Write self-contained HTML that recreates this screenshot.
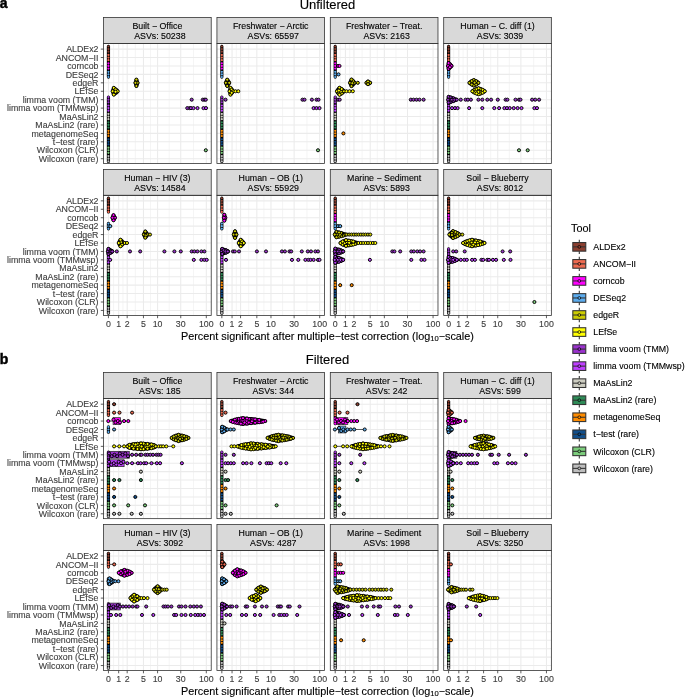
<!DOCTYPE html>
<html><head><meta charset="utf-8"><style>
html,body{margin:0;padding:0;background:#fff;width:685px;height:697px;overflow:hidden}
svg{display:block;font-family:"Liberation Sans",sans-serif;will-change:transform;filter:blur(0.3px)}
</style></head><body>
<svg width="685" height="697" viewBox="0 0 685 697" font-family="Liberation Sans, sans-serif">
<rect width="685" height="697" fill="#fff"/>
<text x="-0.3" y="7.9" font-size="14" font-weight="bold" fill="#000" stroke="#000" stroke-width="0.45">a</text>
<text x="-0.3" y="363.60" font-size="14" font-weight="bold" fill="#000" stroke="#000" stroke-width="0.45">b</text>
<text x="327.45" y="9.1" text-anchor="middle" font-size="13.0" fill="#000" stroke="#000" stroke-width="0.12">Unfiltered</text>
<text x="327.45" y="364.20" text-anchor="middle" font-size="13.0" fill="#000" stroke="#000" stroke-width="0.12">Filtered</text>
<rect x="103.55" y="43.45" width="107.67" height="120.10" fill="#fff"/>
<line x1="113.56" y1="43.45" x2="113.56" y2="163.55" stroke="#EBEBEB" stroke-width="0.55"/>
<line x1="122.93" y1="43.45" x2="122.93" y2="163.55" stroke="#EBEBEB" stroke-width="0.55"/>
<line x1="135.32" y1="43.45" x2="135.32" y2="163.55" stroke="#EBEBEB" stroke-width="0.55"/>
<line x1="150.52" y1="43.45" x2="150.52" y2="163.55" stroke="#EBEBEB" stroke-width="0.55"/>
<line x1="169.17" y1="43.45" x2="169.17" y2="163.55" stroke="#EBEBEB" stroke-width="0.55"/>
<line x1="193.53" y1="43.45" x2="193.53" y2="163.55" stroke="#EBEBEB" stroke-width="0.55"/>
<line x1="103.55" y1="49.10" x2="211.22" y2="49.10" stroke="#EBEBEB" stroke-width="1.07"/>
<line x1="103.55" y1="57.53" x2="211.22" y2="57.53" stroke="#EBEBEB" stroke-width="1.07"/>
<line x1="103.55" y1="65.96" x2="211.22" y2="65.96" stroke="#EBEBEB" stroke-width="1.07"/>
<line x1="103.55" y1="74.39" x2="211.22" y2="74.39" stroke="#EBEBEB" stroke-width="1.07"/>
<line x1="103.55" y1="82.82" x2="211.22" y2="82.82" stroke="#EBEBEB" stroke-width="1.07"/>
<line x1="103.55" y1="91.25" x2="211.22" y2="91.25" stroke="#EBEBEB" stroke-width="1.07"/>
<line x1="103.55" y1="99.68" x2="211.22" y2="99.68" stroke="#EBEBEB" stroke-width="1.07"/>
<line x1="103.55" y1="108.11" x2="211.22" y2="108.11" stroke="#EBEBEB" stroke-width="1.07"/>
<line x1="103.55" y1="116.54" x2="211.22" y2="116.54" stroke="#EBEBEB" stroke-width="1.07"/>
<line x1="103.55" y1="124.97" x2="211.22" y2="124.97" stroke="#EBEBEB" stroke-width="1.07"/>
<line x1="103.55" y1="133.40" x2="211.22" y2="133.40" stroke="#EBEBEB" stroke-width="1.07"/>
<line x1="103.55" y1="141.83" x2="211.22" y2="141.83" stroke="#EBEBEB" stroke-width="1.07"/>
<line x1="103.55" y1="150.26" x2="211.22" y2="150.26" stroke="#EBEBEB" stroke-width="1.07"/>
<line x1="103.55" y1="158.69" x2="211.22" y2="158.69" stroke="#EBEBEB" stroke-width="1.07"/>
<line x1="108.45" y1="43.45" x2="108.45" y2="163.55" stroke="#EBEBEB" stroke-width="1.07"/>
<line x1="118.68" y1="43.45" x2="118.68" y2="163.55" stroke="#EBEBEB" stroke-width="1.07"/>
<line x1="127.18" y1="43.45" x2="127.18" y2="163.55" stroke="#EBEBEB" stroke-width="1.07"/>
<line x1="143.45" y1="43.45" x2="143.45" y2="163.55" stroke="#EBEBEB" stroke-width="1.07"/>
<line x1="157.59" y1="43.45" x2="157.59" y2="163.55" stroke="#EBEBEB" stroke-width="1.07"/>
<line x1="180.75" y1="43.45" x2="180.75" y2="163.55" stroke="#EBEBEB" stroke-width="1.07"/>
<line x1="206.31" y1="43.45" x2="206.31" y2="163.55" stroke="#EBEBEB" stroke-width="1.07"/>
<rect x="103.55" y="17.45" width="107.67" height="25.95" fill="#D9D9D9" stroke="#333" stroke-width="0.8"/>
<text x="157.38" y="29.20" text-anchor="middle" font-size="8.8" fill="#000" stroke="#000" stroke-width="0.12">Built − Office</text>
<text x="159.88" y="38.60" text-anchor="middle" font-size="8.8" fill="#000" stroke="#000" stroke-width="0.12">ASVs: 50238</text>
<rect x="216.93" y="43.45" width="107.67" height="120.10" fill="#fff"/>
<line x1="226.94" y1="43.45" x2="226.94" y2="163.55" stroke="#EBEBEB" stroke-width="0.55"/>
<line x1="236.31" y1="43.45" x2="236.31" y2="163.55" stroke="#EBEBEB" stroke-width="0.55"/>
<line x1="248.70" y1="43.45" x2="248.70" y2="163.55" stroke="#EBEBEB" stroke-width="0.55"/>
<line x1="263.90" y1="43.45" x2="263.90" y2="163.55" stroke="#EBEBEB" stroke-width="0.55"/>
<line x1="282.55" y1="43.45" x2="282.55" y2="163.55" stroke="#EBEBEB" stroke-width="0.55"/>
<line x1="306.91" y1="43.45" x2="306.91" y2="163.55" stroke="#EBEBEB" stroke-width="0.55"/>
<line x1="216.93" y1="49.10" x2="324.60" y2="49.10" stroke="#EBEBEB" stroke-width="1.07"/>
<line x1="216.93" y1="57.53" x2="324.60" y2="57.53" stroke="#EBEBEB" stroke-width="1.07"/>
<line x1="216.93" y1="65.96" x2="324.60" y2="65.96" stroke="#EBEBEB" stroke-width="1.07"/>
<line x1="216.93" y1="74.39" x2="324.60" y2="74.39" stroke="#EBEBEB" stroke-width="1.07"/>
<line x1="216.93" y1="82.82" x2="324.60" y2="82.82" stroke="#EBEBEB" stroke-width="1.07"/>
<line x1="216.93" y1="91.25" x2="324.60" y2="91.25" stroke="#EBEBEB" stroke-width="1.07"/>
<line x1="216.93" y1="99.68" x2="324.60" y2="99.68" stroke="#EBEBEB" stroke-width="1.07"/>
<line x1="216.93" y1="108.11" x2="324.60" y2="108.11" stroke="#EBEBEB" stroke-width="1.07"/>
<line x1="216.93" y1="116.54" x2="324.60" y2="116.54" stroke="#EBEBEB" stroke-width="1.07"/>
<line x1="216.93" y1="124.97" x2="324.60" y2="124.97" stroke="#EBEBEB" stroke-width="1.07"/>
<line x1="216.93" y1="133.40" x2="324.60" y2="133.40" stroke="#EBEBEB" stroke-width="1.07"/>
<line x1="216.93" y1="141.83" x2="324.60" y2="141.83" stroke="#EBEBEB" stroke-width="1.07"/>
<line x1="216.93" y1="150.26" x2="324.60" y2="150.26" stroke="#EBEBEB" stroke-width="1.07"/>
<line x1="216.93" y1="158.69" x2="324.60" y2="158.69" stroke="#EBEBEB" stroke-width="1.07"/>
<line x1="221.83" y1="43.45" x2="221.83" y2="163.55" stroke="#EBEBEB" stroke-width="1.07"/>
<line x1="232.06" y1="43.45" x2="232.06" y2="163.55" stroke="#EBEBEB" stroke-width="1.07"/>
<line x1="240.56" y1="43.45" x2="240.56" y2="163.55" stroke="#EBEBEB" stroke-width="1.07"/>
<line x1="256.83" y1="43.45" x2="256.83" y2="163.55" stroke="#EBEBEB" stroke-width="1.07"/>
<line x1="270.97" y1="43.45" x2="270.97" y2="163.55" stroke="#EBEBEB" stroke-width="1.07"/>
<line x1="294.13" y1="43.45" x2="294.13" y2="163.55" stroke="#EBEBEB" stroke-width="1.07"/>
<line x1="319.69" y1="43.45" x2="319.69" y2="163.55" stroke="#EBEBEB" stroke-width="1.07"/>
<rect x="216.93" y="17.45" width="107.67" height="25.95" fill="#D9D9D9" stroke="#333" stroke-width="0.8"/>
<text x="270.76" y="29.20" text-anchor="middle" font-size="8.8" fill="#000" stroke="#000" stroke-width="0.12">Freshwater − Arctic</text>
<text x="273.26" y="38.60" text-anchor="middle" font-size="8.8" fill="#000" stroke="#000" stroke-width="0.12">ASVs: 65597</text>
<rect x="330.31" y="43.45" width="107.67" height="120.10" fill="#fff"/>
<line x1="340.32" y1="43.45" x2="340.32" y2="163.55" stroke="#EBEBEB" stroke-width="0.55"/>
<line x1="349.69" y1="43.45" x2="349.69" y2="163.55" stroke="#EBEBEB" stroke-width="0.55"/>
<line x1="362.08" y1="43.45" x2="362.08" y2="163.55" stroke="#EBEBEB" stroke-width="0.55"/>
<line x1="377.28" y1="43.45" x2="377.28" y2="163.55" stroke="#EBEBEB" stroke-width="0.55"/>
<line x1="395.93" y1="43.45" x2="395.93" y2="163.55" stroke="#EBEBEB" stroke-width="0.55"/>
<line x1="420.29" y1="43.45" x2="420.29" y2="163.55" stroke="#EBEBEB" stroke-width="0.55"/>
<line x1="330.31" y1="49.10" x2="437.98" y2="49.10" stroke="#EBEBEB" stroke-width="1.07"/>
<line x1="330.31" y1="57.53" x2="437.98" y2="57.53" stroke="#EBEBEB" stroke-width="1.07"/>
<line x1="330.31" y1="65.96" x2="437.98" y2="65.96" stroke="#EBEBEB" stroke-width="1.07"/>
<line x1="330.31" y1="74.39" x2="437.98" y2="74.39" stroke="#EBEBEB" stroke-width="1.07"/>
<line x1="330.31" y1="82.82" x2="437.98" y2="82.82" stroke="#EBEBEB" stroke-width="1.07"/>
<line x1="330.31" y1="91.25" x2="437.98" y2="91.25" stroke="#EBEBEB" stroke-width="1.07"/>
<line x1="330.31" y1="99.68" x2="437.98" y2="99.68" stroke="#EBEBEB" stroke-width="1.07"/>
<line x1="330.31" y1="108.11" x2="437.98" y2="108.11" stroke="#EBEBEB" stroke-width="1.07"/>
<line x1="330.31" y1="116.54" x2="437.98" y2="116.54" stroke="#EBEBEB" stroke-width="1.07"/>
<line x1="330.31" y1="124.97" x2="437.98" y2="124.97" stroke="#EBEBEB" stroke-width="1.07"/>
<line x1="330.31" y1="133.40" x2="437.98" y2="133.40" stroke="#EBEBEB" stroke-width="1.07"/>
<line x1="330.31" y1="141.83" x2="437.98" y2="141.83" stroke="#EBEBEB" stroke-width="1.07"/>
<line x1="330.31" y1="150.26" x2="437.98" y2="150.26" stroke="#EBEBEB" stroke-width="1.07"/>
<line x1="330.31" y1="158.69" x2="437.98" y2="158.69" stroke="#EBEBEB" stroke-width="1.07"/>
<line x1="335.21" y1="43.45" x2="335.21" y2="163.55" stroke="#EBEBEB" stroke-width="1.07"/>
<line x1="345.44" y1="43.45" x2="345.44" y2="163.55" stroke="#EBEBEB" stroke-width="1.07"/>
<line x1="353.94" y1="43.45" x2="353.94" y2="163.55" stroke="#EBEBEB" stroke-width="1.07"/>
<line x1="370.21" y1="43.45" x2="370.21" y2="163.55" stroke="#EBEBEB" stroke-width="1.07"/>
<line x1="384.35" y1="43.45" x2="384.35" y2="163.55" stroke="#EBEBEB" stroke-width="1.07"/>
<line x1="407.51" y1="43.45" x2="407.51" y2="163.55" stroke="#EBEBEB" stroke-width="1.07"/>
<line x1="433.07" y1="43.45" x2="433.07" y2="163.55" stroke="#EBEBEB" stroke-width="1.07"/>
<rect x="330.31" y="17.45" width="107.67" height="25.95" fill="#D9D9D9" stroke="#333" stroke-width="0.8"/>
<text x="384.14" y="29.20" text-anchor="middle" font-size="8.8" fill="#000" stroke="#000" stroke-width="0.12">Freshwater − Treat.</text>
<text x="386.64" y="38.60" text-anchor="middle" font-size="8.8" fill="#000" stroke="#000" stroke-width="0.12">ASVs: 2163</text>
<rect x="443.69" y="43.45" width="107.67" height="120.10" fill="#fff"/>
<line x1="453.70" y1="43.45" x2="453.70" y2="163.55" stroke="#EBEBEB" stroke-width="0.55"/>
<line x1="463.07" y1="43.45" x2="463.07" y2="163.55" stroke="#EBEBEB" stroke-width="0.55"/>
<line x1="475.46" y1="43.45" x2="475.46" y2="163.55" stroke="#EBEBEB" stroke-width="0.55"/>
<line x1="490.66" y1="43.45" x2="490.66" y2="163.55" stroke="#EBEBEB" stroke-width="0.55"/>
<line x1="509.31" y1="43.45" x2="509.31" y2="163.55" stroke="#EBEBEB" stroke-width="0.55"/>
<line x1="533.67" y1="43.45" x2="533.67" y2="163.55" stroke="#EBEBEB" stroke-width="0.55"/>
<line x1="443.69" y1="49.10" x2="551.36" y2="49.10" stroke="#EBEBEB" stroke-width="1.07"/>
<line x1="443.69" y1="57.53" x2="551.36" y2="57.53" stroke="#EBEBEB" stroke-width="1.07"/>
<line x1="443.69" y1="65.96" x2="551.36" y2="65.96" stroke="#EBEBEB" stroke-width="1.07"/>
<line x1="443.69" y1="74.39" x2="551.36" y2="74.39" stroke="#EBEBEB" stroke-width="1.07"/>
<line x1="443.69" y1="82.82" x2="551.36" y2="82.82" stroke="#EBEBEB" stroke-width="1.07"/>
<line x1="443.69" y1="91.25" x2="551.36" y2="91.25" stroke="#EBEBEB" stroke-width="1.07"/>
<line x1="443.69" y1="99.68" x2="551.36" y2="99.68" stroke="#EBEBEB" stroke-width="1.07"/>
<line x1="443.69" y1="108.11" x2="551.36" y2="108.11" stroke="#EBEBEB" stroke-width="1.07"/>
<line x1="443.69" y1="116.54" x2="551.36" y2="116.54" stroke="#EBEBEB" stroke-width="1.07"/>
<line x1="443.69" y1="124.97" x2="551.36" y2="124.97" stroke="#EBEBEB" stroke-width="1.07"/>
<line x1="443.69" y1="133.40" x2="551.36" y2="133.40" stroke="#EBEBEB" stroke-width="1.07"/>
<line x1="443.69" y1="141.83" x2="551.36" y2="141.83" stroke="#EBEBEB" stroke-width="1.07"/>
<line x1="443.69" y1="150.26" x2="551.36" y2="150.26" stroke="#EBEBEB" stroke-width="1.07"/>
<line x1="443.69" y1="158.69" x2="551.36" y2="158.69" stroke="#EBEBEB" stroke-width="1.07"/>
<line x1="448.59" y1="43.45" x2="448.59" y2="163.55" stroke="#EBEBEB" stroke-width="1.07"/>
<line x1="458.82" y1="43.45" x2="458.82" y2="163.55" stroke="#EBEBEB" stroke-width="1.07"/>
<line x1="467.32" y1="43.45" x2="467.32" y2="163.55" stroke="#EBEBEB" stroke-width="1.07"/>
<line x1="483.59" y1="43.45" x2="483.59" y2="163.55" stroke="#EBEBEB" stroke-width="1.07"/>
<line x1="497.73" y1="43.45" x2="497.73" y2="163.55" stroke="#EBEBEB" stroke-width="1.07"/>
<line x1="520.89" y1="43.45" x2="520.89" y2="163.55" stroke="#EBEBEB" stroke-width="1.07"/>
<line x1="546.45" y1="43.45" x2="546.45" y2="163.55" stroke="#EBEBEB" stroke-width="1.07"/>
<rect x="443.69" y="17.45" width="107.67" height="25.95" fill="#D9D9D9" stroke="#333" stroke-width="0.8"/>
<text x="497.52" y="29.20" text-anchor="middle" font-size="8.8" fill="#000" stroke="#000" stroke-width="0.12">Human − C. diff (1)</text>
<text x="500.02" y="38.60" text-anchor="middle" font-size="8.8" fill="#000" stroke="#000" stroke-width="0.12">ASVs: 3039</text>
<rect x="103.55" y="195.30" width="107.67" height="120.15" fill="#fff"/>
<line x1="113.56" y1="195.30" x2="113.56" y2="315.45" stroke="#EBEBEB" stroke-width="0.55"/>
<line x1="122.93" y1="195.30" x2="122.93" y2="315.45" stroke="#EBEBEB" stroke-width="0.55"/>
<line x1="135.32" y1="195.30" x2="135.32" y2="315.45" stroke="#EBEBEB" stroke-width="0.55"/>
<line x1="150.52" y1="195.30" x2="150.52" y2="315.45" stroke="#EBEBEB" stroke-width="0.55"/>
<line x1="169.17" y1="195.30" x2="169.17" y2="315.45" stroke="#EBEBEB" stroke-width="0.55"/>
<line x1="193.53" y1="195.30" x2="193.53" y2="315.45" stroke="#EBEBEB" stroke-width="0.55"/>
<line x1="103.55" y1="200.85" x2="211.22" y2="200.85" stroke="#EBEBEB" stroke-width="1.07"/>
<line x1="103.55" y1="209.28" x2="211.22" y2="209.28" stroke="#EBEBEB" stroke-width="1.07"/>
<line x1="103.55" y1="217.71" x2="211.22" y2="217.71" stroke="#EBEBEB" stroke-width="1.07"/>
<line x1="103.55" y1="226.14" x2="211.22" y2="226.14" stroke="#EBEBEB" stroke-width="1.07"/>
<line x1="103.55" y1="234.57" x2="211.22" y2="234.57" stroke="#EBEBEB" stroke-width="1.07"/>
<line x1="103.55" y1="243.00" x2="211.22" y2="243.00" stroke="#EBEBEB" stroke-width="1.07"/>
<line x1="103.55" y1="251.43" x2="211.22" y2="251.43" stroke="#EBEBEB" stroke-width="1.07"/>
<line x1="103.55" y1="259.86" x2="211.22" y2="259.86" stroke="#EBEBEB" stroke-width="1.07"/>
<line x1="103.55" y1="268.29" x2="211.22" y2="268.29" stroke="#EBEBEB" stroke-width="1.07"/>
<line x1="103.55" y1="276.72" x2="211.22" y2="276.72" stroke="#EBEBEB" stroke-width="1.07"/>
<line x1="103.55" y1="285.15" x2="211.22" y2="285.15" stroke="#EBEBEB" stroke-width="1.07"/>
<line x1="103.55" y1="293.58" x2="211.22" y2="293.58" stroke="#EBEBEB" stroke-width="1.07"/>
<line x1="103.55" y1="302.01" x2="211.22" y2="302.01" stroke="#EBEBEB" stroke-width="1.07"/>
<line x1="103.55" y1="310.44" x2="211.22" y2="310.44" stroke="#EBEBEB" stroke-width="1.07"/>
<line x1="108.45" y1="195.30" x2="108.45" y2="315.45" stroke="#EBEBEB" stroke-width="1.07"/>
<line x1="118.68" y1="195.30" x2="118.68" y2="315.45" stroke="#EBEBEB" stroke-width="1.07"/>
<line x1="127.18" y1="195.30" x2="127.18" y2="315.45" stroke="#EBEBEB" stroke-width="1.07"/>
<line x1="143.45" y1="195.30" x2="143.45" y2="315.45" stroke="#EBEBEB" stroke-width="1.07"/>
<line x1="157.59" y1="195.30" x2="157.59" y2="315.45" stroke="#EBEBEB" stroke-width="1.07"/>
<line x1="180.75" y1="195.30" x2="180.75" y2="315.45" stroke="#EBEBEB" stroke-width="1.07"/>
<line x1="206.31" y1="195.30" x2="206.31" y2="315.45" stroke="#EBEBEB" stroke-width="1.07"/>
<rect x="103.55" y="169.40" width="107.67" height="25.95" fill="#D9D9D9" stroke="#333" stroke-width="0.8"/>
<text x="157.38" y="181.15" text-anchor="middle" font-size="8.8" fill="#000" stroke="#000" stroke-width="0.12">Human − HIV (3)</text>
<text x="159.88" y="190.55" text-anchor="middle" font-size="8.8" fill="#000" stroke="#000" stroke-width="0.12">ASVs: 14584</text>
<rect x="216.93" y="195.30" width="107.67" height="120.15" fill="#fff"/>
<line x1="226.94" y1="195.30" x2="226.94" y2="315.45" stroke="#EBEBEB" stroke-width="0.55"/>
<line x1="236.31" y1="195.30" x2="236.31" y2="315.45" stroke="#EBEBEB" stroke-width="0.55"/>
<line x1="248.70" y1="195.30" x2="248.70" y2="315.45" stroke="#EBEBEB" stroke-width="0.55"/>
<line x1="263.90" y1="195.30" x2="263.90" y2="315.45" stroke="#EBEBEB" stroke-width="0.55"/>
<line x1="282.55" y1="195.30" x2="282.55" y2="315.45" stroke="#EBEBEB" stroke-width="0.55"/>
<line x1="306.91" y1="195.30" x2="306.91" y2="315.45" stroke="#EBEBEB" stroke-width="0.55"/>
<line x1="216.93" y1="200.85" x2="324.60" y2="200.85" stroke="#EBEBEB" stroke-width="1.07"/>
<line x1="216.93" y1="209.28" x2="324.60" y2="209.28" stroke="#EBEBEB" stroke-width="1.07"/>
<line x1="216.93" y1="217.71" x2="324.60" y2="217.71" stroke="#EBEBEB" stroke-width="1.07"/>
<line x1="216.93" y1="226.14" x2="324.60" y2="226.14" stroke="#EBEBEB" stroke-width="1.07"/>
<line x1="216.93" y1="234.57" x2="324.60" y2="234.57" stroke="#EBEBEB" stroke-width="1.07"/>
<line x1="216.93" y1="243.00" x2="324.60" y2="243.00" stroke="#EBEBEB" stroke-width="1.07"/>
<line x1="216.93" y1="251.43" x2="324.60" y2="251.43" stroke="#EBEBEB" stroke-width="1.07"/>
<line x1="216.93" y1="259.86" x2="324.60" y2="259.86" stroke="#EBEBEB" stroke-width="1.07"/>
<line x1="216.93" y1="268.29" x2="324.60" y2="268.29" stroke="#EBEBEB" stroke-width="1.07"/>
<line x1="216.93" y1="276.72" x2="324.60" y2="276.72" stroke="#EBEBEB" stroke-width="1.07"/>
<line x1="216.93" y1="285.15" x2="324.60" y2="285.15" stroke="#EBEBEB" stroke-width="1.07"/>
<line x1="216.93" y1="293.58" x2="324.60" y2="293.58" stroke="#EBEBEB" stroke-width="1.07"/>
<line x1="216.93" y1="302.01" x2="324.60" y2="302.01" stroke="#EBEBEB" stroke-width="1.07"/>
<line x1="216.93" y1="310.44" x2="324.60" y2="310.44" stroke="#EBEBEB" stroke-width="1.07"/>
<line x1="221.83" y1="195.30" x2="221.83" y2="315.45" stroke="#EBEBEB" stroke-width="1.07"/>
<line x1="232.06" y1="195.30" x2="232.06" y2="315.45" stroke="#EBEBEB" stroke-width="1.07"/>
<line x1="240.56" y1="195.30" x2="240.56" y2="315.45" stroke="#EBEBEB" stroke-width="1.07"/>
<line x1="256.83" y1="195.30" x2="256.83" y2="315.45" stroke="#EBEBEB" stroke-width="1.07"/>
<line x1="270.97" y1="195.30" x2="270.97" y2="315.45" stroke="#EBEBEB" stroke-width="1.07"/>
<line x1="294.13" y1="195.30" x2="294.13" y2="315.45" stroke="#EBEBEB" stroke-width="1.07"/>
<line x1="319.69" y1="195.30" x2="319.69" y2="315.45" stroke="#EBEBEB" stroke-width="1.07"/>
<rect x="216.93" y="169.40" width="107.67" height="25.95" fill="#D9D9D9" stroke="#333" stroke-width="0.8"/>
<text x="270.76" y="181.15" text-anchor="middle" font-size="8.8" fill="#000" stroke="#000" stroke-width="0.12">Human − OB (1)</text>
<text x="273.26" y="190.55" text-anchor="middle" font-size="8.8" fill="#000" stroke="#000" stroke-width="0.12">ASVs: 55929</text>
<rect x="330.31" y="195.30" width="107.67" height="120.15" fill="#fff"/>
<line x1="340.32" y1="195.30" x2="340.32" y2="315.45" stroke="#EBEBEB" stroke-width="0.55"/>
<line x1="349.69" y1="195.30" x2="349.69" y2="315.45" stroke="#EBEBEB" stroke-width="0.55"/>
<line x1="362.08" y1="195.30" x2="362.08" y2="315.45" stroke="#EBEBEB" stroke-width="0.55"/>
<line x1="377.28" y1="195.30" x2="377.28" y2="315.45" stroke="#EBEBEB" stroke-width="0.55"/>
<line x1="395.93" y1="195.30" x2="395.93" y2="315.45" stroke="#EBEBEB" stroke-width="0.55"/>
<line x1="420.29" y1="195.30" x2="420.29" y2="315.45" stroke="#EBEBEB" stroke-width="0.55"/>
<line x1="330.31" y1="200.85" x2="437.98" y2="200.85" stroke="#EBEBEB" stroke-width="1.07"/>
<line x1="330.31" y1="209.28" x2="437.98" y2="209.28" stroke="#EBEBEB" stroke-width="1.07"/>
<line x1="330.31" y1="217.71" x2="437.98" y2="217.71" stroke="#EBEBEB" stroke-width="1.07"/>
<line x1="330.31" y1="226.14" x2="437.98" y2="226.14" stroke="#EBEBEB" stroke-width="1.07"/>
<line x1="330.31" y1="234.57" x2="437.98" y2="234.57" stroke="#EBEBEB" stroke-width="1.07"/>
<line x1="330.31" y1="243.00" x2="437.98" y2="243.00" stroke="#EBEBEB" stroke-width="1.07"/>
<line x1="330.31" y1="251.43" x2="437.98" y2="251.43" stroke="#EBEBEB" stroke-width="1.07"/>
<line x1="330.31" y1="259.86" x2="437.98" y2="259.86" stroke="#EBEBEB" stroke-width="1.07"/>
<line x1="330.31" y1="268.29" x2="437.98" y2="268.29" stroke="#EBEBEB" stroke-width="1.07"/>
<line x1="330.31" y1="276.72" x2="437.98" y2="276.72" stroke="#EBEBEB" stroke-width="1.07"/>
<line x1="330.31" y1="285.15" x2="437.98" y2="285.15" stroke="#EBEBEB" stroke-width="1.07"/>
<line x1="330.31" y1="293.58" x2="437.98" y2="293.58" stroke="#EBEBEB" stroke-width="1.07"/>
<line x1="330.31" y1="302.01" x2="437.98" y2="302.01" stroke="#EBEBEB" stroke-width="1.07"/>
<line x1="330.31" y1="310.44" x2="437.98" y2="310.44" stroke="#EBEBEB" stroke-width="1.07"/>
<line x1="335.21" y1="195.30" x2="335.21" y2="315.45" stroke="#EBEBEB" stroke-width="1.07"/>
<line x1="345.44" y1="195.30" x2="345.44" y2="315.45" stroke="#EBEBEB" stroke-width="1.07"/>
<line x1="353.94" y1="195.30" x2="353.94" y2="315.45" stroke="#EBEBEB" stroke-width="1.07"/>
<line x1="370.21" y1="195.30" x2="370.21" y2="315.45" stroke="#EBEBEB" stroke-width="1.07"/>
<line x1="384.35" y1="195.30" x2="384.35" y2="315.45" stroke="#EBEBEB" stroke-width="1.07"/>
<line x1="407.51" y1="195.30" x2="407.51" y2="315.45" stroke="#EBEBEB" stroke-width="1.07"/>
<line x1="433.07" y1="195.30" x2="433.07" y2="315.45" stroke="#EBEBEB" stroke-width="1.07"/>
<rect x="330.31" y="169.40" width="107.67" height="25.95" fill="#D9D9D9" stroke="#333" stroke-width="0.8"/>
<text x="384.14" y="181.15" text-anchor="middle" font-size="8.8" fill="#000" stroke="#000" stroke-width="0.12">Marine − Sediment</text>
<text x="386.64" y="190.55" text-anchor="middle" font-size="8.8" fill="#000" stroke="#000" stroke-width="0.12">ASVs: 5893</text>
<rect x="443.69" y="195.30" width="107.67" height="120.15" fill="#fff"/>
<line x1="453.70" y1="195.30" x2="453.70" y2="315.45" stroke="#EBEBEB" stroke-width="0.55"/>
<line x1="463.07" y1="195.30" x2="463.07" y2="315.45" stroke="#EBEBEB" stroke-width="0.55"/>
<line x1="475.46" y1="195.30" x2="475.46" y2="315.45" stroke="#EBEBEB" stroke-width="0.55"/>
<line x1="490.66" y1="195.30" x2="490.66" y2="315.45" stroke="#EBEBEB" stroke-width="0.55"/>
<line x1="509.31" y1="195.30" x2="509.31" y2="315.45" stroke="#EBEBEB" stroke-width="0.55"/>
<line x1="533.67" y1="195.30" x2="533.67" y2="315.45" stroke="#EBEBEB" stroke-width="0.55"/>
<line x1="443.69" y1="200.85" x2="551.36" y2="200.85" stroke="#EBEBEB" stroke-width="1.07"/>
<line x1="443.69" y1="209.28" x2="551.36" y2="209.28" stroke="#EBEBEB" stroke-width="1.07"/>
<line x1="443.69" y1="217.71" x2="551.36" y2="217.71" stroke="#EBEBEB" stroke-width="1.07"/>
<line x1="443.69" y1="226.14" x2="551.36" y2="226.14" stroke="#EBEBEB" stroke-width="1.07"/>
<line x1="443.69" y1="234.57" x2="551.36" y2="234.57" stroke="#EBEBEB" stroke-width="1.07"/>
<line x1="443.69" y1="243.00" x2="551.36" y2="243.00" stroke="#EBEBEB" stroke-width="1.07"/>
<line x1="443.69" y1="251.43" x2="551.36" y2="251.43" stroke="#EBEBEB" stroke-width="1.07"/>
<line x1="443.69" y1="259.86" x2="551.36" y2="259.86" stroke="#EBEBEB" stroke-width="1.07"/>
<line x1="443.69" y1="268.29" x2="551.36" y2="268.29" stroke="#EBEBEB" stroke-width="1.07"/>
<line x1="443.69" y1="276.72" x2="551.36" y2="276.72" stroke="#EBEBEB" stroke-width="1.07"/>
<line x1="443.69" y1="285.15" x2="551.36" y2="285.15" stroke="#EBEBEB" stroke-width="1.07"/>
<line x1="443.69" y1="293.58" x2="551.36" y2="293.58" stroke="#EBEBEB" stroke-width="1.07"/>
<line x1="443.69" y1="302.01" x2="551.36" y2="302.01" stroke="#EBEBEB" stroke-width="1.07"/>
<line x1="443.69" y1="310.44" x2="551.36" y2="310.44" stroke="#EBEBEB" stroke-width="1.07"/>
<line x1="448.59" y1="195.30" x2="448.59" y2="315.45" stroke="#EBEBEB" stroke-width="1.07"/>
<line x1="458.82" y1="195.30" x2="458.82" y2="315.45" stroke="#EBEBEB" stroke-width="1.07"/>
<line x1="467.32" y1="195.30" x2="467.32" y2="315.45" stroke="#EBEBEB" stroke-width="1.07"/>
<line x1="483.59" y1="195.30" x2="483.59" y2="315.45" stroke="#EBEBEB" stroke-width="1.07"/>
<line x1="497.73" y1="195.30" x2="497.73" y2="315.45" stroke="#EBEBEB" stroke-width="1.07"/>
<line x1="520.89" y1="195.30" x2="520.89" y2="315.45" stroke="#EBEBEB" stroke-width="1.07"/>
<line x1="546.45" y1="195.30" x2="546.45" y2="315.45" stroke="#EBEBEB" stroke-width="1.07"/>
<rect x="443.69" y="169.40" width="107.67" height="25.95" fill="#D9D9D9" stroke="#333" stroke-width="0.8"/>
<text x="497.52" y="181.15" text-anchor="middle" font-size="8.8" fill="#000" stroke="#000" stroke-width="0.12">Soil − Blueberry</text>
<text x="500.02" y="190.55" text-anchor="middle" font-size="8.8" fill="#000" stroke="#000" stroke-width="0.12">ASVs: 8012</text>
<rect x="106.85" y="44.80" width="3.2" height="33.89" rx="1.6" fill="#000"/>
<circle cx="108.45" cy="46.50" r="1.1" fill="#8B3E2F"/>
<circle cx="108.45" cy="49.10" r="1.1" fill="#8B3E2F"/>
<circle cx="108.45" cy="51.70" r="1.1" fill="#8B3E2F"/>
<circle cx="108.45" cy="54.93" r="1.1" fill="#EE6A50"/>
<circle cx="108.45" cy="57.53" r="1.1" fill="#EE6A50"/>
<circle cx="108.45" cy="60.13" r="1.1" fill="#EE6A50"/>
<circle cx="108.45" cy="63.36" r="1.1" fill="#FF00FF"/>
<circle cx="108.45" cy="65.96" r="1.1" fill="#FF00FF"/>
<circle cx="108.45" cy="68.56" r="1.1" fill="#FF00FF"/>
<circle cx="108.45" cy="71.79" r="1.1" fill="#5CACEE"/>
<circle cx="108.45" cy="74.39" r="1.1" fill="#5CACEE"/>
<circle cx="108.45" cy="76.99" r="1.1" fill="#5CACEE"/>
<rect x="106.85" y="95.38" width="3.2" height="67.61" rx="1.6" fill="#000"/>
<circle cx="108.45" cy="97.08" r="1.1" fill="#9A32CD"/>
<circle cx="108.45" cy="99.68" r="1.1" fill="#9A32CD"/>
<circle cx="108.45" cy="102.28" r="1.1" fill="#9A32CD"/>
<circle cx="108.45" cy="105.51" r="1.1" fill="#BF3EFF"/>
<circle cx="108.45" cy="108.11" r="1.1" fill="#BF3EFF"/>
<circle cx="108.45" cy="110.71" r="1.1" fill="#BF3EFF"/>
<circle cx="108.45" cy="113.94" r="1.1" fill="#CDCDC1"/>
<circle cx="108.45" cy="116.54" r="1.1" fill="#CDCDC1"/>
<circle cx="108.45" cy="119.14" r="1.1" fill="#CDCDC1"/>
<circle cx="108.45" cy="122.37" r="1.1" fill="#2E8B57"/>
<circle cx="108.45" cy="124.97" r="1.1" fill="#2E8B57"/>
<circle cx="108.45" cy="127.57" r="1.1" fill="#2E8B57"/>
<circle cx="108.45" cy="130.80" r="1.1" fill="#FF8C00"/>
<circle cx="108.45" cy="133.40" r="1.1" fill="#FF8C00"/>
<circle cx="108.45" cy="136.00" r="1.1" fill="#FF8C00"/>
<circle cx="108.45" cy="139.23" r="1.1" fill="#104E8B"/>
<circle cx="108.45" cy="141.83" r="1.1" fill="#104E8B"/>
<circle cx="108.45" cy="144.43" r="1.1" fill="#104E8B"/>
<circle cx="108.45" cy="147.66" r="1.1" fill="#7CCD7C"/>
<circle cx="108.45" cy="150.26" r="1.1" fill="#7CCD7C"/>
<circle cx="108.45" cy="152.86" r="1.1" fill="#7CCD7C"/>
<circle cx="108.45" cy="156.09" r="1.1" fill="#BEBEBE"/>
<circle cx="108.45" cy="158.69" r="1.1" fill="#BEBEBE"/>
<circle cx="108.45" cy="161.29" r="1.1" fill="#BEBEBE"/>
<polygon points="133.75,82.82 133.84,82.04 133.93,81.62 134.03,81.24 134.12,80.93 134.21,80.63 134.30,80.35 134.39,80.09 134.48,79.84 134.58,79.60 134.67,79.36 134.76,79.14 134.85,78.92 134.94,78.75 135.03,78.61 135.12,78.50 135.22,78.41 135.31,78.32 135.40,78.25 135.49,78.19 135.58,78.14 135.68,78.09 135.77,78.05 135.86,78.02 135.95,77.99 136.04,77.97 136.13,77.95 136.23,77.94 136.32,77.93 136.41,77.93 136.50,77.94 136.59,77.94 136.68,77.96 136.78,77.97 136.87,78.00 136.96,78.03 137.05,78.06 137.14,78.10 137.23,78.15 137.33,78.21 137.42,78.27 137.51,78.35 137.60,78.43 137.69,78.53 137.78,78.65 137.88,78.79 137.97,78.95 138.06,79.13 138.15,79.32 138.24,79.51 138.33,79.72 138.43,79.92 138.52,80.13 138.61,80.35 138.70,80.59 138.79,80.83 138.88,81.10 138.98,81.38 139.07,81.71 139.16,82.09 139.25,82.82 139.25,82.82 139.16,83.55 139.07,83.93 138.98,84.26 138.88,84.54 138.79,84.81 138.70,85.05 138.61,85.29 138.52,85.51 138.43,85.72 138.33,85.92 138.24,86.13 138.15,86.32 138.06,86.51 137.97,86.69 137.88,86.85 137.78,86.99 137.69,87.11 137.60,87.21 137.51,87.29 137.42,87.37 137.33,87.43 137.23,87.49 137.14,87.54 137.05,87.58 136.96,87.61 136.87,87.64 136.78,87.67 136.68,87.68 136.59,87.70 136.50,87.70 136.41,87.71 136.32,87.71 136.23,87.70 136.13,87.69 136.04,87.67 135.95,87.65 135.86,87.62 135.77,87.59 135.68,87.55 135.58,87.50 135.49,87.45 135.40,87.39 135.31,87.32 135.22,87.23 135.12,87.14 135.03,87.03 134.94,86.89 134.85,86.72 134.76,86.50 134.67,86.28 134.58,86.04 134.48,85.80 134.39,85.55 134.30,85.29 134.21,85.01 134.12,84.71 134.03,84.40 133.93,84.02 133.84,83.60 133.75,82.82" fill="#000"/>
<circle cx="137.55" cy="82.82" r="1.55" fill="#CDCD00" stroke="#000" stroke-width="0.95"/>
<circle cx="136.40" cy="79.62" r="1.55" fill="#CDCD00" stroke="#000" stroke-width="0.95"/>
<circle cx="136.40" cy="86.02" r="1.55" fill="#CDCD00" stroke="#000" stroke-width="0.95"/>
<circle cx="135.45" cy="82.82" r="1.55" fill="#CDCD00" stroke="#000" stroke-width="0.95"/>
<polygon points="110.95,91.25 111.09,90.32 111.23,89.78 111.37,89.33 111.51,88.93 111.65,88.56 111.79,88.22 111.93,87.90 112.07,87.58 112.21,87.29 112.35,87.02 112.49,86.84 112.63,86.69 112.77,86.58 112.91,86.49 113.05,86.41 113.19,86.35 113.33,86.31 113.47,86.28 113.61,86.26 113.75,86.25 113.89,86.26 114.03,86.27 114.17,86.28 114.31,86.31 114.45,86.35 114.59,86.41 114.73,86.48 114.87,86.56 115.01,86.65 115.15,86.74 115.29,86.83 115.43,86.92 115.57,87.01 115.71,87.10 115.85,87.19 115.99,87.29 116.13,87.38 116.27,87.48 116.41,87.58 116.55,87.68 116.69,87.79 116.83,87.89 116.97,88.00 117.11,88.11 117.25,88.22 117.39,88.34 117.53,88.46 117.67,88.58 117.81,88.70 117.95,88.83 118.09,88.97 118.23,89.11 118.37,89.26 118.51,89.43 118.65,89.59 118.79,89.78 118.93,89.99 119.07,90.24 119.21,90.57 119.35,91.25 119.35,91.25 119.21,91.93 119.07,92.26 118.93,92.51 118.79,92.72 118.65,92.91 118.51,93.07 118.37,93.24 118.23,93.39 118.09,93.53 117.95,93.67 117.81,93.80 117.67,93.92 117.53,94.04 117.39,94.16 117.25,94.28 117.11,94.39 116.97,94.50 116.83,94.61 116.69,94.71 116.55,94.82 116.41,94.92 116.27,95.02 116.13,95.12 115.99,95.21 115.85,95.31 115.71,95.40 115.57,95.49 115.43,95.58 115.29,95.67 115.15,95.76 115.01,95.85 114.87,95.94 114.73,96.02 114.59,96.09 114.45,96.15 114.31,96.19 114.17,96.22 114.03,96.23 113.89,96.24 113.75,96.25 113.61,96.24 113.47,96.22 113.33,96.19 113.19,96.15 113.05,96.09 112.91,96.01 112.77,95.92 112.63,95.81 112.49,95.66 112.35,95.48 112.21,95.21 112.07,94.92 111.93,94.60 111.79,94.28 111.65,93.94 111.51,93.57 111.37,93.17 111.23,92.72 111.09,92.18 110.95,91.25" fill="#000"/>
<circle cx="113.80" cy="87.90" r="1.55" fill="#FFFF00" stroke="#000" stroke-width="0.95"/>
<circle cx="115.65" cy="89.60" r="1.55" fill="#FFFF00" stroke="#000" stroke-width="0.95"/>
<circle cx="112.65" cy="91.25" r="1.55" fill="#FFFF00" stroke="#000" stroke-width="0.95"/>
<circle cx="117.65" cy="91.25" r="1.55" fill="#FFFF00" stroke="#000" stroke-width="0.95"/>
<circle cx="113.80" cy="94.60" r="1.55" fill="#FFFF00" stroke="#000" stroke-width="0.95"/>
<circle cx="115.55" cy="91.77" r="1.55" fill="#FFFF00" stroke="#000" stroke-width="0.95"/>
<circle cx="191.70" cy="99.68" r="1.55" fill="#9A32CD" stroke="#000" stroke-width="0.95"/>
<circle cx="202.80" cy="99.68" r="1.55" fill="#9A32CD" stroke="#000" stroke-width="0.95"/>
<circle cx="204.50" cy="99.68" r="1.55" fill="#9A32CD" stroke="#000" stroke-width="0.95"/>
<circle cx="205.80" cy="99.68" r="1.55" fill="#9A32CD" stroke="#000" stroke-width="0.95"/>
<circle cx="187.30" cy="108.11" r="1.55" fill="#BF3EFF" stroke="#000" stroke-width="0.95"/>
<circle cx="189.50" cy="108.11" r="1.55" fill="#BF3EFF" stroke="#000" stroke-width="0.95"/>
<circle cx="191.00" cy="108.11" r="1.55" fill="#BF3EFF" stroke="#000" stroke-width="0.95"/>
<circle cx="193.50" cy="108.11" r="1.55" fill="#BF3EFF" stroke="#000" stroke-width="0.95"/>
<circle cx="197.50" cy="108.11" r="1.55" fill="#BF3EFF" stroke="#000" stroke-width="0.95"/>
<circle cx="203.50" cy="108.11" r="1.55" fill="#BF3EFF" stroke="#000" stroke-width="0.95"/>
<circle cx="206.00" cy="108.11" r="1.55" fill="#BF3EFF" stroke="#000" stroke-width="0.95"/>
<circle cx="205.80" cy="150.26" r="1.55" fill="#7CCD7C" stroke="#000" stroke-width="0.95"/>
<rect x="220.23" y="44.80" width="3.2" height="33.89" rx="1.6" fill="#000"/>
<circle cx="221.83" cy="46.50" r="1.1" fill="#8B3E2F"/>
<circle cx="221.83" cy="49.10" r="1.1" fill="#8B3E2F"/>
<circle cx="221.83" cy="51.70" r="1.1" fill="#8B3E2F"/>
<circle cx="221.83" cy="54.93" r="1.1" fill="#EE6A50"/>
<circle cx="221.83" cy="57.53" r="1.1" fill="#EE6A50"/>
<circle cx="221.83" cy="60.13" r="1.1" fill="#EE6A50"/>
<circle cx="221.83" cy="63.36" r="1.1" fill="#FF00FF"/>
<circle cx="221.83" cy="65.96" r="1.1" fill="#FF00FF"/>
<circle cx="221.83" cy="68.56" r="1.1" fill="#FF00FF"/>
<circle cx="221.83" cy="71.79" r="1.1" fill="#5CACEE"/>
<circle cx="221.83" cy="74.39" r="1.1" fill="#5CACEE"/>
<circle cx="221.83" cy="76.99" r="1.1" fill="#5CACEE"/>
<rect x="220.23" y="95.38" width="3.2" height="67.61" rx="1.6" fill="#000"/>
<circle cx="221.83" cy="97.08" r="1.1" fill="#9A32CD"/>
<circle cx="221.83" cy="99.68" r="1.1" fill="#9A32CD"/>
<circle cx="221.83" cy="102.28" r="1.1" fill="#9A32CD"/>
<circle cx="221.83" cy="105.51" r="1.1" fill="#BF3EFF"/>
<circle cx="221.83" cy="108.11" r="1.1" fill="#BF3EFF"/>
<circle cx="221.83" cy="110.71" r="1.1" fill="#BF3EFF"/>
<circle cx="221.83" cy="113.94" r="1.1" fill="#CDCDC1"/>
<circle cx="221.83" cy="116.54" r="1.1" fill="#CDCDC1"/>
<circle cx="221.83" cy="119.14" r="1.1" fill="#CDCDC1"/>
<circle cx="221.83" cy="122.37" r="1.1" fill="#2E8B57"/>
<circle cx="221.83" cy="124.97" r="1.1" fill="#2E8B57"/>
<circle cx="221.83" cy="127.57" r="1.1" fill="#2E8B57"/>
<circle cx="221.83" cy="130.80" r="1.1" fill="#FF8C00"/>
<circle cx="221.83" cy="133.40" r="1.1" fill="#FF8C00"/>
<circle cx="221.83" cy="136.00" r="1.1" fill="#FF8C00"/>
<circle cx="221.83" cy="139.23" r="1.1" fill="#104E8B"/>
<circle cx="221.83" cy="141.83" r="1.1" fill="#104E8B"/>
<circle cx="221.83" cy="144.43" r="1.1" fill="#104E8B"/>
<circle cx="221.83" cy="147.66" r="1.1" fill="#7CCD7C"/>
<circle cx="221.83" cy="150.26" r="1.1" fill="#7CCD7C"/>
<circle cx="221.83" cy="152.86" r="1.1" fill="#7CCD7C"/>
<circle cx="221.83" cy="156.09" r="1.1" fill="#BEBEBE"/>
<circle cx="221.83" cy="158.69" r="1.1" fill="#BEBEBE"/>
<circle cx="221.83" cy="161.29" r="1.1" fill="#BEBEBE"/>
<polygon points="224.10,82.82 224.21,82.07 224.33,81.66 224.44,81.33 224.56,81.03 224.67,80.76 224.78,80.51 224.90,80.28 225.01,80.06 225.13,79.85 225.24,79.63 225.36,79.43 225.47,79.24 225.58,79.05 225.70,78.87 225.81,78.69 225.93,78.55 226.04,78.44 226.16,78.35 226.27,78.27 226.38,78.20 226.50,78.14 226.61,78.10 226.73,78.06 226.84,78.04 226.95,78.02 227.07,78.01 227.18,78.00 227.30,78.01 227.41,78.02 227.53,78.04 227.64,78.06 227.75,78.10 227.87,78.15 227.98,78.20 228.10,78.26 228.21,78.33 228.32,78.41 228.44,78.51 228.55,78.63 228.67,78.76 228.78,78.88 228.90,79.01 229.01,79.15 229.12,79.28 229.24,79.42 229.35,79.56 229.47,79.71 229.58,79.85 229.69,80.01 229.81,80.17 229.92,80.33 230.04,80.50 230.15,80.68 230.27,80.87 230.38,81.07 230.49,81.28 230.61,81.52 230.72,81.80 230.84,82.17 230.95,82.82 230.95,82.82 230.84,83.47 230.72,83.84 230.61,84.12 230.49,84.36 230.38,84.57 230.27,84.77 230.15,84.96 230.04,85.14 229.92,85.31 229.81,85.47 229.69,85.63 229.58,85.79 229.47,85.93 229.35,86.08 229.24,86.22 229.12,86.36 229.01,86.49 228.90,86.63 228.78,86.76 228.67,86.88 228.55,87.01 228.44,87.13 228.32,87.23 228.21,87.31 228.10,87.38 227.98,87.44 227.87,87.49 227.75,87.54 227.64,87.58 227.53,87.60 227.41,87.62 227.30,87.63 227.18,87.64 227.07,87.63 226.95,87.62 226.84,87.60 226.73,87.58 226.61,87.54 226.50,87.50 226.38,87.44 226.27,87.37 226.16,87.29 226.04,87.20 225.93,87.09 225.81,86.95 225.70,86.77 225.58,86.59 225.47,86.40 225.36,86.21 225.24,86.01 225.13,85.79 225.01,85.58 224.90,85.36 224.78,85.13 224.67,84.88 224.56,84.61 224.44,84.31 224.33,83.98 224.21,83.57 224.10,82.82" fill="#000"/>
<circle cx="225.80" cy="82.82" r="1.55" fill="#CDCD00" stroke="#000" stroke-width="0.95"/>
<circle cx="229.25" cy="82.82" r="1.55" fill="#CDCD00" stroke="#000" stroke-width="0.95"/>
<circle cx="227.20" cy="85.97" r="1.55" fill="#CDCD00" stroke="#000" stroke-width="0.95"/>
<circle cx="227.20" cy="79.67" r="1.55" fill="#CDCD00" stroke="#000" stroke-width="0.95"/>
<polygon points="227.85,91.25 227.97,90.31 228.08,89.80 228.19,89.37 228.31,88.98 228.42,88.63 228.54,88.28 228.66,87.96 228.77,87.65 228.88,87.37 229.00,87.14 229.12,86.94 229.23,86.80 229.34,86.68 229.46,86.58 229.57,86.49 229.69,86.42 229.81,86.37 229.92,86.32 230.03,86.28 230.15,86.25 230.27,86.23 230.38,86.22 230.50,86.21 230.61,86.21 230.72,86.22 230.84,86.24 230.96,86.27 231.07,86.31 231.19,86.35 231.30,86.40 231.42,86.47 231.53,86.55 231.65,86.64 231.76,86.75 231.88,86.86 231.99,86.97 232.11,87.08 232.22,87.19 232.34,87.30 232.45,87.42 232.57,87.54 232.68,87.66 232.80,87.78 232.91,87.91 233.03,88.04 233.14,88.17 233.26,88.30 233.37,88.44 233.49,88.58 233.60,88.73 233.72,88.88 233.83,89.04 233.95,89.21 234.06,89.38 234.18,89.57 234.29,89.77 234.41,90.00 234.52,90.25 234.64,90.63 234.75,91.25 234.75,91.25 234.64,91.87 234.52,92.25 234.41,92.50 234.29,92.73 234.18,92.93 234.06,93.12 233.95,93.29 233.83,93.46 233.72,93.62 233.60,93.77 233.49,93.92 233.37,94.06 233.26,94.20 233.14,94.33 233.03,94.46 232.91,94.59 232.80,94.72 232.68,94.84 232.57,94.96 232.45,95.08 232.34,95.20 232.22,95.31 232.11,95.42 231.99,95.53 231.88,95.64 231.76,95.75 231.65,95.86 231.53,95.95 231.42,96.03 231.30,96.10 231.19,96.15 231.07,96.19 230.96,96.23 230.84,96.26 230.72,96.28 230.61,96.29 230.50,96.29 230.38,96.28 230.27,96.27 230.15,96.25 230.03,96.22 229.92,96.18 229.81,96.13 229.69,96.08 229.57,96.01 229.46,95.92 229.34,95.82 229.23,95.70 229.12,95.56 229.00,95.36 228.88,95.13 228.77,94.85 228.66,94.54 228.54,94.22 228.42,93.87 228.31,93.52 228.19,93.13 228.08,92.70 227.97,92.19 227.85,91.25" fill="#000"/>
<circle cx="229.55" cy="91.25" r="1.55" fill="#FFFF00" stroke="#000" stroke-width="0.95"/>
<circle cx="230.50" cy="94.60" r="1.55" fill="#FFFF00" stroke="#000" stroke-width="0.95"/>
<circle cx="230.50" cy="87.90" r="1.55" fill="#FFFF00" stroke="#000" stroke-width="0.95"/>
<circle cx="231.75" cy="89.65" r="1.55" fill="#FFFF00" stroke="#000" stroke-width="0.95"/>
<circle cx="233.05" cy="91.25" r="1.55" fill="#FFFF00" stroke="#000" stroke-width="0.95"/>
<circle cx="231.65" cy="92.81" r="1.55" fill="#FFFF00" stroke="#000" stroke-width="0.95"/>
<circle cx="235.50" cy="91.25" r="1.55" fill="#FFFF00" stroke="#000" stroke-width="0.95"/>
<circle cx="238.30" cy="91.25" r="1.55" fill="#FFFF00" stroke="#000" stroke-width="0.95"/>
<circle cx="225.50" cy="99.68" r="1.55" fill="#9A32CD" stroke="#000" stroke-width="0.95"/>
<circle cx="302.50" cy="99.68" r="1.55" fill="#9A32CD" stroke="#000" stroke-width="0.95"/>
<circle cx="304.50" cy="99.68" r="1.55" fill="#9A32CD" stroke="#000" stroke-width="0.95"/>
<circle cx="311.90" cy="99.68" r="1.55" fill="#9A32CD" stroke="#000" stroke-width="0.95"/>
<circle cx="316.50" cy="99.68" r="1.55" fill="#9A32CD" stroke="#000" stroke-width="0.95"/>
<circle cx="318.50" cy="99.68" r="1.55" fill="#9A32CD" stroke="#000" stroke-width="0.95"/>
<circle cx="313.60" cy="108.11" r="1.55" fill="#BF3EFF" stroke="#000" stroke-width="0.95"/>
<circle cx="316.50" cy="108.11" r="1.55" fill="#BF3EFF" stroke="#000" stroke-width="0.95"/>
<circle cx="319.50" cy="108.11" r="1.55" fill="#BF3EFF" stroke="#000" stroke-width="0.95"/>
<circle cx="318.00" cy="150.26" r="1.55" fill="#7CCD7C" stroke="#000" stroke-width="0.95"/>
<rect x="333.61" y="44.80" width="3.2" height="33.89" rx="1.6" fill="#000"/>
<circle cx="335.21" cy="46.50" r="1.1" fill="#8B3E2F"/>
<circle cx="335.21" cy="49.10" r="1.1" fill="#8B3E2F"/>
<circle cx="335.21" cy="51.70" r="1.1" fill="#8B3E2F"/>
<circle cx="335.21" cy="54.93" r="1.1" fill="#EE6A50"/>
<circle cx="335.21" cy="57.53" r="1.1" fill="#EE6A50"/>
<circle cx="335.21" cy="60.13" r="1.1" fill="#EE6A50"/>
<circle cx="335.21" cy="63.36" r="1.1" fill="#FF00FF"/>
<circle cx="335.21" cy="65.96" r="1.1" fill="#FF00FF"/>
<circle cx="335.21" cy="68.56" r="1.1" fill="#FF00FF"/>
<circle cx="335.21" cy="71.79" r="1.1" fill="#5CACEE"/>
<circle cx="335.21" cy="74.39" r="1.1" fill="#5CACEE"/>
<circle cx="335.21" cy="76.99" r="1.1" fill="#5CACEE"/>
<rect x="333.61" y="95.38" width="3.2" height="67.61" rx="1.6" fill="#000"/>
<circle cx="335.21" cy="97.08" r="1.1" fill="#9A32CD"/>
<circle cx="335.21" cy="99.68" r="1.1" fill="#9A32CD"/>
<circle cx="335.21" cy="102.28" r="1.1" fill="#9A32CD"/>
<circle cx="335.21" cy="105.51" r="1.1" fill="#BF3EFF"/>
<circle cx="335.21" cy="108.11" r="1.1" fill="#BF3EFF"/>
<circle cx="335.21" cy="110.71" r="1.1" fill="#BF3EFF"/>
<circle cx="335.21" cy="113.94" r="1.1" fill="#CDCDC1"/>
<circle cx="335.21" cy="116.54" r="1.1" fill="#CDCDC1"/>
<circle cx="335.21" cy="119.14" r="1.1" fill="#CDCDC1"/>
<circle cx="335.21" cy="122.37" r="1.1" fill="#2E8B57"/>
<circle cx="335.21" cy="124.97" r="1.1" fill="#2E8B57"/>
<circle cx="335.21" cy="127.57" r="1.1" fill="#2E8B57"/>
<circle cx="335.21" cy="130.80" r="1.1" fill="#FF8C00"/>
<circle cx="335.21" cy="133.40" r="1.1" fill="#FF8C00"/>
<circle cx="335.21" cy="136.00" r="1.1" fill="#FF8C00"/>
<circle cx="335.21" cy="139.23" r="1.1" fill="#104E8B"/>
<circle cx="335.21" cy="141.83" r="1.1" fill="#104E8B"/>
<circle cx="335.21" cy="144.43" r="1.1" fill="#104E8B"/>
<circle cx="335.21" cy="147.66" r="1.1" fill="#7CCD7C"/>
<circle cx="335.21" cy="150.26" r="1.1" fill="#7CCD7C"/>
<circle cx="335.21" cy="152.86" r="1.1" fill="#7CCD7C"/>
<circle cx="335.21" cy="156.09" r="1.1" fill="#BEBEBE"/>
<circle cx="335.21" cy="158.69" r="1.1" fill="#BEBEBE"/>
<circle cx="335.21" cy="161.29" r="1.1" fill="#BEBEBE"/>
<polygon points="348.35,82.82 348.48,82.01 348.61,81.57 348.75,81.18 348.88,80.85 349.01,80.55 349.14,80.27 349.27,80.01 349.40,79.75 349.54,79.51 349.67,79.27 349.80,79.05 349.93,78.83 350.06,78.63 350.19,78.46 350.33,78.31 350.46,78.20 350.59,78.10 350.72,78.03 350.85,77.96 350.98,77.91 351.12,77.88 351.25,77.85 351.38,77.83 351.51,77.83 351.64,77.83 351.77,77.85 351.91,77.88 352.04,77.91 352.17,77.96 352.30,78.02 352.43,78.10 352.56,78.19 352.70,78.29 352.83,78.40 352.96,78.50 353.09,78.61 353.22,78.71 353.35,78.82 353.49,78.93 353.62,79.04 353.75,79.15 353.88,79.27 354.01,79.39 354.14,79.51 354.28,79.63 354.41,79.76 354.54,79.89 354.67,80.02 354.80,80.16 354.93,80.30 355.06,80.45 355.20,80.60 355.33,80.76 355.46,80.94 355.59,81.12 355.72,81.32 355.86,81.55 355.99,81.79 356.12,82.16 356.25,82.82 356.25,82.82 356.12,83.48 355.99,83.85 355.86,84.09 355.72,84.32 355.59,84.52 355.46,84.70 355.33,84.88 355.20,85.04 355.06,85.19 354.93,85.34 354.80,85.48 354.67,85.62 354.54,85.75 354.41,85.88 354.28,86.01 354.14,86.13 354.01,86.25 353.88,86.37 353.75,86.49 353.62,86.60 353.49,86.71 353.35,86.82 353.22,86.93 353.09,87.03 352.96,87.14 352.83,87.24 352.70,87.35 352.56,87.45 352.43,87.54 352.30,87.62 352.17,87.68 352.04,87.73 351.91,87.76 351.77,87.79 351.64,87.81 351.51,87.81 351.38,87.81 351.25,87.79 351.12,87.76 350.98,87.73 350.85,87.68 350.72,87.61 350.59,87.54 350.46,87.44 350.33,87.33 350.19,87.18 350.06,87.01 349.93,86.81 349.80,86.59 349.67,86.37 349.54,86.13 349.40,85.89 349.27,85.63 349.14,85.37 349.01,85.09 348.88,84.79 348.75,84.46 348.61,84.07 348.48,83.63 348.35,82.82" fill="#000"/>
<circle cx="350.05" cy="82.82" r="1.55" fill="#CDCD00" stroke="#000" stroke-width="0.95"/>
<circle cx="351.50" cy="86.12" r="1.55" fill="#CDCD00" stroke="#000" stroke-width="0.95"/>
<circle cx="354.55" cy="82.82" r="1.55" fill="#CDCD00" stroke="#000" stroke-width="0.95"/>
<circle cx="353.14" cy="81.13" r="1.55" fill="#CDCD00" stroke="#000" stroke-width="0.95"/>
<circle cx="351.50" cy="79.52" r="1.55" fill="#CDCD00" stroke="#000" stroke-width="0.95"/>
<circle cx="352.32" cy="83.18" r="1.55" fill="#CDCD00" stroke="#000" stroke-width="0.95"/>
<polygon points="364.75,82.82 364.87,82.20 364.99,81.95 365.11,81.72 365.22,81.56 365.34,81.41 365.46,81.28 365.58,81.16 365.70,81.05 365.81,80.94 365.93,80.84 366.05,80.75 366.17,80.66 366.29,80.57 366.41,80.48 366.53,80.40 366.64,80.32 366.76,80.24 366.88,80.17 367.00,80.09 367.12,80.02 367.24,79.96 367.35,79.91 367.47,79.87 367.59,79.84 367.71,79.81 367.83,79.79 367.94,79.78 368.06,79.78 368.18,79.79 368.30,79.80 368.42,79.83 368.54,79.86 368.66,79.90 368.77,79.95 368.89,80.01 369.01,80.06 369.13,80.12 369.25,80.17 369.37,80.23 369.48,80.29 369.60,80.35 369.72,80.41 369.84,80.47 369.96,80.53 370.08,80.60 370.19,80.67 370.31,80.74 370.43,80.81 370.55,80.89 370.67,80.97 370.79,81.05 370.90,81.15 371.02,81.25 371.14,81.35 371.26,81.47 371.38,81.60 371.50,81.76 371.61,81.95 371.73,82.20 371.85,82.82 371.85,82.82 371.73,83.44 371.61,83.69 371.50,83.88 371.38,84.04 371.26,84.17 371.14,84.29 371.02,84.39 370.90,84.49 370.79,84.59 370.67,84.67 370.55,84.75 370.43,84.83 370.31,84.90 370.19,84.97 370.08,85.04 369.96,85.11 369.84,85.17 369.72,85.23 369.60,85.29 369.48,85.35 369.37,85.41 369.25,85.47 369.13,85.52 369.01,85.58 368.89,85.63 368.77,85.69 368.66,85.74 368.54,85.78 368.42,85.81 368.30,85.84 368.18,85.85 368.06,85.86 367.94,85.86 367.83,85.85 367.71,85.83 367.59,85.80 367.47,85.77 367.35,85.73 367.24,85.68 367.12,85.62 367.00,85.55 366.88,85.47 366.76,85.40 366.64,85.32 366.53,85.24 366.41,85.16 366.29,85.07 366.17,84.98 366.05,84.89 365.93,84.80 365.81,84.70 365.70,84.59 365.58,84.48 365.46,84.36 365.34,84.23 365.22,84.08 365.11,83.92 364.99,83.69 364.87,83.44 364.75,82.82" fill="#000"/>
<circle cx="370.15" cy="82.82" r="1.55" fill="#CDCD00" stroke="#000" stroke-width="0.95"/>
<circle cx="366.45" cy="82.82" r="1.55" fill="#CDCD00" stroke="#000" stroke-width="0.95"/>
<circle cx="368.00" cy="81.47" r="1.55" fill="#CDCD00" stroke="#000" stroke-width="0.95"/>
<circle cx="368.00" cy="84.17" r="1.55" fill="#CDCD00" stroke="#000" stroke-width="0.95"/>
<polygon points="335.25,91.25 335.43,90.50 335.60,89.96 335.77,89.63 335.95,89.34 336.12,89.06 336.30,88.80 336.48,88.56 336.65,88.34 336.82,88.12 337.00,87.92 337.18,87.72 337.35,87.52 337.52,87.33 337.70,87.14 337.88,86.97 338.05,86.79 338.23,86.62 338.40,86.46 338.57,86.35 338.75,86.26 338.93,86.19 339.10,86.15 339.28,86.12 339.45,86.11 339.62,86.11 339.80,86.12 339.98,86.15 340.15,86.20 340.32,86.27 340.50,86.36 340.68,86.46 340.85,86.55 341.03,86.65 341.20,86.75 341.38,86.85 341.55,86.95 341.73,87.06 341.90,87.16 342.07,87.27 342.25,87.38 342.43,87.49 342.60,87.61 342.78,87.72 342.95,87.84 343.12,87.96 343.30,88.08 343.48,88.21 343.65,88.34 343.83,88.48 344.00,88.62 344.18,88.77 344.35,88.92 344.53,89.08 344.70,89.25 344.88,89.44 345.05,89.64 345.23,89.86 345.40,90.14 345.58,90.50 345.75,91.25 345.75,91.25 345.58,92.00 345.40,92.36 345.23,92.64 345.05,92.86 344.88,93.06 344.70,93.25 344.53,93.42 344.35,93.58 344.18,93.73 344.00,93.88 343.83,94.02 343.65,94.16 343.48,94.29 343.30,94.42 343.12,94.54 342.95,94.66 342.78,94.78 342.60,94.89 342.43,95.01 342.25,95.12 342.07,95.23 341.90,95.34 341.73,95.44 341.55,95.55 341.38,95.65 341.20,95.75 341.03,95.85 340.85,95.95 340.68,96.04 340.50,96.14 340.32,96.23 340.15,96.30 339.98,96.35 339.80,96.38 339.62,96.39 339.45,96.39 339.28,96.38 339.10,96.35 338.93,96.31 338.75,96.24 338.57,96.15 338.40,96.04 338.23,95.88 338.05,95.71 337.88,95.53 337.70,95.36 337.52,95.17 337.35,94.98 337.18,94.78 337.00,94.58 336.82,94.38 336.65,94.16 336.48,93.94 336.30,93.70 336.12,93.44 335.95,93.16 335.77,92.87 335.60,92.54 335.43,92.00 335.25,91.25" fill="#000"/>
<circle cx="338.27" cy="92.84" r="1.55" fill="#FFFF00" stroke="#000" stroke-width="0.95"/>
<circle cx="341.68" cy="93.46" r="1.55" fill="#FFFF00" stroke="#000" stroke-width="0.95"/>
<circle cx="336.95" cy="91.25" r="1.55" fill="#FFFF00" stroke="#000" stroke-width="0.95"/>
<circle cx="339.50" cy="94.75" r="1.55" fill="#FFFF00" stroke="#000" stroke-width="0.95"/>
<circle cx="340.82" cy="91.45" r="1.55" fill="#FFFF00" stroke="#000" stroke-width="0.95"/>
<circle cx="344.05" cy="91.25" r="1.55" fill="#FFFF00" stroke="#000" stroke-width="0.95"/>
<circle cx="339.50" cy="87.75" r="1.55" fill="#FFFF00" stroke="#000" stroke-width="0.95"/>
<circle cx="338.88" cy="90.53" r="1.55" fill="#FFFF00" stroke="#000" stroke-width="0.95"/>
<circle cx="341.68" cy="89.04" r="1.55" fill="#FFFF00" stroke="#000" stroke-width="0.95"/>
<circle cx="338.00" cy="65.96" r="1.55" fill="#FF00FF" stroke="#000" stroke-width="0.95"/>
<circle cx="339.50" cy="65.96" r="1.55" fill="#FF00FF" stroke="#000" stroke-width="0.95"/>
<circle cx="338.50" cy="74.39" r="1.55" fill="#5CACEE" stroke="#000" stroke-width="0.95"/>
<circle cx="357.80" cy="82.82" r="1.55" fill="#CDCD00" stroke="#000" stroke-width="0.95"/>
<circle cx="346.50" cy="91.25" r="1.55" fill="#FFFF00" stroke="#000" stroke-width="0.95"/>
<circle cx="349.50" cy="91.25" r="1.55" fill="#FFFF00" stroke="#000" stroke-width="0.95"/>
<circle cx="352.80" cy="91.25" r="1.55" fill="#FFFF00" stroke="#000" stroke-width="0.95"/>
<circle cx="338.00" cy="99.68" r="1.55" fill="#9A32CD" stroke="#000" stroke-width="0.95"/>
<circle cx="339.70" cy="99.68" r="1.55" fill="#9A32CD" stroke="#000" stroke-width="0.95"/>
<circle cx="410.80" cy="99.68" r="1.55" fill="#9A32CD" stroke="#000" stroke-width="0.95"/>
<circle cx="413.50" cy="99.68" r="1.55" fill="#9A32CD" stroke="#000" stroke-width="0.95"/>
<circle cx="416.50" cy="99.68" r="1.55" fill="#9A32CD" stroke="#000" stroke-width="0.95"/>
<circle cx="419.50" cy="99.68" r="1.55" fill="#9A32CD" stroke="#000" stroke-width="0.95"/>
<circle cx="423.60" cy="99.68" r="1.55" fill="#9A32CD" stroke="#000" stroke-width="0.95"/>
<circle cx="343.40" cy="133.40" r="1.55" fill="#FF8C00" stroke="#000" stroke-width="0.95"/>
<rect x="446.99" y="44.80" width="3.2" height="33.89" rx="1.6" fill="#000"/>
<circle cx="448.59" cy="46.50" r="1.1" fill="#8B3E2F"/>
<circle cx="448.59" cy="49.10" r="1.1" fill="#8B3E2F"/>
<circle cx="448.59" cy="51.70" r="1.1" fill="#8B3E2F"/>
<circle cx="448.59" cy="54.93" r="1.1" fill="#EE6A50"/>
<circle cx="448.59" cy="57.53" r="1.1" fill="#EE6A50"/>
<circle cx="448.59" cy="60.13" r="1.1" fill="#EE6A50"/>
<circle cx="448.59" cy="63.36" r="1.1" fill="#FF00FF"/>
<circle cx="448.59" cy="65.96" r="1.1" fill="#FF00FF"/>
<circle cx="448.59" cy="68.56" r="1.1" fill="#FF00FF"/>
<circle cx="448.59" cy="71.79" r="1.1" fill="#5CACEE"/>
<circle cx="448.59" cy="74.39" r="1.1" fill="#5CACEE"/>
<circle cx="448.59" cy="76.99" r="1.1" fill="#5CACEE"/>
<rect x="446.99" y="95.38" width="3.2" height="67.61" rx="1.6" fill="#000"/>
<circle cx="448.59" cy="97.08" r="1.1" fill="#9A32CD"/>
<circle cx="448.59" cy="99.68" r="1.1" fill="#9A32CD"/>
<circle cx="448.59" cy="102.28" r="1.1" fill="#9A32CD"/>
<circle cx="448.59" cy="105.51" r="1.1" fill="#BF3EFF"/>
<circle cx="448.59" cy="108.11" r="1.1" fill="#BF3EFF"/>
<circle cx="448.59" cy="110.71" r="1.1" fill="#BF3EFF"/>
<circle cx="448.59" cy="113.94" r="1.1" fill="#CDCDC1"/>
<circle cx="448.59" cy="116.54" r="1.1" fill="#CDCDC1"/>
<circle cx="448.59" cy="119.14" r="1.1" fill="#CDCDC1"/>
<circle cx="448.59" cy="122.37" r="1.1" fill="#2E8B57"/>
<circle cx="448.59" cy="124.97" r="1.1" fill="#2E8B57"/>
<circle cx="448.59" cy="127.57" r="1.1" fill="#2E8B57"/>
<circle cx="448.59" cy="130.80" r="1.1" fill="#FF8C00"/>
<circle cx="448.59" cy="133.40" r="1.1" fill="#FF8C00"/>
<circle cx="448.59" cy="136.00" r="1.1" fill="#FF8C00"/>
<circle cx="448.59" cy="139.23" r="1.1" fill="#104E8B"/>
<circle cx="448.59" cy="141.83" r="1.1" fill="#104E8B"/>
<circle cx="448.59" cy="144.43" r="1.1" fill="#104E8B"/>
<circle cx="448.59" cy="147.66" r="1.1" fill="#7CCD7C"/>
<circle cx="448.59" cy="150.26" r="1.1" fill="#7CCD7C"/>
<circle cx="448.59" cy="152.86" r="1.1" fill="#7CCD7C"/>
<circle cx="448.59" cy="156.09" r="1.1" fill="#BEBEBE"/>
<circle cx="448.59" cy="158.69" r="1.1" fill="#BEBEBE"/>
<circle cx="448.59" cy="161.29" r="1.1" fill="#BEBEBE"/>
<polygon points="446.45,99.68 446.64,98.90 446.83,97.32 447.01,96.34 447.20,96.03 447.39,95.83 447.58,95.63 447.77,95.48 447.96,95.36 448.14,95.28 448.33,95.22 448.52,95.18 448.71,95.17 448.90,95.18 449.09,95.20 449.27,95.25 449.46,95.30 449.65,95.36 449.84,95.41 450.03,95.46 450.22,95.51 450.40,95.56 450.59,95.62 450.78,95.67 450.97,95.73 451.16,95.78 451.35,95.84 451.54,95.90 451.72,95.95 451.91,96.01 452.10,96.07 452.29,96.13 452.48,96.19 452.67,96.25 452.85,96.31 453.04,96.37 453.23,96.44 453.42,96.50 453.61,96.57 453.80,96.63 453.98,96.70 454.17,96.77 454.36,96.84 454.55,96.92 454.74,96.99 454.93,97.07 455.11,97.14 455.30,97.23 455.49,97.31 455.68,97.40 455.87,97.49 456.06,97.58 456.24,97.69 456.43,97.80 456.62,97.92 456.81,98.05 457.00,98.20 457.19,98.40 457.37,98.61 457.56,98.90 457.75,99.68 457.75,99.68 457.56,100.46 457.37,100.75 457.19,100.96 457.00,101.16 456.81,101.31 456.62,101.44 456.43,101.56 456.24,101.67 456.06,101.78 455.87,101.87 455.68,101.96 455.49,102.05 455.30,102.13 455.11,102.22 454.93,102.29 454.74,102.37 454.55,102.44 454.36,102.52 454.17,102.59 453.98,102.66 453.80,102.73 453.61,102.79 453.42,102.86 453.23,102.92 453.04,102.99 452.85,103.05 452.67,103.11 452.48,103.17 452.29,103.23 452.10,103.29 451.91,103.35 451.72,103.41 451.54,103.46 451.35,103.52 451.16,103.58 450.97,103.63 450.78,103.69 450.59,103.74 450.40,103.80 450.22,103.85 450.03,103.90 449.84,103.95 449.65,104.00 449.46,104.06 449.27,104.11 449.09,104.16 448.90,104.18 448.71,104.19 448.52,104.18 448.33,104.14 448.14,104.08 447.96,104.00 447.77,103.88 447.58,103.73 447.39,103.53 447.20,103.33 447.01,103.02 446.83,102.04 446.64,100.46 446.45,99.68" fill="#000"/>
<circle cx="448.15" cy="99.68" r="1.55" fill="#9A32CD" stroke="#000" stroke-width="0.95"/>
<circle cx="450.78" cy="101.92" r="1.55" fill="#9A32CD" stroke="#000" stroke-width="0.95"/>
<circle cx="448.60" cy="96.83" r="1.55" fill="#9A32CD" stroke="#000" stroke-width="0.95"/>
<circle cx="450.78" cy="97.44" r="1.55" fill="#9A32CD" stroke="#000" stroke-width="0.95"/>
<circle cx="453.42" cy="101.06" r="1.55" fill="#9A32CD" stroke="#000" stroke-width="0.95"/>
<circle cx="448.60" cy="102.53" r="1.55" fill="#9A32CD" stroke="#000" stroke-width="0.95"/>
<circle cx="456.05" cy="99.68" r="1.55" fill="#9A32CD" stroke="#000" stroke-width="0.95"/>
<circle cx="453.42" cy="98.30" r="1.55" fill="#9A32CD" stroke="#000" stroke-width="0.95"/>
<circle cx="450.81" cy="99.77" r="1.55" fill="#9A32CD" stroke="#000" stroke-width="0.95"/>
<polygon points="467.75,82.82 467.96,82.01 468.16,81.70 468.37,81.38 468.58,81.18 468.78,80.98 468.99,80.81 469.20,80.65 469.40,80.50 469.61,80.35 469.82,80.22 470.02,80.10 470.23,79.97 470.44,79.84 470.64,79.73 470.85,79.61 471.06,79.51 471.26,79.40 471.47,79.29 471.68,79.19 471.88,79.08 472.09,78.98 472.30,78.89 472.50,78.79 472.71,78.70 472.92,78.61 473.12,78.51 473.33,78.45 473.54,78.41 473.74,78.40 473.95,78.42 474.16,78.45 474.36,78.48 474.57,78.55 474.78,78.64 474.98,78.73 475.19,78.82 475.40,78.91 475.60,79.00 475.81,79.09 476.02,79.18 476.22,79.28 476.43,79.38 476.64,79.49 476.84,79.59 477.05,79.69 477.26,79.80 477.46,79.91 477.67,80.03 477.88,80.15 478.08,80.28 478.29,80.40 478.50,80.54 478.70,80.68 478.91,80.84 479.12,81.00 479.32,81.19 479.53,81.40 479.74,81.71 479.94,82.01 480.15,82.82 480.15,82.82 479.94,83.63 479.74,83.93 479.53,84.24 479.32,84.45 479.12,84.64 478.91,84.80 478.70,84.96 478.50,85.10 478.29,85.24 478.08,85.36 477.88,85.49 477.67,85.61 477.46,85.73 477.26,85.84 477.05,85.95 476.84,86.05 476.64,86.15 476.43,86.26 476.22,86.36 476.02,86.46 475.81,86.55 475.60,86.64 475.40,86.73 475.19,86.82 474.98,86.91 474.78,87.00 474.57,87.09 474.36,87.16 474.16,87.19 473.95,87.22 473.74,87.24 473.54,87.23 473.33,87.19 473.12,87.13 472.92,87.03 472.71,86.94 472.50,86.85 472.30,86.75 472.09,86.66 471.88,86.56 471.68,86.45 471.47,86.35 471.26,86.24 471.06,86.13 470.85,86.03 470.64,85.91 470.44,85.80 470.23,85.67 470.02,85.54 469.82,85.42 469.61,85.29 469.40,85.14 469.20,84.99 468.99,84.83 468.78,84.66 468.58,84.46 468.37,84.26 468.16,83.94 467.96,83.63 467.75,82.82" fill="#000"/>
<circle cx="473.80" cy="80.07" r="1.55" fill="#CDCD00" stroke="#000" stroke-width="0.95"/>
<circle cx="473.80" cy="85.57" r="1.55" fill="#CDCD00" stroke="#000" stroke-width="0.95"/>
<circle cx="476.20" cy="84.47" r="1.55" fill="#CDCD00" stroke="#000" stroke-width="0.95"/>
<circle cx="476.20" cy="81.17" r="1.55" fill="#CDCD00" stroke="#000" stroke-width="0.95"/>
<circle cx="469.45" cy="82.82" r="1.55" fill="#CDCD00" stroke="#000" stroke-width="0.95"/>
<circle cx="478.45" cy="82.82" r="1.55" fill="#CDCD00" stroke="#000" stroke-width="0.95"/>
<circle cx="474.51" cy="82.60" r="1.55" fill="#CDCD00" stroke="#000" stroke-width="0.95"/>
<circle cx="471.70" cy="84.55" r="1.55" fill="#CDCD00" stroke="#000" stroke-width="0.95"/>
<circle cx="471.70" cy="81.09" r="1.55" fill="#CDCD00" stroke="#000" stroke-width="0.95"/>
<polygon points="470.65,91.25 470.91,90.34 471.18,90.02 471.44,89.70 471.70,89.48 471.97,89.28 472.23,89.12 472.49,88.95 472.76,88.80 473.02,88.67 473.28,88.54 473.55,88.40 473.81,88.27 474.07,88.16 474.34,88.05 474.60,87.93 474.86,87.82 475.13,87.71 475.39,87.61 475.65,87.51 475.92,87.41 476.18,87.30 476.44,87.20 476.71,87.11 476.97,87.02 477.23,86.93 477.50,86.84 477.76,86.74 478.02,86.65 478.29,86.59 478.55,86.57 478.81,86.59 479.08,86.65 479.34,86.71 479.60,86.80 479.87,86.90 480.13,86.99 480.39,87.08 480.66,87.18 480.92,87.28 481.18,87.38 481.45,87.48 481.71,87.58 481.97,87.69 482.24,87.80 482.50,87.91 482.76,88.03 483.03,88.14 483.29,88.26 483.55,88.39 483.82,88.52 484.08,88.65 484.34,88.79 484.61,88.94 484.87,89.11 485.13,89.28 485.40,89.47 485.66,89.70 485.92,90.02 486.19,90.34 486.45,91.25 486.45,91.25 486.19,92.16 485.92,92.48 485.66,92.80 485.40,93.03 485.13,93.22 484.87,93.39 484.61,93.56 484.34,93.71 484.08,93.85 483.82,93.98 483.55,94.11 483.29,94.24 483.03,94.36 482.76,94.47 482.50,94.59 482.24,94.70 481.97,94.81 481.71,94.92 481.45,95.02 481.18,95.12 480.92,95.22 480.66,95.32 480.39,95.42 480.13,95.51 479.87,95.60 479.60,95.70 479.34,95.79 479.08,95.85 478.81,95.91 478.55,95.93 478.29,95.91 478.02,95.85 477.76,95.76 477.50,95.66 477.23,95.57 476.97,95.48 476.71,95.39 476.44,95.30 476.18,95.20 475.92,95.09 475.65,94.99 475.39,94.89 475.13,94.79 474.86,94.68 474.60,94.57 474.34,94.45 474.07,94.34 473.81,94.23 473.55,94.10 473.28,93.96 473.02,93.83 472.76,93.70 472.49,93.55 472.23,93.38 471.97,93.22 471.70,93.02 471.44,92.80 471.18,92.48 470.91,92.16 470.65,91.25" fill="#000"/>
<circle cx="474.42" cy="89.87" r="1.55" fill="#FFFF00" stroke="#000" stroke-width="0.95"/>
<circle cx="474.42" cy="92.63" r="1.55" fill="#FFFF00" stroke="#000" stroke-width="0.95"/>
<circle cx="481.04" cy="91.35" r="1.55" fill="#FFFF00" stroke="#000" stroke-width="0.95"/>
<circle cx="476.20" cy="91.26" r="1.55" fill="#FFFF00" stroke="#000" stroke-width="0.95"/>
<circle cx="476.48" cy="89.00" r="1.55" fill="#FFFF00" stroke="#000" stroke-width="0.95"/>
<circle cx="480.62" cy="88.98" r="1.55" fill="#FFFF00" stroke="#000" stroke-width="0.95"/>
<circle cx="480.62" cy="93.52" r="1.55" fill="#FFFF00" stroke="#000" stroke-width="0.95"/>
<circle cx="482.68" cy="92.65" r="1.55" fill="#FFFF00" stroke="#000" stroke-width="0.95"/>
<circle cx="478.60" cy="94.25" r="1.55" fill="#FFFF00" stroke="#000" stroke-width="0.95"/>
<circle cx="472.35" cy="91.25" r="1.55" fill="#FFFF00" stroke="#000" stroke-width="0.95"/>
<circle cx="478.60" cy="88.25" r="1.55" fill="#FFFF00" stroke="#000" stroke-width="0.95"/>
<circle cx="478.43" cy="91.92" r="1.55" fill="#FFFF00" stroke="#000" stroke-width="0.95"/>
<circle cx="482.68" cy="89.85" r="1.55" fill="#FFFF00" stroke="#000" stroke-width="0.95"/>
<circle cx="484.75" cy="91.25" r="1.55" fill="#FFFF00" stroke="#000" stroke-width="0.95"/>
<circle cx="476.48" cy="93.50" r="1.55" fill="#FFFF00" stroke="#000" stroke-width="0.95"/>
<polygon points="446.35,65.96 446.47,64.87 446.58,64.25 446.70,63.74 446.81,63.26 446.93,62.79 447.04,62.47 447.16,62.27 447.27,62.11 447.39,61.99 447.50,61.88 447.62,61.80 447.73,61.73 447.85,61.66 447.96,61.60 448.08,61.56 448.19,61.52 448.31,61.49 448.42,61.47 448.54,61.46 448.65,61.45 448.77,61.46 448.88,61.47 449.00,61.49 449.11,61.51 449.23,61.55 449.34,61.59 449.46,61.65 449.57,61.71 449.69,61.79 449.80,61.87 449.92,61.95 450.03,62.03 450.15,62.12 450.26,62.20 450.38,62.28 450.49,62.37 450.61,62.46 450.72,62.54 450.84,62.63 450.95,62.73 451.06,62.82 451.18,62.91 451.30,63.01 451.41,63.11 451.53,63.21 451.64,63.32 451.75,63.42 451.87,63.53 451.99,63.65 452.10,63.77 452.22,63.89 452.33,64.02 452.45,64.16 452.56,64.30 452.68,64.45 452.79,64.62 452.91,64.82 453.02,65.04 453.14,65.35 453.25,65.96 453.25,65.96 453.14,66.57 453.02,66.88 452.91,67.10 452.79,67.30 452.68,67.47 452.56,67.62 452.45,67.76 452.33,67.90 452.22,68.03 452.10,68.15 451.99,68.27 451.87,68.39 451.75,68.50 451.64,68.60 451.53,68.71 451.41,68.81 451.30,68.91 451.18,69.01 451.06,69.10 450.95,69.19 450.84,69.29 450.72,69.38 450.61,69.46 450.49,69.55 450.38,69.64 450.26,69.72 450.15,69.80 450.03,69.89 449.92,69.97 449.80,70.05 449.69,70.13 449.57,70.21 449.46,70.27 449.34,70.33 449.23,70.37 449.11,70.41 449.00,70.43 448.88,70.45 448.77,70.46 448.65,70.47 448.54,70.46 448.42,70.45 448.31,70.43 448.19,70.40 448.08,70.36 447.96,70.32 447.85,70.26 447.73,70.19 447.62,70.12 447.50,70.04 447.39,69.93 447.27,69.81 447.16,69.65 447.04,69.45 446.93,69.13 446.81,68.66 446.70,68.18 446.58,67.67 446.47,67.05 446.35,65.96" fill="#000"/>
<circle cx="450.20" cy="64.41" r="1.55" fill="#FF00FF" stroke="#000" stroke-width="0.95"/>
<circle cx="448.05" cy="65.96" r="1.55" fill="#FF00FF" stroke="#000" stroke-width="0.95"/>
<circle cx="448.60" cy="68.81" r="1.55" fill="#FF00FF" stroke="#000" stroke-width="0.95"/>
<circle cx="451.55" cy="65.96" r="1.55" fill="#FF00FF" stroke="#000" stroke-width="0.95"/>
<circle cx="448.60" cy="63.11" r="1.55" fill="#FF00FF" stroke="#000" stroke-width="0.95"/>
<circle cx="449.94" cy="67.23" r="1.55" fill="#FF00FF" stroke="#000" stroke-width="0.95"/>
<circle cx="452.00" cy="99.68" r="1.55" fill="#9A32CD" stroke="#000" stroke-width="0.95"/>
<circle cx="454.50" cy="99.68" r="1.55" fill="#9A32CD" stroke="#000" stroke-width="0.95"/>
<circle cx="456.80" cy="99.68" r="1.55" fill="#9A32CD" stroke="#000" stroke-width="0.95"/>
<circle cx="460.80" cy="99.68" r="1.55" fill="#9A32CD" stroke="#000" stroke-width="0.95"/>
<circle cx="465.60" cy="99.68" r="1.55" fill="#9A32CD" stroke="#000" stroke-width="0.95"/>
<circle cx="467.90" cy="99.68" r="1.55" fill="#9A32CD" stroke="#000" stroke-width="0.95"/>
<circle cx="470.90" cy="99.68" r="1.55" fill="#9A32CD" stroke="#000" stroke-width="0.95"/>
<circle cx="478.40" cy="99.68" r="1.55" fill="#9A32CD" stroke="#000" stroke-width="0.95"/>
<circle cx="482.30" cy="99.68" r="1.55" fill="#9A32CD" stroke="#000" stroke-width="0.95"/>
<circle cx="487.30" cy="99.68" r="1.55" fill="#9A32CD" stroke="#000" stroke-width="0.95"/>
<circle cx="491.10" cy="99.68" r="1.55" fill="#9A32CD" stroke="#000" stroke-width="0.95"/>
<circle cx="497.80" cy="99.68" r="1.55" fill="#9A32CD" stroke="#000" stroke-width="0.95"/>
<circle cx="505.60" cy="99.68" r="1.55" fill="#9A32CD" stroke="#000" stroke-width="0.95"/>
<circle cx="507.40" cy="99.68" r="1.55" fill="#9A32CD" stroke="#000" stroke-width="0.95"/>
<circle cx="515.50" cy="99.68" r="1.55" fill="#9A32CD" stroke="#000" stroke-width="0.95"/>
<circle cx="519.00" cy="99.68" r="1.55" fill="#9A32CD" stroke="#000" stroke-width="0.95"/>
<circle cx="520.50" cy="99.68" r="1.55" fill="#9A32CD" stroke="#000" stroke-width="0.95"/>
<circle cx="532.10" cy="99.68" r="1.55" fill="#9A32CD" stroke="#000" stroke-width="0.95"/>
<circle cx="535.20" cy="99.68" r="1.55" fill="#9A32CD" stroke="#000" stroke-width="0.95"/>
<circle cx="539.10" cy="99.68" r="1.55" fill="#9A32CD" stroke="#000" stroke-width="0.95"/>
<circle cx="452.00" cy="108.11" r="1.55" fill="#BF3EFF" stroke="#000" stroke-width="0.95"/>
<circle cx="455.00" cy="108.11" r="1.55" fill="#BF3EFF" stroke="#000" stroke-width="0.95"/>
<circle cx="457.60" cy="108.11" r="1.55" fill="#BF3EFF" stroke="#000" stroke-width="0.95"/>
<circle cx="469.10" cy="108.11" r="1.55" fill="#BF3EFF" stroke="#000" stroke-width="0.95"/>
<circle cx="482.30" cy="108.11" r="1.55" fill="#BF3EFF" stroke="#000" stroke-width="0.95"/>
<circle cx="494.30" cy="108.11" r="1.55" fill="#BF3EFF" stroke="#000" stroke-width="0.95"/>
<circle cx="499.10" cy="108.11" r="1.55" fill="#BF3EFF" stroke="#000" stroke-width="0.95"/>
<circle cx="504.40" cy="108.11" r="1.55" fill="#BF3EFF" stroke="#000" stroke-width="0.95"/>
<circle cx="507.00" cy="108.11" r="1.55" fill="#BF3EFF" stroke="#000" stroke-width="0.95"/>
<circle cx="509.70" cy="108.11" r="1.55" fill="#BF3EFF" stroke="#000" stroke-width="0.95"/>
<circle cx="513.70" cy="108.11" r="1.55" fill="#BF3EFF" stroke="#000" stroke-width="0.95"/>
<circle cx="517.60" cy="108.11" r="1.55" fill="#BF3EFF" stroke="#000" stroke-width="0.95"/>
<circle cx="521.50" cy="108.11" r="1.55" fill="#BF3EFF" stroke="#000" stroke-width="0.95"/>
<circle cx="534.40" cy="108.11" r="1.55" fill="#BF3EFF" stroke="#000" stroke-width="0.95"/>
<circle cx="537.00" cy="108.11" r="1.55" fill="#BF3EFF" stroke="#000" stroke-width="0.95"/>
<circle cx="519.00" cy="150.26" r="1.55" fill="#7CCD7C" stroke="#000" stroke-width="0.95"/>
<circle cx="527.70" cy="150.26" r="1.55" fill="#7CCD7C" stroke="#000" stroke-width="0.95"/>
<rect x="106.85" y="196.55" width="3.2" height="17.03" rx="1.6" fill="#000"/>
<circle cx="108.45" cy="198.25" r="1.1" fill="#8B3E2F"/>
<circle cx="108.45" cy="200.85" r="1.1" fill="#8B3E2F"/>
<circle cx="108.45" cy="203.45" r="1.1" fill="#8B3E2F"/>
<circle cx="108.45" cy="206.68" r="1.1" fill="#EE6A50"/>
<circle cx="108.45" cy="209.28" r="1.1" fill="#EE6A50"/>
<circle cx="108.45" cy="211.88" r="1.1" fill="#EE6A50"/>
<rect x="106.85" y="221.84" width="3.2" height="8.60" rx="1.6" fill="#000"/>
<circle cx="108.45" cy="223.54" r="1.1" fill="#5CACEE"/>
<circle cx="108.45" cy="226.14" r="1.1" fill="#5CACEE"/>
<circle cx="108.45" cy="228.74" r="1.1" fill="#5CACEE"/>
<rect x="106.85" y="247.13" width="3.2" height="67.61" rx="1.6" fill="#000"/>
<circle cx="108.45" cy="248.83" r="1.1" fill="#9A32CD"/>
<circle cx="108.45" cy="251.43" r="1.1" fill="#9A32CD"/>
<circle cx="108.45" cy="254.03" r="1.1" fill="#9A32CD"/>
<circle cx="108.45" cy="257.26" r="1.1" fill="#BF3EFF"/>
<circle cx="108.45" cy="259.86" r="1.1" fill="#BF3EFF"/>
<circle cx="108.45" cy="262.46" r="1.1" fill="#BF3EFF"/>
<circle cx="108.45" cy="265.69" r="1.1" fill="#CDCDC1"/>
<circle cx="108.45" cy="268.29" r="1.1" fill="#CDCDC1"/>
<circle cx="108.45" cy="270.89" r="1.1" fill="#CDCDC1"/>
<circle cx="108.45" cy="274.12" r="1.1" fill="#2E8B57"/>
<circle cx="108.45" cy="276.72" r="1.1" fill="#2E8B57"/>
<circle cx="108.45" cy="279.32" r="1.1" fill="#2E8B57"/>
<circle cx="108.45" cy="282.55" r="1.1" fill="#FF8C00"/>
<circle cx="108.45" cy="285.15" r="1.1" fill="#FF8C00"/>
<circle cx="108.45" cy="287.75" r="1.1" fill="#FF8C00"/>
<circle cx="108.45" cy="290.98" r="1.1" fill="#104E8B"/>
<circle cx="108.45" cy="293.58" r="1.1" fill="#104E8B"/>
<circle cx="108.45" cy="296.18" r="1.1" fill="#104E8B"/>
<circle cx="108.45" cy="299.41" r="1.1" fill="#7CCD7C"/>
<circle cx="108.45" cy="302.01" r="1.1" fill="#7CCD7C"/>
<circle cx="108.45" cy="304.61" r="1.1" fill="#7CCD7C"/>
<circle cx="108.45" cy="307.84" r="1.1" fill="#BEBEBE"/>
<circle cx="108.45" cy="310.44" r="1.1" fill="#BEBEBE"/>
<circle cx="108.45" cy="313.04" r="1.1" fill="#BEBEBE"/>
<polygon points="106.25,251.43 106.38,250.29 106.51,249.63 106.64,249.08 106.77,248.58 106.90,248.28 107.03,248.05 107.16,247.86 107.29,247.71 107.42,247.59 107.55,247.49 107.68,247.41 107.81,247.35 107.94,247.30 108.07,247.26 108.20,247.23 108.33,247.21 108.46,247.20 108.59,247.21 108.72,247.22 108.85,247.24 108.98,247.27 109.11,247.32 109.24,247.37 109.37,247.43 109.50,247.49 109.63,247.56 109.76,247.62 109.89,247.68 110.02,247.74 110.15,247.81 110.28,247.87 110.41,247.94 110.54,248.01 110.67,248.07 110.80,248.14 110.93,248.21 111.06,248.28 111.19,248.35 111.32,248.43 111.45,248.50 111.58,248.58 111.71,248.66 111.84,248.74 111.97,248.82 112.10,248.90 112.23,248.99 112.36,249.08 112.49,249.17 112.62,249.27 112.75,249.37 112.88,249.47 113.01,249.58 113.14,249.70 113.27,249.83 113.40,249.96 113.53,250.11 113.66,250.29 113.79,250.52 113.92,250.78 114.05,251.43 114.05,251.43 113.92,252.08 113.79,252.34 113.66,252.57 113.53,252.75 113.40,252.90 113.27,253.03 113.14,253.16 113.01,253.28 112.88,253.39 112.75,253.49 112.62,253.59 112.49,253.69 112.36,253.78 112.23,253.87 112.10,253.96 111.97,254.04 111.84,254.12 111.71,254.20 111.58,254.28 111.45,254.36 111.32,254.43 111.19,254.51 111.06,254.58 110.93,254.65 110.80,254.72 110.67,254.79 110.54,254.85 110.41,254.92 110.28,254.99 110.15,255.05 110.02,255.12 109.89,255.18 109.76,255.24 109.63,255.30 109.50,255.37 109.37,255.43 109.24,255.49 109.11,255.54 108.98,255.59 108.85,255.62 108.72,255.64 108.59,255.65 108.46,255.66 108.33,255.65 108.20,255.63 108.07,255.60 107.94,255.56 107.81,255.51 107.68,255.45 107.55,255.37 107.42,255.27 107.29,255.15 107.16,255.00 107.03,254.81 106.90,254.58 106.77,254.28 106.64,253.78 106.51,253.23 106.38,252.57 106.25,251.43" fill="#000"/>
<circle cx="107.95" cy="251.43" r="1.55" fill="#9A32CD" stroke="#000" stroke-width="0.95"/>
<circle cx="112.35" cy="251.43" r="1.55" fill="#9A32CD" stroke="#000" stroke-width="0.95"/>
<circle cx="108.45" cy="253.98" r="1.55" fill="#9A32CD" stroke="#000" stroke-width="0.95"/>
<circle cx="110.33" cy="252.95" r="1.55" fill="#9A32CD" stroke="#000" stroke-width="0.95"/>
<circle cx="110.28" cy="250.77" r="1.55" fill="#9A32CD" stroke="#000" stroke-width="0.95"/>
<circle cx="108.45" cy="248.88" r="1.55" fill="#9A32CD" stroke="#000" stroke-width="0.95"/>
<polygon points="110.75,217.71 110.85,217.01 110.95,216.65 111.05,216.35 111.14,216.09 111.24,215.85 111.34,215.62 111.44,215.42 111.54,215.21 111.64,215.02 111.73,214.84 111.83,214.65 111.93,214.48 112.03,214.31 112.13,214.18 112.22,214.07 112.32,213.96 112.42,213.87 112.52,213.80 112.62,213.73 112.72,213.67 112.81,213.63 112.91,213.58 113.01,213.55 113.11,213.52 113.21,213.50 113.31,213.49 113.41,213.48 113.50,213.48 113.60,213.48 113.70,213.49 113.80,213.50 113.90,213.52 114.00,213.55 114.09,213.58 114.19,213.62 114.29,213.66 114.39,213.72 114.49,213.78 114.58,213.86 114.68,213.94 114.78,214.04 114.88,214.16 114.98,214.29 115.08,214.41 115.17,214.54 115.27,214.67 115.37,214.81 115.47,214.95 115.57,215.09 115.67,215.24 115.77,215.39 115.86,215.55 115.96,215.72 116.06,215.89 116.16,216.08 116.26,216.28 116.36,216.51 116.45,216.76 116.55,217.08 116.65,217.71 116.65,217.71 116.55,218.34 116.45,218.66 116.36,218.91 116.26,219.14 116.16,219.34 116.06,219.53 115.96,219.70 115.86,219.87 115.77,220.03 115.67,220.18 115.57,220.33 115.47,220.47 115.37,220.61 115.27,220.75 115.17,220.88 115.08,221.01 114.98,221.13 114.88,221.26 114.78,221.38 114.68,221.48 114.58,221.56 114.49,221.64 114.39,221.70 114.29,221.76 114.19,221.80 114.09,221.84 114.00,221.87 113.90,221.90 113.80,221.92 113.70,221.93 113.60,221.94 113.50,221.94 113.41,221.94 113.31,221.93 113.21,221.92 113.11,221.90 113.01,221.87 112.91,221.84 112.81,221.79 112.72,221.75 112.62,221.69 112.52,221.62 112.42,221.55 112.32,221.46 112.22,221.35 112.13,221.24 112.03,221.11 111.93,220.94 111.83,220.77 111.73,220.58 111.64,220.40 111.54,220.21 111.44,220.00 111.34,219.80 111.24,219.57 111.14,219.33 111.05,219.07 110.95,218.77 110.85,218.41 110.75,217.71" fill="#000"/>
<circle cx="113.50" cy="215.16" r="1.55" fill="#FF00FF" stroke="#000" stroke-width="0.95"/>
<circle cx="114.95" cy="217.71" r="1.55" fill="#FF00FF" stroke="#000" stroke-width="0.95"/>
<circle cx="113.50" cy="220.26" r="1.55" fill="#FF00FF" stroke="#000" stroke-width="0.95"/>
<circle cx="112.45" cy="217.71" r="1.55" fill="#FF00FF" stroke="#000" stroke-width="0.95"/>
<polygon points="142.15,234.57 142.27,233.82 142.39,233.42 142.50,233.09 142.62,232.79 142.74,232.53 142.86,232.28 142.98,232.04 143.10,231.82 143.22,231.61 143.33,231.41 143.45,231.21 143.57,231.02 143.69,230.83 143.81,230.65 143.93,230.48 144.04,230.35 144.16,230.25 144.28,230.16 144.40,230.08 144.52,230.01 144.64,229.95 144.75,229.90 144.87,229.86 144.99,229.83 145.11,229.81 145.23,229.80 145.35,229.80 145.46,229.80 145.58,229.82 145.70,229.84 145.82,229.87 145.94,229.91 146.06,229.96 146.17,230.02 146.29,230.10 146.41,230.19 146.53,230.29 146.65,230.41 146.77,230.53 146.88,230.65 147.00,230.77 147.12,230.89 147.24,231.02 147.36,231.15 147.48,231.28 147.59,231.41 147.71,231.55 147.83,231.69 147.95,231.84 148.07,231.99 148.19,232.15 148.30,232.31 148.42,232.48 148.54,232.66 148.66,232.85 148.78,233.06 148.90,233.29 149.01,233.55 149.13,233.94 149.25,234.57 149.25,234.57 149.13,235.20 149.01,235.59 148.90,235.85 148.78,236.08 148.66,236.29 148.54,236.48 148.42,236.66 148.30,236.83 148.19,236.99 148.07,237.15 147.95,237.30 147.83,237.45 147.71,237.59 147.59,237.73 147.48,237.86 147.36,237.99 147.24,238.12 147.12,238.25 147.00,238.37 146.88,238.49 146.77,238.61 146.65,238.73 146.53,238.85 146.41,238.95 146.29,239.04 146.17,239.12 146.06,239.18 145.94,239.23 145.82,239.27 145.70,239.30 145.58,239.32 145.46,239.34 145.35,239.34 145.23,239.34 145.11,239.33 144.99,239.31 144.87,239.28 144.75,239.24 144.64,239.19 144.52,239.13 144.40,239.06 144.28,238.98 144.16,238.89 144.04,238.79 143.93,238.66 143.81,238.49 143.69,238.31 143.57,238.12 143.45,237.93 143.33,237.73 143.22,237.53 143.10,237.32 142.98,237.10 142.86,236.86 142.74,236.61 142.62,236.35 142.50,236.05 142.39,235.72 142.27,235.32 142.15,234.57" fill="#000"/>
<circle cx="147.55" cy="234.57" r="1.55" fill="#CDCD00" stroke="#000" stroke-width="0.95"/>
<circle cx="143.85" cy="234.57" r="1.55" fill="#CDCD00" stroke="#000" stroke-width="0.95"/>
<circle cx="145.71" cy="235.61" r="1.55" fill="#CDCD00" stroke="#000" stroke-width="0.95"/>
<circle cx="145.30" cy="231.47" r="1.55" fill="#CDCD00" stroke="#000" stroke-width="0.95"/>
<circle cx="145.30" cy="237.67" r="1.55" fill="#CDCD00" stroke="#000" stroke-width="0.95"/>
<polygon points="117.05,243.00 117.19,242.26 117.32,241.79 117.46,241.44 117.60,241.13 117.73,240.86 117.87,240.60 118.01,240.36 118.14,240.13 118.28,239.91 118.42,239.70 118.55,239.50 118.69,239.30 118.83,239.11 118.96,238.92 119.10,238.73 119.24,238.58 119.37,238.46 119.51,238.36 119.65,238.28 119.78,238.22 119.92,238.16 120.06,238.11 120.19,238.08 120.33,238.05 120.47,238.04 120.60,238.04 120.74,238.05 120.88,238.07 121.01,238.10 121.15,238.15 121.29,238.21 121.42,238.28 121.56,238.37 121.70,238.47 121.83,238.58 121.97,238.69 122.11,238.80 122.24,238.91 122.38,239.02 122.52,239.14 122.65,239.25 122.79,239.37 122.93,239.49 123.06,239.62 123.20,239.74 123.34,239.87 123.47,240.00 123.61,240.14 123.75,240.28 123.88,240.43 124.02,240.58 124.16,240.74 124.29,240.90 124.43,241.08 124.57,241.26 124.70,241.47 124.84,241.70 124.98,241.95 125.11,242.33 125.25,243.00 125.25,243.00 125.11,243.67 124.98,244.05 124.84,244.30 124.70,244.53 124.57,244.74 124.43,244.92 124.29,245.10 124.16,245.26 124.02,245.42 123.88,245.57 123.75,245.72 123.61,245.86 123.47,246.00 123.34,246.13 123.20,246.26 123.06,246.38 122.93,246.51 122.79,246.63 122.65,246.75 122.52,246.86 122.38,246.98 122.24,247.09 122.11,247.20 121.97,247.31 121.83,247.42 121.70,247.53 121.56,247.63 121.42,247.72 121.29,247.79 121.15,247.85 121.01,247.90 120.88,247.93 120.74,247.95 120.60,247.96 120.47,247.96 120.33,247.95 120.19,247.92 120.06,247.89 119.92,247.84 119.78,247.78 119.65,247.72 119.51,247.64 119.37,247.54 119.24,247.42 119.10,247.27 118.96,247.08 118.83,246.89 118.69,246.70 118.55,246.50 118.42,246.30 118.28,246.09 118.14,245.87 118.01,245.64 117.87,245.40 117.73,245.14 117.60,244.87 117.46,244.56 117.32,244.21 117.19,243.74 117.05,243.00" fill="#000"/>
<circle cx="123.55" cy="243.00" r="1.55" fill="#FFFF00" stroke="#000" stroke-width="0.95"/>
<circle cx="121.09" cy="242.15" r="1.55" fill="#FFFF00" stroke="#000" stroke-width="0.95"/>
<circle cx="121.89" cy="244.73" r="1.55" fill="#FFFF00" stroke="#000" stroke-width="0.95"/>
<circle cx="118.75" cy="243.00" r="1.55" fill="#FFFF00" stroke="#000" stroke-width="0.95"/>
<circle cx="120.50" cy="239.70" r="1.55" fill="#FFFF00" stroke="#000" stroke-width="0.95"/>
<circle cx="120.50" cy="246.30" r="1.55" fill="#FFFF00" stroke="#000" stroke-width="0.95"/>
<circle cx="110.30" cy="226.14" r="1.55" fill="#5CACEE" stroke="#000" stroke-width="0.95"/>
<circle cx="150.00" cy="234.57" r="1.55" fill="#CDCD00" stroke="#000" stroke-width="0.95"/>
<circle cx="124.80" cy="243.00" r="1.55" fill="#FFFF00" stroke="#000" stroke-width="0.95"/>
<circle cx="127.00" cy="243.00" r="1.55" fill="#FFFF00" stroke="#000" stroke-width="0.95"/>
<circle cx="111.00" cy="251.43" r="1.55" fill="#9A32CD" stroke="#000" stroke-width="0.95"/>
<circle cx="112.30" cy="251.43" r="1.55" fill="#9A32CD" stroke="#000" stroke-width="0.95"/>
<circle cx="116.80" cy="251.43" r="1.55" fill="#9A32CD" stroke="#000" stroke-width="0.95"/>
<circle cx="130.00" cy="251.43" r="1.55" fill="#9A32CD" stroke="#000" stroke-width="0.95"/>
<circle cx="140.20" cy="251.43" r="1.55" fill="#9A32CD" stroke="#000" stroke-width="0.95"/>
<circle cx="164.40" cy="251.43" r="1.55" fill="#9A32CD" stroke="#000" stroke-width="0.95"/>
<circle cx="174.40" cy="251.43" r="1.55" fill="#9A32CD" stroke="#000" stroke-width="0.95"/>
<circle cx="180.80" cy="251.43" r="1.55" fill="#9A32CD" stroke="#000" stroke-width="0.95"/>
<circle cx="191.70" cy="251.43" r="1.55" fill="#9A32CD" stroke="#000" stroke-width="0.95"/>
<circle cx="194.40" cy="251.43" r="1.55" fill="#9A32CD" stroke="#000" stroke-width="0.95"/>
<circle cx="197.40" cy="251.43" r="1.55" fill="#9A32CD" stroke="#000" stroke-width="0.95"/>
<circle cx="201.40" cy="251.43" r="1.55" fill="#9A32CD" stroke="#000" stroke-width="0.95"/>
<circle cx="204.40" cy="251.43" r="1.55" fill="#9A32CD" stroke="#000" stroke-width="0.95"/>
<circle cx="110.20" cy="259.86" r="1.55" fill="#BF3EFF" stroke="#000" stroke-width="0.95"/>
<circle cx="193.80" cy="259.86" r="1.55" fill="#BF3EFF" stroke="#000" stroke-width="0.95"/>
<circle cx="201.40" cy="259.86" r="1.55" fill="#BF3EFF" stroke="#000" stroke-width="0.95"/>
<circle cx="204.40" cy="259.86" r="1.55" fill="#BF3EFF" stroke="#000" stroke-width="0.95"/>
<circle cx="206.70" cy="259.86" r="1.55" fill="#BF3EFF" stroke="#000" stroke-width="0.95"/>
<rect x="220.23" y="196.55" width="3.2" height="17.03" rx="1.6" fill="#000"/>
<circle cx="221.83" cy="198.25" r="1.1" fill="#8B3E2F"/>
<circle cx="221.83" cy="200.85" r="1.1" fill="#8B3E2F"/>
<circle cx="221.83" cy="203.45" r="1.1" fill="#8B3E2F"/>
<circle cx="221.83" cy="206.68" r="1.1" fill="#EE6A50"/>
<circle cx="221.83" cy="209.28" r="1.1" fill="#EE6A50"/>
<circle cx="221.83" cy="211.88" r="1.1" fill="#EE6A50"/>
<rect x="220.23" y="221.84" width="3.2" height="8.60" rx="1.6" fill="#000"/>
<circle cx="221.83" cy="223.54" r="1.1" fill="#5CACEE"/>
<circle cx="221.83" cy="226.14" r="1.1" fill="#5CACEE"/>
<circle cx="221.83" cy="228.74" r="1.1" fill="#5CACEE"/>
<rect x="220.23" y="247.13" width="3.2" height="67.61" rx="1.6" fill="#000"/>
<circle cx="221.83" cy="248.83" r="1.1" fill="#9A32CD"/>
<circle cx="221.83" cy="251.43" r="1.1" fill="#9A32CD"/>
<circle cx="221.83" cy="254.03" r="1.1" fill="#9A32CD"/>
<circle cx="221.83" cy="257.26" r="1.1" fill="#BF3EFF"/>
<circle cx="221.83" cy="259.86" r="1.1" fill="#BF3EFF"/>
<circle cx="221.83" cy="262.46" r="1.1" fill="#BF3EFF"/>
<circle cx="221.83" cy="265.69" r="1.1" fill="#CDCDC1"/>
<circle cx="221.83" cy="268.29" r="1.1" fill="#CDCDC1"/>
<circle cx="221.83" cy="270.89" r="1.1" fill="#CDCDC1"/>
<circle cx="221.83" cy="274.12" r="1.1" fill="#2E8B57"/>
<circle cx="221.83" cy="276.72" r="1.1" fill="#2E8B57"/>
<circle cx="221.83" cy="279.32" r="1.1" fill="#2E8B57"/>
<circle cx="221.83" cy="282.55" r="1.1" fill="#FF8C00"/>
<circle cx="221.83" cy="285.15" r="1.1" fill="#FF8C00"/>
<circle cx="221.83" cy="287.75" r="1.1" fill="#FF8C00"/>
<circle cx="221.83" cy="290.98" r="1.1" fill="#104E8B"/>
<circle cx="221.83" cy="293.58" r="1.1" fill="#104E8B"/>
<circle cx="221.83" cy="296.18" r="1.1" fill="#104E8B"/>
<circle cx="221.83" cy="299.41" r="1.1" fill="#7CCD7C"/>
<circle cx="221.83" cy="302.01" r="1.1" fill="#7CCD7C"/>
<circle cx="221.83" cy="304.61" r="1.1" fill="#7CCD7C"/>
<circle cx="221.83" cy="307.84" r="1.1" fill="#BEBEBE"/>
<circle cx="221.83" cy="310.44" r="1.1" fill="#BEBEBE"/>
<circle cx="221.83" cy="313.04" r="1.1" fill="#BEBEBE"/>
<polygon points="219.95,251.43 220.11,250.25 220.28,249.53 220.44,248.93 220.60,248.36 220.77,248.10 220.93,247.89 221.09,247.70 221.26,247.56 221.42,247.45 221.58,247.36 221.75,247.30 221.91,247.25 222.07,247.22 222.24,247.21 222.40,247.21 222.56,247.23 222.73,247.26 222.89,247.31 223.05,247.37 223.22,247.42 223.38,247.47 223.54,247.52 223.71,247.57 223.87,247.63 224.03,247.68 224.20,247.73 224.36,247.79 224.52,247.84 224.69,247.90 224.85,247.96 225.01,248.01 225.18,248.07 225.34,248.13 225.50,248.19 225.67,248.25 225.83,248.31 225.99,248.37 226.16,248.44 226.32,248.50 226.48,248.57 226.65,248.63 226.81,248.70 226.97,248.77 227.14,248.85 227.30,248.92 227.46,249.00 227.63,249.08 227.79,249.16 227.95,249.25 228.12,249.33 228.28,249.43 228.44,249.53 228.61,249.64 228.77,249.75 228.93,249.88 229.10,250.03 229.26,250.22 229.42,250.43 229.59,250.70 229.75,251.43 229.75,251.43 229.59,252.16 229.42,252.43 229.26,252.64 229.10,252.83 228.93,252.98 228.77,253.11 228.61,253.22 228.44,253.33 228.28,253.43 228.12,253.53 227.95,253.61 227.79,253.70 227.63,253.78 227.46,253.86 227.30,253.94 227.14,254.01 226.97,254.09 226.81,254.16 226.65,254.23 226.48,254.29 226.32,254.36 226.16,254.42 225.99,254.49 225.83,254.55 225.67,254.61 225.50,254.67 225.34,254.73 225.18,254.79 225.01,254.85 224.85,254.90 224.69,254.96 224.52,255.02 224.36,255.07 224.20,255.13 224.03,255.18 223.87,255.23 223.71,255.29 223.54,255.34 223.38,255.39 223.22,255.44 223.05,255.49 222.89,255.55 222.73,255.60 222.56,255.63 222.40,255.65 222.24,255.65 222.07,255.64 221.91,255.61 221.75,255.56 221.58,255.50 221.42,255.41 221.26,255.30 221.09,255.16 220.93,254.97 220.77,254.76 220.60,254.50 220.44,253.93 220.28,253.33 220.11,252.61 219.95,251.43" fill="#000"/>
<circle cx="228.05" cy="251.43" r="1.55" fill="#9A32CD" stroke="#000" stroke-width="0.95"/>
<circle cx="221.65" cy="251.43" r="1.55" fill="#9A32CD" stroke="#000" stroke-width="0.95"/>
<circle cx="222.20" cy="248.88" r="1.55" fill="#9A32CD" stroke="#000" stroke-width="0.95"/>
<circle cx="223.81" cy="252.53" r="1.55" fill="#9A32CD" stroke="#000" stroke-width="0.95"/>
<circle cx="225.92" cy="252.69" r="1.55" fill="#9A32CD" stroke="#000" stroke-width="0.95"/>
<circle cx="225.92" cy="250.17" r="1.55" fill="#9A32CD" stroke="#000" stroke-width="0.95"/>
<circle cx="222.20" cy="253.98" r="1.55" fill="#9A32CD" stroke="#000" stroke-width="0.95"/>
<circle cx="223.77" cy="250.41" r="1.55" fill="#9A32CD" stroke="#000" stroke-width="0.95"/>
<polygon points="222.15,217.71 222.23,216.72 222.31,216.13 222.40,215.63 222.48,215.19 222.56,214.78 222.64,214.39 222.72,214.13 222.80,213.95 222.89,213.82 222.97,213.71 223.05,213.61 223.13,213.53 223.21,213.45 223.29,213.39 223.38,213.33 223.46,213.28 223.54,213.24 223.62,213.20 223.70,213.17 223.78,213.14 223.87,213.12 223.95,213.10 224.03,213.08 224.11,213.07 224.19,213.06 224.27,213.06 224.36,213.06 224.44,213.07 224.52,213.07 224.60,213.09 224.68,213.10 224.76,213.12 224.85,213.15 224.93,213.18 225.01,213.21 225.09,213.25 225.17,213.30 225.25,213.35 225.34,213.41 225.42,213.48 225.50,213.55 225.58,213.64 225.66,213.74 225.74,213.86 225.83,214.01 225.91,214.17 225.99,214.34 226.07,214.51 226.15,214.68 226.23,214.87 226.32,215.05 226.40,215.25 226.48,215.45 226.56,215.66 226.64,215.89 226.72,216.13 226.81,216.39 226.89,216.68 226.97,217.04 227.05,217.71 227.05,217.71 226.97,218.38 226.89,218.74 226.81,219.03 226.72,219.29 226.64,219.53 226.56,219.76 226.48,219.97 226.40,220.17 226.32,220.37 226.23,220.55 226.15,220.74 226.07,220.91 225.99,221.08 225.91,221.25 225.83,221.41 225.74,221.56 225.66,221.68 225.58,221.78 225.50,221.87 225.42,221.94 225.34,222.01 225.25,222.07 225.17,222.12 225.09,222.17 225.01,222.21 224.93,222.24 224.85,222.27 224.76,222.30 224.68,222.32 224.60,222.33 224.52,222.35 224.44,222.35 224.36,222.36 224.27,222.36 224.19,222.36 224.11,222.35 224.03,222.34 223.95,222.32 223.87,222.30 223.78,222.28 223.70,222.25 223.62,222.22 223.54,222.18 223.46,222.14 223.38,222.09 223.29,222.03 223.21,221.97 223.13,221.89 223.05,221.81 222.97,221.71 222.89,221.60 222.80,221.47 222.72,221.29 222.64,221.03 222.56,220.64 222.48,220.23 222.40,219.79 222.31,219.29 222.23,218.70 222.15,217.71" fill="#000"/>
<circle cx="225.35" cy="217.71" r="1.55" fill="#FF00FF" stroke="#000" stroke-width="0.95"/>
<circle cx="224.30" cy="220.66" r="1.55" fill="#FF00FF" stroke="#000" stroke-width="0.95"/>
<circle cx="224.30" cy="214.76" r="1.55" fill="#FF00FF" stroke="#000" stroke-width="0.95"/>
<circle cx="223.85" cy="217.71" r="1.55" fill="#FF00FF" stroke="#000" stroke-width="0.95"/>
<polygon points="232.05,234.57 232.15,233.80 232.25,233.39 232.36,233.05 232.46,232.75 232.56,232.46 232.66,232.20 232.76,231.96 232.86,231.72 232.97,231.50 233.07,231.28 233.17,231.07 233.27,230.87 233.37,230.67 233.47,230.47 233.58,230.31 233.68,230.18 233.78,230.07 233.88,229.98 233.98,229.90 234.08,229.83 234.19,229.78 234.29,229.73 234.39,229.69 234.49,229.65 234.59,229.63 234.69,229.61 234.80,229.59 234.90,229.58 235.00,229.57 235.10,229.57 235.20,229.58 235.30,229.59 235.41,229.61 235.51,229.64 235.61,229.67 235.71,229.71 235.81,229.76 235.91,229.82 236.02,229.89 236.12,229.96 236.22,230.05 236.32,230.16 236.42,230.29 236.52,230.45 236.63,230.62 236.73,230.79 236.83,230.97 236.93,231.15 237.03,231.34 237.13,231.53 237.24,231.73 237.34,231.94 237.44,232.15 237.54,232.37 237.64,232.61 237.74,232.87 237.85,233.14 237.95,233.46 238.05,233.84 238.15,234.57 238.15,234.57 238.05,235.30 237.95,235.68 237.85,236.00 237.74,236.27 237.64,236.53 237.54,236.77 237.44,236.99 237.34,237.20 237.24,237.41 237.13,237.61 237.03,237.80 236.93,237.99 236.83,238.17 236.73,238.35 236.63,238.52 236.52,238.69 236.42,238.85 236.32,238.98 236.22,239.09 236.12,239.18 236.02,239.25 235.91,239.32 235.81,239.38 235.71,239.43 235.61,239.47 235.51,239.50 235.41,239.53 235.30,239.55 235.20,239.56 235.10,239.57 235.00,239.57 234.90,239.56 234.80,239.55 234.69,239.53 234.59,239.51 234.49,239.49 234.39,239.45 234.29,239.41 234.19,239.36 234.08,239.31 233.98,239.24 233.88,239.16 233.78,239.07 233.68,238.96 233.58,238.83 233.47,238.67 233.37,238.47 233.27,238.27 233.17,238.07 233.07,237.86 232.97,237.64 232.86,237.42 232.76,237.18 232.66,236.94 232.56,236.68 232.46,236.39 232.36,236.09 232.25,235.75 232.15,235.34 232.05,234.57" fill="#000"/>
<circle cx="233.75" cy="234.57" r="1.55" fill="#CDCD00" stroke="#000" stroke-width="0.95"/>
<circle cx="235.00" cy="231.22" r="1.55" fill="#CDCD00" stroke="#000" stroke-width="0.95"/>
<circle cx="235.00" cy="237.92" r="1.55" fill="#CDCD00" stroke="#000" stroke-width="0.95"/>
<circle cx="236.45" cy="234.57" r="1.55" fill="#CDCD00" stroke="#000" stroke-width="0.95"/>
<polygon points="237.05,243.00 237.19,242.32 237.33,241.83 237.47,241.51 237.61,241.24 237.75,240.99 237.89,240.76 238.03,240.54 238.17,240.33 238.31,240.13 238.45,239.94 238.59,239.75 238.73,239.57 238.87,239.40 239.01,239.22 239.15,239.06 239.29,238.89 239.43,238.73 239.57,238.58 239.71,238.46 239.85,238.36 239.99,238.29 240.13,238.22 240.27,238.17 240.41,238.14 240.55,238.12 240.69,238.11 240.83,238.11 240.97,238.11 241.11,238.12 241.25,238.15 241.39,238.19 241.53,238.24 241.67,238.31 241.81,238.39 241.95,238.49 242.09,238.60 242.23,238.71 242.37,238.83 242.51,238.94 242.65,239.06 242.79,239.18 242.93,239.30 243.07,239.42 243.21,239.55 243.35,239.68 243.49,239.81 243.63,239.95 243.77,240.09 243.91,240.23 244.05,240.38 244.19,240.53 244.33,240.70 244.47,240.86 244.61,241.04 244.75,241.23 244.89,241.44 245.03,241.68 245.17,241.94 245.31,242.32 245.45,243.00 245.45,243.00 245.31,243.68 245.17,244.06 245.03,244.32 244.89,244.56 244.75,244.77 244.61,244.96 244.47,245.14 244.33,245.30 244.19,245.47 244.05,245.62 243.91,245.77 243.77,245.91 243.63,246.05 243.49,246.19 243.35,246.32 243.21,246.45 243.07,246.58 242.93,246.70 242.79,246.82 242.65,246.94 242.51,247.06 242.37,247.17 242.23,247.29 242.09,247.40 241.95,247.51 241.81,247.61 241.67,247.69 241.53,247.76 241.39,247.81 241.25,247.85 241.11,247.88 240.97,247.89 240.83,247.89 240.69,247.89 240.55,247.88 240.41,247.86 240.27,247.83 240.13,247.78 239.99,247.71 239.85,247.64 239.71,247.54 239.57,247.42 239.43,247.27 239.29,247.11 239.15,246.94 239.01,246.78 238.87,246.60 238.73,246.43 238.59,246.25 238.45,246.06 238.31,245.87 238.17,245.67 238.03,245.46 237.89,245.24 237.75,245.01 237.61,244.76 237.47,244.49 237.33,244.17 237.19,243.68 237.05,243.00" fill="#000"/>
<circle cx="238.75" cy="243.00" r="1.55" fill="#FFFF00" stroke="#000" stroke-width="0.95"/>
<circle cx="240.80" cy="239.75" r="1.55" fill="#FFFF00" stroke="#000" stroke-width="0.95"/>
<circle cx="241.38" cy="243.42" r="1.55" fill="#FFFF00" stroke="#000" stroke-width="0.95"/>
<circle cx="240.80" cy="246.25" r="1.55" fill="#FFFF00" stroke="#000" stroke-width="0.95"/>
<circle cx="242.12" cy="241.38" r="1.55" fill="#FFFF00" stroke="#000" stroke-width="0.95"/>
<circle cx="243.75" cy="243.00" r="1.55" fill="#FFFF00" stroke="#000" stroke-width="0.95"/>
<circle cx="225.50" cy="251.43" r="1.55" fill="#9A32CD" stroke="#000" stroke-width="0.95"/>
<circle cx="227.80" cy="251.43" r="1.55" fill="#9A32CD" stroke="#000" stroke-width="0.95"/>
<circle cx="233.00" cy="251.43" r="1.55" fill="#9A32CD" stroke="#000" stroke-width="0.95"/>
<circle cx="234.80" cy="251.43" r="1.55" fill="#9A32CD" stroke="#000" stroke-width="0.95"/>
<circle cx="239.00" cy="251.43" r="1.55" fill="#9A32CD" stroke="#000" stroke-width="0.95"/>
<circle cx="256.90" cy="251.43" r="1.55" fill="#9A32CD" stroke="#000" stroke-width="0.95"/>
<circle cx="266.00" cy="251.43" r="1.55" fill="#9A32CD" stroke="#000" stroke-width="0.95"/>
<circle cx="281.90" cy="251.43" r="1.55" fill="#9A32CD" stroke="#000" stroke-width="0.95"/>
<circle cx="284.90" cy="251.43" r="1.55" fill="#9A32CD" stroke="#000" stroke-width="0.95"/>
<circle cx="289.50" cy="251.43" r="1.55" fill="#9A32CD" stroke="#000" stroke-width="0.95"/>
<circle cx="291.20" cy="251.43" r="1.55" fill="#9A32CD" stroke="#000" stroke-width="0.95"/>
<circle cx="301.80" cy="251.43" r="1.55" fill="#9A32CD" stroke="#000" stroke-width="0.95"/>
<circle cx="307.80" cy="251.43" r="1.55" fill="#9A32CD" stroke="#000" stroke-width="0.95"/>
<circle cx="311.00" cy="251.43" r="1.55" fill="#9A32CD" stroke="#000" stroke-width="0.95"/>
<circle cx="315.40" cy="251.43" r="1.55" fill="#9A32CD" stroke="#000" stroke-width="0.95"/>
<circle cx="318.00" cy="251.43" r="1.55" fill="#9A32CD" stroke="#000" stroke-width="0.95"/>
<circle cx="226.00" cy="259.86" r="1.55" fill="#BF3EFF" stroke="#000" stroke-width="0.95"/>
<circle cx="292.00" cy="259.86" r="1.55" fill="#BF3EFF" stroke="#000" stroke-width="0.95"/>
<circle cx="298.30" cy="259.86" r="1.55" fill="#BF3EFF" stroke="#000" stroke-width="0.95"/>
<circle cx="305.40" cy="259.86" r="1.55" fill="#BF3EFF" stroke="#000" stroke-width="0.95"/>
<circle cx="308.40" cy="259.86" r="1.55" fill="#BF3EFF" stroke="#000" stroke-width="0.95"/>
<circle cx="310.60" cy="259.86" r="1.55" fill="#BF3EFF" stroke="#000" stroke-width="0.95"/>
<circle cx="313.60" cy="259.86" r="1.55" fill="#BF3EFF" stroke="#000" stroke-width="0.95"/>
<circle cx="318.00" cy="259.86" r="1.55" fill="#BF3EFF" stroke="#000" stroke-width="0.95"/>
<circle cx="319.50" cy="259.86" r="1.55" fill="#BF3EFF" stroke="#000" stroke-width="0.95"/>
<rect x="333.61" y="196.55" width="3.2" height="33.89" rx="1.6" fill="#000"/>
<circle cx="335.21" cy="198.25" r="1.1" fill="#8B3E2F"/>
<circle cx="335.21" cy="200.85" r="1.1" fill="#8B3E2F"/>
<circle cx="335.21" cy="203.45" r="1.1" fill="#8B3E2F"/>
<circle cx="335.21" cy="206.68" r="1.1" fill="#EE6A50"/>
<circle cx="335.21" cy="209.28" r="1.1" fill="#EE6A50"/>
<circle cx="335.21" cy="211.88" r="1.1" fill="#EE6A50"/>
<circle cx="335.21" cy="215.11" r="1.1" fill="#FF00FF"/>
<circle cx="335.21" cy="217.71" r="1.1" fill="#FF00FF"/>
<circle cx="335.21" cy="220.31" r="1.1" fill="#FF00FF"/>
<circle cx="335.21" cy="223.54" r="1.1" fill="#5CACEE"/>
<circle cx="335.21" cy="226.14" r="1.1" fill="#5CACEE"/>
<circle cx="335.21" cy="228.74" r="1.1" fill="#5CACEE"/>
<rect x="333.61" y="247.13" width="3.2" height="67.61" rx="1.6" fill="#000"/>
<circle cx="335.21" cy="248.83" r="1.1" fill="#9A32CD"/>
<circle cx="335.21" cy="251.43" r="1.1" fill="#9A32CD"/>
<circle cx="335.21" cy="254.03" r="1.1" fill="#9A32CD"/>
<circle cx="335.21" cy="257.26" r="1.1" fill="#BF3EFF"/>
<circle cx="335.21" cy="259.86" r="1.1" fill="#BF3EFF"/>
<circle cx="335.21" cy="262.46" r="1.1" fill="#BF3EFF"/>
<circle cx="335.21" cy="265.69" r="1.1" fill="#CDCDC1"/>
<circle cx="335.21" cy="268.29" r="1.1" fill="#CDCDC1"/>
<circle cx="335.21" cy="270.89" r="1.1" fill="#CDCDC1"/>
<circle cx="335.21" cy="274.12" r="1.1" fill="#2E8B57"/>
<circle cx="335.21" cy="276.72" r="1.1" fill="#2E8B57"/>
<circle cx="335.21" cy="279.32" r="1.1" fill="#2E8B57"/>
<circle cx="335.21" cy="282.55" r="1.1" fill="#FF8C00"/>
<circle cx="335.21" cy="285.15" r="1.1" fill="#FF8C00"/>
<circle cx="335.21" cy="287.75" r="1.1" fill="#FF8C00"/>
<circle cx="335.21" cy="290.98" r="1.1" fill="#104E8B"/>
<circle cx="335.21" cy="293.58" r="1.1" fill="#104E8B"/>
<circle cx="335.21" cy="296.18" r="1.1" fill="#104E8B"/>
<circle cx="335.21" cy="299.41" r="1.1" fill="#7CCD7C"/>
<circle cx="335.21" cy="302.01" r="1.1" fill="#7CCD7C"/>
<circle cx="335.21" cy="304.61" r="1.1" fill="#7CCD7C"/>
<circle cx="335.21" cy="307.84" r="1.1" fill="#BEBEBE"/>
<circle cx="335.21" cy="310.44" r="1.1" fill="#BEBEBE"/>
<circle cx="335.21" cy="313.04" r="1.1" fill="#BEBEBE"/>
<polygon points="333.05,251.43 333.25,250.64 333.44,249.22 333.63,248.35 333.83,247.88 334.03,247.56 334.22,247.35 334.42,247.19 334.61,247.08 334.81,247.00 335.00,246.94 335.19,246.91 335.39,246.90 335.59,246.91 335.78,246.95 335.98,247.00 336.17,247.05 336.37,247.10 336.56,247.15 336.75,247.21 336.95,247.26 337.15,247.31 337.34,247.37 337.54,247.42 337.73,247.47 337.93,247.53 338.12,247.58 338.31,247.64 338.51,247.70 338.71,247.75 338.90,247.81 339.10,247.87 339.29,247.93 339.49,247.99 339.68,248.05 339.88,248.12 340.07,248.18 340.27,248.24 340.46,248.31 340.66,248.37 340.85,248.44 341.05,248.51 341.24,248.58 341.44,248.66 341.63,248.73 341.83,248.80 342.02,248.88 342.22,248.96 342.41,249.05 342.61,249.14 342.80,249.23 343.00,249.32 343.19,249.42 343.39,249.54 343.58,249.65 343.78,249.78 343.97,249.93 344.17,250.14 344.36,250.35 344.56,250.64 344.75,251.43 344.75,251.43 344.56,252.22 344.36,252.51 344.17,252.72 343.97,252.93 343.78,253.08 343.58,253.21 343.39,253.32 343.19,253.44 343.00,253.54 342.80,253.63 342.61,253.72 342.41,253.81 342.22,253.90 342.02,253.98 341.83,254.06 341.63,254.13 341.44,254.20 341.24,254.28 341.05,254.35 340.85,254.42 340.66,254.49 340.46,254.55 340.27,254.62 340.07,254.68 339.88,254.74 339.68,254.81 339.49,254.87 339.29,254.93 339.10,254.99 338.90,255.05 338.71,255.11 338.51,255.16 338.31,255.22 338.12,255.28 337.93,255.33 337.73,255.39 337.54,255.44 337.34,255.49 337.15,255.55 336.95,255.60 336.75,255.65 336.56,255.71 336.37,255.76 336.17,255.81 335.98,255.86 335.78,255.91 335.59,255.95 335.39,255.96 335.19,255.95 335.00,255.92 334.81,255.86 334.61,255.78 334.42,255.67 334.22,255.51 334.03,255.30 333.83,254.98 333.63,254.51 333.44,253.64 333.25,252.22 333.05,251.43" fill="#000"/>
<circle cx="337.49" cy="251.40" r="1.55" fill="#9A32CD" stroke="#000" stroke-width="0.95"/>
<circle cx="335.30" cy="254.28" r="1.55" fill="#9A32CD" stroke="#000" stroke-width="0.95"/>
<circle cx="340.98" cy="250.30" r="1.55" fill="#9A32CD" stroke="#000" stroke-width="0.95"/>
<circle cx="343.05" cy="251.43" r="1.55" fill="#9A32CD" stroke="#000" stroke-width="0.95"/>
<circle cx="335.30" cy="248.58" r="1.55" fill="#9A32CD" stroke="#000" stroke-width="0.95"/>
<circle cx="340.98" cy="252.56" r="1.55" fill="#9A32CD" stroke="#000" stroke-width="0.95"/>
<circle cx="338.90" cy="249.59" r="1.55" fill="#9A32CD" stroke="#000" stroke-width="0.95"/>
<circle cx="338.90" cy="253.27" r="1.55" fill="#9A32CD" stroke="#000" stroke-width="0.95"/>
<circle cx="334.75" cy="251.43" r="1.55" fill="#9A32CD" stroke="#000" stroke-width="0.95"/>
<polygon points="333.05,259.86 333.25,259.07 333.44,257.65 333.63,256.78 333.83,256.31 334.03,255.99 334.22,255.78 334.42,255.62 334.61,255.51 334.81,255.43 335.00,255.37 335.19,255.34 335.39,255.33 335.59,255.34 335.78,255.38 335.98,255.43 336.17,255.48 336.37,255.53 336.56,255.58 336.75,255.64 336.95,255.69 337.15,255.74 337.34,255.80 337.54,255.85 337.73,255.90 337.93,255.96 338.12,256.01 338.31,256.07 338.51,256.13 338.71,256.18 338.90,256.24 339.10,256.30 339.29,256.36 339.49,256.42 339.68,256.48 339.88,256.55 340.07,256.61 340.27,256.67 340.46,256.74 340.66,256.80 340.85,256.87 341.05,256.94 341.24,257.01 341.44,257.09 341.63,257.16 341.83,257.23 342.02,257.31 342.22,257.39 342.41,257.48 342.61,257.57 342.80,257.66 343.00,257.75 343.19,257.85 343.39,257.97 343.58,258.08 343.78,258.21 343.97,258.36 344.17,258.57 344.36,258.78 344.56,259.07 344.75,259.86 344.75,259.86 344.56,260.65 344.36,260.94 344.17,261.15 343.97,261.36 343.78,261.51 343.58,261.64 343.39,261.75 343.19,261.87 343.00,261.97 342.80,262.06 342.61,262.15 342.41,262.24 342.22,262.33 342.02,262.41 341.83,262.49 341.63,262.56 341.44,262.63 341.24,262.71 341.05,262.78 340.85,262.85 340.66,262.92 340.46,262.98 340.27,263.05 340.07,263.11 339.88,263.17 339.68,263.24 339.49,263.30 339.29,263.36 339.10,263.42 338.90,263.48 338.71,263.54 338.51,263.59 338.31,263.65 338.12,263.71 337.93,263.76 337.73,263.82 337.54,263.87 337.34,263.92 337.15,263.98 336.95,264.03 336.75,264.08 336.56,264.14 336.37,264.19 336.17,264.24 335.98,264.29 335.78,264.34 335.59,264.38 335.39,264.39 335.19,264.38 335.00,264.35 334.81,264.29 334.61,264.21 334.42,264.10 334.22,263.94 334.03,263.73 333.83,263.41 333.63,262.94 333.44,262.07 333.25,260.65 333.05,259.86" fill="#000"/>
<circle cx="335.30" cy="257.01" r="1.55" fill="#BF3EFF" stroke="#000" stroke-width="0.95"/>
<circle cx="340.98" cy="260.99" r="1.55" fill="#BF3EFF" stroke="#000" stroke-width="0.95"/>
<circle cx="336.76" cy="258.70" r="1.55" fill="#BF3EFF" stroke="#000" stroke-width="0.95"/>
<circle cx="336.67" cy="261.11" r="1.55" fill="#BF3EFF" stroke="#000" stroke-width="0.95"/>
<circle cx="340.98" cy="258.73" r="1.55" fill="#BF3EFF" stroke="#000" stroke-width="0.95"/>
<circle cx="338.90" cy="261.70" r="1.55" fill="#BF3EFF" stroke="#000" stroke-width="0.95"/>
<circle cx="338.90" cy="258.02" r="1.55" fill="#BF3EFF" stroke="#000" stroke-width="0.95"/>
<circle cx="343.05" cy="259.86" r="1.55" fill="#BF3EFF" stroke="#000" stroke-width="0.95"/>
<circle cx="335.30" cy="262.71" r="1.55" fill="#BF3EFF" stroke="#000" stroke-width="0.95"/>
<circle cx="334.75" cy="259.86" r="1.55" fill="#BF3EFF" stroke="#000" stroke-width="0.95"/>
<polygon points="333.05,234.57 333.29,233.70 333.52,233.03 333.76,232.64 334.00,232.28 334.23,231.93 334.47,231.62 334.71,231.34 334.94,231.07 335.18,230.80 335.42,230.60 335.65,230.47 335.89,230.37 336.13,230.28 336.36,230.22 336.60,230.20 336.84,230.21 337.07,230.26 337.31,230.30 337.55,230.35 337.78,230.40 338.02,230.46 338.26,230.51 338.49,230.57 338.73,230.62 338.97,230.67 339.20,230.72 339.44,230.77 339.68,230.83 339.91,230.89 340.15,230.95 340.39,231.00 340.62,231.06 340.86,231.11 341.10,231.17 341.33,231.23 341.57,231.30 341.81,231.36 342.04,231.42 342.28,231.48 342.52,231.55 342.75,231.61 342.99,231.68 343.23,231.75 343.46,231.83 343.70,231.90 343.94,231.97 344.17,232.05 344.41,232.13 344.65,232.22 344.88,232.30 345.12,232.39 345.36,232.49 345.59,232.60 345.83,232.71 346.07,232.83 346.30,232.98 346.54,233.19 346.78,233.39 347.01,233.70 347.25,234.57 347.25,234.57 347.01,235.44 346.78,235.75 346.54,235.95 346.30,236.16 346.07,236.31 345.83,236.43 345.59,236.54 345.36,236.65 345.12,236.75 344.88,236.84 344.65,236.92 344.41,237.01 344.17,237.09 343.94,237.17 343.70,237.24 343.46,237.31 343.23,237.39 342.99,237.46 342.75,237.53 342.52,237.59 342.28,237.66 342.04,237.72 341.81,237.78 341.57,237.84 341.33,237.91 341.10,237.97 340.86,238.03 340.62,238.08 340.39,238.14 340.15,238.19 339.91,238.25 339.68,238.31 339.44,238.37 339.20,238.42 338.97,238.47 338.73,238.52 338.49,238.57 338.26,238.63 338.02,238.68 337.78,238.74 337.55,238.79 337.31,238.84 337.07,238.88 336.84,238.93 336.60,238.94 336.36,238.92 336.13,238.86 335.89,238.77 335.65,238.67 335.42,238.54 335.18,238.34 334.94,238.07 334.71,237.80 334.47,237.52 334.23,237.21 334.00,236.86 333.76,236.50 333.52,236.11 333.29,235.44 333.05,234.57" fill="#000"/>
<circle cx="343.39" cy="235.56" r="1.55" fill="#CDCD00" stroke="#000" stroke-width="0.95"/>
<circle cx="341.23" cy="232.96" r="1.55" fill="#CDCD00" stroke="#000" stroke-width="0.95"/>
<circle cx="341.23" cy="236.18" r="1.55" fill="#CDCD00" stroke="#000" stroke-width="0.95"/>
<circle cx="336.50" cy="231.87" r="1.55" fill="#CDCD00" stroke="#000" stroke-width="0.95"/>
<circle cx="345.55" cy="234.57" r="1.55" fill="#CDCD00" stroke="#000" stroke-width="0.95"/>
<circle cx="337.13" cy="234.63" r="1.55" fill="#CDCD00" stroke="#000" stroke-width="0.95"/>
<circle cx="334.75" cy="234.57" r="1.55" fill="#CDCD00" stroke="#000" stroke-width="0.95"/>
<circle cx="339.07" cy="236.71" r="1.55" fill="#CDCD00" stroke="#000" stroke-width="0.95"/>
<circle cx="339.79" cy="234.71" r="1.55" fill="#CDCD00" stroke="#000" stroke-width="0.95"/>
<circle cx="336.50" cy="237.27" r="1.55" fill="#CDCD00" stroke="#000" stroke-width="0.95"/>
<circle cx="339.07" cy="232.43" r="1.55" fill="#CDCD00" stroke="#000" stroke-width="0.95"/>
<polygon points="338.75,243.00 339.09,241.98 339.43,241.62 339.77,241.22 340.12,241.00 340.46,240.74 340.80,240.54 341.14,240.37 341.48,240.17 341.82,239.99 342.17,239.84 342.51,239.69 342.85,239.52 343.19,239.37 343.53,239.24 343.88,239.11 344.22,238.96 344.56,238.82 344.90,238.70 345.24,238.58 345.58,238.46 345.93,238.40 346.27,238.42 346.61,238.49 346.95,238.56 347.29,238.61 347.63,238.67 347.98,238.73 348.32,238.80 348.66,238.87 349.00,238.92 349.34,238.99 349.68,239.05 350.03,239.13 350.37,239.20 350.71,239.26 351.05,239.32 351.39,239.40 351.73,239.48 352.07,239.55 352.42,239.62 352.76,239.69 353.10,239.77 353.44,239.86 353.78,239.93 354.12,240.01 354.47,240.10 354.81,240.19 355.15,240.28 355.49,240.37 355.83,240.46 356.18,240.57 356.52,240.68 356.86,240.78 357.20,240.91 357.54,241.06 357.88,241.19 358.23,241.42 358.57,241.64 358.91,241.98 359.25,243.00 359.25,243.00 358.91,244.02 358.57,244.36 358.23,244.58 357.88,244.81 357.54,244.94 357.20,245.09 356.86,245.22 356.52,245.32 356.18,245.43 355.83,245.54 355.49,245.63 355.15,245.72 354.81,245.81 354.47,245.90 354.12,245.99 353.78,246.07 353.44,246.14 353.10,246.23 352.76,246.31 352.42,246.38 352.07,246.45 351.73,246.52 351.39,246.60 351.05,246.68 350.71,246.74 350.37,246.80 350.03,246.87 349.68,246.95 349.34,247.01 349.00,247.08 348.66,247.13 348.32,247.20 347.98,247.27 347.63,247.33 347.29,247.39 346.95,247.44 346.61,247.51 346.27,247.58 345.93,247.60 345.58,247.54 345.24,247.42 344.90,247.30 344.56,247.18 344.22,247.04 343.88,246.89 343.53,246.76 343.19,246.63 342.85,246.48 342.51,246.31 342.17,246.16 341.82,246.01 341.48,245.83 341.14,245.63 340.80,245.46 340.46,245.26 340.12,245.00 339.77,244.78 339.43,244.38 339.09,244.02 338.75,243.00" fill="#000"/>
<circle cx="342.59" cy="244.49" r="1.55" fill="#FFFF00" stroke="#000" stroke-width="0.95"/>
<circle cx="349.00" cy="245.35" r="1.55" fill="#FFFF00" stroke="#000" stroke-width="0.95"/>
<circle cx="340.45" cy="243.00" r="1.55" fill="#FFFF00" stroke="#000" stroke-width="0.95"/>
<circle cx="351.14" cy="241.08" r="1.55" fill="#FFFF00" stroke="#000" stroke-width="0.95"/>
<circle cx="351.14" cy="244.92" r="1.55" fill="#FFFF00" stroke="#000" stroke-width="0.95"/>
<circle cx="344.78" cy="243.23" r="1.55" fill="#FFFF00" stroke="#000" stroke-width="0.95"/>
<circle cx="342.59" cy="241.51" r="1.55" fill="#FFFF00" stroke="#000" stroke-width="0.95"/>
<circle cx="346.92" cy="242.12" r="1.55" fill="#FFFF00" stroke="#000" stroke-width="0.95"/>
<circle cx="346.00" cy="240.10" r="1.55" fill="#FFFF00" stroke="#000" stroke-width="0.95"/>
<circle cx="346.00" cy="245.90" r="1.55" fill="#FFFF00" stroke="#000" stroke-width="0.95"/>
<circle cx="355.41" cy="243.89" r="1.55" fill="#FFFF00" stroke="#000" stroke-width="0.95"/>
<circle cx="349.00" cy="240.65" r="1.55" fill="#FFFF00" stroke="#000" stroke-width="0.95"/>
<circle cx="353.27" cy="244.45" r="1.55" fill="#FFFF00" stroke="#000" stroke-width="0.95"/>
<circle cx="349.17" cy="242.84" r="1.55" fill="#FFFF00" stroke="#000" stroke-width="0.95"/>
<circle cx="357.55" cy="243.00" r="1.55" fill="#FFFF00" stroke="#000" stroke-width="0.95"/>
<circle cx="353.27" cy="241.55" r="1.55" fill="#FFFF00" stroke="#000" stroke-width="0.95"/>
<circle cx="338.00" cy="226.14" r="1.55" fill="#5CACEE" stroke="#000" stroke-width="0.95"/>
<circle cx="340.20" cy="226.14" r="1.55" fill="#5CACEE" stroke="#000" stroke-width="0.95"/>
<circle cx="346.80" cy="234.57" r="1.55" fill="#CDCD00" stroke="#000" stroke-width="0.95"/>
<circle cx="349.15" cy="234.57" r="1.55" fill="#CDCD00" stroke="#000" stroke-width="0.95"/>
<circle cx="351.50" cy="234.57" r="1.55" fill="#CDCD00" stroke="#000" stroke-width="0.95"/>
<circle cx="353.85" cy="234.57" r="1.55" fill="#CDCD00" stroke="#000" stroke-width="0.95"/>
<circle cx="356.20" cy="234.57" r="1.55" fill="#CDCD00" stroke="#000" stroke-width="0.95"/>
<circle cx="358.55" cy="234.57" r="1.55" fill="#CDCD00" stroke="#000" stroke-width="0.95"/>
<circle cx="360.90" cy="234.57" r="1.55" fill="#CDCD00" stroke="#000" stroke-width="0.95"/>
<circle cx="363.25" cy="234.57" r="1.55" fill="#CDCD00" stroke="#000" stroke-width="0.95"/>
<circle cx="365.60" cy="234.57" r="1.55" fill="#CDCD00" stroke="#000" stroke-width="0.95"/>
<circle cx="367.95" cy="234.57" r="1.55" fill="#CDCD00" stroke="#000" stroke-width="0.95"/>
<circle cx="370.30" cy="234.57" r="1.55" fill="#CDCD00" stroke="#000" stroke-width="0.95"/>
<circle cx="358.50" cy="243.00" r="1.55" fill="#FFFF00" stroke="#000" stroke-width="0.95"/>
<circle cx="360.90" cy="243.00" r="1.55" fill="#FFFF00" stroke="#000" stroke-width="0.95"/>
<circle cx="363.30" cy="243.00" r="1.55" fill="#FFFF00" stroke="#000" stroke-width="0.95"/>
<circle cx="365.70" cy="243.00" r="1.55" fill="#FFFF00" stroke="#000" stroke-width="0.95"/>
<circle cx="368.10" cy="243.00" r="1.55" fill="#FFFF00" stroke="#000" stroke-width="0.95"/>
<circle cx="370.50" cy="243.00" r="1.55" fill="#FFFF00" stroke="#000" stroke-width="0.95"/>
<circle cx="372.90" cy="243.00" r="1.55" fill="#FFFF00" stroke="#000" stroke-width="0.95"/>
<circle cx="375.30" cy="243.00" r="1.55" fill="#FFFF00" stroke="#000" stroke-width="0.95"/>
<circle cx="338.00" cy="251.43" r="1.55" fill="#9A32CD" stroke="#000" stroke-width="0.95"/>
<circle cx="340.50" cy="251.43" r="1.55" fill="#9A32CD" stroke="#000" stroke-width="0.95"/>
<circle cx="343.20" cy="251.43" r="1.55" fill="#9A32CD" stroke="#000" stroke-width="0.95"/>
<circle cx="392.30" cy="251.43" r="1.55" fill="#9A32CD" stroke="#000" stroke-width="0.95"/>
<circle cx="394.40" cy="251.43" r="1.55" fill="#9A32CD" stroke="#000" stroke-width="0.95"/>
<circle cx="400.20" cy="251.43" r="1.55" fill="#9A32CD" stroke="#000" stroke-width="0.95"/>
<circle cx="411.30" cy="251.43" r="1.55" fill="#9A32CD" stroke="#000" stroke-width="0.95"/>
<circle cx="413.80" cy="251.43" r="1.55" fill="#9A32CD" stroke="#000" stroke-width="0.95"/>
<circle cx="417.30" cy="251.43" r="1.55" fill="#9A32CD" stroke="#000" stroke-width="0.95"/>
<circle cx="420.10" cy="251.43" r="1.55" fill="#9A32CD" stroke="#000" stroke-width="0.95"/>
<circle cx="423.60" cy="251.43" r="1.55" fill="#9A32CD" stroke="#000" stroke-width="0.95"/>
<circle cx="338.00" cy="259.86" r="1.55" fill="#BF3EFF" stroke="#000" stroke-width="0.95"/>
<circle cx="340.50" cy="259.86" r="1.55" fill="#BF3EFF" stroke="#000" stroke-width="0.95"/>
<circle cx="343.20" cy="259.86" r="1.55" fill="#BF3EFF" stroke="#000" stroke-width="0.95"/>
<circle cx="369.90" cy="259.86" r="1.55" fill="#BF3EFF" stroke="#000" stroke-width="0.95"/>
<circle cx="411.30" cy="259.86" r="1.55" fill="#BF3EFF" stroke="#000" stroke-width="0.95"/>
<circle cx="421.40" cy="259.86" r="1.55" fill="#BF3EFF" stroke="#000" stroke-width="0.95"/>
<circle cx="424.50" cy="259.86" r="1.55" fill="#BF3EFF" stroke="#000" stroke-width="0.95"/>
<circle cx="340.20" cy="285.15" r="1.55" fill="#FF8C00" stroke="#000" stroke-width="0.95"/>
<circle cx="351.70" cy="285.15" r="1.55" fill="#FF8C00" stroke="#000" stroke-width="0.95"/>
<rect x="446.99" y="196.55" width="3.2" height="33.89" rx="1.6" fill="#000"/>
<circle cx="448.59" cy="198.25" r="1.1" fill="#8B3E2F"/>
<circle cx="448.59" cy="200.85" r="1.1" fill="#8B3E2F"/>
<circle cx="448.59" cy="203.45" r="1.1" fill="#8B3E2F"/>
<circle cx="448.59" cy="206.68" r="1.1" fill="#EE6A50"/>
<circle cx="448.59" cy="209.28" r="1.1" fill="#EE6A50"/>
<circle cx="448.59" cy="211.88" r="1.1" fill="#EE6A50"/>
<circle cx="448.59" cy="215.11" r="1.1" fill="#FF00FF"/>
<circle cx="448.59" cy="217.71" r="1.1" fill="#FF00FF"/>
<circle cx="448.59" cy="220.31" r="1.1" fill="#FF00FF"/>
<circle cx="448.59" cy="223.54" r="1.1" fill="#5CACEE"/>
<circle cx="448.59" cy="226.14" r="1.1" fill="#5CACEE"/>
<circle cx="448.59" cy="228.74" r="1.1" fill="#5CACEE"/>
<rect x="446.99" y="247.13" width="3.2" height="67.61" rx="1.6" fill="#000"/>
<circle cx="448.59" cy="248.83" r="1.1" fill="#9A32CD"/>
<circle cx="448.59" cy="251.43" r="1.1" fill="#9A32CD"/>
<circle cx="448.59" cy="254.03" r="1.1" fill="#9A32CD"/>
<circle cx="448.59" cy="257.26" r="1.1" fill="#BF3EFF"/>
<circle cx="448.59" cy="259.86" r="1.1" fill="#BF3EFF"/>
<circle cx="448.59" cy="262.46" r="1.1" fill="#BF3EFF"/>
<circle cx="448.59" cy="265.69" r="1.1" fill="#CDCDC1"/>
<circle cx="448.59" cy="268.29" r="1.1" fill="#CDCDC1"/>
<circle cx="448.59" cy="270.89" r="1.1" fill="#CDCDC1"/>
<circle cx="448.59" cy="274.12" r="1.1" fill="#2E8B57"/>
<circle cx="448.59" cy="276.72" r="1.1" fill="#2E8B57"/>
<circle cx="448.59" cy="279.32" r="1.1" fill="#2E8B57"/>
<circle cx="448.59" cy="282.55" r="1.1" fill="#FF8C00"/>
<circle cx="448.59" cy="285.15" r="1.1" fill="#FF8C00"/>
<circle cx="448.59" cy="287.75" r="1.1" fill="#FF8C00"/>
<circle cx="448.59" cy="290.98" r="1.1" fill="#104E8B"/>
<circle cx="448.59" cy="293.58" r="1.1" fill="#104E8B"/>
<circle cx="448.59" cy="296.18" r="1.1" fill="#104E8B"/>
<circle cx="448.59" cy="299.41" r="1.1" fill="#7CCD7C"/>
<circle cx="448.59" cy="302.01" r="1.1" fill="#7CCD7C"/>
<circle cx="448.59" cy="304.61" r="1.1" fill="#7CCD7C"/>
<circle cx="448.59" cy="307.84" r="1.1" fill="#BEBEBE"/>
<circle cx="448.59" cy="310.44" r="1.1" fill="#BEBEBE"/>
<circle cx="448.59" cy="313.04" r="1.1" fill="#BEBEBE"/>
<polygon points="446.35,259.86 446.56,259.05 446.76,257.56 446.97,256.64 447.18,256.32 447.38,256.00 447.59,255.77 447.80,255.62 448.00,255.50 448.21,255.42 448.42,255.37 448.62,255.34 448.83,255.34 449.04,255.37 449.24,255.42 449.45,255.47 449.66,255.52 449.86,255.57 450.07,255.62 450.28,255.67 450.48,255.72 450.69,255.77 450.90,255.82 451.10,255.88 451.31,255.93 451.52,255.99 451.72,256.04 451.93,256.09 452.14,256.15 452.34,256.20 452.55,256.26 452.76,256.32 452.96,256.38 453.17,256.44 453.38,256.50 453.58,256.56 453.79,256.62 454.00,256.68 454.20,256.75 454.41,256.81 454.62,256.88 454.82,256.94 455.03,257.02 455.24,257.09 455.44,257.16 455.65,257.23 455.86,257.31 456.06,257.39 456.27,257.47 456.48,257.56 456.68,257.64 456.89,257.74 457.10,257.83 457.30,257.95 457.51,258.06 457.72,258.19 457.92,258.34 458.13,258.55 458.34,258.75 458.54,259.05 458.75,259.86 458.75,259.86 458.54,260.67 458.34,260.97 458.13,261.17 457.92,261.38 457.72,261.53 457.51,261.66 457.30,261.77 457.10,261.89 456.89,261.98 456.68,262.08 456.48,262.16 456.27,262.25 456.06,262.33 455.86,262.41 455.65,262.49 455.44,262.56 455.24,262.63 455.03,262.70 454.82,262.78 454.62,262.84 454.41,262.91 454.20,262.97 454.00,263.04 453.79,263.10 453.58,263.16 453.38,263.22 453.17,263.28 452.96,263.34 452.76,263.40 452.55,263.46 452.34,263.52 452.14,263.57 451.93,263.63 451.72,263.68 451.52,263.73 451.31,263.79 451.10,263.84 450.90,263.90 450.69,263.95 450.48,264.00 450.28,264.05 450.07,264.10 449.86,264.15 449.66,264.20 449.45,264.25 449.24,264.30 449.04,264.35 448.83,264.38 448.62,264.38 448.42,264.35 448.21,264.30 448.00,264.22 447.80,264.10 447.59,263.95 447.38,263.72 447.18,263.40 446.97,263.08 446.76,262.16 446.56,260.67 446.35,259.86" fill="#000"/>
<circle cx="448.60" cy="257.01" r="1.55" fill="#BF3EFF" stroke="#000" stroke-width="0.95"/>
<circle cx="450.43" cy="261.22" r="1.55" fill="#BF3EFF" stroke="#000" stroke-width="0.95"/>
<circle cx="452.55" cy="258.03" r="1.55" fill="#BF3EFF" stroke="#000" stroke-width="0.95"/>
<circle cx="457.05" cy="259.86" r="1.55" fill="#BF3EFF" stroke="#000" stroke-width="0.95"/>
<circle cx="448.60" cy="262.71" r="1.55" fill="#BF3EFF" stroke="#000" stroke-width="0.95"/>
<circle cx="448.05" cy="259.86" r="1.55" fill="#BF3EFF" stroke="#000" stroke-width="0.95"/>
<circle cx="454.80" cy="258.73" r="1.55" fill="#BF3EFF" stroke="#000" stroke-width="0.95"/>
<circle cx="452.55" cy="261.69" r="1.55" fill="#BF3EFF" stroke="#000" stroke-width="0.95"/>
<circle cx="450.40" cy="258.55" r="1.55" fill="#BF3EFF" stroke="#000" stroke-width="0.95"/>
<circle cx="454.80" cy="260.99" r="1.55" fill="#BF3EFF" stroke="#000" stroke-width="0.95"/>
<polygon points="447.65,234.57 447.88,233.72 448.10,233.24 448.33,232.91 448.56,232.61 448.78,232.36 449.01,232.12 449.24,231.89 449.46,231.68 449.69,231.48 449.92,231.29 450.14,231.10 450.37,230.91 450.60,230.74 450.82,230.57 451.05,230.41 451.28,230.25 451.50,230.08 451.73,229.93 451.96,229.77 452.18,229.64 452.41,229.55 452.64,229.50 452.86,229.47 453.09,229.48 453.32,229.49 453.54,229.53 453.77,229.59 454.00,229.68 454.22,229.76 454.45,229.85 454.68,229.94 454.90,230.03 455.13,230.12 455.36,230.21 455.58,230.30 455.81,230.39 456.04,230.49 456.26,230.59 456.49,230.68 456.72,230.78 456.94,230.88 457.17,230.99 457.40,231.09 457.62,231.21 457.85,231.32 458.08,231.43 458.30,231.54 458.53,231.66 458.76,231.79 458.98,231.92 459.21,232.05 459.44,232.19 459.66,232.35 459.89,232.51 460.12,232.68 460.34,232.88 460.57,233.09 460.80,233.41 461.02,233.72 461.25,234.57 461.25,234.57 461.02,235.42 460.80,235.73 460.57,236.05 460.34,236.26 460.12,236.46 459.89,236.63 459.66,236.79 459.44,236.95 459.21,237.09 458.98,237.22 458.76,237.35 458.53,237.48 458.30,237.60 458.08,237.71 457.85,237.82 457.62,237.93 457.40,238.05 457.17,238.15 456.94,238.26 456.72,238.36 456.49,238.46 456.26,238.55 456.04,238.65 455.81,238.75 455.58,238.84 455.36,238.93 455.13,239.02 454.90,239.11 454.68,239.20 454.45,239.29 454.22,239.38 454.00,239.46 453.77,239.55 453.54,239.61 453.32,239.65 453.09,239.66 452.86,239.67 452.64,239.64 452.41,239.59 452.18,239.50 451.96,239.37 451.73,239.21 451.50,239.06 451.28,238.89 451.05,238.73 450.82,238.57 450.60,238.40 450.37,238.23 450.14,238.04 449.92,237.85 449.69,237.66 449.46,237.46 449.24,237.25 449.01,237.02 448.78,236.78 448.56,236.53 448.33,236.23 448.10,235.90 447.88,235.42 447.65,234.57" fill="#000"/>
<circle cx="449.35" cy="234.57" r="1.55" fill="#CDCD00" stroke="#000" stroke-width="0.95"/>
<circle cx="456.04" cy="234.60" r="1.55" fill="#CDCD00" stroke="#000" stroke-width="0.95"/>
<circle cx="453.00" cy="231.12" r="1.55" fill="#CDCD00" stroke="#000" stroke-width="0.95"/>
<circle cx="454.10" cy="233.67" r="1.55" fill="#CDCD00" stroke="#000" stroke-width="0.95"/>
<circle cx="451.92" cy="232.94" r="1.55" fill="#CDCD00" stroke="#000" stroke-width="0.95"/>
<circle cx="457.51" cy="233.05" r="1.55" fill="#CDCD00" stroke="#000" stroke-width="0.95"/>
<circle cx="459.55" cy="234.57" r="1.55" fill="#CDCD00" stroke="#000" stroke-width="0.95"/>
<circle cx="453.00" cy="238.02" r="1.55" fill="#CDCD00" stroke="#000" stroke-width="0.95"/>
<circle cx="455.47" cy="237.05" r="1.55" fill="#CDCD00" stroke="#000" stroke-width="0.95"/>
<circle cx="451.97" cy="235.07" r="1.55" fill="#CDCD00" stroke="#000" stroke-width="0.95"/>
<circle cx="455.47" cy="232.09" r="1.55" fill="#CDCD00" stroke="#000" stroke-width="0.95"/>
<circle cx="457.51" cy="236.09" r="1.55" fill="#CDCD00" stroke="#000" stroke-width="0.95"/>
<polygon points="461.35,243.00 461.77,241.89 462.18,241.54 462.60,241.16 463.01,240.94 463.43,240.70 463.84,240.52 464.25,240.36 464.67,240.17 465.09,240.01 465.50,239.87 465.92,239.72 466.33,239.57 466.75,239.44 467.16,239.32 467.58,239.18 467.99,239.05 468.41,238.93 468.82,238.82 469.24,238.70 469.65,238.57 470.06,238.46 470.48,238.35 470.90,238.25 471.31,238.13 471.73,238.09 472.14,238.04 472.56,238.07 472.97,238.15 473.39,238.24 473.80,238.32 474.22,238.39 474.63,238.47 475.05,238.56 475.46,238.65 475.88,238.72 476.29,238.80 476.71,238.89 477.12,239.00 477.54,239.07 477.95,239.15 478.37,239.25 478.78,239.36 479.20,239.45 479.61,239.53 480.03,239.64 480.44,239.75 480.86,239.85 481.27,239.95 481.69,240.06 482.10,240.19 482.52,240.31 482.93,240.42 483.35,240.56 483.76,240.73 484.18,240.86 484.59,241.04 485.00,241.26 485.42,241.54 485.84,241.89 486.25,243.00 486.25,243.00 485.84,244.11 485.42,244.46 485.00,244.74 484.59,244.96 484.18,245.14 483.76,245.27 483.35,245.44 482.93,245.58 482.52,245.69 482.10,245.81 481.69,245.94 481.27,246.05 480.86,246.15 480.44,246.25 480.03,246.36 479.61,246.47 479.20,246.55 478.78,246.64 478.37,246.75 477.95,246.85 477.54,246.93 477.12,247.00 476.71,247.11 476.29,247.20 475.88,247.28 475.46,247.35 475.05,247.44 474.63,247.53 474.22,247.61 473.80,247.68 473.39,247.76 472.97,247.85 472.56,247.93 472.14,247.96 471.73,247.91 471.31,247.87 470.90,247.75 470.48,247.65 470.06,247.54 469.65,247.43 469.24,247.30 468.82,247.18 468.41,247.07 467.99,246.95 467.58,246.82 467.16,246.68 466.75,246.56 466.33,246.43 465.92,246.28 465.50,246.13 465.09,245.99 464.67,245.83 464.25,245.64 463.84,245.48 463.43,245.30 463.01,245.06 462.60,244.84 462.18,244.46 461.77,244.11 461.35,243.00" fill="#000"/>
<circle cx="478.10" cy="240.93" r="1.55" fill="#FFFF00" stroke="#000" stroke-width="0.95"/>
<circle cx="469.01" cy="243.28" r="1.55" fill="#FFFF00" stroke="#000" stroke-width="0.95"/>
<circle cx="465.20" cy="244.22" r="1.55" fill="#FFFF00" stroke="#000" stroke-width="0.95"/>
<circle cx="465.20" cy="241.78" r="1.55" fill="#FFFF00" stroke="#000" stroke-width="0.95"/>
<circle cx="477.82" cy="242.97" r="1.55" fill="#FFFF00" stroke="#000" stroke-width="0.95"/>
<circle cx="463.05" cy="243.00" r="1.55" fill="#FFFF00" stroke="#000" stroke-width="0.95"/>
<circle cx="467.35" cy="241.02" r="1.55" fill="#FFFF00" stroke="#000" stroke-width="0.95"/>
<circle cx="482.40" cy="243.96" r="1.55" fill="#FFFF00" stroke="#000" stroke-width="0.95"/>
<circle cx="484.55" cy="243.00" r="1.55" fill="#FFFF00" stroke="#000" stroke-width="0.95"/>
<circle cx="471.18" cy="244.33" r="1.55" fill="#FFFF00" stroke="#000" stroke-width="0.95"/>
<circle cx="471.66" cy="242.28" r="1.55" fill="#FFFF00" stroke="#000" stroke-width="0.95"/>
<circle cx="480.25" cy="241.44" r="1.55" fill="#FFFF00" stroke="#000" stroke-width="0.95"/>
<circle cx="472.00" cy="246.30" r="1.55" fill="#FFFF00" stroke="#000" stroke-width="0.95"/>
<circle cx="475.95" cy="245.53" r="1.55" fill="#FFFF00" stroke="#000" stroke-width="0.95"/>
<circle cx="469.50" cy="245.62" r="1.55" fill="#FFFF00" stroke="#000" stroke-width="0.95"/>
<circle cx="480.25" cy="244.56" r="1.55" fill="#FFFF00" stroke="#000" stroke-width="0.95"/>
<circle cx="475.95" cy="240.47" r="1.55" fill="#FFFF00" stroke="#000" stroke-width="0.95"/>
<circle cx="467.35" cy="244.98" r="1.55" fill="#FFFF00" stroke="#000" stroke-width="0.95"/>
<circle cx="473.42" cy="244.44" r="1.55" fill="#FFFF00" stroke="#000" stroke-width="0.95"/>
<circle cx="475.00" cy="242.41" r="1.55" fill="#FFFF00" stroke="#000" stroke-width="0.95"/>
<circle cx="472.00" cy="239.70" r="1.55" fill="#FFFF00" stroke="#000" stroke-width="0.95"/>
<circle cx="478.10" cy="245.07" r="1.55" fill="#FFFF00" stroke="#000" stroke-width="0.95"/>
<circle cx="469.50" cy="240.38" r="1.55" fill="#FFFF00" stroke="#000" stroke-width="0.95"/>
<circle cx="462.30" cy="234.57" r="1.55" fill="#CDCD00" stroke="#000" stroke-width="0.95"/>
<circle cx="453.20" cy="251.43" r="1.55" fill="#9A32CD" stroke="#000" stroke-width="0.95"/>
<circle cx="456.20" cy="251.43" r="1.55" fill="#9A32CD" stroke="#000" stroke-width="0.95"/>
<circle cx="464.70" cy="251.43" r="1.55" fill="#9A32CD" stroke="#000" stroke-width="0.95"/>
<circle cx="502.60" cy="251.43" r="1.55" fill="#9A32CD" stroke="#000" stroke-width="0.95"/>
<circle cx="510.20" cy="251.43" r="1.55" fill="#9A32CD" stroke="#000" stroke-width="0.95"/>
<circle cx="451.50" cy="259.86" r="1.55" fill="#BF3EFF" stroke="#000" stroke-width="0.95"/>
<circle cx="453.20" cy="259.86" r="1.55" fill="#BF3EFF" stroke="#000" stroke-width="0.95"/>
<circle cx="456.80" cy="259.86" r="1.55" fill="#BF3EFF" stroke="#000" stroke-width="0.95"/>
<circle cx="460.80" cy="259.86" r="1.55" fill="#BF3EFF" stroke="#000" stroke-width="0.95"/>
<circle cx="464.30" cy="259.86" r="1.55" fill="#BF3EFF" stroke="#000" stroke-width="0.95"/>
<circle cx="466.80" cy="259.86" r="1.55" fill="#BF3EFF" stroke="#000" stroke-width="0.95"/>
<circle cx="472.10" cy="259.86" r="1.55" fill="#BF3EFF" stroke="#000" stroke-width="0.95"/>
<circle cx="474.90" cy="259.86" r="1.55" fill="#BF3EFF" stroke="#000" stroke-width="0.95"/>
<circle cx="481.40" cy="259.86" r="1.55" fill="#BF3EFF" stroke="#000" stroke-width="0.95"/>
<circle cx="483.20" cy="259.86" r="1.55" fill="#BF3EFF" stroke="#000" stroke-width="0.95"/>
<circle cx="487.30" cy="259.86" r="1.55" fill="#BF3EFF" stroke="#000" stroke-width="0.95"/>
<circle cx="489.00" cy="259.86" r="1.55" fill="#BF3EFF" stroke="#000" stroke-width="0.95"/>
<circle cx="492.90" cy="259.86" r="1.55" fill="#BF3EFF" stroke="#000" stroke-width="0.95"/>
<circle cx="496.10" cy="259.86" r="1.55" fill="#BF3EFF" stroke="#000" stroke-width="0.95"/>
<circle cx="503.80" cy="259.86" r="1.55" fill="#BF3EFF" stroke="#000" stroke-width="0.95"/>
<circle cx="510.50" cy="259.86" r="1.55" fill="#BF3EFF" stroke="#000" stroke-width="0.95"/>
<circle cx="534.40" cy="302.01" r="1.55" fill="#7CCD7C" stroke="#000" stroke-width="0.95"/>
<rect x="103.55" y="43.45" width="107.67" height="120.10" fill="none" stroke="#333" stroke-width="0.8"/>
<rect x="216.93" y="43.45" width="107.67" height="120.10" fill="none" stroke="#333" stroke-width="0.8"/>
<rect x="330.31" y="43.45" width="107.67" height="120.10" fill="none" stroke="#333" stroke-width="0.8"/>
<rect x="443.69" y="43.45" width="107.67" height="120.10" fill="none" stroke="#333" stroke-width="0.8"/>
<line x1="100.80" y1="49.10" x2="103.55" y2="49.10" stroke="#333" stroke-width="0.8"/>
<text x="98.45" y="52.30" text-anchor="end" font-size="8.8" fill="#3D3D3D" stroke="#3D3D3D" stroke-width="0.12">ALDEx2</text>
<line x1="100.80" y1="57.53" x2="103.55" y2="57.53" stroke="#333" stroke-width="0.8"/>
<text x="98.45" y="60.73" text-anchor="end" font-size="8.8" fill="#3D3D3D" stroke="#3D3D3D" stroke-width="0.12">ANCOM−II</text>
<line x1="100.80" y1="65.96" x2="103.55" y2="65.96" stroke="#333" stroke-width="0.8"/>
<text x="98.45" y="69.16" text-anchor="end" font-size="8.8" fill="#3D3D3D" stroke="#3D3D3D" stroke-width="0.12">corncob</text>
<line x1="100.80" y1="74.39" x2="103.55" y2="74.39" stroke="#333" stroke-width="0.8"/>
<text x="98.45" y="77.59" text-anchor="end" font-size="8.8" fill="#3D3D3D" stroke="#3D3D3D" stroke-width="0.12">DESeq2</text>
<line x1="100.80" y1="82.82" x2="103.55" y2="82.82" stroke="#333" stroke-width="0.8"/>
<text x="98.45" y="86.02" text-anchor="end" font-size="8.8" fill="#3D3D3D" stroke="#3D3D3D" stroke-width="0.12">edgeR</text>
<line x1="100.80" y1="91.25" x2="103.55" y2="91.25" stroke="#333" stroke-width="0.8"/>
<text x="98.45" y="94.45" text-anchor="end" font-size="8.8" fill="#3D3D3D" stroke="#3D3D3D" stroke-width="0.12">LEfSe</text>
<line x1="100.80" y1="99.68" x2="103.55" y2="99.68" stroke="#333" stroke-width="0.8"/>
<text x="98.45" y="102.88" text-anchor="end" font-size="8.8" fill="#3D3D3D" stroke="#3D3D3D" stroke-width="0.12">limma voom (TMM)</text>
<line x1="100.80" y1="108.11" x2="103.55" y2="108.11" stroke="#333" stroke-width="0.8"/>
<text x="98.45" y="111.31" text-anchor="end" font-size="8.8" fill="#3D3D3D" stroke="#3D3D3D" stroke-width="0.12">limma voom (TMMwsp)</text>
<line x1="100.80" y1="116.54" x2="103.55" y2="116.54" stroke="#333" stroke-width="0.8"/>
<text x="98.45" y="119.74" text-anchor="end" font-size="8.8" fill="#3D3D3D" stroke="#3D3D3D" stroke-width="0.12">MaAsLin2</text>
<line x1="100.80" y1="124.97" x2="103.55" y2="124.97" stroke="#333" stroke-width="0.8"/>
<text x="98.45" y="128.17" text-anchor="end" font-size="8.8" fill="#3D3D3D" stroke="#3D3D3D" stroke-width="0.12">MaAsLin2 (rare)</text>
<line x1="100.80" y1="133.40" x2="103.55" y2="133.40" stroke="#333" stroke-width="0.8"/>
<text x="98.45" y="136.60" text-anchor="end" font-size="8.8" fill="#3D3D3D" stroke="#3D3D3D" stroke-width="0.12">metagenomeSeq</text>
<line x1="100.80" y1="141.83" x2="103.55" y2="141.83" stroke="#333" stroke-width="0.8"/>
<text x="98.45" y="145.03" text-anchor="end" font-size="8.8" fill="#3D3D3D" stroke="#3D3D3D" stroke-width="0.12">t−test (rare)</text>
<line x1="100.80" y1="150.26" x2="103.55" y2="150.26" stroke="#333" stroke-width="0.8"/>
<text x="98.45" y="153.46" text-anchor="end" font-size="8.8" fill="#3D3D3D" stroke="#3D3D3D" stroke-width="0.12">Wilcoxon (CLR)</text>
<line x1="100.80" y1="158.69" x2="103.55" y2="158.69" stroke="#333" stroke-width="0.8"/>
<text x="98.45" y="161.89" text-anchor="end" font-size="8.8" fill="#3D3D3D" stroke="#3D3D3D" stroke-width="0.12">Wilcoxon (rare)</text>
<rect x="103.55" y="195.30" width="107.67" height="120.15" fill="none" stroke="#333" stroke-width="0.8"/>
<rect x="216.93" y="195.30" width="107.67" height="120.15" fill="none" stroke="#333" stroke-width="0.8"/>
<rect x="330.31" y="195.30" width="107.67" height="120.15" fill="none" stroke="#333" stroke-width="0.8"/>
<rect x="443.69" y="195.30" width="107.67" height="120.15" fill="none" stroke="#333" stroke-width="0.8"/>
<line x1="100.80" y1="200.85" x2="103.55" y2="200.85" stroke="#333" stroke-width="0.8"/>
<text x="98.45" y="204.05" text-anchor="end" font-size="8.8" fill="#3D3D3D" stroke="#3D3D3D" stroke-width="0.12">ALDEx2</text>
<line x1="100.80" y1="209.28" x2="103.55" y2="209.28" stroke="#333" stroke-width="0.8"/>
<text x="98.45" y="212.48" text-anchor="end" font-size="8.8" fill="#3D3D3D" stroke="#3D3D3D" stroke-width="0.12">ANCOM−II</text>
<line x1="100.80" y1="217.71" x2="103.55" y2="217.71" stroke="#333" stroke-width="0.8"/>
<text x="98.45" y="220.91" text-anchor="end" font-size="8.8" fill="#3D3D3D" stroke="#3D3D3D" stroke-width="0.12">corncob</text>
<line x1="100.80" y1="226.14" x2="103.55" y2="226.14" stroke="#333" stroke-width="0.8"/>
<text x="98.45" y="229.34" text-anchor="end" font-size="8.8" fill="#3D3D3D" stroke="#3D3D3D" stroke-width="0.12">DESeq2</text>
<line x1="100.80" y1="234.57" x2="103.55" y2="234.57" stroke="#333" stroke-width="0.8"/>
<text x="98.45" y="237.77" text-anchor="end" font-size="8.8" fill="#3D3D3D" stroke="#3D3D3D" stroke-width="0.12">edgeR</text>
<line x1="100.80" y1="243.00" x2="103.55" y2="243.00" stroke="#333" stroke-width="0.8"/>
<text x="98.45" y="246.20" text-anchor="end" font-size="8.8" fill="#3D3D3D" stroke="#3D3D3D" stroke-width="0.12">LEfSe</text>
<line x1="100.80" y1="251.43" x2="103.55" y2="251.43" stroke="#333" stroke-width="0.8"/>
<text x="98.45" y="254.63" text-anchor="end" font-size="8.8" fill="#3D3D3D" stroke="#3D3D3D" stroke-width="0.12">limma voom (TMM)</text>
<line x1="100.80" y1="259.86" x2="103.55" y2="259.86" stroke="#333" stroke-width="0.8"/>
<text x="98.45" y="263.06" text-anchor="end" font-size="8.8" fill="#3D3D3D" stroke="#3D3D3D" stroke-width="0.12">limma voom (TMMwsp)</text>
<line x1="100.80" y1="268.29" x2="103.55" y2="268.29" stroke="#333" stroke-width="0.8"/>
<text x="98.45" y="271.49" text-anchor="end" font-size="8.8" fill="#3D3D3D" stroke="#3D3D3D" stroke-width="0.12">MaAsLin2</text>
<line x1="100.80" y1="276.72" x2="103.55" y2="276.72" stroke="#333" stroke-width="0.8"/>
<text x="98.45" y="279.92" text-anchor="end" font-size="8.8" fill="#3D3D3D" stroke="#3D3D3D" stroke-width="0.12">MaAsLin2 (rare)</text>
<line x1="100.80" y1="285.15" x2="103.55" y2="285.15" stroke="#333" stroke-width="0.8"/>
<text x="98.45" y="288.35" text-anchor="end" font-size="8.8" fill="#3D3D3D" stroke="#3D3D3D" stroke-width="0.12">metagenomeSeq</text>
<line x1="100.80" y1="293.58" x2="103.55" y2="293.58" stroke="#333" stroke-width="0.8"/>
<text x="98.45" y="296.78" text-anchor="end" font-size="8.8" fill="#3D3D3D" stroke="#3D3D3D" stroke-width="0.12">t−test (rare)</text>
<line x1="100.80" y1="302.01" x2="103.55" y2="302.01" stroke="#333" stroke-width="0.8"/>
<text x="98.45" y="305.21" text-anchor="end" font-size="8.8" fill="#3D3D3D" stroke="#3D3D3D" stroke-width="0.12">Wilcoxon (CLR)</text>
<line x1="100.80" y1="310.44" x2="103.55" y2="310.44" stroke="#333" stroke-width="0.8"/>
<text x="98.45" y="313.64" text-anchor="end" font-size="8.8" fill="#3D3D3D" stroke="#3D3D3D" stroke-width="0.12">Wilcoxon (rare)</text>
<line x1="108.45" y1="315.45" x2="108.45" y2="318.20" stroke="#333" stroke-width="0.8"/>
<text x="108.45" y="326.95" text-anchor="middle" font-size="8.8" fill="#3D3D3D" stroke="#3D3D3D" stroke-width="0.12">0</text>
<line x1="118.68" y1="315.45" x2="118.68" y2="318.20" stroke="#333" stroke-width="0.8"/>
<text x="118.68" y="326.95" text-anchor="middle" font-size="8.8" fill="#3D3D3D" stroke="#3D3D3D" stroke-width="0.12">1</text>
<line x1="127.18" y1="315.45" x2="127.18" y2="318.20" stroke="#333" stroke-width="0.8"/>
<text x="127.18" y="326.95" text-anchor="middle" font-size="8.8" fill="#3D3D3D" stroke="#3D3D3D" stroke-width="0.12">2</text>
<line x1="143.45" y1="315.45" x2="143.45" y2="318.20" stroke="#333" stroke-width="0.8"/>
<text x="143.45" y="326.95" text-anchor="middle" font-size="8.8" fill="#3D3D3D" stroke="#3D3D3D" stroke-width="0.12">5</text>
<line x1="157.59" y1="315.45" x2="157.59" y2="318.20" stroke="#333" stroke-width="0.8"/>
<text x="157.59" y="326.95" text-anchor="middle" font-size="8.8" fill="#3D3D3D" stroke="#3D3D3D" stroke-width="0.12">10</text>
<line x1="180.75" y1="315.45" x2="180.75" y2="318.20" stroke="#333" stroke-width="0.8"/>
<text x="180.75" y="326.95" text-anchor="middle" font-size="8.8" fill="#3D3D3D" stroke="#3D3D3D" stroke-width="0.12">30</text>
<line x1="206.31" y1="315.45" x2="206.31" y2="318.20" stroke="#333" stroke-width="0.8"/>
<text x="206.31" y="326.95" text-anchor="middle" font-size="8.8" fill="#3D3D3D" stroke="#3D3D3D" stroke-width="0.12">100</text>
<line x1="221.83" y1="315.45" x2="221.83" y2="318.20" stroke="#333" stroke-width="0.8"/>
<text x="221.83" y="326.95" text-anchor="middle" font-size="8.8" fill="#3D3D3D" stroke="#3D3D3D" stroke-width="0.12">0</text>
<line x1="232.06" y1="315.45" x2="232.06" y2="318.20" stroke="#333" stroke-width="0.8"/>
<text x="232.06" y="326.95" text-anchor="middle" font-size="8.8" fill="#3D3D3D" stroke="#3D3D3D" stroke-width="0.12">1</text>
<line x1="240.56" y1="315.45" x2="240.56" y2="318.20" stroke="#333" stroke-width="0.8"/>
<text x="240.56" y="326.95" text-anchor="middle" font-size="8.8" fill="#3D3D3D" stroke="#3D3D3D" stroke-width="0.12">2</text>
<line x1="256.83" y1="315.45" x2="256.83" y2="318.20" stroke="#333" stroke-width="0.8"/>
<text x="256.83" y="326.95" text-anchor="middle" font-size="8.8" fill="#3D3D3D" stroke="#3D3D3D" stroke-width="0.12">5</text>
<line x1="270.97" y1="315.45" x2="270.97" y2="318.20" stroke="#333" stroke-width="0.8"/>
<text x="270.97" y="326.95" text-anchor="middle" font-size="8.8" fill="#3D3D3D" stroke="#3D3D3D" stroke-width="0.12">10</text>
<line x1="294.13" y1="315.45" x2="294.13" y2="318.20" stroke="#333" stroke-width="0.8"/>
<text x="294.13" y="326.95" text-anchor="middle" font-size="8.8" fill="#3D3D3D" stroke="#3D3D3D" stroke-width="0.12">30</text>
<line x1="319.69" y1="315.45" x2="319.69" y2="318.20" stroke="#333" stroke-width="0.8"/>
<text x="319.69" y="326.95" text-anchor="middle" font-size="8.8" fill="#3D3D3D" stroke="#3D3D3D" stroke-width="0.12">100</text>
<line x1="335.21" y1="315.45" x2="335.21" y2="318.20" stroke="#333" stroke-width="0.8"/>
<text x="335.21" y="326.95" text-anchor="middle" font-size="8.8" fill="#3D3D3D" stroke="#3D3D3D" stroke-width="0.12">0</text>
<line x1="345.44" y1="315.45" x2="345.44" y2="318.20" stroke="#333" stroke-width="0.8"/>
<text x="345.44" y="326.95" text-anchor="middle" font-size="8.8" fill="#3D3D3D" stroke="#3D3D3D" stroke-width="0.12">1</text>
<line x1="353.94" y1="315.45" x2="353.94" y2="318.20" stroke="#333" stroke-width="0.8"/>
<text x="353.94" y="326.95" text-anchor="middle" font-size="8.8" fill="#3D3D3D" stroke="#3D3D3D" stroke-width="0.12">2</text>
<line x1="370.21" y1="315.45" x2="370.21" y2="318.20" stroke="#333" stroke-width="0.8"/>
<text x="370.21" y="326.95" text-anchor="middle" font-size="8.8" fill="#3D3D3D" stroke="#3D3D3D" stroke-width="0.12">5</text>
<line x1="384.35" y1="315.45" x2="384.35" y2="318.20" stroke="#333" stroke-width="0.8"/>
<text x="384.35" y="326.95" text-anchor="middle" font-size="8.8" fill="#3D3D3D" stroke="#3D3D3D" stroke-width="0.12">10</text>
<line x1="407.51" y1="315.45" x2="407.51" y2="318.20" stroke="#333" stroke-width="0.8"/>
<text x="407.51" y="326.95" text-anchor="middle" font-size="8.8" fill="#3D3D3D" stroke="#3D3D3D" stroke-width="0.12">30</text>
<line x1="433.07" y1="315.45" x2="433.07" y2="318.20" stroke="#333" stroke-width="0.8"/>
<text x="433.07" y="326.95" text-anchor="middle" font-size="8.8" fill="#3D3D3D" stroke="#3D3D3D" stroke-width="0.12">100</text>
<line x1="448.59" y1="315.45" x2="448.59" y2="318.20" stroke="#333" stroke-width="0.8"/>
<text x="448.59" y="326.95" text-anchor="middle" font-size="8.8" fill="#3D3D3D" stroke="#3D3D3D" stroke-width="0.12">0</text>
<line x1="458.82" y1="315.45" x2="458.82" y2="318.20" stroke="#333" stroke-width="0.8"/>
<text x="458.82" y="326.95" text-anchor="middle" font-size="8.8" fill="#3D3D3D" stroke="#3D3D3D" stroke-width="0.12">1</text>
<line x1="467.32" y1="315.45" x2="467.32" y2="318.20" stroke="#333" stroke-width="0.8"/>
<text x="467.32" y="326.95" text-anchor="middle" font-size="8.8" fill="#3D3D3D" stroke="#3D3D3D" stroke-width="0.12">2</text>
<line x1="483.59" y1="315.45" x2="483.59" y2="318.20" stroke="#333" stroke-width="0.8"/>
<text x="483.59" y="326.95" text-anchor="middle" font-size="8.8" fill="#3D3D3D" stroke="#3D3D3D" stroke-width="0.12">5</text>
<line x1="497.73" y1="315.45" x2="497.73" y2="318.20" stroke="#333" stroke-width="0.8"/>
<text x="497.73" y="326.95" text-anchor="middle" font-size="8.8" fill="#3D3D3D" stroke="#3D3D3D" stroke-width="0.12">10</text>
<line x1="520.89" y1="315.45" x2="520.89" y2="318.20" stroke="#333" stroke-width="0.8"/>
<text x="520.89" y="326.95" text-anchor="middle" font-size="8.8" fill="#3D3D3D" stroke="#3D3D3D" stroke-width="0.12">30</text>
<line x1="546.45" y1="315.45" x2="546.45" y2="318.20" stroke="#333" stroke-width="0.8"/>
<text x="546.45" y="326.95" text-anchor="middle" font-size="8.8" fill="#3D3D3D" stroke="#3D3D3D" stroke-width="0.12">100</text>
<text x="327.45" y="339.75" text-anchor="middle" font-size="10.85" fill="#000" stroke="#000" stroke-width="0.12">Percent significant after multiple−test correction (log<tspan font-size="7.6" dy="1.6">10</tspan><tspan dy="-1.6">−scale)</tspan></text>
<rect x="103.55" y="398.55" width="107.67" height="120.10" fill="#fff"/>
<line x1="113.56" y1="398.55" x2="113.56" y2="518.65" stroke="#EBEBEB" stroke-width="0.55"/>
<line x1="122.93" y1="398.55" x2="122.93" y2="518.65" stroke="#EBEBEB" stroke-width="0.55"/>
<line x1="135.32" y1="398.55" x2="135.32" y2="518.65" stroke="#EBEBEB" stroke-width="0.55"/>
<line x1="150.52" y1="398.55" x2="150.52" y2="518.65" stroke="#EBEBEB" stroke-width="0.55"/>
<line x1="169.17" y1="398.55" x2="169.17" y2="518.65" stroke="#EBEBEB" stroke-width="0.55"/>
<line x1="193.53" y1="398.55" x2="193.53" y2="518.65" stroke="#EBEBEB" stroke-width="0.55"/>
<line x1="103.55" y1="404.20" x2="211.22" y2="404.20" stroke="#EBEBEB" stroke-width="1.07"/>
<line x1="103.55" y1="412.63" x2="211.22" y2="412.63" stroke="#EBEBEB" stroke-width="1.07"/>
<line x1="103.55" y1="421.06" x2="211.22" y2="421.06" stroke="#EBEBEB" stroke-width="1.07"/>
<line x1="103.55" y1="429.49" x2="211.22" y2="429.49" stroke="#EBEBEB" stroke-width="1.07"/>
<line x1="103.55" y1="437.92" x2="211.22" y2="437.92" stroke="#EBEBEB" stroke-width="1.07"/>
<line x1="103.55" y1="446.35" x2="211.22" y2="446.35" stroke="#EBEBEB" stroke-width="1.07"/>
<line x1="103.55" y1="454.78" x2="211.22" y2="454.78" stroke="#EBEBEB" stroke-width="1.07"/>
<line x1="103.55" y1="463.21" x2="211.22" y2="463.21" stroke="#EBEBEB" stroke-width="1.07"/>
<line x1="103.55" y1="471.64" x2="211.22" y2="471.64" stroke="#EBEBEB" stroke-width="1.07"/>
<line x1="103.55" y1="480.07" x2="211.22" y2="480.07" stroke="#EBEBEB" stroke-width="1.07"/>
<line x1="103.55" y1="488.50" x2="211.22" y2="488.50" stroke="#EBEBEB" stroke-width="1.07"/>
<line x1="103.55" y1="496.93" x2="211.22" y2="496.93" stroke="#EBEBEB" stroke-width="1.07"/>
<line x1="103.55" y1="505.36" x2="211.22" y2="505.36" stroke="#EBEBEB" stroke-width="1.07"/>
<line x1="103.55" y1="513.79" x2="211.22" y2="513.79" stroke="#EBEBEB" stroke-width="1.07"/>
<line x1="108.45" y1="398.55" x2="108.45" y2="518.65" stroke="#EBEBEB" stroke-width="1.07"/>
<line x1="118.68" y1="398.55" x2="118.68" y2="518.65" stroke="#EBEBEB" stroke-width="1.07"/>
<line x1="127.18" y1="398.55" x2="127.18" y2="518.65" stroke="#EBEBEB" stroke-width="1.07"/>
<line x1="143.45" y1="398.55" x2="143.45" y2="518.65" stroke="#EBEBEB" stroke-width="1.07"/>
<line x1="157.59" y1="398.55" x2="157.59" y2="518.65" stroke="#EBEBEB" stroke-width="1.07"/>
<line x1="180.75" y1="398.55" x2="180.75" y2="518.65" stroke="#EBEBEB" stroke-width="1.07"/>
<line x1="206.31" y1="398.55" x2="206.31" y2="518.65" stroke="#EBEBEB" stroke-width="1.07"/>
<rect x="103.55" y="372.55" width="107.67" height="25.95" fill="#D9D9D9" stroke="#333" stroke-width="0.8"/>
<text x="157.38" y="384.30" text-anchor="middle" font-size="8.8" fill="#000" stroke="#000" stroke-width="0.12">Built − Office</text>
<text x="159.88" y="393.70" text-anchor="middle" font-size="8.8" fill="#000" stroke="#000" stroke-width="0.12">ASVs: 185</text>
<rect x="216.93" y="398.55" width="107.67" height="120.10" fill="#fff"/>
<line x1="226.94" y1="398.55" x2="226.94" y2="518.65" stroke="#EBEBEB" stroke-width="0.55"/>
<line x1="236.31" y1="398.55" x2="236.31" y2="518.65" stroke="#EBEBEB" stroke-width="0.55"/>
<line x1="248.70" y1="398.55" x2="248.70" y2="518.65" stroke="#EBEBEB" stroke-width="0.55"/>
<line x1="263.90" y1="398.55" x2="263.90" y2="518.65" stroke="#EBEBEB" stroke-width="0.55"/>
<line x1="282.55" y1="398.55" x2="282.55" y2="518.65" stroke="#EBEBEB" stroke-width="0.55"/>
<line x1="306.91" y1="398.55" x2="306.91" y2="518.65" stroke="#EBEBEB" stroke-width="0.55"/>
<line x1="216.93" y1="404.20" x2="324.60" y2="404.20" stroke="#EBEBEB" stroke-width="1.07"/>
<line x1="216.93" y1="412.63" x2="324.60" y2="412.63" stroke="#EBEBEB" stroke-width="1.07"/>
<line x1="216.93" y1="421.06" x2="324.60" y2="421.06" stroke="#EBEBEB" stroke-width="1.07"/>
<line x1="216.93" y1="429.49" x2="324.60" y2="429.49" stroke="#EBEBEB" stroke-width="1.07"/>
<line x1="216.93" y1="437.92" x2="324.60" y2="437.92" stroke="#EBEBEB" stroke-width="1.07"/>
<line x1="216.93" y1="446.35" x2="324.60" y2="446.35" stroke="#EBEBEB" stroke-width="1.07"/>
<line x1="216.93" y1="454.78" x2="324.60" y2="454.78" stroke="#EBEBEB" stroke-width="1.07"/>
<line x1="216.93" y1="463.21" x2="324.60" y2="463.21" stroke="#EBEBEB" stroke-width="1.07"/>
<line x1="216.93" y1="471.64" x2="324.60" y2="471.64" stroke="#EBEBEB" stroke-width="1.07"/>
<line x1="216.93" y1="480.07" x2="324.60" y2="480.07" stroke="#EBEBEB" stroke-width="1.07"/>
<line x1="216.93" y1="488.50" x2="324.60" y2="488.50" stroke="#EBEBEB" stroke-width="1.07"/>
<line x1="216.93" y1="496.93" x2="324.60" y2="496.93" stroke="#EBEBEB" stroke-width="1.07"/>
<line x1="216.93" y1="505.36" x2="324.60" y2="505.36" stroke="#EBEBEB" stroke-width="1.07"/>
<line x1="216.93" y1="513.79" x2="324.60" y2="513.79" stroke="#EBEBEB" stroke-width="1.07"/>
<line x1="221.83" y1="398.55" x2="221.83" y2="518.65" stroke="#EBEBEB" stroke-width="1.07"/>
<line x1="232.06" y1="398.55" x2="232.06" y2="518.65" stroke="#EBEBEB" stroke-width="1.07"/>
<line x1="240.56" y1="398.55" x2="240.56" y2="518.65" stroke="#EBEBEB" stroke-width="1.07"/>
<line x1="256.83" y1="398.55" x2="256.83" y2="518.65" stroke="#EBEBEB" stroke-width="1.07"/>
<line x1="270.97" y1="398.55" x2="270.97" y2="518.65" stroke="#EBEBEB" stroke-width="1.07"/>
<line x1="294.13" y1="398.55" x2="294.13" y2="518.65" stroke="#EBEBEB" stroke-width="1.07"/>
<line x1="319.69" y1="398.55" x2="319.69" y2="518.65" stroke="#EBEBEB" stroke-width="1.07"/>
<rect x="216.93" y="372.55" width="107.67" height="25.95" fill="#D9D9D9" stroke="#333" stroke-width="0.8"/>
<text x="270.76" y="384.30" text-anchor="middle" font-size="8.8" fill="#000" stroke="#000" stroke-width="0.12">Freshwater − Arctic</text>
<text x="273.26" y="393.70" text-anchor="middle" font-size="8.8" fill="#000" stroke="#000" stroke-width="0.12">ASVs: 344</text>
<rect x="330.31" y="398.55" width="107.67" height="120.10" fill="#fff"/>
<line x1="340.32" y1="398.55" x2="340.32" y2="518.65" stroke="#EBEBEB" stroke-width="0.55"/>
<line x1="349.69" y1="398.55" x2="349.69" y2="518.65" stroke="#EBEBEB" stroke-width="0.55"/>
<line x1="362.08" y1="398.55" x2="362.08" y2="518.65" stroke="#EBEBEB" stroke-width="0.55"/>
<line x1="377.28" y1="398.55" x2="377.28" y2="518.65" stroke="#EBEBEB" stroke-width="0.55"/>
<line x1="395.93" y1="398.55" x2="395.93" y2="518.65" stroke="#EBEBEB" stroke-width="0.55"/>
<line x1="420.29" y1="398.55" x2="420.29" y2="518.65" stroke="#EBEBEB" stroke-width="0.55"/>
<line x1="330.31" y1="404.20" x2="437.98" y2="404.20" stroke="#EBEBEB" stroke-width="1.07"/>
<line x1="330.31" y1="412.63" x2="437.98" y2="412.63" stroke="#EBEBEB" stroke-width="1.07"/>
<line x1="330.31" y1="421.06" x2="437.98" y2="421.06" stroke="#EBEBEB" stroke-width="1.07"/>
<line x1="330.31" y1="429.49" x2="437.98" y2="429.49" stroke="#EBEBEB" stroke-width="1.07"/>
<line x1="330.31" y1="437.92" x2="437.98" y2="437.92" stroke="#EBEBEB" stroke-width="1.07"/>
<line x1="330.31" y1="446.35" x2="437.98" y2="446.35" stroke="#EBEBEB" stroke-width="1.07"/>
<line x1="330.31" y1="454.78" x2="437.98" y2="454.78" stroke="#EBEBEB" stroke-width="1.07"/>
<line x1="330.31" y1="463.21" x2="437.98" y2="463.21" stroke="#EBEBEB" stroke-width="1.07"/>
<line x1="330.31" y1="471.64" x2="437.98" y2="471.64" stroke="#EBEBEB" stroke-width="1.07"/>
<line x1="330.31" y1="480.07" x2="437.98" y2="480.07" stroke="#EBEBEB" stroke-width="1.07"/>
<line x1="330.31" y1="488.50" x2="437.98" y2="488.50" stroke="#EBEBEB" stroke-width="1.07"/>
<line x1="330.31" y1="496.93" x2="437.98" y2="496.93" stroke="#EBEBEB" stroke-width="1.07"/>
<line x1="330.31" y1="505.36" x2="437.98" y2="505.36" stroke="#EBEBEB" stroke-width="1.07"/>
<line x1="330.31" y1="513.79" x2="437.98" y2="513.79" stroke="#EBEBEB" stroke-width="1.07"/>
<line x1="335.21" y1="398.55" x2="335.21" y2="518.65" stroke="#EBEBEB" stroke-width="1.07"/>
<line x1="345.44" y1="398.55" x2="345.44" y2="518.65" stroke="#EBEBEB" stroke-width="1.07"/>
<line x1="353.94" y1="398.55" x2="353.94" y2="518.65" stroke="#EBEBEB" stroke-width="1.07"/>
<line x1="370.21" y1="398.55" x2="370.21" y2="518.65" stroke="#EBEBEB" stroke-width="1.07"/>
<line x1="384.35" y1="398.55" x2="384.35" y2="518.65" stroke="#EBEBEB" stroke-width="1.07"/>
<line x1="407.51" y1="398.55" x2="407.51" y2="518.65" stroke="#EBEBEB" stroke-width="1.07"/>
<line x1="433.07" y1="398.55" x2="433.07" y2="518.65" stroke="#EBEBEB" stroke-width="1.07"/>
<rect x="330.31" y="372.55" width="107.67" height="25.95" fill="#D9D9D9" stroke="#333" stroke-width="0.8"/>
<text x="384.14" y="384.30" text-anchor="middle" font-size="8.8" fill="#000" stroke="#000" stroke-width="0.12">Freshwater − Treat.</text>
<text x="386.64" y="393.70" text-anchor="middle" font-size="8.8" fill="#000" stroke="#000" stroke-width="0.12">ASVs: 242</text>
<rect x="443.69" y="398.55" width="107.67" height="120.10" fill="#fff"/>
<line x1="453.70" y1="398.55" x2="453.70" y2="518.65" stroke="#EBEBEB" stroke-width="0.55"/>
<line x1="463.07" y1="398.55" x2="463.07" y2="518.65" stroke="#EBEBEB" stroke-width="0.55"/>
<line x1="475.46" y1="398.55" x2="475.46" y2="518.65" stroke="#EBEBEB" stroke-width="0.55"/>
<line x1="490.66" y1="398.55" x2="490.66" y2="518.65" stroke="#EBEBEB" stroke-width="0.55"/>
<line x1="509.31" y1="398.55" x2="509.31" y2="518.65" stroke="#EBEBEB" stroke-width="0.55"/>
<line x1="533.67" y1="398.55" x2="533.67" y2="518.65" stroke="#EBEBEB" stroke-width="0.55"/>
<line x1="443.69" y1="404.20" x2="551.36" y2="404.20" stroke="#EBEBEB" stroke-width="1.07"/>
<line x1="443.69" y1="412.63" x2="551.36" y2="412.63" stroke="#EBEBEB" stroke-width="1.07"/>
<line x1="443.69" y1="421.06" x2="551.36" y2="421.06" stroke="#EBEBEB" stroke-width="1.07"/>
<line x1="443.69" y1="429.49" x2="551.36" y2="429.49" stroke="#EBEBEB" stroke-width="1.07"/>
<line x1="443.69" y1="437.92" x2="551.36" y2="437.92" stroke="#EBEBEB" stroke-width="1.07"/>
<line x1="443.69" y1="446.35" x2="551.36" y2="446.35" stroke="#EBEBEB" stroke-width="1.07"/>
<line x1="443.69" y1="454.78" x2="551.36" y2="454.78" stroke="#EBEBEB" stroke-width="1.07"/>
<line x1="443.69" y1="463.21" x2="551.36" y2="463.21" stroke="#EBEBEB" stroke-width="1.07"/>
<line x1="443.69" y1="471.64" x2="551.36" y2="471.64" stroke="#EBEBEB" stroke-width="1.07"/>
<line x1="443.69" y1="480.07" x2="551.36" y2="480.07" stroke="#EBEBEB" stroke-width="1.07"/>
<line x1="443.69" y1="488.50" x2="551.36" y2="488.50" stroke="#EBEBEB" stroke-width="1.07"/>
<line x1="443.69" y1="496.93" x2="551.36" y2="496.93" stroke="#EBEBEB" stroke-width="1.07"/>
<line x1="443.69" y1="505.36" x2="551.36" y2="505.36" stroke="#EBEBEB" stroke-width="1.07"/>
<line x1="443.69" y1="513.79" x2="551.36" y2="513.79" stroke="#EBEBEB" stroke-width="1.07"/>
<line x1="448.59" y1="398.55" x2="448.59" y2="518.65" stroke="#EBEBEB" stroke-width="1.07"/>
<line x1="458.82" y1="398.55" x2="458.82" y2="518.65" stroke="#EBEBEB" stroke-width="1.07"/>
<line x1="467.32" y1="398.55" x2="467.32" y2="518.65" stroke="#EBEBEB" stroke-width="1.07"/>
<line x1="483.59" y1="398.55" x2="483.59" y2="518.65" stroke="#EBEBEB" stroke-width="1.07"/>
<line x1="497.73" y1="398.55" x2="497.73" y2="518.65" stroke="#EBEBEB" stroke-width="1.07"/>
<line x1="520.89" y1="398.55" x2="520.89" y2="518.65" stroke="#EBEBEB" stroke-width="1.07"/>
<line x1="546.45" y1="398.55" x2="546.45" y2="518.65" stroke="#EBEBEB" stroke-width="1.07"/>
<rect x="443.69" y="372.55" width="107.67" height="25.95" fill="#D9D9D9" stroke="#333" stroke-width="0.8"/>
<text x="497.52" y="384.30" text-anchor="middle" font-size="8.8" fill="#000" stroke="#000" stroke-width="0.12">Human − C. diff (1)</text>
<text x="500.02" y="393.70" text-anchor="middle" font-size="8.8" fill="#000" stroke="#000" stroke-width="0.12">ASVs: 599</text>
<rect x="103.55" y="550.40" width="107.67" height="120.15" fill="#fff"/>
<line x1="113.56" y1="550.40" x2="113.56" y2="670.55" stroke="#EBEBEB" stroke-width="0.55"/>
<line x1="122.93" y1="550.40" x2="122.93" y2="670.55" stroke="#EBEBEB" stroke-width="0.55"/>
<line x1="135.32" y1="550.40" x2="135.32" y2="670.55" stroke="#EBEBEB" stroke-width="0.55"/>
<line x1="150.52" y1="550.40" x2="150.52" y2="670.55" stroke="#EBEBEB" stroke-width="0.55"/>
<line x1="169.17" y1="550.40" x2="169.17" y2="670.55" stroke="#EBEBEB" stroke-width="0.55"/>
<line x1="193.53" y1="550.40" x2="193.53" y2="670.55" stroke="#EBEBEB" stroke-width="0.55"/>
<line x1="103.55" y1="555.95" x2="211.22" y2="555.95" stroke="#EBEBEB" stroke-width="1.07"/>
<line x1="103.55" y1="564.38" x2="211.22" y2="564.38" stroke="#EBEBEB" stroke-width="1.07"/>
<line x1="103.55" y1="572.81" x2="211.22" y2="572.81" stroke="#EBEBEB" stroke-width="1.07"/>
<line x1="103.55" y1="581.24" x2="211.22" y2="581.24" stroke="#EBEBEB" stroke-width="1.07"/>
<line x1="103.55" y1="589.67" x2="211.22" y2="589.67" stroke="#EBEBEB" stroke-width="1.07"/>
<line x1="103.55" y1="598.10" x2="211.22" y2="598.10" stroke="#EBEBEB" stroke-width="1.07"/>
<line x1="103.55" y1="606.53" x2="211.22" y2="606.53" stroke="#EBEBEB" stroke-width="1.07"/>
<line x1="103.55" y1="614.96" x2="211.22" y2="614.96" stroke="#EBEBEB" stroke-width="1.07"/>
<line x1="103.55" y1="623.39" x2="211.22" y2="623.39" stroke="#EBEBEB" stroke-width="1.07"/>
<line x1="103.55" y1="631.82" x2="211.22" y2="631.82" stroke="#EBEBEB" stroke-width="1.07"/>
<line x1="103.55" y1="640.25" x2="211.22" y2="640.25" stroke="#EBEBEB" stroke-width="1.07"/>
<line x1="103.55" y1="648.68" x2="211.22" y2="648.68" stroke="#EBEBEB" stroke-width="1.07"/>
<line x1="103.55" y1="657.11" x2="211.22" y2="657.11" stroke="#EBEBEB" stroke-width="1.07"/>
<line x1="103.55" y1="665.54" x2="211.22" y2="665.54" stroke="#EBEBEB" stroke-width="1.07"/>
<line x1="108.45" y1="550.40" x2="108.45" y2="670.55" stroke="#EBEBEB" stroke-width="1.07"/>
<line x1="118.68" y1="550.40" x2="118.68" y2="670.55" stroke="#EBEBEB" stroke-width="1.07"/>
<line x1="127.18" y1="550.40" x2="127.18" y2="670.55" stroke="#EBEBEB" stroke-width="1.07"/>
<line x1="143.45" y1="550.40" x2="143.45" y2="670.55" stroke="#EBEBEB" stroke-width="1.07"/>
<line x1="157.59" y1="550.40" x2="157.59" y2="670.55" stroke="#EBEBEB" stroke-width="1.07"/>
<line x1="180.75" y1="550.40" x2="180.75" y2="670.55" stroke="#EBEBEB" stroke-width="1.07"/>
<line x1="206.31" y1="550.40" x2="206.31" y2="670.55" stroke="#EBEBEB" stroke-width="1.07"/>
<rect x="103.55" y="524.50" width="107.67" height="25.95" fill="#D9D9D9" stroke="#333" stroke-width="0.8"/>
<text x="157.38" y="536.25" text-anchor="middle" font-size="8.8" fill="#000" stroke="#000" stroke-width="0.12">Human − HIV (3)</text>
<text x="159.88" y="545.65" text-anchor="middle" font-size="8.8" fill="#000" stroke="#000" stroke-width="0.12">ASVs: 3092</text>
<rect x="216.93" y="550.40" width="107.67" height="120.15" fill="#fff"/>
<line x1="226.94" y1="550.40" x2="226.94" y2="670.55" stroke="#EBEBEB" stroke-width="0.55"/>
<line x1="236.31" y1="550.40" x2="236.31" y2="670.55" stroke="#EBEBEB" stroke-width="0.55"/>
<line x1="248.70" y1="550.40" x2="248.70" y2="670.55" stroke="#EBEBEB" stroke-width="0.55"/>
<line x1="263.90" y1="550.40" x2="263.90" y2="670.55" stroke="#EBEBEB" stroke-width="0.55"/>
<line x1="282.55" y1="550.40" x2="282.55" y2="670.55" stroke="#EBEBEB" stroke-width="0.55"/>
<line x1="306.91" y1="550.40" x2="306.91" y2="670.55" stroke="#EBEBEB" stroke-width="0.55"/>
<line x1="216.93" y1="555.95" x2="324.60" y2="555.95" stroke="#EBEBEB" stroke-width="1.07"/>
<line x1="216.93" y1="564.38" x2="324.60" y2="564.38" stroke="#EBEBEB" stroke-width="1.07"/>
<line x1="216.93" y1="572.81" x2="324.60" y2="572.81" stroke="#EBEBEB" stroke-width="1.07"/>
<line x1="216.93" y1="581.24" x2="324.60" y2="581.24" stroke="#EBEBEB" stroke-width="1.07"/>
<line x1="216.93" y1="589.67" x2="324.60" y2="589.67" stroke="#EBEBEB" stroke-width="1.07"/>
<line x1="216.93" y1="598.10" x2="324.60" y2="598.10" stroke="#EBEBEB" stroke-width="1.07"/>
<line x1="216.93" y1="606.53" x2="324.60" y2="606.53" stroke="#EBEBEB" stroke-width="1.07"/>
<line x1="216.93" y1="614.96" x2="324.60" y2="614.96" stroke="#EBEBEB" stroke-width="1.07"/>
<line x1="216.93" y1="623.39" x2="324.60" y2="623.39" stroke="#EBEBEB" stroke-width="1.07"/>
<line x1="216.93" y1="631.82" x2="324.60" y2="631.82" stroke="#EBEBEB" stroke-width="1.07"/>
<line x1="216.93" y1="640.25" x2="324.60" y2="640.25" stroke="#EBEBEB" stroke-width="1.07"/>
<line x1="216.93" y1="648.68" x2="324.60" y2="648.68" stroke="#EBEBEB" stroke-width="1.07"/>
<line x1="216.93" y1="657.11" x2="324.60" y2="657.11" stroke="#EBEBEB" stroke-width="1.07"/>
<line x1="216.93" y1="665.54" x2="324.60" y2="665.54" stroke="#EBEBEB" stroke-width="1.07"/>
<line x1="221.83" y1="550.40" x2="221.83" y2="670.55" stroke="#EBEBEB" stroke-width="1.07"/>
<line x1="232.06" y1="550.40" x2="232.06" y2="670.55" stroke="#EBEBEB" stroke-width="1.07"/>
<line x1="240.56" y1="550.40" x2="240.56" y2="670.55" stroke="#EBEBEB" stroke-width="1.07"/>
<line x1="256.83" y1="550.40" x2="256.83" y2="670.55" stroke="#EBEBEB" stroke-width="1.07"/>
<line x1="270.97" y1="550.40" x2="270.97" y2="670.55" stroke="#EBEBEB" stroke-width="1.07"/>
<line x1="294.13" y1="550.40" x2="294.13" y2="670.55" stroke="#EBEBEB" stroke-width="1.07"/>
<line x1="319.69" y1="550.40" x2="319.69" y2="670.55" stroke="#EBEBEB" stroke-width="1.07"/>
<rect x="216.93" y="524.50" width="107.67" height="25.95" fill="#D9D9D9" stroke="#333" stroke-width="0.8"/>
<text x="270.76" y="536.25" text-anchor="middle" font-size="8.8" fill="#000" stroke="#000" stroke-width="0.12">Human − OB (1)</text>
<text x="273.26" y="545.65" text-anchor="middle" font-size="8.8" fill="#000" stroke="#000" stroke-width="0.12">ASVs: 4287</text>
<rect x="330.31" y="550.40" width="107.67" height="120.15" fill="#fff"/>
<line x1="340.32" y1="550.40" x2="340.32" y2="670.55" stroke="#EBEBEB" stroke-width="0.55"/>
<line x1="349.69" y1="550.40" x2="349.69" y2="670.55" stroke="#EBEBEB" stroke-width="0.55"/>
<line x1="362.08" y1="550.40" x2="362.08" y2="670.55" stroke="#EBEBEB" stroke-width="0.55"/>
<line x1="377.28" y1="550.40" x2="377.28" y2="670.55" stroke="#EBEBEB" stroke-width="0.55"/>
<line x1="395.93" y1="550.40" x2="395.93" y2="670.55" stroke="#EBEBEB" stroke-width="0.55"/>
<line x1="420.29" y1="550.40" x2="420.29" y2="670.55" stroke="#EBEBEB" stroke-width="0.55"/>
<line x1="330.31" y1="555.95" x2="437.98" y2="555.95" stroke="#EBEBEB" stroke-width="1.07"/>
<line x1="330.31" y1="564.38" x2="437.98" y2="564.38" stroke="#EBEBEB" stroke-width="1.07"/>
<line x1="330.31" y1="572.81" x2="437.98" y2="572.81" stroke="#EBEBEB" stroke-width="1.07"/>
<line x1="330.31" y1="581.24" x2="437.98" y2="581.24" stroke="#EBEBEB" stroke-width="1.07"/>
<line x1="330.31" y1="589.67" x2="437.98" y2="589.67" stroke="#EBEBEB" stroke-width="1.07"/>
<line x1="330.31" y1="598.10" x2="437.98" y2="598.10" stroke="#EBEBEB" stroke-width="1.07"/>
<line x1="330.31" y1="606.53" x2="437.98" y2="606.53" stroke="#EBEBEB" stroke-width="1.07"/>
<line x1="330.31" y1="614.96" x2="437.98" y2="614.96" stroke="#EBEBEB" stroke-width="1.07"/>
<line x1="330.31" y1="623.39" x2="437.98" y2="623.39" stroke="#EBEBEB" stroke-width="1.07"/>
<line x1="330.31" y1="631.82" x2="437.98" y2="631.82" stroke="#EBEBEB" stroke-width="1.07"/>
<line x1="330.31" y1="640.25" x2="437.98" y2="640.25" stroke="#EBEBEB" stroke-width="1.07"/>
<line x1="330.31" y1="648.68" x2="437.98" y2="648.68" stroke="#EBEBEB" stroke-width="1.07"/>
<line x1="330.31" y1="657.11" x2="437.98" y2="657.11" stroke="#EBEBEB" stroke-width="1.07"/>
<line x1="330.31" y1="665.54" x2="437.98" y2="665.54" stroke="#EBEBEB" stroke-width="1.07"/>
<line x1="335.21" y1="550.40" x2="335.21" y2="670.55" stroke="#EBEBEB" stroke-width="1.07"/>
<line x1="345.44" y1="550.40" x2="345.44" y2="670.55" stroke="#EBEBEB" stroke-width="1.07"/>
<line x1="353.94" y1="550.40" x2="353.94" y2="670.55" stroke="#EBEBEB" stroke-width="1.07"/>
<line x1="370.21" y1="550.40" x2="370.21" y2="670.55" stroke="#EBEBEB" stroke-width="1.07"/>
<line x1="384.35" y1="550.40" x2="384.35" y2="670.55" stroke="#EBEBEB" stroke-width="1.07"/>
<line x1="407.51" y1="550.40" x2="407.51" y2="670.55" stroke="#EBEBEB" stroke-width="1.07"/>
<line x1="433.07" y1="550.40" x2="433.07" y2="670.55" stroke="#EBEBEB" stroke-width="1.07"/>
<rect x="330.31" y="524.50" width="107.67" height="25.95" fill="#D9D9D9" stroke="#333" stroke-width="0.8"/>
<text x="384.14" y="536.25" text-anchor="middle" font-size="8.8" fill="#000" stroke="#000" stroke-width="0.12">Marine − Sediment</text>
<text x="386.64" y="545.65" text-anchor="middle" font-size="8.8" fill="#000" stroke="#000" stroke-width="0.12">ASVs: 1998</text>
<rect x="443.69" y="550.40" width="107.67" height="120.15" fill="#fff"/>
<line x1="453.70" y1="550.40" x2="453.70" y2="670.55" stroke="#EBEBEB" stroke-width="0.55"/>
<line x1="463.07" y1="550.40" x2="463.07" y2="670.55" stroke="#EBEBEB" stroke-width="0.55"/>
<line x1="475.46" y1="550.40" x2="475.46" y2="670.55" stroke="#EBEBEB" stroke-width="0.55"/>
<line x1="490.66" y1="550.40" x2="490.66" y2="670.55" stroke="#EBEBEB" stroke-width="0.55"/>
<line x1="509.31" y1="550.40" x2="509.31" y2="670.55" stroke="#EBEBEB" stroke-width="0.55"/>
<line x1="533.67" y1="550.40" x2="533.67" y2="670.55" stroke="#EBEBEB" stroke-width="0.55"/>
<line x1="443.69" y1="555.95" x2="551.36" y2="555.95" stroke="#EBEBEB" stroke-width="1.07"/>
<line x1="443.69" y1="564.38" x2="551.36" y2="564.38" stroke="#EBEBEB" stroke-width="1.07"/>
<line x1="443.69" y1="572.81" x2="551.36" y2="572.81" stroke="#EBEBEB" stroke-width="1.07"/>
<line x1="443.69" y1="581.24" x2="551.36" y2="581.24" stroke="#EBEBEB" stroke-width="1.07"/>
<line x1="443.69" y1="589.67" x2="551.36" y2="589.67" stroke="#EBEBEB" stroke-width="1.07"/>
<line x1="443.69" y1="598.10" x2="551.36" y2="598.10" stroke="#EBEBEB" stroke-width="1.07"/>
<line x1="443.69" y1="606.53" x2="551.36" y2="606.53" stroke="#EBEBEB" stroke-width="1.07"/>
<line x1="443.69" y1="614.96" x2="551.36" y2="614.96" stroke="#EBEBEB" stroke-width="1.07"/>
<line x1="443.69" y1="623.39" x2="551.36" y2="623.39" stroke="#EBEBEB" stroke-width="1.07"/>
<line x1="443.69" y1="631.82" x2="551.36" y2="631.82" stroke="#EBEBEB" stroke-width="1.07"/>
<line x1="443.69" y1="640.25" x2="551.36" y2="640.25" stroke="#EBEBEB" stroke-width="1.07"/>
<line x1="443.69" y1="648.68" x2="551.36" y2="648.68" stroke="#EBEBEB" stroke-width="1.07"/>
<line x1="443.69" y1="657.11" x2="551.36" y2="657.11" stroke="#EBEBEB" stroke-width="1.07"/>
<line x1="443.69" y1="665.54" x2="551.36" y2="665.54" stroke="#EBEBEB" stroke-width="1.07"/>
<line x1="448.59" y1="550.40" x2="448.59" y2="670.55" stroke="#EBEBEB" stroke-width="1.07"/>
<line x1="458.82" y1="550.40" x2="458.82" y2="670.55" stroke="#EBEBEB" stroke-width="1.07"/>
<line x1="467.32" y1="550.40" x2="467.32" y2="670.55" stroke="#EBEBEB" stroke-width="1.07"/>
<line x1="483.59" y1="550.40" x2="483.59" y2="670.55" stroke="#EBEBEB" stroke-width="1.07"/>
<line x1="497.73" y1="550.40" x2="497.73" y2="670.55" stroke="#EBEBEB" stroke-width="1.07"/>
<line x1="520.89" y1="550.40" x2="520.89" y2="670.55" stroke="#EBEBEB" stroke-width="1.07"/>
<line x1="546.45" y1="550.40" x2="546.45" y2="670.55" stroke="#EBEBEB" stroke-width="1.07"/>
<rect x="443.69" y="524.50" width="107.67" height="25.95" fill="#D9D9D9" stroke="#333" stroke-width="0.8"/>
<text x="497.52" y="536.25" text-anchor="middle" font-size="8.8" fill="#000" stroke="#000" stroke-width="0.12">Soil − Blueberry</text>
<text x="500.02" y="545.65" text-anchor="middle" font-size="8.8" fill="#000" stroke="#000" stroke-width="0.12">ASVs: 3250</text>
<rect x="113.10" y="417.66" width="7.40" height="6.8" fill="#FF00FF" stroke="#333" stroke-width="0.8"/>
<rect x="107.90" y="451.38" width="21.40" height="6.8" fill="#9A32CD" stroke="#333" stroke-width="0.8"/>
<rect x="107.90" y="459.81" width="16.20" height="6.8" fill="#BF3EFF" stroke="#333" stroke-width="0.8"/>
<line x1="108.30" y1="421.06" x2="128.30" y2="421.06" stroke="#333" stroke-width="0.8"/>
<line x1="113.00" y1="446.35" x2="173.30" y2="446.35" stroke="#333" stroke-width="0.8"/>
<line x1="129.30" y1="454.78" x2="160.60" y2="454.78" stroke="#333" stroke-width="0.8"/>
<line x1="124.10" y1="463.21" x2="160.10" y2="463.21" stroke="#333" stroke-width="0.8"/>
<rect x="106.85" y="399.90" width="3.2" height="17.03" rx="1.6" fill="#000"/>
<circle cx="108.45" cy="401.60" r="1.1" fill="#8B3E2F"/>
<circle cx="108.45" cy="404.20" r="1.1" fill="#8B3E2F"/>
<circle cx="108.45" cy="406.80" r="1.1" fill="#8B3E2F"/>
<circle cx="108.45" cy="410.03" r="1.1" fill="#EE6A50"/>
<circle cx="108.45" cy="412.63" r="1.1" fill="#EE6A50"/>
<circle cx="108.45" cy="415.23" r="1.1" fill="#EE6A50"/>
<rect x="106.85" y="425.19" width="3.2" height="8.60" rx="1.6" fill="#000"/>
<circle cx="108.45" cy="426.89" r="1.1" fill="#5CACEE"/>
<circle cx="108.45" cy="429.49" r="1.1" fill="#5CACEE"/>
<circle cx="108.45" cy="432.09" r="1.1" fill="#5CACEE"/>
<rect x="106.85" y="450.48" width="3.2" height="67.61" rx="1.6" fill="#000"/>
<circle cx="108.45" cy="452.18" r="1.1" fill="#9A32CD"/>
<circle cx="108.45" cy="454.78" r="1.1" fill="#9A32CD"/>
<circle cx="108.45" cy="457.38" r="1.1" fill="#9A32CD"/>
<circle cx="108.45" cy="460.61" r="1.1" fill="#BF3EFF"/>
<circle cx="108.45" cy="463.21" r="1.1" fill="#BF3EFF"/>
<circle cx="108.45" cy="465.81" r="1.1" fill="#BF3EFF"/>
<circle cx="108.45" cy="469.04" r="1.1" fill="#CDCDC1"/>
<circle cx="108.45" cy="471.64" r="1.1" fill="#CDCDC1"/>
<circle cx="108.45" cy="474.24" r="1.1" fill="#CDCDC1"/>
<circle cx="108.45" cy="477.47" r="1.1" fill="#2E8B57"/>
<circle cx="108.45" cy="480.07" r="1.1" fill="#2E8B57"/>
<circle cx="108.45" cy="482.67" r="1.1" fill="#2E8B57"/>
<circle cx="108.45" cy="485.90" r="1.1" fill="#FF8C00"/>
<circle cx="108.45" cy="488.50" r="1.1" fill="#FF8C00"/>
<circle cx="108.45" cy="491.10" r="1.1" fill="#FF8C00"/>
<circle cx="108.45" cy="494.33" r="1.1" fill="#104E8B"/>
<circle cx="108.45" cy="496.93" r="1.1" fill="#104E8B"/>
<circle cx="108.45" cy="499.53" r="1.1" fill="#104E8B"/>
<circle cx="108.45" cy="502.76" r="1.1" fill="#7CCD7C"/>
<circle cx="108.45" cy="505.36" r="1.1" fill="#7CCD7C"/>
<circle cx="108.45" cy="507.96" r="1.1" fill="#7CCD7C"/>
<circle cx="108.45" cy="511.19" r="1.1" fill="#BEBEBE"/>
<circle cx="108.45" cy="513.79" r="1.1" fill="#BEBEBE"/>
<circle cx="108.45" cy="516.39" r="1.1" fill="#BEBEBE"/>
<polygon points="169.95,437.92 170.29,436.90 170.62,436.57 170.96,436.19 171.30,435.96 171.63,435.73 171.97,435.54 172.31,435.37 172.64,435.19 172.98,435.03 173.32,434.89 173.65,434.74 173.99,434.59 174.33,434.45 174.66,434.33 175.00,434.20 175.34,434.06 175.67,433.94 176.01,433.82 176.35,433.71 176.68,433.59 177.02,433.47 177.36,433.36 177.69,433.25 178.03,433.15 178.37,433.11 178.70,433.14 179.04,433.15 179.38,433.24 179.71,433.31 180.05,433.38 180.39,433.46 180.72,433.54 181.06,433.63 181.40,433.70 181.73,433.78 182.07,433.86 182.41,433.95 182.74,434.04 183.08,434.12 183.42,434.20 183.75,434.30 184.09,434.40 184.43,434.49 184.76,434.58 185.10,434.68 185.44,434.78 185.77,434.89 186.11,434.99 186.45,435.10 186.78,435.22 187.12,435.34 187.46,435.46 187.79,435.59 188.13,435.74 188.47,435.89 188.80,436.06 189.14,436.29 189.48,436.57 189.81,436.90 190.15,437.92 190.15,437.92 189.81,438.94 189.48,439.27 189.14,439.55 188.80,439.78 188.47,439.95 188.13,440.10 187.79,440.25 187.46,440.38 187.12,440.50 186.78,440.62 186.45,440.74 186.11,440.85 185.77,440.95 185.44,441.06 185.10,441.16 184.76,441.26 184.43,441.35 184.09,441.44 183.75,441.54 183.42,441.64 183.08,441.72 182.74,441.80 182.41,441.89 182.07,441.98 181.73,442.06 181.40,442.14 181.06,442.21 180.72,442.30 180.39,442.38 180.05,442.46 179.71,442.53 179.38,442.60 179.04,442.69 178.70,442.70 178.37,442.73 178.03,442.69 177.69,442.59 177.36,442.48 177.02,442.37 176.68,442.25 176.35,442.13 176.01,442.02 175.67,441.90 175.34,441.78 175.00,441.64 174.66,441.51 174.33,441.39 173.99,441.25 173.65,441.10 173.32,440.95 172.98,440.81 172.64,440.65 172.31,440.47 171.97,440.30 171.63,440.11 171.30,439.88 170.96,439.65 170.62,439.27 170.29,438.94 169.95,437.92" fill="#000"/>
<circle cx="171.65" cy="437.92" r="1.55" fill="#CDCD00" stroke="#000" stroke-width="0.95"/>
<circle cx="188.45" cy="437.92" r="1.55" fill="#CDCD00" stroke="#000" stroke-width="0.95"/>
<circle cx="178.50" cy="441.07" r="1.55" fill="#CDCD00" stroke="#000" stroke-width="0.95"/>
<circle cx="186.35" cy="436.86" r="1.55" fill="#CDCD00" stroke="#000" stroke-width="0.95"/>
<circle cx="184.25" cy="439.64" r="1.55" fill="#CDCD00" stroke="#000" stroke-width="0.95"/>
<circle cx="180.00" cy="436.81" r="1.55" fill="#CDCD00" stroke="#000" stroke-width="0.95"/>
<circle cx="178.05" cy="438.13" r="1.55" fill="#CDCD00" stroke="#000" stroke-width="0.95"/>
<circle cx="186.35" cy="438.98" r="1.55" fill="#CDCD00" stroke="#000" stroke-width="0.95"/>
<circle cx="175.48" cy="437.98" r="1.55" fill="#CDCD00" stroke="#000" stroke-width="0.95"/>
<circle cx="182.15" cy="440.21" r="1.55" fill="#CDCD00" stroke="#000" stroke-width="0.95"/>
<circle cx="182.10" cy="438.00" r="1.55" fill="#CDCD00" stroke="#000" stroke-width="0.95"/>
<circle cx="178.50" cy="434.77" r="1.55" fill="#CDCD00" stroke="#000" stroke-width="0.95"/>
<circle cx="182.15" cy="435.63" r="1.55" fill="#CDCD00" stroke="#000" stroke-width="0.95"/>
<circle cx="180.04" cy="438.96" r="1.55" fill="#CDCD00" stroke="#000" stroke-width="0.95"/>
<circle cx="175.85" cy="435.68" r="1.55" fill="#CDCD00" stroke="#000" stroke-width="0.95"/>
<circle cx="173.75" cy="439.30" r="1.55" fill="#CDCD00" stroke="#000" stroke-width="0.95"/>
<circle cx="175.85" cy="440.16" r="1.55" fill="#CDCD00" stroke="#000" stroke-width="0.95"/>
<circle cx="184.25" cy="436.20" r="1.55" fill="#CDCD00" stroke="#000" stroke-width="0.95"/>
<circle cx="173.75" cy="436.54" r="1.55" fill="#CDCD00" stroke="#000" stroke-width="0.95"/>
<polygon points="125.75,446.35 126.28,445.12 126.80,444.27 127.33,443.82 127.85,443.63 128.38,443.38 128.90,443.24 129.43,443.12 129.95,442.98 130.47,442.88 131.00,442.81 131.53,442.70 132.05,442.61 132.57,442.56 133.10,442.48 133.62,442.40 134.15,442.34 134.68,442.30 135.20,442.23 135.72,442.16 136.25,442.11 136.78,442.09 137.30,442.01 137.82,441.96 138.35,441.92 138.88,441.90 139.40,441.83 139.93,441.78 140.45,441.75 140.97,441.72 141.50,441.74 142.03,441.80 142.55,441.82 143.07,441.85 143.60,441.90 144.12,441.96 144.65,441.99 145.18,442.02 145.70,442.08 146.22,442.15 146.75,442.18 147.28,442.22 147.80,442.29 148.32,442.36 148.85,442.39 149.38,442.45 149.90,442.54 150.43,442.61 150.95,442.66 151.48,442.74 152.00,442.86 152.53,442.93 153.05,443.02 153.58,443.16 154.10,443.28 154.62,443.42 155.15,443.66 155.68,443.84 156.20,444.30 156.73,445.12 157.25,446.35 157.25,446.35 156.73,447.58 156.20,448.40 155.68,448.86 155.15,449.04 154.62,449.28 154.10,449.42 153.58,449.54 153.05,449.68 152.53,449.77 152.00,449.84 151.48,449.96 150.95,450.04 150.43,450.09 149.90,450.16 149.38,450.25 148.85,450.31 148.32,450.34 147.80,450.41 147.28,450.48 146.75,450.52 146.22,450.55 145.70,450.62 145.18,450.68 144.65,450.71 144.12,450.74 143.60,450.80 143.07,450.85 142.55,450.88 142.03,450.90 141.50,450.96 140.97,450.98 140.45,450.95 139.93,450.92 139.40,450.87 138.88,450.80 138.35,450.78 137.82,450.74 137.30,450.69 136.78,450.61 136.25,450.59 135.72,450.54 135.20,450.47 134.68,450.40 134.15,450.36 133.62,450.30 133.10,450.22 132.57,450.14 132.05,450.09 131.53,450.00 131.00,449.89 130.47,449.82 129.95,449.72 129.43,449.58 128.90,449.46 128.38,449.32 127.85,449.07 127.33,448.88 126.80,448.43 126.28,447.58 125.75,446.35" fill="#000"/>
<circle cx="139.39" cy="447.93" r="1.55" fill="#FFFF00" stroke="#000" stroke-width="0.95"/>
<circle cx="127.45" cy="446.35" r="1.55" fill="#FFFF00" stroke="#000" stroke-width="0.95"/>
<circle cx="139.44" cy="445.77" r="1.55" fill="#FFFF00" stroke="#000" stroke-width="0.95"/>
<circle cx="149.66" cy="445.63" r="1.55" fill="#FFFF00" stroke="#000" stroke-width="0.95"/>
<circle cx="141.00" cy="449.30" r="1.55" fill="#FFFF00" stroke="#000" stroke-width="0.95"/>
<circle cx="151.54" cy="448.23" r="1.55" fill="#FFFF00" stroke="#000" stroke-width="0.95"/>
<circle cx="153.53" cy="447.17" r="1.55" fill="#FFFF00" stroke="#000" stroke-width="0.95"/>
<circle cx="133.47" cy="444.13" r="1.55" fill="#FFFF00" stroke="#000" stroke-width="0.95"/>
<circle cx="145.22" cy="444.86" r="1.55" fill="#FFFF00" stroke="#000" stroke-width="0.95"/>
<circle cx="143.51" cy="443.59" r="1.55" fill="#FFFF00" stroke="#000" stroke-width="0.95"/>
<circle cx="134.85" cy="446.44" r="1.55" fill="#FFFF00" stroke="#000" stroke-width="0.95"/>
<circle cx="145.46" cy="447.10" r="1.55" fill="#FFFF00" stroke="#000" stroke-width="0.95"/>
<circle cx="137.57" cy="446.67" r="1.55" fill="#FFFF00" stroke="#000" stroke-width="0.95"/>
<circle cx="153.82" cy="445.04" r="1.55" fill="#FFFF00" stroke="#000" stroke-width="0.95"/>
<circle cx="147.49" cy="446.50" r="1.55" fill="#FFFF00" stroke="#000" stroke-width="0.95"/>
<circle cx="147.52" cy="443.95" r="1.55" fill="#FFFF00" stroke="#000" stroke-width="0.95"/>
<circle cx="129.46" cy="444.84" r="1.55" fill="#FFFF00" stroke="#000" stroke-width="0.95"/>
<circle cx="137.49" cy="449.01" r="1.55" fill="#FFFF00" stroke="#000" stroke-width="0.95"/>
<circle cx="137.49" cy="443.69" r="1.55" fill="#FFFF00" stroke="#000" stroke-width="0.95"/>
<circle cx="151.54" cy="444.47" r="1.55" fill="#FFFF00" stroke="#000" stroke-width="0.95"/>
<circle cx="129.46" cy="447.86" r="1.55" fill="#FFFF00" stroke="#000" stroke-width="0.95"/>
<circle cx="155.55" cy="446.35" r="1.55" fill="#FFFF00" stroke="#000" stroke-width="0.95"/>
<circle cx="132.08" cy="446.32" r="1.55" fill="#FFFF00" stroke="#000" stroke-width="0.95"/>
<circle cx="147.52" cy="448.75" r="1.55" fill="#FFFF00" stroke="#000" stroke-width="0.95"/>
<circle cx="141.00" cy="443.40" r="1.55" fill="#FFFF00" stroke="#000" stroke-width="0.95"/>
<circle cx="135.58" cy="444.48" r="1.55" fill="#FFFF00" stroke="#000" stroke-width="0.95"/>
<circle cx="143.51" cy="449.11" r="1.55" fill="#FFFF00" stroke="#000" stroke-width="0.95"/>
<circle cx="141.59" cy="446.45" r="1.55" fill="#FFFF00" stroke="#000" stroke-width="0.95"/>
<circle cx="133.47" cy="448.57" r="1.55" fill="#FFFF00" stroke="#000" stroke-width="0.95"/>
<circle cx="113.50" cy="419.66" r="1.55" fill="#FF00FF" stroke="#000" stroke-width="0.95"/>
<circle cx="115.67" cy="422.46" r="1.55" fill="#FF00FF" stroke="#000" stroke-width="0.95"/>
<circle cx="117.83" cy="421.06" r="1.55" fill="#FF00FF" stroke="#000" stroke-width="0.95"/>
<circle cx="120.00" cy="422.46" r="1.55" fill="#FF00FF" stroke="#000" stroke-width="0.95"/>
<circle cx="109.00" cy="453.38" r="1.55" fill="#9A32CD" stroke="#000" stroke-width="0.95"/>
<circle cx="111.71" cy="456.18" r="1.55" fill="#9A32CD" stroke="#000" stroke-width="0.95"/>
<circle cx="114.43" cy="454.78" r="1.55" fill="#9A32CD" stroke="#000" stroke-width="0.95"/>
<circle cx="117.14" cy="456.18" r="1.55" fill="#9A32CD" stroke="#000" stroke-width="0.95"/>
<circle cx="119.86" cy="453.38" r="1.55" fill="#9A32CD" stroke="#000" stroke-width="0.95"/>
<circle cx="122.57" cy="454.78" r="1.55" fill="#9A32CD" stroke="#000" stroke-width="0.95"/>
<circle cx="125.29" cy="453.38" r="1.55" fill="#9A32CD" stroke="#000" stroke-width="0.95"/>
<circle cx="128.00" cy="456.18" r="1.55" fill="#9A32CD" stroke="#000" stroke-width="0.95"/>
<circle cx="109.00" cy="461.81" r="1.55" fill="#BF3EFF" stroke="#000" stroke-width="0.95"/>
<circle cx="111.42" cy="464.61" r="1.55" fill="#BF3EFF" stroke="#000" stroke-width="0.95"/>
<circle cx="113.83" cy="463.21" r="1.55" fill="#BF3EFF" stroke="#000" stroke-width="0.95"/>
<circle cx="116.25" cy="464.61" r="1.55" fill="#BF3EFF" stroke="#000" stroke-width="0.95"/>
<circle cx="118.67" cy="461.81" r="1.55" fill="#BF3EFF" stroke="#000" stroke-width="0.95"/>
<circle cx="121.08" cy="463.21" r="1.55" fill="#BF3EFF" stroke="#000" stroke-width="0.95"/>
<circle cx="123.50" cy="461.81" r="1.55" fill="#BF3EFF" stroke="#000" stroke-width="0.95"/>
<circle cx="114.10" cy="404.20" r="1.55" fill="#8B3E2F" stroke="#000" stroke-width="0.95"/>
<circle cx="114.10" cy="412.63" r="1.55" fill="#EE6A50" stroke="#000" stroke-width="0.95"/>
<circle cx="119.50" cy="412.63" r="1.55" fill="#EE6A50" stroke="#000" stroke-width="0.95"/>
<circle cx="132.10" cy="412.63" r="1.55" fill="#EE6A50" stroke="#000" stroke-width="0.95"/>
<circle cx="108.30" cy="421.06" r="1.55" fill="#FF00FF" stroke="#000" stroke-width="0.95"/>
<circle cx="124.10" cy="421.06" r="1.55" fill="#FF00FF" stroke="#000" stroke-width="0.95"/>
<circle cx="128.30" cy="421.06" r="1.55" fill="#FF00FF" stroke="#000" stroke-width="0.95"/>
<circle cx="114.10" cy="429.49" r="1.55" fill="#5CACEE" stroke="#000" stroke-width="0.95"/>
<circle cx="114.10" cy="446.35" r="1.55" fill="#FFFF00" stroke="#000" stroke-width="0.95"/>
<circle cx="119.30" cy="446.35" r="1.55" fill="#FFFF00" stroke="#000" stroke-width="0.95"/>
<circle cx="124.10" cy="446.35" r="1.55" fill="#FFFF00" stroke="#000" stroke-width="0.95"/>
<circle cx="155.80" cy="446.35" r="1.55" fill="#FFFF00" stroke="#000" stroke-width="0.95"/>
<circle cx="158.80" cy="446.35" r="1.55" fill="#FFFF00" stroke="#000" stroke-width="0.95"/>
<circle cx="161.00" cy="446.35" r="1.55" fill="#FFFF00" stroke="#000" stroke-width="0.95"/>
<circle cx="163.20" cy="446.35" r="1.55" fill="#FFFF00" stroke="#000" stroke-width="0.95"/>
<circle cx="166.30" cy="446.35" r="1.55" fill="#FFFF00" stroke="#000" stroke-width="0.95"/>
<circle cx="173.30" cy="446.35" r="1.55" fill="#FFFF00" stroke="#000" stroke-width="0.95"/>
<circle cx="132.10" cy="454.78" r="1.55" fill="#9A32CD" stroke="#000" stroke-width="0.95"/>
<circle cx="136.20" cy="454.78" r="1.55" fill="#9A32CD" stroke="#000" stroke-width="0.95"/>
<circle cx="140.20" cy="454.78" r="1.55" fill="#9A32CD" stroke="#000" stroke-width="0.95"/>
<circle cx="141.50" cy="454.78" r="1.55" fill="#9A32CD" stroke="#000" stroke-width="0.95"/>
<circle cx="145.50" cy="454.78" r="1.55" fill="#9A32CD" stroke="#000" stroke-width="0.95"/>
<circle cx="147.60" cy="454.78" r="1.55" fill="#9A32CD" stroke="#000" stroke-width="0.95"/>
<circle cx="150.30" cy="454.78" r="1.55" fill="#9A32CD" stroke="#000" stroke-width="0.95"/>
<circle cx="153.00" cy="454.78" r="1.55" fill="#9A32CD" stroke="#000" stroke-width="0.95"/>
<circle cx="156.40" cy="454.78" r="1.55" fill="#9A32CD" stroke="#000" stroke-width="0.95"/>
<circle cx="158.50" cy="454.78" r="1.55" fill="#9A32CD" stroke="#000" stroke-width="0.95"/>
<circle cx="160.60" cy="454.78" r="1.55" fill="#9A32CD" stroke="#000" stroke-width="0.95"/>
<circle cx="127.30" cy="463.21" r="1.55" fill="#BF3EFF" stroke="#000" stroke-width="0.95"/>
<circle cx="132.10" cy="463.21" r="1.55" fill="#BF3EFF" stroke="#000" stroke-width="0.95"/>
<circle cx="137.90" cy="463.21" r="1.55" fill="#BF3EFF" stroke="#000" stroke-width="0.95"/>
<circle cx="140.60" cy="463.21" r="1.55" fill="#BF3EFF" stroke="#000" stroke-width="0.95"/>
<circle cx="144.10" cy="463.21" r="1.55" fill="#BF3EFF" stroke="#000" stroke-width="0.95"/>
<circle cx="146.20" cy="463.21" r="1.55" fill="#BF3EFF" stroke="#000" stroke-width="0.95"/>
<circle cx="151.50" cy="463.21" r="1.55" fill="#BF3EFF" stroke="#000" stroke-width="0.95"/>
<circle cx="156.80" cy="463.21" r="1.55" fill="#BF3EFF" stroke="#000" stroke-width="0.95"/>
<circle cx="160.10" cy="463.21" r="1.55" fill="#BF3EFF" stroke="#000" stroke-width="0.95"/>
<circle cx="181.90" cy="463.21" r="1.55" fill="#BF3EFF" stroke="#000" stroke-width="0.95"/>
<circle cx="140.90" cy="471.64" r="1.55" fill="#CDCDC1" stroke="#000" stroke-width="0.95"/>
<circle cx="114.10" cy="480.07" r="1.55" fill="#2E8B57" stroke="#000" stroke-width="0.95"/>
<circle cx="119.40" cy="480.07" r="1.55" fill="#2E8B57" stroke="#000" stroke-width="0.95"/>
<circle cx="140.90" cy="480.07" r="1.55" fill="#2E8B57" stroke="#000" stroke-width="0.95"/>
<circle cx="114.10" cy="488.50" r="1.55" fill="#FF8C00" stroke="#000" stroke-width="0.95"/>
<circle cx="114.10" cy="496.93" r="1.55" fill="#104E8B" stroke="#000" stroke-width="0.95"/>
<circle cx="135.30" cy="496.93" r="1.55" fill="#104E8B" stroke="#000" stroke-width="0.95"/>
<circle cx="114.10" cy="505.36" r="1.55" fill="#7CCD7C" stroke="#000" stroke-width="0.95"/>
<circle cx="128.20" cy="505.36" r="1.55" fill="#7CCD7C" stroke="#000" stroke-width="0.95"/>
<circle cx="145.00" cy="505.36" r="1.55" fill="#7CCD7C" stroke="#000" stroke-width="0.95"/>
<circle cx="114.10" cy="513.79" r="1.55" fill="#BEBEBE" stroke="#000" stroke-width="0.95"/>
<circle cx="119.40" cy="513.79" r="1.55" fill="#BEBEBE" stroke="#000" stroke-width="0.95"/>
<circle cx="131.70" cy="513.79" r="1.55" fill="#BEBEBE" stroke="#000" stroke-width="0.95"/>
<circle cx="140.90" cy="513.79" r="1.55" fill="#BEBEBE" stroke="#000" stroke-width="0.95"/>
<rect x="220.23" y="399.90" width="3.2" height="17.03" rx="1.6" fill="#000"/>
<circle cx="221.83" cy="401.60" r="1.1" fill="#8B3E2F"/>
<circle cx="221.83" cy="404.20" r="1.1" fill="#8B3E2F"/>
<circle cx="221.83" cy="406.80" r="1.1" fill="#8B3E2F"/>
<circle cx="221.83" cy="410.03" r="1.1" fill="#EE6A50"/>
<circle cx="221.83" cy="412.63" r="1.1" fill="#EE6A50"/>
<circle cx="221.83" cy="415.23" r="1.1" fill="#EE6A50"/>
<rect x="220.23" y="425.19" width="3.2" height="8.60" rx="1.6" fill="#000"/>
<circle cx="221.83" cy="426.89" r="1.1" fill="#5CACEE"/>
<circle cx="221.83" cy="429.49" r="1.1" fill="#5CACEE"/>
<circle cx="221.83" cy="432.09" r="1.1" fill="#5CACEE"/>
<rect x="220.23" y="450.48" width="3.2" height="67.61" rx="1.6" fill="#000"/>
<circle cx="221.83" cy="452.18" r="1.1" fill="#9A32CD"/>
<circle cx="221.83" cy="454.78" r="1.1" fill="#9A32CD"/>
<circle cx="221.83" cy="457.38" r="1.1" fill="#9A32CD"/>
<circle cx="221.83" cy="460.61" r="1.1" fill="#BF3EFF"/>
<circle cx="221.83" cy="463.21" r="1.1" fill="#BF3EFF"/>
<circle cx="221.83" cy="465.81" r="1.1" fill="#BF3EFF"/>
<circle cx="221.83" cy="469.04" r="1.1" fill="#CDCDC1"/>
<circle cx="221.83" cy="471.64" r="1.1" fill="#CDCDC1"/>
<circle cx="221.83" cy="474.24" r="1.1" fill="#CDCDC1"/>
<circle cx="221.83" cy="477.47" r="1.1" fill="#2E8B57"/>
<circle cx="221.83" cy="480.07" r="1.1" fill="#2E8B57"/>
<circle cx="221.83" cy="482.67" r="1.1" fill="#2E8B57"/>
<circle cx="221.83" cy="485.90" r="1.1" fill="#FF8C00"/>
<circle cx="221.83" cy="488.50" r="1.1" fill="#FF8C00"/>
<circle cx="221.83" cy="491.10" r="1.1" fill="#FF8C00"/>
<circle cx="221.83" cy="494.33" r="1.1" fill="#104E8B"/>
<circle cx="221.83" cy="496.93" r="1.1" fill="#104E8B"/>
<circle cx="221.83" cy="499.53" r="1.1" fill="#104E8B"/>
<circle cx="221.83" cy="502.76" r="1.1" fill="#7CCD7C"/>
<circle cx="221.83" cy="505.36" r="1.1" fill="#7CCD7C"/>
<circle cx="221.83" cy="507.96" r="1.1" fill="#7CCD7C"/>
<circle cx="221.83" cy="511.19" r="1.1" fill="#BEBEBE"/>
<circle cx="221.83" cy="513.79" r="1.1" fill="#BEBEBE"/>
<circle cx="221.83" cy="516.39" r="1.1" fill="#BEBEBE"/>
<polygon points="229.05,421.06 229.68,419.74 230.31,419.42 230.95,419.04 231.58,418.87 232.21,418.63 232.84,418.44 233.47,418.31 234.10,418.15 234.74,417.97 235.37,417.84 236.00,417.75 236.63,417.57 237.26,417.43 237.89,417.33 238.53,417.22 239.16,417.07 239.79,416.95 240.42,416.88 241.05,416.74 241.68,416.61 242.31,416.52 242.95,416.44 243.58,416.48 244.21,416.56 244.84,416.58 245.47,416.64 246.11,416.73 246.74,416.79 247.37,416.82 248.00,416.89 248.63,416.99 249.26,417.03 249.90,417.08 250.53,417.16 251.16,417.26 251.79,417.28 252.42,417.35 253.05,417.44 253.69,417.52 254.32,417.56 254.95,417.63 255.58,417.75 256.21,417.80 256.84,417.85 257.48,417.95 258.11,418.07 258.74,418.11 259.37,418.18 260.00,418.30 260.63,418.39 261.26,418.46 261.90,418.56 262.53,418.71 263.16,418.78 263.79,418.89 264.42,419.06 265.06,419.19 265.69,419.42 266.32,419.74 266.95,421.06 266.95,421.06 266.32,422.38 265.69,422.70 265.06,422.93 264.42,423.06 263.79,423.23 263.16,423.34 262.53,423.41 261.90,423.56 261.26,423.66 260.63,423.73 260.00,423.82 259.37,423.94 258.74,424.01 258.11,424.05 257.48,424.17 256.84,424.27 256.21,424.32 255.58,424.37 254.95,424.49 254.32,424.56 253.69,424.60 253.05,424.68 252.42,424.77 251.79,424.84 251.16,424.86 250.53,424.96 249.90,425.04 249.26,425.09 248.63,425.13 248.00,425.23 247.37,425.30 246.74,425.33 246.11,425.39 245.47,425.48 244.84,425.54 244.21,425.56 243.58,425.64 242.95,425.68 242.31,425.60 241.68,425.51 241.05,425.38 240.42,425.24 239.79,425.17 239.16,425.05 238.53,424.90 237.89,424.79 237.26,424.69 236.63,424.55 236.00,424.37 235.37,424.28 234.74,424.15 234.10,423.97 233.47,423.81 232.84,423.68 232.21,423.49 231.58,423.25 230.95,423.08 230.31,422.70 229.68,422.38 229.05,421.06" fill="#000"/>
<circle cx="251.04" cy="423.21" r="1.55" fill="#FF00FF" stroke="#000" stroke-width="0.95"/>
<circle cx="265.25" cy="421.06" r="1.55" fill="#FF00FF" stroke="#000" stroke-width="0.95"/>
<circle cx="251.04" cy="418.91" r="1.55" fill="#FF00FF" stroke="#000" stroke-width="0.95"/>
<circle cx="238.87" cy="423.27" r="1.55" fill="#FF00FF" stroke="#000" stroke-width="0.95"/>
<circle cx="246.99" cy="423.63" r="1.55" fill="#FF00FF" stroke="#000" stroke-width="0.95"/>
<circle cx="257.07" cy="419.98" r="1.55" fill="#FF00FF" stroke="#000" stroke-width="0.95"/>
<circle cx="253.05" cy="419.39" r="1.55" fill="#FF00FF" stroke="#000" stroke-width="0.95"/>
<circle cx="257.07" cy="422.13" r="1.55" fill="#FF00FF" stroke="#000" stroke-width="0.95"/>
<circle cx="255.10" cy="422.76" r="1.55" fill="#FF00FF" stroke="#000" stroke-width="0.95"/>
<circle cx="251.97" cy="421.26" r="1.55" fill="#FF00FF" stroke="#000" stroke-width="0.95"/>
<circle cx="261.19" cy="421.96" r="1.55" fill="#FF00FF" stroke="#000" stroke-width="0.95"/>
<circle cx="240.32" cy="420.46" r="1.55" fill="#FF00FF" stroke="#000" stroke-width="0.95"/>
<circle cx="242.46" cy="420.55" r="1.55" fill="#FF00FF" stroke="#000" stroke-width="0.95"/>
<circle cx="259.16" cy="422.25" r="1.55" fill="#FF00FF" stroke="#000" stroke-width="0.95"/>
<circle cx="248.98" cy="418.98" r="1.55" fill="#FF00FF" stroke="#000" stroke-width="0.95"/>
<circle cx="263.22" cy="421.61" r="1.55" fill="#FF00FF" stroke="#000" stroke-width="0.95"/>
<circle cx="238.17" cy="420.87" r="1.55" fill="#FF00FF" stroke="#000" stroke-width="0.95"/>
<circle cx="248.69" cy="422.38" r="1.55" fill="#FF00FF" stroke="#000" stroke-width="0.95"/>
<circle cx="236.84" cy="419.25" r="1.55" fill="#FF00FF" stroke="#000" stroke-width="0.95"/>
<circle cx="244.54" cy="420.44" r="1.55" fill="#FF00FF" stroke="#000" stroke-width="0.95"/>
<circle cx="246.63" cy="420.85" r="1.55" fill="#FF00FF" stroke="#000" stroke-width="0.95"/>
<circle cx="234.81" cy="419.70" r="1.55" fill="#FF00FF" stroke="#000" stroke-width="0.95"/>
<circle cx="255.10" cy="419.36" r="1.55" fill="#FF00FF" stroke="#000" stroke-width="0.95"/>
<circle cx="238.87" cy="418.85" r="1.55" fill="#FF00FF" stroke="#000" stroke-width="0.95"/>
<circle cx="259.16" cy="419.87" r="1.55" fill="#FF00FF" stroke="#000" stroke-width="0.95"/>
<circle cx="243.00" cy="424.01" r="1.55" fill="#FF00FF" stroke="#000" stroke-width="0.95"/>
<circle cx="236.84" cy="422.87" r="1.55" fill="#FF00FF" stroke="#000" stroke-width="0.95"/>
<circle cx="240.90" cy="418.47" r="1.55" fill="#FF00FF" stroke="#000" stroke-width="0.95"/>
<circle cx="230.75" cy="421.06" r="1.55" fill="#FF00FF" stroke="#000" stroke-width="0.95"/>
<circle cx="234.81" cy="422.42" r="1.55" fill="#FF00FF" stroke="#000" stroke-width="0.95"/>
<circle cx="240.90" cy="423.65" r="1.55" fill="#FF00FF" stroke="#000" stroke-width="0.95"/>
<circle cx="246.99" cy="418.49" r="1.55" fill="#FF00FF" stroke="#000" stroke-width="0.95"/>
<circle cx="232.78" cy="421.90" r="1.55" fill="#FF00FF" stroke="#000" stroke-width="0.95"/>
<circle cx="244.49" cy="422.53" r="1.55" fill="#FF00FF" stroke="#000" stroke-width="0.95"/>
<circle cx="243.00" cy="418.11" r="1.55" fill="#FF00FF" stroke="#000" stroke-width="0.95"/>
<polygon points="265.85,437.92 266.33,436.73 266.81,436.39 267.30,436.03 267.78,435.83 268.26,435.60 268.74,435.43 269.22,435.29 269.70,435.11 270.19,434.95 270.67,434.83 271.15,434.69 271.63,434.55 272.11,434.42 272.59,434.32 273.08,434.18 273.56,434.05 274.04,433.95 274.52,433.86 275.00,433.73 275.48,433.61 275.97,433.51 276.45,433.43 276.93,433.30 277.41,433.19 277.89,433.10 278.37,433.02 278.86,433.09 279.34,433.14 279.82,433.22 280.30,433.32 280.78,433.39 281.26,433.45 281.75,433.53 282.23,433.63 282.71,433.70 283.19,433.77 283.67,433.86 284.15,433.96 284.64,434.04 285.12,434.11 285.60,434.20 286.08,434.31 286.56,434.39 287.04,434.47 287.53,434.57 288.01,434.69 288.49,434.78 288.97,434.87 289.45,434.99 289.93,435.12 290.42,435.21 290.90,435.33 291.38,435.47 291.86,435.61 292.34,435.74 292.82,435.91 293.31,436.12 293.79,436.39 294.27,436.73 294.75,437.92 294.75,437.92 294.27,439.11 293.79,439.45 293.31,439.72 292.82,439.93 292.34,440.10 291.86,440.23 291.38,440.37 290.90,440.51 290.42,440.63 289.93,440.72 289.45,440.85 288.97,440.97 288.49,441.06 288.01,441.15 287.53,441.27 287.04,441.37 286.56,441.45 286.08,441.53 285.60,441.64 285.12,441.73 284.64,441.80 284.15,441.88 283.67,441.98 283.19,442.07 282.71,442.14 282.23,442.21 281.75,442.31 281.26,442.39 280.78,442.45 280.30,442.52 279.82,442.62 279.34,442.70 278.86,442.75 278.37,442.82 277.89,442.74 277.41,442.65 276.93,442.54 276.45,442.41 275.97,442.33 275.48,442.23 275.00,442.11 274.52,441.98 274.04,441.89 273.56,441.79 273.08,441.66 272.59,441.52 272.11,441.42 271.63,441.29 271.15,441.15 270.67,441.01 270.19,440.89 269.70,440.73 269.22,440.55 268.74,440.41 268.26,440.24 267.78,440.01 267.30,439.81 266.81,439.45 266.33,439.11 265.85,437.92" fill="#000"/>
<circle cx="288.80" cy="439.27" r="1.55" fill="#CDCD00" stroke="#000" stroke-width="0.95"/>
<circle cx="281.15" cy="437.56" r="1.55" fill="#CDCD00" stroke="#000" stroke-width="0.95"/>
<circle cx="269.68" cy="438.94" r="1.55" fill="#CDCD00" stroke="#000" stroke-width="0.95"/>
<circle cx="277.78" cy="438.49" r="1.55" fill="#CDCD00" stroke="#000" stroke-width="0.95"/>
<circle cx="284.55" cy="440.11" r="1.55" fill="#CDCD00" stroke="#000" stroke-width="0.95"/>
<circle cx="280.42" cy="439.65" r="1.55" fill="#CDCD00" stroke="#000" stroke-width="0.95"/>
<circle cx="288.80" cy="436.57" r="1.55" fill="#CDCD00" stroke="#000" stroke-width="0.95"/>
<circle cx="293.05" cy="437.92" r="1.55" fill="#CDCD00" stroke="#000" stroke-width="0.95"/>
<circle cx="282.43" cy="435.36" r="1.55" fill="#CDCD00" stroke="#000" stroke-width="0.95"/>
<circle cx="286.68" cy="436.13" r="1.55" fill="#CDCD00" stroke="#000" stroke-width="0.95"/>
<circle cx="284.55" cy="435.73" r="1.55" fill="#CDCD00" stroke="#000" stroke-width="0.95"/>
<circle cx="267.55" cy="437.92" r="1.55" fill="#CDCD00" stroke="#000" stroke-width="0.95"/>
<circle cx="273.93" cy="440.13" r="1.55" fill="#CDCD00" stroke="#000" stroke-width="0.95"/>
<circle cx="282.43" cy="440.48" r="1.55" fill="#CDCD00" stroke="#000" stroke-width="0.95"/>
<circle cx="278.40" cy="441.12" r="1.55" fill="#CDCD00" stroke="#000" stroke-width="0.95"/>
<circle cx="285.51" cy="438.01" r="1.55" fill="#CDCD00" stroke="#000" stroke-width="0.95"/>
<circle cx="271.80" cy="436.26" r="1.55" fill="#CDCD00" stroke="#000" stroke-width="0.95"/>
<circle cx="273.93" cy="435.71" r="1.55" fill="#CDCD00" stroke="#000" stroke-width="0.95"/>
<circle cx="286.68" cy="439.71" r="1.55" fill="#CDCD00" stroke="#000" stroke-width="0.95"/>
<circle cx="276.05" cy="435.22" r="1.55" fill="#CDCD00" stroke="#000" stroke-width="0.95"/>
<circle cx="283.33" cy="437.66" r="1.55" fill="#CDCD00" stroke="#000" stroke-width="0.95"/>
<circle cx="279.17" cy="436.93" r="1.55" fill="#CDCD00" stroke="#000" stroke-width="0.95"/>
<circle cx="275.75" cy="437.85" r="1.55" fill="#CDCD00" stroke="#000" stroke-width="0.95"/>
<circle cx="278.40" cy="434.72" r="1.55" fill="#CDCD00" stroke="#000" stroke-width="0.95"/>
<circle cx="276.05" cy="440.62" r="1.55" fill="#CDCD00" stroke="#000" stroke-width="0.95"/>
<circle cx="273.20" cy="437.77" r="1.55" fill="#CDCD00" stroke="#000" stroke-width="0.95"/>
<circle cx="271.80" cy="439.58" r="1.55" fill="#CDCD00" stroke="#000" stroke-width="0.95"/>
<circle cx="290.93" cy="438.75" r="1.55" fill="#CDCD00" stroke="#000" stroke-width="0.95"/>
<polygon points="235.75,446.35 236.44,444.98 237.14,444.68 237.84,444.27 238.53,444.09 239.22,443.88 239.92,443.67 240.62,443.53 241.31,443.39 242.00,443.19 242.70,443.05 243.40,442.96 244.09,442.79 244.78,442.64 245.48,442.53 246.18,442.43 246.87,442.27 247.56,442.15 248.26,442.07 248.96,441.93 249.65,441.79 250.34,441.70 251.04,441.63 251.74,441.67 252.43,441.79 253.12,441.79 253.82,441.84 254.52,441.93 255.21,442.01 255.91,442.03 256.60,442.10 257.30,442.21 257.99,442.25 258.69,442.29 259.38,442.38 260.07,442.49 260.77,442.50 261.47,442.57 262.16,442.67 262.86,442.74 263.55,442.78 264.25,442.87 264.94,443.00 265.63,443.02 266.33,443.09 267.03,443.20 267.72,443.30 268.42,443.34 269.11,443.43 269.81,443.56 270.50,443.63 271.19,443.70 271.89,443.82 272.59,443.96 273.28,444.02 273.98,444.15 274.67,444.34 275.37,444.44 276.06,444.68 276.75,444.98 277.45,446.35 277.45,446.35 276.75,447.72 276.06,448.02 275.37,448.26 274.67,448.36 273.98,448.55 273.28,448.68 272.59,448.74 271.89,448.88 271.19,449.00 270.50,449.07 269.81,449.14 269.11,449.27 268.42,449.36 267.72,449.40 267.03,449.50 266.33,449.61 265.63,449.68 264.94,449.70 264.25,449.83 263.55,449.92 262.86,449.96 262.16,450.03 261.47,450.13 260.77,450.20 260.07,450.21 259.38,450.32 258.69,450.41 257.99,450.45 257.30,450.49 256.60,450.60 255.91,450.67 255.21,450.69 254.52,450.77 253.82,450.86 253.12,450.91 252.43,450.91 251.74,451.03 251.04,451.07 250.34,451.00 249.65,450.91 248.96,450.77 248.26,450.63 247.56,450.55 246.87,450.43 246.18,450.27 245.48,450.17 244.78,450.06 244.09,449.91 243.40,449.74 242.70,449.65 242.00,449.51 241.31,449.31 240.62,449.17 239.92,449.03 239.22,448.82 238.53,448.61 237.84,448.43 237.14,448.02 236.44,447.72 235.75,446.35" fill="#000"/>
<circle cx="254.43" cy="445.68" r="1.55" fill="#FFFF00" stroke="#000" stroke-width="0.95"/>
<circle cx="239.47" cy="447.15" r="1.55" fill="#FFFF00" stroke="#000" stroke-width="0.95"/>
<circle cx="271.67" cy="446.49" r="1.55" fill="#FFFF00" stroke="#000" stroke-width="0.95"/>
<circle cx="243.50" cy="444.62" r="1.55" fill="#FFFF00" stroke="#000" stroke-width="0.95"/>
<circle cx="243.50" cy="448.08" r="1.55" fill="#FFFF00" stroke="#000" stroke-width="0.95"/>
<circle cx="269.70" cy="445.21" r="1.55" fill="#FFFF00" stroke="#000" stroke-width="0.95"/>
<circle cx="273.73" cy="446.88" r="1.55" fill="#FFFF00" stroke="#000" stroke-width="0.95"/>
<circle cx="261.64" cy="448.41" r="1.55" fill="#FFFF00" stroke="#000" stroke-width="0.95"/>
<circle cx="246.69" cy="446.16" r="1.55" fill="#FFFF00" stroke="#000" stroke-width="0.95"/>
<circle cx="252.01" cy="447.59" r="1.55" fill="#FFFF00" stroke="#000" stroke-width="0.95"/>
<circle cx="245.51" cy="444.23" r="1.55" fill="#FFFF00" stroke="#000" stroke-width="0.95"/>
<circle cx="263.61" cy="445.12" r="1.55" fill="#FFFF00" stroke="#000" stroke-width="0.95"/>
<circle cx="253.58" cy="449.17" r="1.55" fill="#FFFF00" stroke="#000" stroke-width="0.95"/>
<circle cx="241.48" cy="447.66" r="1.55" fill="#FFFF00" stroke="#000" stroke-width="0.95"/>
<circle cx="251.00" cy="449.40" r="1.55" fill="#FFFF00" stroke="#000" stroke-width="0.95"/>
<circle cx="257.61" cy="443.90" r="1.55" fill="#FFFF00" stroke="#000" stroke-width="0.95"/>
<circle cx="265.67" cy="447.98" r="1.55" fill="#FFFF00" stroke="#000" stroke-width="0.95"/>
<circle cx="245.51" cy="448.47" r="1.55" fill="#FFFF00" stroke="#000" stroke-width="0.95"/>
<circle cx="265.67" cy="444.72" r="1.55" fill="#FFFF00" stroke="#000" stroke-width="0.95"/>
<circle cx="253.58" cy="443.53" r="1.55" fill="#FFFF00" stroke="#000" stroke-width="0.95"/>
<circle cx="261.64" cy="444.29" r="1.55" fill="#FFFF00" stroke="#000" stroke-width="0.95"/>
<circle cx="259.26" cy="447.52" r="1.55" fill="#FFFF00" stroke="#000" stroke-width="0.95"/>
<circle cx="248.64" cy="448.73" r="1.55" fill="#FFFF00" stroke="#000" stroke-width="0.95"/>
<circle cx="251.00" cy="443.30" r="1.55" fill="#FFFF00" stroke="#000" stroke-width="0.95"/>
<circle cx="261.37" cy="446.36" r="1.55" fill="#FFFF00" stroke="#000" stroke-width="0.95"/>
<circle cx="248.41" cy="444.19" r="1.55" fill="#FFFF00" stroke="#000" stroke-width="0.95"/>
<circle cx="241.48" cy="445.04" r="1.55" fill="#FFFF00" stroke="#000" stroke-width="0.95"/>
<circle cx="275.75" cy="446.35" r="1.55" fill="#FFFF00" stroke="#000" stroke-width="0.95"/>
<circle cx="257.61" cy="448.80" r="1.55" fill="#FFFF00" stroke="#000" stroke-width="0.95"/>
<circle cx="269.70" cy="447.49" r="1.55" fill="#FFFF00" stroke="#000" stroke-width="0.95"/>
<circle cx="251.48" cy="445.46" r="1.55" fill="#FFFF00" stroke="#000" stroke-width="0.95"/>
<circle cx="263.66" cy="447.32" r="1.55" fill="#FFFF00" stroke="#000" stroke-width="0.95"/>
<circle cx="267.78" cy="446.45" r="1.55" fill="#FFFF00" stroke="#000" stroke-width="0.95"/>
<circle cx="237.45" cy="446.35" r="1.55" fill="#FFFF00" stroke="#000" stroke-width="0.95"/>
<circle cx="256.73" cy="445.81" r="1.55" fill="#FFFF00" stroke="#000" stroke-width="0.95"/>
<circle cx="255.28" cy="447.80" r="1.55" fill="#FFFF00" stroke="#000" stroke-width="0.95"/>
<circle cx="259.47" cy="445.07" r="1.55" fill="#FFFF00" stroke="#000" stroke-width="0.95"/>
<circle cx="249.63" cy="446.89" r="1.55" fill="#FFFF00" stroke="#000" stroke-width="0.95"/>
<polygon points="220.05,429.49 220.19,428.16 220.32,427.38 220.46,426.73 220.60,426.28 220.73,425.95 220.87,425.73 221.01,425.57 221.14,425.45 221.28,425.34 221.42,425.26 221.55,425.19 221.69,425.14 221.83,425.10 221.96,425.07 222.10,425.06 222.24,425.05 222.37,425.06 222.51,425.08 222.65,425.11 222.78,425.15 222.92,425.20 223.06,425.26 223.19,425.32 223.33,425.38 223.47,425.45 223.60,425.51 223.74,425.58 223.88,425.64 224.01,425.70 224.15,425.77 224.29,425.84 224.42,425.91 224.56,425.97 224.70,426.04 224.83,426.12 224.97,426.19 225.11,426.26 225.24,426.34 225.38,426.41 225.52,426.49 225.65,426.57 225.79,426.65 225.93,426.73 226.06,426.81 226.20,426.90 226.34,426.99 226.47,427.08 226.61,427.18 226.75,427.27 226.88,427.37 227.02,427.48 227.16,427.59 227.29,427.72 227.43,427.85 227.57,427.98 227.70,428.14 227.84,428.32 227.98,428.56 228.11,428.82 228.25,429.49 228.25,429.49 228.11,430.16 227.98,430.42 227.84,430.66 227.70,430.84 227.57,431.00 227.43,431.13 227.29,431.26 227.16,431.39 227.02,431.50 226.88,431.61 226.75,431.71 226.61,431.80 226.47,431.90 226.34,431.99 226.20,432.08 226.06,432.17 225.93,432.25 225.79,432.33 225.65,432.41 225.52,432.49 225.38,432.57 225.24,432.64 225.11,432.72 224.97,432.79 224.83,432.86 224.70,432.94 224.56,433.01 224.42,433.07 224.29,433.14 224.15,433.21 224.01,433.28 223.88,433.34 223.74,433.40 223.60,433.47 223.47,433.53 223.33,433.60 223.19,433.66 223.06,433.72 222.92,433.78 222.78,433.83 222.65,433.87 222.51,433.90 222.37,433.92 222.24,433.93 222.10,433.92 221.96,433.91 221.83,433.88 221.69,433.84 221.55,433.79 221.42,433.72 221.28,433.64 221.14,433.53 221.01,433.41 220.87,433.25 220.73,433.03 220.60,432.70 220.46,432.25 220.32,431.60 220.19,430.82 220.05,429.49" fill="#000"/>
<circle cx="222.20" cy="432.24" r="1.55" fill="#5CACEE" stroke="#000" stroke-width="0.95"/>
<circle cx="224.15" cy="427.68" r="1.55" fill="#5CACEE" stroke="#000" stroke-width="0.95"/>
<circle cx="226.55" cy="429.49" r="1.55" fill="#5CACEE" stroke="#000" stroke-width="0.95"/>
<circle cx="221.75" cy="429.49" r="1.55" fill="#5CACEE" stroke="#000" stroke-width="0.95"/>
<circle cx="222.20" cy="426.74" r="1.55" fill="#5CACEE" stroke="#000" stroke-width="0.95"/>
<circle cx="224.15" cy="431.30" r="1.55" fill="#5CACEE" stroke="#000" stroke-width="0.95"/>
<circle cx="225.50" cy="412.63" r="1.55" fill="#EE6A50" stroke="#000" stroke-width="0.95"/>
<circle cx="227.60" cy="429.49" r="1.55" fill="#5CACEE" stroke="#000" stroke-width="0.95"/>
<circle cx="230.50" cy="429.49" r="1.55" fill="#5CACEE" stroke="#000" stroke-width="0.95"/>
<circle cx="233.80" cy="429.49" r="1.55" fill="#5CACEE" stroke="#000" stroke-width="0.95"/>
<circle cx="231.50" cy="446.35" r="1.55" fill="#FFFF00" stroke="#000" stroke-width="0.95"/>
<circle cx="234.30" cy="446.35" r="1.55" fill="#FFFF00" stroke="#000" stroke-width="0.95"/>
<circle cx="225.50" cy="454.78" r="1.55" fill="#9A32CD" stroke="#000" stroke-width="0.95"/>
<circle cx="233.80" cy="454.78" r="1.55" fill="#9A32CD" stroke="#000" stroke-width="0.95"/>
<circle cx="225.50" cy="463.21" r="1.55" fill="#BF3EFF" stroke="#000" stroke-width="0.95"/>
<circle cx="228.10" cy="463.21" r="1.55" fill="#BF3EFF" stroke="#000" stroke-width="0.95"/>
<circle cx="230.80" cy="463.21" r="1.55" fill="#BF3EFF" stroke="#000" stroke-width="0.95"/>
<circle cx="233.80" cy="463.21" r="1.55" fill="#BF3EFF" stroke="#000" stroke-width="0.95"/>
<circle cx="243.10" cy="463.21" r="1.55" fill="#BF3EFF" stroke="#000" stroke-width="0.95"/>
<circle cx="246.60" cy="463.21" r="1.55" fill="#BF3EFF" stroke="#000" stroke-width="0.95"/>
<circle cx="251.40" cy="463.21" r="1.55" fill="#BF3EFF" stroke="#000" stroke-width="0.95"/>
<circle cx="259.90" cy="463.21" r="1.55" fill="#BF3EFF" stroke="#000" stroke-width="0.95"/>
<circle cx="266.60" cy="463.21" r="1.55" fill="#BF3EFF" stroke="#000" stroke-width="0.95"/>
<circle cx="268.80" cy="463.21" r="1.55" fill="#BF3EFF" stroke="#000" stroke-width="0.95"/>
<circle cx="271.30" cy="463.21" r="1.55" fill="#BF3EFF" stroke="#000" stroke-width="0.95"/>
<circle cx="280.70" cy="463.21" r="1.55" fill="#BF3EFF" stroke="#000" stroke-width="0.95"/>
<circle cx="286.30" cy="463.21" r="1.55" fill="#BF3EFF" stroke="#000" stroke-width="0.95"/>
<circle cx="225.50" cy="471.64" r="1.55" fill="#CDCDC1" stroke="#000" stroke-width="0.95"/>
<circle cx="225.50" cy="480.07" r="1.55" fill="#2E8B57" stroke="#000" stroke-width="0.95"/>
<circle cx="228.10" cy="480.07" r="1.55" fill="#2E8B57" stroke="#000" stroke-width="0.95"/>
<circle cx="225.50" cy="488.50" r="1.55" fill="#FF8C00" stroke="#000" stroke-width="0.95"/>
<circle cx="225.50" cy="505.36" r="1.55" fill="#7CCD7C" stroke="#000" stroke-width="0.95"/>
<circle cx="276.60" cy="505.36" r="1.55" fill="#7CCD7C" stroke="#000" stroke-width="0.95"/>
<circle cx="225.50" cy="513.79" r="1.55" fill="#BEBEBE" stroke="#000" stroke-width="0.95"/>
<circle cx="230.80" cy="513.79" r="1.55" fill="#BEBEBE" stroke="#000" stroke-width="0.95"/>
<rect x="336.40" y="417.66" width="11.40" height="6.8" fill="#FF00FF" stroke="#333" stroke-width="0.8"/>
<rect x="338.40" y="426.09" width="7.40" height="6.8" fill="#5CACEE" stroke="#333" stroke-width="0.8"/>
<line x1="335.30" y1="446.35" x2="343.10" y2="446.35" stroke="#333" stroke-width="0.8"/>
<line x1="335.00" y1="429.49" x2="338.40" y2="429.49" stroke="#333" stroke-width="0.8"/>
<line x1="347.80" y1="421.06" x2="357.10" y2="421.06" stroke="#333" stroke-width="0.8"/>
<line x1="345.80" y1="429.49" x2="364.70" y2="429.49" stroke="#333" stroke-width="0.8"/>
<rect x="333.61" y="399.90" width="3.2" height="25.46" rx="1.6" fill="#000"/>
<circle cx="335.21" cy="401.60" r="1.1" fill="#8B3E2F"/>
<circle cx="335.21" cy="404.20" r="1.1" fill="#8B3E2F"/>
<circle cx="335.21" cy="406.80" r="1.1" fill="#8B3E2F"/>
<circle cx="335.21" cy="410.03" r="1.1" fill="#EE6A50"/>
<circle cx="335.21" cy="412.63" r="1.1" fill="#EE6A50"/>
<circle cx="335.21" cy="415.23" r="1.1" fill="#EE6A50"/>
<circle cx="335.21" cy="418.46" r="1.1" fill="#FF00FF"/>
<circle cx="335.21" cy="421.06" r="1.1" fill="#FF00FF"/>
<circle cx="335.21" cy="423.66" r="1.1" fill="#FF00FF"/>
<rect x="333.61" y="450.48" width="3.2" height="67.61" rx="1.6" fill="#000"/>
<circle cx="335.21" cy="452.18" r="1.1" fill="#9A32CD"/>
<circle cx="335.21" cy="454.78" r="1.1" fill="#9A32CD"/>
<circle cx="335.21" cy="457.38" r="1.1" fill="#9A32CD"/>
<circle cx="335.21" cy="460.61" r="1.1" fill="#BF3EFF"/>
<circle cx="335.21" cy="463.21" r="1.1" fill="#BF3EFF"/>
<circle cx="335.21" cy="465.81" r="1.1" fill="#BF3EFF"/>
<circle cx="335.21" cy="469.04" r="1.1" fill="#CDCDC1"/>
<circle cx="335.21" cy="471.64" r="1.1" fill="#CDCDC1"/>
<circle cx="335.21" cy="474.24" r="1.1" fill="#CDCDC1"/>
<circle cx="335.21" cy="477.47" r="1.1" fill="#2E8B57"/>
<circle cx="335.21" cy="480.07" r="1.1" fill="#2E8B57"/>
<circle cx="335.21" cy="482.67" r="1.1" fill="#2E8B57"/>
<circle cx="335.21" cy="485.90" r="1.1" fill="#FF8C00"/>
<circle cx="335.21" cy="488.50" r="1.1" fill="#FF8C00"/>
<circle cx="335.21" cy="491.10" r="1.1" fill="#FF8C00"/>
<circle cx="335.21" cy="494.33" r="1.1" fill="#104E8B"/>
<circle cx="335.21" cy="496.93" r="1.1" fill="#104E8B"/>
<circle cx="335.21" cy="499.53" r="1.1" fill="#104E8B"/>
<circle cx="335.21" cy="502.76" r="1.1" fill="#7CCD7C"/>
<circle cx="335.21" cy="505.36" r="1.1" fill="#7CCD7C"/>
<circle cx="335.21" cy="507.96" r="1.1" fill="#7CCD7C"/>
<circle cx="335.21" cy="511.19" r="1.1" fill="#BEBEBE"/>
<circle cx="335.21" cy="513.79" r="1.1" fill="#BEBEBE"/>
<circle cx="335.21" cy="516.39" r="1.1" fill="#BEBEBE"/>
<polygon points="378.65,437.92 379.14,436.72 379.63,436.38 380.12,436.08 380.62,435.88 381.11,435.69 381.60,435.55 382.09,435.41 382.58,435.25 383.07,435.13 383.57,435.03 384.06,434.89 384.55,434.76 385.04,434.66 385.53,434.58 386.02,434.45 386.52,434.34 387.01,434.25 387.50,434.17 387.99,434.05 388.48,433.95 388.97,433.87 389.47,433.79 389.96,433.68 390.45,433.59 390.94,433.51 391.43,433.44 391.93,433.33 392.42,433.26 392.91,433.23 393.40,433.33 393.89,433.40 394.38,433.46 394.88,433.54 395.37,433.64 395.86,433.71 396.35,433.78 396.84,433.86 397.33,433.97 397.82,434.05 398.32,434.12 398.81,434.21 399.30,434.32 399.79,434.40 400.28,434.48 400.77,434.58 401.27,434.70 401.76,434.78 402.25,434.87 402.74,434.99 403.23,435.12 403.73,435.21 404.22,435.32 404.71,435.47 405.20,435.61 405.69,435.73 406.18,435.91 406.68,436.11 407.17,436.38 407.66,436.72 408.15,437.92 408.15,437.92 407.66,439.12 407.17,439.46 406.68,439.73 406.18,439.93 405.69,440.11 405.20,440.23 404.71,440.37 404.22,440.52 403.73,440.63 403.23,440.72 402.74,440.85 402.25,440.97 401.76,441.06 401.27,441.14 400.77,441.26 400.28,441.36 399.79,441.44 399.30,441.52 398.81,441.63 398.32,441.72 397.82,441.79 397.33,441.87 396.84,441.98 396.35,442.06 395.86,442.13 395.37,442.20 394.88,442.30 394.38,442.38 393.89,442.44 393.40,442.51 392.91,442.61 392.42,442.58 391.93,442.51 391.43,442.40 390.94,442.33 390.45,442.25 389.96,442.16 389.47,442.05 388.97,441.97 388.48,441.89 387.99,441.79 387.50,441.67 387.01,441.59 386.52,441.50 386.02,441.39 385.53,441.26 385.04,441.18 384.55,441.08 384.06,440.95 383.57,440.81 383.07,440.71 382.58,440.59 382.09,440.43 381.60,440.29 381.11,440.15 380.62,439.96 380.12,439.76 379.63,439.46 379.14,439.12 378.65,437.92" fill="#000"/>
<circle cx="390.39" cy="440.51" r="1.55" fill="#CDCD00" stroke="#000" stroke-width="0.95"/>
<circle cx="404.44" cy="438.70" r="1.55" fill="#CDCD00" stroke="#000" stroke-width="0.95"/>
<circle cx="396.41" cy="435.51" r="1.55" fill="#CDCD00" stroke="#000" stroke-width="0.95"/>
<circle cx="388.84" cy="437.15" r="1.55" fill="#CDCD00" stroke="#000" stroke-width="0.95"/>
<circle cx="390.39" cy="435.33" r="1.55" fill="#CDCD00" stroke="#000" stroke-width="0.95"/>
<circle cx="400.43" cy="439.60" r="1.55" fill="#CDCD00" stroke="#000" stroke-width="0.95"/>
<circle cx="392.70" cy="434.92" r="1.55" fill="#CDCD00" stroke="#000" stroke-width="0.95"/>
<circle cx="392.08" cy="438.51" r="1.55" fill="#CDCD00" stroke="#000" stroke-width="0.95"/>
<circle cx="398.44" cy="438.82" r="1.55" fill="#CDCD00" stroke="#000" stroke-width="0.95"/>
<circle cx="402.43" cy="436.65" r="1.55" fill="#CDCD00" stroke="#000" stroke-width="0.95"/>
<circle cx="398.38" cy="436.65" r="1.55" fill="#CDCD00" stroke="#000" stroke-width="0.95"/>
<circle cx="388.69" cy="439.26" r="1.55" fill="#CDCD00" stroke="#000" stroke-width="0.95"/>
<circle cx="386.37" cy="436.11" r="1.55" fill="#CDCD00" stroke="#000" stroke-width="0.95"/>
<circle cx="392.70" cy="440.92" r="1.55" fill="#CDCD00" stroke="#000" stroke-width="0.95"/>
<circle cx="384.37" cy="439.29" r="1.55" fill="#CDCD00" stroke="#000" stroke-width="0.95"/>
<circle cx="395.12" cy="437.85" r="1.55" fill="#CDCD00" stroke="#000" stroke-width="0.95"/>
<circle cx="382.36" cy="438.76" r="1.55" fill="#CDCD00" stroke="#000" stroke-width="0.95"/>
<circle cx="396.41" cy="440.33" r="1.55" fill="#CDCD00" stroke="#000" stroke-width="0.95"/>
<circle cx="384.37" cy="436.55" r="1.55" fill="#CDCD00" stroke="#000" stroke-width="0.95"/>
<circle cx="380.35" cy="437.92" r="1.55" fill="#CDCD00" stroke="#000" stroke-width="0.95"/>
<circle cx="402.43" cy="439.19" r="1.55" fill="#CDCD00" stroke="#000" stroke-width="0.95"/>
<circle cx="406.45" cy="437.92" r="1.55" fill="#CDCD00" stroke="#000" stroke-width="0.95"/>
<circle cx="400.43" cy="436.24" r="1.55" fill="#CDCD00" stroke="#000" stroke-width="0.95"/>
<circle cx="386.37" cy="439.73" r="1.55" fill="#CDCD00" stroke="#000" stroke-width="0.95"/>
<polygon points="349.75,446.35 350.26,445.14 350.77,444.79 351.27,444.48 351.78,444.29 352.29,444.08 352.80,443.93 353.31,443.80 353.82,443.63 354.32,443.50 354.83,443.40 355.34,443.26 355.85,443.13 356.36,443.02 356.87,442.94 357.38,442.80 357.88,442.69 358.39,442.59 358.90,442.52 359.41,442.39 359.92,442.29 360.43,442.20 360.93,442.12 361.44,442.01 361.95,441.91 362.46,441.83 362.97,441.76 363.48,441.83 363.98,441.87 364.49,441.93 365.00,442.02 365.51,442.09 366.02,442.14 366.53,442.21 367.03,442.30 367.54,442.38 368.05,442.43 368.56,442.51 369.07,442.60 369.57,442.68 370.08,442.74 370.59,442.82 371.10,442.92 371.61,443.00 372.12,443.06 372.62,443.15 373.13,443.26 373.64,443.34 374.15,443.42 374.66,443.53 375.17,443.65 375.68,443.73 376.18,443.83 376.69,443.96 377.20,444.10 377.71,444.20 378.22,444.36 378.73,444.56 379.23,444.79 379.74,445.14 380.25,446.35 380.25,446.35 379.74,447.56 379.23,447.91 378.73,448.14 378.22,448.34 377.71,448.50 377.20,448.60 376.69,448.74 376.18,448.87 375.68,448.97 375.17,449.05 374.66,449.17 374.15,449.28 373.64,449.36 373.13,449.44 372.62,449.55 372.12,449.64 371.61,449.70 371.10,449.78 370.59,449.88 370.08,449.96 369.57,450.02 369.07,450.10 368.56,450.19 368.05,450.27 367.54,450.32 367.03,450.40 366.53,450.49 366.02,450.56 365.51,450.61 365.00,450.68 364.49,450.77 363.98,450.83 363.48,450.87 362.97,450.94 362.46,450.87 361.95,450.79 361.44,450.69 360.93,450.58 360.43,450.50 359.92,450.41 359.41,450.31 358.90,450.18 358.39,450.11 357.88,450.01 357.38,449.90 356.87,449.76 356.36,449.68 355.85,449.57 355.34,449.44 354.83,449.30 354.32,449.20 353.82,449.07 353.31,448.90 352.80,448.77 352.29,448.62 351.78,448.41 351.27,448.22 350.77,447.91 350.26,447.56 349.75,446.35" fill="#000"/>
<circle cx="363.00" cy="449.25" r="1.55" fill="#FFFF00" stroke="#000" stroke-width="0.95"/>
<circle cx="367.54" cy="446.47" r="1.55" fill="#FFFF00" stroke="#000" stroke-width="0.95"/>
<circle cx="365.36" cy="446.12" r="1.55" fill="#FFFF00" stroke="#000" stroke-width="0.95"/>
<circle cx="368.13" cy="444.16" r="1.55" fill="#FFFF00" stroke="#000" stroke-width="0.95"/>
<circle cx="353.53" cy="447.22" r="1.55" fill="#FFFF00" stroke="#000" stroke-width="0.95"/>
<circle cx="370.21" cy="448.22" r="1.55" fill="#FFFF00" stroke="#000" stroke-width="0.95"/>
<circle cx="362.50" cy="446.14" r="1.55" fill="#FFFF00" stroke="#000" stroke-width="0.95"/>
<circle cx="357.70" cy="444.46" r="1.55" fill="#FFFF00" stroke="#000" stroke-width="0.95"/>
<circle cx="370.21" cy="444.48" r="1.55" fill="#FFFF00" stroke="#000" stroke-width="0.95"/>
<circle cx="355.62" cy="447.77" r="1.55" fill="#FFFF00" stroke="#000" stroke-width="0.95"/>
<circle cx="359.79" cy="448.66" r="1.55" fill="#FFFF00" stroke="#000" stroke-width="0.95"/>
<circle cx="376.47" cy="447.06" r="1.55" fill="#FFFF00" stroke="#000" stroke-width="0.95"/>
<circle cx="374.38" cy="447.50" r="1.55" fill="#FFFF00" stroke="#000" stroke-width="0.95"/>
<circle cx="372.30" cy="447.88" r="1.55" fill="#FFFF00" stroke="#000" stroke-width="0.95"/>
<circle cx="372.30" cy="444.82" r="1.55" fill="#FFFF00" stroke="#000" stroke-width="0.95"/>
<circle cx="359.23" cy="446.08" r="1.55" fill="#FFFF00" stroke="#000" stroke-width="0.95"/>
<circle cx="357.70" cy="448.24" r="1.55" fill="#FFFF00" stroke="#000" stroke-width="0.95"/>
<circle cx="366.04" cy="448.84" r="1.55" fill="#FFFF00" stroke="#000" stroke-width="0.95"/>
<circle cx="363.00" cy="443.45" r="1.55" fill="#FFFF00" stroke="#000" stroke-width="0.95"/>
<circle cx="355.62" cy="444.93" r="1.55" fill="#FFFF00" stroke="#000" stroke-width="0.95"/>
<circle cx="378.55" cy="446.35" r="1.55" fill="#FFFF00" stroke="#000" stroke-width="0.95"/>
<circle cx="359.79" cy="444.04" r="1.55" fill="#FFFF00" stroke="#000" stroke-width="0.95"/>
<circle cx="368.13" cy="448.54" r="1.55" fill="#FFFF00" stroke="#000" stroke-width="0.95"/>
<circle cx="366.04" cy="443.86" r="1.55" fill="#FFFF00" stroke="#000" stroke-width="0.95"/>
<circle cx="351.45" cy="446.35" r="1.55" fill="#FFFF00" stroke="#000" stroke-width="0.95"/>
<circle cx="374.38" cy="445.20" r="1.55" fill="#FFFF00" stroke="#000" stroke-width="0.95"/>
<circle cx="337.00" cy="419.56" r="1.55" fill="#FF00FF" stroke="#000" stroke-width="0.95"/>
<circle cx="339.00" cy="422.56" r="1.55" fill="#FF00FF" stroke="#000" stroke-width="0.95"/>
<circle cx="341.00" cy="421.06" r="1.55" fill="#FF00FF" stroke="#000" stroke-width="0.95"/>
<circle cx="343.00" cy="422.56" r="1.55" fill="#FF00FF" stroke="#000" stroke-width="0.95"/>
<circle cx="345.00" cy="419.56" r="1.55" fill="#FF00FF" stroke="#000" stroke-width="0.95"/>
<circle cx="347.00" cy="421.06" r="1.55" fill="#FF00FF" stroke="#000" stroke-width="0.95"/>
<circle cx="339.00" cy="427.99" r="1.55" fill="#5CACEE" stroke="#000" stroke-width="0.95"/>
<circle cx="341.17" cy="430.99" r="1.55" fill="#5CACEE" stroke="#000" stroke-width="0.95"/>
<circle cx="343.33" cy="429.49" r="1.55" fill="#5CACEE" stroke="#000" stroke-width="0.95"/>
<circle cx="345.50" cy="430.99" r="1.55" fill="#5CACEE" stroke="#000" stroke-width="0.95"/>
<circle cx="357.50" cy="404.20" r="1.55" fill="#8B3E2F" stroke="#000" stroke-width="0.95"/>
<circle cx="339.60" cy="412.63" r="1.55" fill="#EE6A50" stroke="#000" stroke-width="0.95"/>
<circle cx="347.50" cy="412.63" r="1.55" fill="#EE6A50" stroke="#000" stroke-width="0.95"/>
<circle cx="347.80" cy="421.06" r="1.55" fill="#FF00FF" stroke="#000" stroke-width="0.95"/>
<circle cx="351.30" cy="421.06" r="1.55" fill="#FF00FF" stroke="#000" stroke-width="0.95"/>
<circle cx="354.20" cy="421.06" r="1.55" fill="#FF00FF" stroke="#000" stroke-width="0.95"/>
<circle cx="357.10" cy="421.06" r="1.55" fill="#FF00FF" stroke="#000" stroke-width="0.95"/>
<circle cx="334.90" cy="429.49" r="1.55" fill="#5CACEE" stroke="#000" stroke-width="0.95"/>
<circle cx="347.50" cy="429.49" r="1.55" fill="#5CACEE" stroke="#000" stroke-width="0.95"/>
<circle cx="350.70" cy="429.49" r="1.55" fill="#5CACEE" stroke="#000" stroke-width="0.95"/>
<circle cx="354.20" cy="429.49" r="1.55" fill="#5CACEE" stroke="#000" stroke-width="0.95"/>
<circle cx="364.70" cy="429.49" r="1.55" fill="#5CACEE" stroke="#000" stroke-width="0.95"/>
<circle cx="335.30" cy="446.35" r="1.55" fill="#FFFF00" stroke="#000" stroke-width="0.95"/>
<circle cx="343.10" cy="446.35" r="1.55" fill="#FFFF00" stroke="#000" stroke-width="0.95"/>
<circle cx="347.20" cy="446.35" r="1.55" fill="#FFFF00" stroke="#000" stroke-width="0.95"/>
<circle cx="381.00" cy="446.35" r="1.55" fill="#FFFF00" stroke="#000" stroke-width="0.95"/>
<circle cx="384.60" cy="446.35" r="1.55" fill="#FFFF00" stroke="#000" stroke-width="0.95"/>
<circle cx="389.50" cy="446.35" r="1.55" fill="#FFFF00" stroke="#000" stroke-width="0.95"/>
<circle cx="339.30" cy="454.78" r="1.55" fill="#9A32CD" stroke="#000" stroke-width="0.95"/>
<circle cx="360.20" cy="454.78" r="1.55" fill="#9A32CD" stroke="#000" stroke-width="0.95"/>
<circle cx="339.30" cy="463.21" r="1.55" fill="#BF3EFF" stroke="#000" stroke-width="0.95"/>
<circle cx="351.30" cy="463.21" r="1.55" fill="#BF3EFF" stroke="#000" stroke-width="0.95"/>
<circle cx="364.40" cy="463.21" r="1.55" fill="#BF3EFF" stroke="#000" stroke-width="0.95"/>
<circle cx="339.30" cy="471.64" r="1.55" fill="#CDCDC1" stroke="#000" stroke-width="0.95"/>
<circle cx="360.20" cy="471.64" r="1.55" fill="#CDCDC1" stroke="#000" stroke-width="0.95"/>
<circle cx="339.30" cy="480.07" r="1.55" fill="#2E8B57" stroke="#000" stroke-width="0.95"/>
<circle cx="357.30" cy="480.07" r="1.55" fill="#2E8B57" stroke="#000" stroke-width="0.95"/>
<circle cx="339.30" cy="488.50" r="1.55" fill="#FF8C00" stroke="#000" stroke-width="0.95"/>
<circle cx="339.30" cy="496.93" r="1.55" fill="#104E8B" stroke="#000" stroke-width="0.95"/>
<circle cx="339.30" cy="505.36" r="1.55" fill="#7CCD7C" stroke="#000" stroke-width="0.95"/>
<circle cx="343.80" cy="513.79" r="1.55" fill="#BEBEBE" stroke="#000" stroke-width="0.95"/>
<rect x="448.60" y="451.38" width="8.20" height="6.8" fill="#9A32CD" stroke="#333" stroke-width="0.8"/>
<rect x="446.99" y="399.90" width="3.2" height="33.89" rx="1.6" fill="#000"/>
<circle cx="448.59" cy="401.60" r="1.1" fill="#8B3E2F"/>
<circle cx="448.59" cy="404.20" r="1.1" fill="#8B3E2F"/>
<circle cx="448.59" cy="406.80" r="1.1" fill="#8B3E2F"/>
<circle cx="448.59" cy="410.03" r="1.1" fill="#EE6A50"/>
<circle cx="448.59" cy="412.63" r="1.1" fill="#EE6A50"/>
<circle cx="448.59" cy="415.23" r="1.1" fill="#EE6A50"/>
<circle cx="448.59" cy="418.46" r="1.1" fill="#FF00FF"/>
<circle cx="448.59" cy="421.06" r="1.1" fill="#FF00FF"/>
<circle cx="448.59" cy="423.66" r="1.1" fill="#FF00FF"/>
<circle cx="448.59" cy="426.89" r="1.1" fill="#5CACEE"/>
<circle cx="448.59" cy="429.49" r="1.1" fill="#5CACEE"/>
<circle cx="448.59" cy="432.09" r="1.1" fill="#5CACEE"/>
<rect x="446.99" y="450.48" width="3.2" height="67.61" rx="1.6" fill="#000"/>
<circle cx="448.59" cy="452.18" r="1.1" fill="#9A32CD"/>
<circle cx="448.59" cy="454.78" r="1.1" fill="#9A32CD"/>
<circle cx="448.59" cy="457.38" r="1.1" fill="#9A32CD"/>
<circle cx="448.59" cy="460.61" r="1.1" fill="#BF3EFF"/>
<circle cx="448.59" cy="463.21" r="1.1" fill="#BF3EFF"/>
<circle cx="448.59" cy="465.81" r="1.1" fill="#BF3EFF"/>
<circle cx="448.59" cy="469.04" r="1.1" fill="#CDCDC1"/>
<circle cx="448.59" cy="471.64" r="1.1" fill="#CDCDC1"/>
<circle cx="448.59" cy="474.24" r="1.1" fill="#CDCDC1"/>
<circle cx="448.59" cy="477.47" r="1.1" fill="#2E8B57"/>
<circle cx="448.59" cy="480.07" r="1.1" fill="#2E8B57"/>
<circle cx="448.59" cy="482.67" r="1.1" fill="#2E8B57"/>
<circle cx="448.59" cy="485.90" r="1.1" fill="#FF8C00"/>
<circle cx="448.59" cy="488.50" r="1.1" fill="#FF8C00"/>
<circle cx="448.59" cy="491.10" r="1.1" fill="#FF8C00"/>
<circle cx="448.59" cy="494.33" r="1.1" fill="#104E8B"/>
<circle cx="448.59" cy="496.93" r="1.1" fill="#104E8B"/>
<circle cx="448.59" cy="499.53" r="1.1" fill="#104E8B"/>
<circle cx="448.59" cy="502.76" r="1.1" fill="#7CCD7C"/>
<circle cx="448.59" cy="505.36" r="1.1" fill="#7CCD7C"/>
<circle cx="448.59" cy="507.96" r="1.1" fill="#7CCD7C"/>
<circle cx="448.59" cy="511.19" r="1.1" fill="#BEBEBE"/>
<circle cx="448.59" cy="513.79" r="1.1" fill="#BEBEBE"/>
<circle cx="448.59" cy="516.39" r="1.1" fill="#BEBEBE"/>
<polygon points="446.35,412.63 446.47,411.54 446.59,410.91 446.71,410.39 446.83,409.93 446.95,409.51 447.07,409.19 447.19,408.97 447.31,408.81 447.43,408.68 447.55,408.57 447.67,408.48 447.79,408.41 447.91,408.35 448.03,408.30 448.15,408.26 448.27,408.23 448.39,408.21 448.51,408.20 448.63,408.19 448.75,408.20 448.87,408.21 448.99,408.23 449.11,408.26 449.23,408.31 449.35,408.36 449.47,408.42 449.59,408.49 449.71,408.56 449.83,408.64 449.95,408.71 450.07,408.79 450.19,408.86 450.31,408.94 450.43,409.02 450.55,409.10 450.67,409.18 450.79,409.26 450.91,409.34 451.03,409.42 451.15,409.51 451.27,409.60 451.39,409.69 451.51,409.78 451.63,409.87 451.75,409.96 451.87,410.06 451.99,410.16 452.11,410.27 452.23,410.37 452.35,410.49 452.47,410.60 452.59,410.73 452.71,410.85 452.83,410.99 452.95,411.14 453.07,411.30 453.19,411.49 453.31,411.71 453.43,412.00 453.55,412.63 453.55,412.63 453.43,413.26 453.31,413.55 453.19,413.77 453.07,413.96 452.95,414.12 452.83,414.27 452.71,414.41 452.59,414.53 452.47,414.66 452.35,414.77 452.23,414.89 452.11,414.99 451.99,415.10 451.87,415.20 451.75,415.30 451.63,415.39 451.51,415.48 451.39,415.57 451.27,415.66 451.15,415.75 451.03,415.84 450.91,415.92 450.79,416.00 450.67,416.08 450.55,416.16 450.43,416.24 450.31,416.32 450.19,416.40 450.07,416.47 449.95,416.55 449.83,416.62 449.71,416.70 449.59,416.77 449.47,416.84 449.35,416.90 449.23,416.95 449.11,417.00 448.99,417.03 448.87,417.05 448.75,417.06 448.63,417.07 448.51,417.06 448.39,417.05 448.27,417.03 448.15,417.00 448.03,416.96 447.91,416.91 447.79,416.85 447.67,416.78 447.55,416.69 447.43,416.58 447.31,416.45 447.19,416.29 447.07,416.07 446.95,415.75 446.83,415.33 446.71,414.87 446.59,414.35 446.47,413.72 446.35,412.63" fill="#000"/>
<circle cx="450.00" cy="411.51" r="1.55" fill="#EE6A50" stroke="#000" stroke-width="0.95"/>
<circle cx="450.07" cy="413.92" r="1.55" fill="#EE6A50" stroke="#000" stroke-width="0.95"/>
<circle cx="448.60" cy="409.88" r="1.55" fill="#EE6A50" stroke="#000" stroke-width="0.95"/>
<circle cx="448.60" cy="415.38" r="1.55" fill="#EE6A50" stroke="#000" stroke-width="0.95"/>
<circle cx="451.85" cy="412.63" r="1.55" fill="#EE6A50" stroke="#000" stroke-width="0.95"/>
<circle cx="448.05" cy="412.63" r="1.55" fill="#EE6A50" stroke="#000" stroke-width="0.95"/>
<polygon points="446.35,421.06 446.61,420.16 446.87,418.36 447.12,417.48 447.38,417.09 447.64,416.85 447.90,416.70 448.16,416.59 448.42,416.54 448.68,416.52 448.93,416.54 449.19,416.59 449.45,416.64 449.71,416.68 449.97,416.73 450.23,416.77 450.48,416.82 450.74,416.86 451.00,416.91 451.26,416.96 451.52,417.01 451.78,417.06 452.03,417.10 452.29,417.15 452.55,417.20 452.81,417.26 453.07,417.31 453.33,417.36 453.58,417.41 453.84,417.46 454.10,417.51 454.36,417.57 454.62,417.63 454.88,417.68 455.13,417.73 455.39,417.79 455.65,417.84 455.91,417.90 456.17,417.97 456.43,418.03 456.68,418.08 456.94,418.15 457.20,418.21 457.46,418.28 457.72,418.35 457.98,418.41 458.23,418.48 458.49,418.55 458.75,418.63 459.01,418.71 459.27,418.79 459.53,418.88 459.78,418.97 460.04,419.07 460.30,419.18 460.56,419.29 460.82,419.44 461.08,419.63 461.33,419.84 461.59,420.16 461.85,421.06 461.85,421.06 461.59,421.96 461.33,422.28 461.08,422.49 460.82,422.68 460.56,422.83 460.30,422.94 460.04,423.05 459.78,423.15 459.53,423.24 459.27,423.33 459.01,423.41 458.75,423.49 458.49,423.57 458.23,423.64 457.98,423.71 457.72,423.77 457.46,423.84 457.20,423.91 456.94,423.97 456.68,424.04 456.43,424.09 456.17,424.15 455.91,424.22 455.65,424.28 455.39,424.33 455.13,424.39 454.88,424.44 454.62,424.49 454.36,424.55 454.10,424.61 453.84,424.66 453.58,424.71 453.33,424.76 453.07,424.81 452.81,424.86 452.55,424.92 452.29,424.97 452.03,425.02 451.78,425.06 451.52,425.11 451.26,425.16 451.00,425.21 450.74,425.26 450.48,425.30 450.23,425.35 449.97,425.39 449.71,425.44 449.45,425.48 449.19,425.53 448.93,425.58 448.68,425.60 448.42,425.58 448.16,425.53 447.90,425.42 447.64,425.27 447.38,425.03 447.12,424.64 446.87,423.76 446.61,421.96 446.35,421.06" fill="#000"/>
<circle cx="452.08" cy="418.84" r="1.55" fill="#FF00FF" stroke="#000" stroke-width="0.95"/>
<circle cx="448.60" cy="418.21" r="1.55" fill="#FF00FF" stroke="#000" stroke-width="0.95"/>
<circle cx="451.52" cy="421.02" r="1.55" fill="#FF00FF" stroke="#000" stroke-width="0.95"/>
<circle cx="456.12" cy="419.70" r="1.55" fill="#FF00FF" stroke="#000" stroke-width="0.95"/>
<circle cx="448.60" cy="423.91" r="1.55" fill="#FF00FF" stroke="#000" stroke-width="0.95"/>
<circle cx="449.82" cy="422.22" r="1.55" fill="#FF00FF" stroke="#000" stroke-width="0.95"/>
<circle cx="456.12" cy="422.42" r="1.55" fill="#FF00FF" stroke="#000" stroke-width="0.95"/>
<circle cx="454.10" cy="422.87" r="1.55" fill="#FF00FF" stroke="#000" stroke-width="0.95"/>
<circle cx="458.13" cy="421.90" r="1.55" fill="#FF00FF" stroke="#000" stroke-width="0.95"/>
<circle cx="460.15" cy="421.06" r="1.55" fill="#FF00FF" stroke="#000" stroke-width="0.95"/>
<circle cx="452.08" cy="423.28" r="1.55" fill="#FF00FF" stroke="#000" stroke-width="0.95"/>
<circle cx="448.05" cy="421.06" r="1.55" fill="#FF00FF" stroke="#000" stroke-width="0.95"/>
<circle cx="454.10" cy="419.25" r="1.55" fill="#FF00FF" stroke="#000" stroke-width="0.95"/>
<polygon points="446.35,429.49 446.47,428.40 446.59,427.77 446.71,427.25 446.83,426.79 446.95,426.37 447.07,426.05 447.19,425.83 447.31,425.67 447.43,425.54 447.55,425.43 447.67,425.34 447.79,425.27 447.91,425.21 448.03,425.16 448.15,425.12 448.27,425.09 448.39,425.07 448.51,425.06 448.63,425.05 448.75,425.06 448.87,425.07 448.99,425.09 449.11,425.12 449.23,425.17 449.35,425.22 449.47,425.28 449.59,425.35 449.71,425.42 449.83,425.50 449.95,425.57 450.07,425.65 450.19,425.72 450.31,425.80 450.43,425.88 450.55,425.96 450.67,426.04 450.79,426.12 450.91,426.20 451.03,426.28 451.15,426.37 451.27,426.46 451.39,426.55 451.51,426.64 451.63,426.73 451.75,426.82 451.87,426.92 451.99,427.02 452.11,427.13 452.23,427.23 452.35,427.35 452.47,427.46 452.59,427.59 452.71,427.71 452.83,427.85 452.95,428.00 453.07,428.16 453.19,428.35 453.31,428.57 453.43,428.86 453.55,429.49 453.55,429.49 453.43,430.12 453.31,430.41 453.19,430.63 453.07,430.82 452.95,430.98 452.83,431.13 452.71,431.27 452.59,431.39 452.47,431.52 452.35,431.63 452.23,431.75 452.11,431.85 451.99,431.96 451.87,432.06 451.75,432.16 451.63,432.25 451.51,432.34 451.39,432.43 451.27,432.52 451.15,432.61 451.03,432.70 450.91,432.78 450.79,432.86 450.67,432.94 450.55,433.02 450.43,433.10 450.31,433.18 450.19,433.26 450.07,433.33 449.95,433.41 449.83,433.48 449.71,433.56 449.59,433.63 449.47,433.70 449.35,433.76 449.23,433.81 449.11,433.86 448.99,433.89 448.87,433.91 448.75,433.92 448.63,433.93 448.51,433.92 448.39,433.91 448.27,433.89 448.15,433.86 448.03,433.82 447.91,433.77 447.79,433.71 447.67,433.64 447.55,433.55 447.43,433.44 447.31,433.31 447.19,433.15 447.07,432.93 446.95,432.61 446.83,432.19 446.71,431.73 446.59,431.21 446.47,430.58 446.35,429.49" fill="#000"/>
<circle cx="450.00" cy="430.51" r="1.55" fill="#5CACEE" stroke="#000" stroke-width="0.95"/>
<circle cx="448.60" cy="432.24" r="1.55" fill="#5CACEE" stroke="#000" stroke-width="0.95"/>
<circle cx="450.16" cy="428.25" r="1.55" fill="#5CACEE" stroke="#000" stroke-width="0.95"/>
<circle cx="448.05" cy="429.49" r="1.55" fill="#5CACEE" stroke="#000" stroke-width="0.95"/>
<circle cx="448.60" cy="426.74" r="1.55" fill="#5CACEE" stroke="#000" stroke-width="0.95"/>
<circle cx="451.85" cy="429.49" r="1.55" fill="#5CACEE" stroke="#000" stroke-width="0.95"/>
<polygon points="473.25,437.92 473.61,436.87 473.98,436.53 474.34,436.30 474.70,436.08 475.07,435.94 475.43,435.79 475.79,435.67 476.16,435.56 476.52,435.46 476.88,435.34 477.25,435.24 477.61,435.15 477.97,435.07 478.34,434.97 478.70,434.88 479.06,434.80 479.43,434.73 479.79,434.64 480.15,434.56 480.52,434.48 480.88,434.41 481.24,434.34 481.61,434.26 481.97,434.18 482.33,434.12 482.70,434.06 483.06,433.98 483.42,433.97 483.79,433.95 484.15,434.01 484.51,434.07 484.88,434.13 485.24,434.19 485.60,434.26 485.97,434.32 486.33,434.38 486.69,434.44 487.06,434.52 487.42,434.59 487.78,434.65 488.15,434.72 488.51,434.79 488.87,434.87 489.24,434.94 489.60,435.01 489.96,435.09 490.33,435.18 490.69,435.26 491.05,435.34 491.42,435.43 491.78,435.53 492.14,435.63 492.51,435.73 492.87,435.84 493.23,435.98 493.60,436.10 493.96,436.33 494.32,436.53 494.69,436.87 495.05,437.92 495.05,437.92 494.69,438.97 494.32,439.31 493.96,439.51 493.60,439.74 493.23,439.86 492.87,440.00 492.51,440.11 492.14,440.21 491.78,440.31 491.42,440.41 491.05,440.50 490.69,440.58 490.33,440.66 489.96,440.75 489.60,440.83 489.24,440.90 488.87,440.97 488.51,441.05 488.15,441.12 487.78,441.19 487.42,441.25 487.06,441.32 486.69,441.40 486.33,441.46 485.97,441.52 485.60,441.58 485.24,441.65 484.88,441.71 484.51,441.77 484.15,441.83 483.79,441.89 483.42,441.87 483.06,441.86 482.70,441.78 482.33,441.72 481.97,441.66 481.61,441.58 481.24,441.50 480.88,441.43 480.52,441.36 480.15,441.28 479.79,441.20 479.43,441.11 479.06,441.04 478.70,440.96 478.34,440.87 477.97,440.77 477.61,440.69 477.25,440.60 476.88,440.50 476.52,440.38 476.16,440.28 475.79,440.17 475.43,440.05 475.07,439.90 474.70,439.76 474.34,439.54 473.98,439.31 473.61,438.97 473.25,437.92" fill="#000"/>
<circle cx="476.99" cy="438.76" r="1.55" fill="#CDCD00" stroke="#000" stroke-width="0.95"/>
<circle cx="493.35" cy="437.92" r="1.55" fill="#CDCD00" stroke="#000" stroke-width="0.95"/>
<circle cx="483.50" cy="440.22" r="1.55" fill="#CDCD00" stroke="#000" stroke-width="0.95"/>
<circle cx="483.50" cy="435.62" r="1.55" fill="#CDCD00" stroke="#000" stroke-width="0.95"/>
<circle cx="481.08" cy="436.10" r="1.55" fill="#CDCD00" stroke="#000" stroke-width="0.95"/>
<circle cx="487.22" cy="439.57" r="1.55" fill="#CDCD00" stroke="#000" stroke-width="0.95"/>
<circle cx="482.69" cy="437.53" r="1.55" fill="#CDCD00" stroke="#000" stroke-width="0.95"/>
<circle cx="481.08" cy="439.74" r="1.55" fill="#CDCD00" stroke="#000" stroke-width="0.95"/>
<circle cx="479.04" cy="439.29" r="1.55" fill="#CDCD00" stroke="#000" stroke-width="0.95"/>
<circle cx="487.22" cy="436.27" r="1.55" fill="#CDCD00" stroke="#000" stroke-width="0.95"/>
<circle cx="479.04" cy="436.55" r="1.55" fill="#CDCD00" stroke="#000" stroke-width="0.95"/>
<circle cx="485.06" cy="438.77" r="1.55" fill="#CDCD00" stroke="#000" stroke-width="0.95"/>
<circle cx="489.26" cy="439.16" r="1.55" fill="#CDCD00" stroke="#000" stroke-width="0.95"/>
<circle cx="489.26" cy="436.68" r="1.55" fill="#CDCD00" stroke="#000" stroke-width="0.95"/>
<circle cx="491.31" cy="438.69" r="1.55" fill="#CDCD00" stroke="#000" stroke-width="0.95"/>
<circle cx="474.95" cy="437.92" r="1.55" fill="#CDCD00" stroke="#000" stroke-width="0.95"/>
<polygon points="468.85,446.35 469.32,445.18 469.79,444.83 470.25,444.57 470.72,444.36 471.19,444.19 471.66,444.06 472.13,443.92 472.60,443.78 473.06,443.67 473.53,443.57 474.00,443.44 474.47,443.33 474.94,443.24 475.41,443.15 475.88,443.03 476.34,442.94 476.81,442.86 477.28,442.77 477.75,442.67 478.22,442.58 478.69,442.51 479.15,442.43 479.62,442.33 480.09,442.24 480.56,442.18 481.03,442.10 481.50,442.01 481.96,441.93 482.43,441.86 482.90,441.80 483.37,441.71 483.84,441.73 484.31,441.82 484.77,441.92 485.24,442.00 485.71,442.07 486.18,442.16 486.65,442.27 487.12,442.35 487.58,442.43 488.05,442.53 488.52,442.64 488.99,442.72 489.46,442.81 489.93,442.92 490.39,443.04 490.86,443.13 491.33,443.23 491.80,443.35 492.27,443.50 492.74,443.59 493.20,443.71 493.67,443.86 494.14,444.01 494.61,444.15 495.08,444.33 495.55,444.54 496.01,444.83 496.48,445.18 496.95,446.35 496.95,446.35 496.48,447.52 496.01,447.87 495.55,448.16 495.08,448.37 494.61,448.55 494.14,448.69 493.67,448.84 493.20,448.99 492.74,449.11 492.27,449.20 491.80,449.35 491.33,449.47 490.86,449.57 490.39,449.66 489.93,449.78 489.46,449.89 488.99,449.98 488.52,450.06 488.05,450.17 487.58,450.27 487.12,450.35 486.65,450.43 486.18,450.54 485.71,450.63 485.24,450.70 484.77,450.78 484.31,450.88 483.84,450.97 483.37,450.99 482.90,450.90 482.43,450.84 481.96,450.77 481.50,450.69 481.03,450.60 480.56,450.52 480.09,450.46 479.62,450.37 479.15,450.27 478.69,450.19 478.22,450.12 477.75,450.03 477.28,449.93 476.81,449.84 476.34,449.76 475.88,449.67 475.41,449.55 474.94,449.46 474.47,449.37 474.00,449.26 473.53,449.13 473.06,449.03 472.60,448.92 472.13,448.78 471.66,448.64 471.19,448.51 470.72,448.34 470.25,448.13 469.79,447.87 469.32,447.52 468.85,446.35" fill="#000"/>
<circle cx="487.02" cy="444.05" r="1.55" fill="#FFFF00" stroke="#000" stroke-width="0.95"/>
<circle cx="478.78" cy="448.50" r="1.55" fill="#FFFF00" stroke="#000" stroke-width="0.95"/>
<circle cx="491.13" cy="444.93" r="1.55" fill="#FFFF00" stroke="#000" stroke-width="0.95"/>
<circle cx="476.73" cy="444.59" r="1.55" fill="#FFFF00" stroke="#000" stroke-width="0.95"/>
<circle cx="485.07" cy="447.95" r="1.55" fill="#FFFF00" stroke="#000" stroke-width="0.95"/>
<circle cx="482.81" cy="446.50" r="1.55" fill="#FFFF00" stroke="#000" stroke-width="0.95"/>
<circle cx="491.13" cy="447.77" r="1.55" fill="#FFFF00" stroke="#000" stroke-width="0.95"/>
<circle cx="472.61" cy="447.16" r="1.55" fill="#FFFF00" stroke="#000" stroke-width="0.95"/>
<circle cx="480.84" cy="443.84" r="1.55" fill="#FFFF00" stroke="#000" stroke-width="0.95"/>
<circle cx="478.78" cy="444.20" r="1.55" fill="#FFFF00" stroke="#000" stroke-width="0.95"/>
<circle cx="480.84" cy="448.86" r="1.55" fill="#FFFF00" stroke="#000" stroke-width="0.95"/>
<circle cx="479.48" cy="446.43" r="1.55" fill="#FFFF00" stroke="#000" stroke-width="0.95"/>
<circle cx="474.67" cy="445.03" r="1.55" fill="#FFFF00" stroke="#000" stroke-width="0.95"/>
<circle cx="483.50" cy="443.40" r="1.55" fill="#FFFF00" stroke="#000" stroke-width="0.95"/>
<circle cx="476.73" cy="448.11" r="1.55" fill="#FFFF00" stroke="#000" stroke-width="0.95"/>
<circle cx="485.03" cy="445.24" r="1.55" fill="#FFFF00" stroke="#000" stroke-width="0.95"/>
<circle cx="474.67" cy="447.67" r="1.55" fill="#FFFF00" stroke="#000" stroke-width="0.95"/>
<circle cx="489.07" cy="444.47" r="1.55" fill="#FFFF00" stroke="#000" stroke-width="0.95"/>
<circle cx="493.19" cy="447.22" r="1.55" fill="#FFFF00" stroke="#000" stroke-width="0.95"/>
<circle cx="489.07" cy="448.23" r="1.55" fill="#FFFF00" stroke="#000" stroke-width="0.95"/>
<circle cx="495.25" cy="446.35" r="1.55" fill="#FFFF00" stroke="#000" stroke-width="0.95"/>
<circle cx="483.50" cy="449.30" r="1.55" fill="#FFFF00" stroke="#000" stroke-width="0.95"/>
<circle cx="486.64" cy="446.62" r="1.55" fill="#FFFF00" stroke="#000" stroke-width="0.95"/>
<circle cx="470.55" cy="446.35" r="1.55" fill="#FFFF00" stroke="#000" stroke-width="0.95"/>
<circle cx="487.02" cy="448.65" r="1.55" fill="#FFFF00" stroke="#000" stroke-width="0.95"/>
<polygon points="446.35,454.78 446.55,453.98 446.75,452.60 446.95,451.74 447.14,451.34 447.34,451.01 447.54,450.80 447.74,450.64 447.94,450.53 448.14,450.44 448.33,450.39 448.53,450.36 448.73,450.35 448.93,450.37 449.13,450.41 449.33,450.46 449.52,450.51 449.72,450.55 449.92,450.60 450.12,450.66 450.32,450.71 450.52,450.76 450.71,450.81 450.91,450.86 451.11,450.91 451.31,450.97 451.51,451.02 451.71,451.07 451.90,451.13 452.10,451.18 452.30,451.24 452.50,451.29 452.70,451.35 452.90,451.41 453.09,451.47 453.29,451.53 453.49,451.59 453.69,451.65 453.89,451.71 454.09,451.78 454.28,451.84 454.48,451.91 454.68,451.98 454.88,452.05 455.08,452.12 455.28,452.19 455.47,452.26 455.67,452.34 455.87,452.42 456.07,452.51 456.27,452.60 456.47,452.69 456.66,452.78 456.86,452.89 457.06,453.01 457.26,453.13 457.46,453.28 457.66,453.49 457.85,453.69 458.05,453.98 458.25,454.78 458.25,454.78 458.05,455.58 457.85,455.87 457.66,456.07 457.46,456.28 457.26,456.43 457.06,456.55 456.86,456.67 456.66,456.78 456.47,456.87 456.27,456.96 456.07,457.05 455.87,457.14 455.67,457.22 455.47,457.30 455.28,457.37 455.08,457.44 454.88,457.51 454.68,457.58 454.48,457.65 454.28,457.72 454.09,457.78 453.89,457.85 453.69,457.91 453.49,457.97 453.29,458.03 453.09,458.09 452.90,458.15 452.70,458.21 452.50,458.27 452.30,458.32 452.10,458.38 451.90,458.43 451.71,458.49 451.51,458.54 451.31,458.59 451.11,458.65 450.91,458.70 450.71,458.75 450.52,458.80 450.32,458.85 450.12,458.90 449.92,458.96 449.72,459.01 449.52,459.05 449.33,459.10 449.13,459.15 448.93,459.19 448.73,459.21 448.53,459.20 448.33,459.17 448.14,459.12 447.94,459.03 447.74,458.92 447.54,458.76 447.34,458.55 447.14,458.22 446.95,457.82 446.75,456.96 446.55,455.58 446.35,454.78" fill="#000"/>
<circle cx="454.43" cy="455.87" r="1.55" fill="#9A32CD" stroke="#000" stroke-width="0.95"/>
<circle cx="450.67" cy="454.82" r="1.55" fill="#9A32CD" stroke="#000" stroke-width="0.95"/>
<circle cx="452.30" cy="453.01" r="1.55" fill="#9A32CD" stroke="#000" stroke-width="0.95"/>
<circle cx="448.05" cy="454.78" r="1.55" fill="#9A32CD" stroke="#000" stroke-width="0.95"/>
<circle cx="452.30" cy="456.55" r="1.55" fill="#9A32CD" stroke="#000" stroke-width="0.95"/>
<circle cx="456.55" cy="454.78" r="1.55" fill="#9A32CD" stroke="#000" stroke-width="0.95"/>
<circle cx="448.60" cy="457.53" r="1.55" fill="#9A32CD" stroke="#000" stroke-width="0.95"/>
<circle cx="454.43" cy="453.69" r="1.55" fill="#9A32CD" stroke="#000" stroke-width="0.95"/>
<circle cx="448.60" cy="452.03" r="1.55" fill="#9A32CD" stroke="#000" stroke-width="0.95"/>
<polygon points="446.35,463.21 446.50,461.98 446.65,461.25 446.80,460.63 446.94,460.08 447.09,459.68 447.24,459.44 447.39,459.27 447.54,459.13 447.69,459.03 447.83,458.94 447.98,458.88 448.13,458.83 448.28,458.79 448.43,458.77 448.58,458.76 448.72,458.76 448.87,458.78 449.02,458.81 449.17,458.86 449.32,458.92 449.47,458.97 449.61,459.03 449.76,459.09 449.91,459.15 450.06,459.21 450.21,459.27 450.36,459.33 450.50,459.40 450.65,459.46 450.80,459.52 450.95,459.59 451.10,459.66 451.25,459.72 451.39,459.79 451.54,459.86 451.69,459.93 451.84,460.00 451.99,460.07 452.14,460.14 452.28,460.22 452.43,460.29 452.58,460.37 452.73,460.45 452.88,460.53 453.03,460.62 453.17,460.70 453.32,460.79 453.47,460.88 453.62,460.98 453.77,461.08 453.92,461.18 454.06,461.29 454.21,461.41 454.36,461.54 454.51,461.68 454.66,461.83 454.81,462.01 454.95,462.25 455.10,462.52 455.25,463.21 455.25,463.21 455.10,463.90 454.95,464.17 454.81,464.41 454.66,464.59 454.51,464.74 454.36,464.88 454.21,465.01 454.06,465.13 453.92,465.24 453.77,465.34 453.62,465.44 453.47,465.54 453.32,465.63 453.17,465.72 453.03,465.80 452.88,465.89 452.73,465.97 452.58,466.05 452.43,466.13 452.28,466.20 452.14,466.28 451.99,466.35 451.84,466.42 451.69,466.49 451.54,466.56 451.39,466.63 451.25,466.70 451.10,466.76 450.95,466.83 450.80,466.90 450.65,466.96 450.50,467.02 450.36,467.09 450.21,467.15 450.06,467.21 449.91,467.27 449.76,467.33 449.61,467.39 449.47,467.45 449.32,467.50 449.17,467.56 449.02,467.61 448.87,467.64 448.72,467.66 448.58,467.66 448.43,467.65 448.28,467.63 448.13,467.59 447.98,467.54 447.83,467.48 447.69,467.39 447.54,467.29 447.39,467.15 447.24,466.98 447.09,466.74 446.94,466.34 446.80,465.79 446.65,465.17 446.50,464.44 446.35,463.21" fill="#000"/>
<circle cx="450.80" cy="461.39" r="1.55" fill="#BF3EFF" stroke="#000" stroke-width="0.95"/>
<circle cx="448.05" cy="463.21" r="1.55" fill="#BF3EFF" stroke="#000" stroke-width="0.95"/>
<circle cx="448.60" cy="460.46" r="1.55" fill="#BF3EFF" stroke="#000" stroke-width="0.95"/>
<circle cx="453.55" cy="463.21" r="1.55" fill="#BF3EFF" stroke="#000" stroke-width="0.95"/>
<circle cx="450.80" cy="465.03" r="1.55" fill="#BF3EFF" stroke="#000" stroke-width="0.95"/>
<circle cx="448.60" cy="465.96" r="1.55" fill="#BF3EFF" stroke="#000" stroke-width="0.95"/>
<circle cx="465.60" cy="421.06" r="1.55" fill="#FF00FF" stroke="#000" stroke-width="0.95"/>
<circle cx="457.00" cy="454.78" r="1.55" fill="#9A32CD" stroke="#000" stroke-width="0.95"/>
<circle cx="460.00" cy="454.78" r="1.55" fill="#9A32CD" stroke="#000" stroke-width="0.95"/>
<circle cx="463.00" cy="454.78" r="1.55" fill="#9A32CD" stroke="#000" stroke-width="0.95"/>
<circle cx="466.00" cy="454.78" r="1.55" fill="#9A32CD" stroke="#000" stroke-width="0.95"/>
<circle cx="469.00" cy="454.78" r="1.55" fill="#9A32CD" stroke="#000" stroke-width="0.95"/>
<circle cx="472.00" cy="454.78" r="1.55" fill="#9A32CD" stroke="#000" stroke-width="0.95"/>
<circle cx="477.90" cy="454.78" r="1.55" fill="#9A32CD" stroke="#000" stroke-width="0.95"/>
<circle cx="490.30" cy="454.78" r="1.55" fill="#9A32CD" stroke="#000" stroke-width="0.95"/>
<circle cx="492.00" cy="454.78" r="1.55" fill="#9A32CD" stroke="#000" stroke-width="0.95"/>
<circle cx="498.70" cy="454.78" r="1.55" fill="#9A32CD" stroke="#000" stroke-width="0.95"/>
<circle cx="509.10" cy="454.78" r="1.55" fill="#9A32CD" stroke="#000" stroke-width="0.95"/>
<circle cx="525.90" cy="454.78" r="1.55" fill="#9A32CD" stroke="#000" stroke-width="0.95"/>
<circle cx="453.20" cy="463.21" r="1.55" fill="#BF3EFF" stroke="#000" stroke-width="0.95"/>
<circle cx="456.80" cy="463.21" r="1.55" fill="#BF3EFF" stroke="#000" stroke-width="0.95"/>
<circle cx="460.80" cy="463.21" r="1.55" fill="#BF3EFF" stroke="#000" stroke-width="0.95"/>
<circle cx="468.20" cy="463.21" r="1.55" fill="#BF3EFF" stroke="#000" stroke-width="0.95"/>
<circle cx="471.40" cy="463.21" r="1.55" fill="#BF3EFF" stroke="#000" stroke-width="0.95"/>
<circle cx="474.40" cy="463.21" r="1.55" fill="#BF3EFF" stroke="#000" stroke-width="0.95"/>
<circle cx="477.00" cy="463.21" r="1.55" fill="#BF3EFF" stroke="#000" stroke-width="0.95"/>
<circle cx="494.30" cy="463.21" r="1.55" fill="#BF3EFF" stroke="#000" stroke-width="0.95"/>
<circle cx="497.30" cy="463.21" r="1.55" fill="#BF3EFF" stroke="#000" stroke-width="0.95"/>
<circle cx="507.90" cy="463.21" r="1.55" fill="#BF3EFF" stroke="#000" stroke-width="0.95"/>
<circle cx="512.00" cy="463.21" r="1.55" fill="#BF3EFF" stroke="#000" stroke-width="0.95"/>
<circle cx="515.50" cy="463.21" r="1.55" fill="#BF3EFF" stroke="#000" stroke-width="0.95"/>
<circle cx="450.60" cy="471.64" r="1.55" fill="#CDCDC1" stroke="#000" stroke-width="0.95"/>
<circle cx="452.30" cy="480.07" r="1.55" fill="#2E8B57" stroke="#000" stroke-width="0.95"/>
<circle cx="452.30" cy="488.50" r="1.55" fill="#FF8C00" stroke="#000" stroke-width="0.95"/>
<circle cx="452.30" cy="496.93" r="1.55" fill="#104E8B" stroke="#000" stroke-width="0.95"/>
<circle cx="452.30" cy="505.36" r="1.55" fill="#7CCD7C" stroke="#000" stroke-width="0.95"/>
<circle cx="452.30" cy="513.79" r="1.55" fill="#BEBEBE" stroke="#000" stroke-width="0.95"/>
<rect x="107.60" y="603.13" width="12.70" height="6.8" fill="#9A32CD" stroke="#333" stroke-width="0.8"/>
<line x1="108.45" y1="564.38" x2="114.20" y2="564.38" stroke="#333" stroke-width="0.8"/>
<line x1="120.30" y1="606.53" x2="137.50" y2="606.53" stroke="#333" stroke-width="0.8"/>
<rect x="106.85" y="551.65" width="3.2" height="17.03" rx="1.6" fill="#000"/>
<circle cx="108.45" cy="553.35" r="1.1" fill="#8B3E2F"/>
<circle cx="108.45" cy="555.95" r="1.1" fill="#8B3E2F"/>
<circle cx="108.45" cy="558.55" r="1.1" fill="#8B3E2F"/>
<circle cx="108.45" cy="561.78" r="1.1" fill="#EE6A50"/>
<circle cx="108.45" cy="564.38" r="1.1" fill="#EE6A50"/>
<circle cx="108.45" cy="566.98" r="1.1" fill="#EE6A50"/>
<rect x="106.85" y="576.94" width="3.2" height="8.60" rx="1.6" fill="#000"/>
<circle cx="108.45" cy="578.64" r="1.1" fill="#5CACEE"/>
<circle cx="108.45" cy="581.24" r="1.1" fill="#5CACEE"/>
<circle cx="108.45" cy="583.84" r="1.1" fill="#5CACEE"/>
<rect x="106.85" y="602.23" width="3.2" height="67.61" rx="1.6" fill="#000"/>
<circle cx="108.45" cy="603.93" r="1.1" fill="#9A32CD"/>
<circle cx="108.45" cy="606.53" r="1.1" fill="#9A32CD"/>
<circle cx="108.45" cy="609.13" r="1.1" fill="#9A32CD"/>
<circle cx="108.45" cy="612.36" r="1.1" fill="#BF3EFF"/>
<circle cx="108.45" cy="614.96" r="1.1" fill="#BF3EFF"/>
<circle cx="108.45" cy="617.56" r="1.1" fill="#BF3EFF"/>
<circle cx="108.45" cy="620.79" r="1.1" fill="#CDCDC1"/>
<circle cx="108.45" cy="623.39" r="1.1" fill="#CDCDC1"/>
<circle cx="108.45" cy="625.99" r="1.1" fill="#CDCDC1"/>
<circle cx="108.45" cy="629.22" r="1.1" fill="#2E8B57"/>
<circle cx="108.45" cy="631.82" r="1.1" fill="#2E8B57"/>
<circle cx="108.45" cy="634.42" r="1.1" fill="#2E8B57"/>
<circle cx="108.45" cy="637.65" r="1.1" fill="#FF8C00"/>
<circle cx="108.45" cy="640.25" r="1.1" fill="#FF8C00"/>
<circle cx="108.45" cy="642.85" r="1.1" fill="#FF8C00"/>
<circle cx="108.45" cy="646.08" r="1.1" fill="#104E8B"/>
<circle cx="108.45" cy="648.68" r="1.1" fill="#104E8B"/>
<circle cx="108.45" cy="651.28" r="1.1" fill="#104E8B"/>
<circle cx="108.45" cy="654.51" r="1.1" fill="#7CCD7C"/>
<circle cx="108.45" cy="657.11" r="1.1" fill="#7CCD7C"/>
<circle cx="108.45" cy="659.71" r="1.1" fill="#7CCD7C"/>
<circle cx="108.45" cy="662.94" r="1.1" fill="#BEBEBE"/>
<circle cx="108.45" cy="665.54" r="1.1" fill="#BEBEBE"/>
<circle cx="108.45" cy="668.14" r="1.1" fill="#BEBEBE"/>
<polygon points="117.05,572.81 117.32,571.89 117.59,571.56 117.86,571.22 118.14,571.00 118.41,570.79 118.68,570.62 118.95,570.45 119.22,570.29 119.50,570.14 119.77,570.01 120.04,569.87 120.31,569.73 120.58,569.61 120.85,569.49 121.12,569.37 121.40,569.25 121.67,569.14 121.94,569.03 122.21,568.92 122.48,568.82 122.75,568.71 123.03,568.60 123.30,568.50 123.57,568.40 123.84,568.32 124.11,568.27 124.39,568.26 124.66,568.26 124.93,568.30 125.20,568.38 125.47,568.45 125.74,568.53 126.02,568.61 126.29,568.69 126.56,568.77 126.83,568.86 127.10,568.94 127.37,569.02 127.64,569.11 127.92,569.20 128.19,569.29 128.46,569.38 128.73,569.47 129.00,569.57 129.28,569.67 129.55,569.77 129.82,569.88 130.09,569.98 130.36,570.09 130.63,570.21 130.91,570.33 131.18,570.45 131.45,570.58 131.72,570.73 131.99,570.89 132.26,571.06 132.53,571.29 132.81,571.56 133.08,571.89 133.35,572.81 133.35,572.81 133.08,573.73 132.81,574.06 132.53,574.33 132.26,574.56 131.99,574.73 131.72,574.89 131.45,575.04 131.18,575.17 130.91,575.29 130.63,575.41 130.36,575.53 130.09,575.64 129.82,575.74 129.55,575.85 129.28,575.95 129.00,576.05 128.73,576.15 128.46,576.24 128.19,576.33 127.92,576.42 127.64,576.51 127.37,576.60 127.10,576.68 126.83,576.76 126.56,576.85 126.29,576.93 126.02,577.01 125.74,577.09 125.47,577.17 125.20,577.24 124.93,577.32 124.66,577.36 124.39,577.36 124.11,577.35 123.84,577.30 123.57,577.22 123.30,577.12 123.03,577.02 122.75,576.91 122.48,576.80 122.21,576.70 121.94,576.59 121.67,576.48 121.40,576.37 121.12,576.25 120.85,576.13 120.58,576.01 120.31,575.89 120.04,575.75 119.77,575.61 119.50,575.48 119.22,575.33 118.95,575.17 118.68,575.00 118.41,574.83 118.14,574.62 117.86,574.40 117.59,574.06 117.32,573.73 117.05,572.81" fill="#000"/>
<circle cx="131.65" cy="572.81" r="1.55" fill="#FF00FF" stroke="#000" stroke-width="0.95"/>
<circle cx="120.90" cy="574.28" r="1.55" fill="#FF00FF" stroke="#000" stroke-width="0.95"/>
<circle cx="125.16" cy="573.77" r="1.55" fill="#FF00FF" stroke="#000" stroke-width="0.95"/>
<circle cx="124.40" cy="569.91" r="1.55" fill="#FF00FF" stroke="#000" stroke-width="0.95"/>
<circle cx="127.35" cy="574.82" r="1.55" fill="#FF00FF" stroke="#000" stroke-width="0.95"/>
<circle cx="122.47" cy="572.87" r="1.55" fill="#FF00FF" stroke="#000" stroke-width="0.95"/>
<circle cx="120.90" cy="571.34" r="1.55" fill="#FF00FF" stroke="#000" stroke-width="0.95"/>
<circle cx="129.50" cy="571.57" r="1.55" fill="#FF00FF" stroke="#000" stroke-width="0.95"/>
<circle cx="124.40" cy="575.71" r="1.55" fill="#FF00FF" stroke="#000" stroke-width="0.95"/>
<circle cx="129.50" cy="574.05" r="1.55" fill="#FF00FF" stroke="#000" stroke-width="0.95"/>
<circle cx="127.35" cy="570.80" r="1.55" fill="#FF00FF" stroke="#000" stroke-width="0.95"/>
<circle cx="118.75" cy="572.81" r="1.55" fill="#FF00FF" stroke="#000" stroke-width="0.95"/>
<circle cx="125.36" cy="571.73" r="1.55" fill="#FF00FF" stroke="#000" stroke-width="0.95"/>
<polygon points="106.85,581.24 106.99,580.33 107.13,579.80 107.27,579.36 107.41,578.97 107.55,578.61 107.69,578.28 107.83,577.96 107.97,577.67 108.11,577.47 108.25,577.32 108.39,577.17 108.53,577.05 108.67,576.96 108.81,576.88 108.95,576.82 109.09,576.78 109.23,576.75 109.37,576.72 109.51,576.72 109.65,576.72 109.79,576.73 109.93,576.76 110.07,576.80 110.21,576.85 110.35,576.91 110.49,576.98 110.63,577.06 110.77,577.13 110.91,577.20 111.05,577.27 111.19,577.34 111.33,577.42 111.47,577.50 111.61,577.57 111.75,577.65 111.89,577.73 112.03,577.81 112.17,577.89 112.31,577.97 112.45,578.06 112.59,578.14 112.73,578.23 112.87,578.32 113.01,578.42 113.15,578.51 113.29,578.61 113.43,578.71 113.57,578.81 113.71,578.92 113.85,579.03 113.99,579.14 114.13,579.27 114.27,579.40 114.41,579.53 114.55,579.68 114.69,579.85 114.83,580.03 114.97,580.28 115.11,580.56 115.25,581.24 115.25,581.24 115.11,581.92 114.97,582.20 114.83,582.45 114.69,582.63 114.55,582.80 114.41,582.95 114.27,583.08 114.13,583.21 113.99,583.34 113.85,583.45 113.71,583.56 113.57,583.67 113.43,583.77 113.29,583.87 113.15,583.97 113.01,584.06 112.87,584.16 112.73,584.25 112.59,584.34 112.45,584.42 112.31,584.51 112.17,584.59 112.03,584.67 111.89,584.75 111.75,584.83 111.61,584.91 111.47,584.98 111.33,585.06 111.19,585.14 111.05,585.21 110.91,585.28 110.77,585.35 110.63,585.42 110.49,585.50 110.35,585.57 110.21,585.63 110.07,585.68 109.93,585.72 109.79,585.75 109.65,585.76 109.51,585.76 109.37,585.76 109.23,585.73 109.09,585.70 108.95,585.66 108.81,585.60 108.67,585.52 108.53,585.43 108.39,585.31 108.25,585.16 108.11,585.01 107.97,584.81 107.83,584.52 107.69,584.20 107.55,583.87 107.41,583.51 107.27,583.12 107.13,582.68 106.99,582.15 106.85,581.24" fill="#000"/>
<circle cx="109.50" cy="584.09" r="1.55" fill="#5CACEE" stroke="#000" stroke-width="0.95"/>
<circle cx="111.45" cy="582.02" r="1.55" fill="#5CACEE" stroke="#000" stroke-width="0.95"/>
<circle cx="108.55" cy="581.24" r="1.55" fill="#5CACEE" stroke="#000" stroke-width="0.95"/>
<circle cx="111.17" cy="579.59" r="1.55" fill="#5CACEE" stroke="#000" stroke-width="0.95"/>
<circle cx="113.55" cy="581.24" r="1.55" fill="#5CACEE" stroke="#000" stroke-width="0.95"/>
<circle cx="109.50" cy="578.39" r="1.55" fill="#5CACEE" stroke="#000" stroke-width="0.95"/>
<polygon points="152.25,589.67 152.43,588.92 152.60,588.51 152.78,588.23 152.95,587.98 153.12,587.76 153.30,587.56 153.47,587.37 153.65,587.19 153.83,587.02 154.00,586.86 154.18,586.71 154.35,586.55 154.53,586.41 154.70,586.26 154.88,586.12 155.05,585.99 155.22,585.85 155.40,585.72 155.58,585.60 155.75,585.47 155.93,585.35 156.10,585.23 156.28,585.11 156.45,584.99 156.62,584.88 156.80,584.79 156.98,584.72 157.15,584.67 157.33,584.64 157.50,584.63 157.68,584.62 157.85,584.63 158.03,584.66 158.20,584.71 158.38,584.77 158.55,584.86 158.73,584.98 158.90,585.11 159.08,585.23 159.25,585.36 159.43,585.49 159.60,585.62 159.78,585.75 159.95,585.89 160.13,586.03 160.30,586.18 160.48,586.33 160.65,586.48 160.83,586.63 161.00,586.79 161.18,586.96 161.35,587.14 161.53,587.33 161.70,587.53 161.88,587.73 162.05,587.95 162.23,588.21 162.40,588.50 162.58,588.92 162.75,589.67 162.75,589.67 162.58,590.42 162.40,590.84 162.23,591.13 162.05,591.39 161.88,591.61 161.70,591.81 161.53,592.01 161.35,592.20 161.18,592.38 161.00,592.55 160.83,592.71 160.65,592.86 160.48,593.01 160.30,593.16 160.13,593.31 159.95,593.45 159.78,593.59 159.60,593.72 159.43,593.85 159.25,593.98 159.08,594.11 158.90,594.23 158.73,594.36 158.55,594.48 158.38,594.57 158.20,594.63 158.03,594.68 157.85,594.71 157.68,594.72 157.50,594.71 157.33,594.70 157.15,594.67 156.98,594.62 156.80,594.55 156.62,594.46 156.45,594.35 156.28,594.23 156.10,594.11 155.93,593.99 155.75,593.87 155.58,593.74 155.40,593.62 155.22,593.49 155.05,593.35 154.88,593.22 154.70,593.08 154.53,592.93 154.35,592.79 154.18,592.63 154.00,592.48 153.83,592.32 153.65,592.15 153.47,591.97 153.30,591.78 153.12,591.58 152.95,591.36 152.78,591.11 152.60,590.83 152.43,590.42 152.25,589.67" fill="#000"/>
<circle cx="157.60" cy="593.07" r="1.55" fill="#CDCD00" stroke="#000" stroke-width="0.95"/>
<circle cx="157.60" cy="586.27" r="1.55" fill="#CDCD00" stroke="#000" stroke-width="0.95"/>
<circle cx="157.50" cy="590.98" r="1.55" fill="#CDCD00" stroke="#000" stroke-width="0.95"/>
<circle cx="156.40" cy="589.12" r="1.55" fill="#CDCD00" stroke="#000" stroke-width="0.95"/>
<circle cx="159.57" cy="591.52" r="1.55" fill="#CDCD00" stroke="#000" stroke-width="0.95"/>
<circle cx="155.36" cy="591.36" r="1.55" fill="#CDCD00" stroke="#000" stroke-width="0.95"/>
<circle cx="161.05" cy="589.67" r="1.55" fill="#CDCD00" stroke="#000" stroke-width="0.95"/>
<circle cx="153.95" cy="589.67" r="1.55" fill="#CDCD00" stroke="#000" stroke-width="0.95"/>
<circle cx="158.80" cy="589.26" r="1.55" fill="#CDCD00" stroke="#000" stroke-width="0.95"/>
<polygon points="128.75,598.10 128.96,597.28 129.17,596.83 129.38,596.52 129.58,596.24 129.79,596.00 130.00,595.78 130.21,595.56 130.42,595.36 130.62,595.18 130.83,595.00 131.04,594.82 131.25,594.65 131.46,594.49 131.67,594.33 131.88,594.17 132.08,594.03 132.29,593.88 132.50,593.73 132.71,593.58 132.92,593.44 133.12,593.31 133.33,593.18 133.54,593.10 133.75,593.04 133.96,593.01 134.17,593.01 134.38,593.03 134.58,593.08 134.79,593.16 135.00,593.24 135.21,593.33 135.42,593.43 135.62,593.52 135.83,593.62 136.04,593.72 136.25,593.81 136.46,593.91 136.67,594.01 136.88,594.12 137.08,594.22 137.29,594.33 137.50,594.45 137.71,594.55 137.92,594.67 138.13,594.78 138.33,594.90 138.54,595.03 138.75,595.16 138.96,595.29 139.17,595.42 139.38,595.56 139.58,595.71 139.79,595.88 140.00,596.04 140.21,596.22 140.42,596.43 140.63,596.64 140.83,596.95 141.04,597.28 141.25,598.10 141.25,598.10 141.04,598.92 140.83,599.25 140.63,599.56 140.42,599.77 140.21,599.98 140.00,600.16 139.79,600.32 139.58,600.49 139.38,600.64 139.17,600.78 138.96,600.91 138.75,601.04 138.54,601.17 138.33,601.30 138.13,601.42 137.92,601.53 137.71,601.65 137.50,601.75 137.29,601.87 137.08,601.98 136.88,602.08 136.67,602.19 136.46,602.29 136.25,602.39 136.04,602.48 135.83,602.58 135.62,602.68 135.42,602.77 135.21,602.87 135.00,602.96 134.79,603.04 134.58,603.12 134.38,603.17 134.17,603.19 133.96,603.19 133.75,603.16 133.54,603.10 133.33,603.02 133.12,602.89 132.92,602.76 132.71,602.62 132.50,602.47 132.29,602.32 132.08,602.17 131.88,602.03 131.67,601.87 131.46,601.71 131.25,601.55 131.04,601.38 130.83,601.20 130.62,601.02 130.42,600.84 130.21,600.64 130.00,600.42 129.79,600.20 129.58,599.96 129.38,599.68 129.17,599.37 128.96,598.92 128.75,598.10" fill="#000"/>
<circle cx="133.32" cy="598.23" r="1.55" fill="#FFFF00" stroke="#000" stroke-width="0.95"/>
<circle cx="132.57" cy="596.18" r="1.55" fill="#FFFF00" stroke="#000" stroke-width="0.95"/>
<circle cx="134.89" cy="596.66" r="1.55" fill="#FFFF00" stroke="#000" stroke-width="0.95"/>
<circle cx="135.34" cy="599.16" r="1.55" fill="#FFFF00" stroke="#000" stroke-width="0.95"/>
<circle cx="137.28" cy="596.26" r="1.55" fill="#FFFF00" stroke="#000" stroke-width="0.95"/>
<circle cx="137.28" cy="599.94" r="1.55" fill="#FFFF00" stroke="#000" stroke-width="0.95"/>
<circle cx="134.10" cy="594.70" r="1.55" fill="#FFFF00" stroke="#000" stroke-width="0.95"/>
<circle cx="130.45" cy="598.10" r="1.55" fill="#FFFF00" stroke="#000" stroke-width="0.95"/>
<circle cx="131.93" cy="599.76" r="1.55" fill="#FFFF00" stroke="#000" stroke-width="0.95"/>
<circle cx="139.55" cy="598.10" r="1.55" fill="#FFFF00" stroke="#000" stroke-width="0.95"/>
<circle cx="134.10" cy="601.50" r="1.55" fill="#FFFF00" stroke="#000" stroke-width="0.95"/>
<circle cx="109.00" cy="605.13" r="1.55" fill="#9A32CD" stroke="#000" stroke-width="0.95"/>
<circle cx="111.20" cy="607.93" r="1.55" fill="#9A32CD" stroke="#000" stroke-width="0.95"/>
<circle cx="113.40" cy="606.53" r="1.55" fill="#9A32CD" stroke="#000" stroke-width="0.95"/>
<circle cx="115.60" cy="607.93" r="1.55" fill="#9A32CD" stroke="#000" stroke-width="0.95"/>
<circle cx="117.80" cy="605.13" r="1.55" fill="#9A32CD" stroke="#000" stroke-width="0.95"/>
<circle cx="120.00" cy="606.53" r="1.55" fill="#9A32CD" stroke="#000" stroke-width="0.95"/>
<circle cx="114.20" cy="564.38" r="1.55" fill="#EE6A50" stroke="#000" stroke-width="0.95"/>
<circle cx="115.30" cy="581.24" r="1.55" fill="#5CACEE" stroke="#000" stroke-width="0.95"/>
<circle cx="118.40" cy="581.24" r="1.55" fill="#5CACEE" stroke="#000" stroke-width="0.95"/>
<circle cx="162.40" cy="589.67" r="1.55" fill="#CDCD00" stroke="#000" stroke-width="0.95"/>
<circle cx="164.60" cy="589.67" r="1.55" fill="#CDCD00" stroke="#000" stroke-width="0.95"/>
<circle cx="166.70" cy="589.67" r="1.55" fill="#CDCD00" stroke="#000" stroke-width="0.95"/>
<circle cx="141.50" cy="598.10" r="1.55" fill="#FFFF00" stroke="#000" stroke-width="0.95"/>
<circle cx="144.00" cy="598.10" r="1.55" fill="#FFFF00" stroke="#000" stroke-width="0.95"/>
<circle cx="147.50" cy="598.10" r="1.55" fill="#FFFF00" stroke="#000" stroke-width="0.95"/>
<circle cx="122.90" cy="606.53" r="1.55" fill="#9A32CD" stroke="#000" stroke-width="0.95"/>
<circle cx="126.00" cy="606.53" r="1.55" fill="#9A32CD" stroke="#000" stroke-width="0.95"/>
<circle cx="129.10" cy="606.53" r="1.55" fill="#9A32CD" stroke="#000" stroke-width="0.95"/>
<circle cx="132.60" cy="606.53" r="1.55" fill="#9A32CD" stroke="#000" stroke-width="0.95"/>
<circle cx="136.20" cy="606.53" r="1.55" fill="#9A32CD" stroke="#000" stroke-width="0.95"/>
<circle cx="137.50" cy="606.53" r="1.55" fill="#9A32CD" stroke="#000" stroke-width="0.95"/>
<circle cx="146.20" cy="606.53" r="1.55" fill="#9A32CD" stroke="#000" stroke-width="0.95"/>
<circle cx="163.50" cy="606.53" r="1.55" fill="#9A32CD" stroke="#000" stroke-width="0.95"/>
<circle cx="165.60" cy="606.53" r="1.55" fill="#9A32CD" stroke="#000" stroke-width="0.95"/>
<circle cx="167.90" cy="606.53" r="1.55" fill="#9A32CD" stroke="#000" stroke-width="0.95"/>
<circle cx="171.40" cy="606.53" r="1.55" fill="#9A32CD" stroke="#000" stroke-width="0.95"/>
<circle cx="179.00" cy="606.53" r="1.55" fill="#9A32CD" stroke="#000" stroke-width="0.95"/>
<circle cx="181.50" cy="606.53" r="1.55" fill="#9A32CD" stroke="#000" stroke-width="0.95"/>
<circle cx="185.50" cy="606.53" r="1.55" fill="#9A32CD" stroke="#000" stroke-width="0.95"/>
<circle cx="190.30" cy="606.53" r="1.55" fill="#9A32CD" stroke="#000" stroke-width="0.95"/>
<circle cx="193.80" cy="606.53" r="1.55" fill="#9A32CD" stroke="#000" stroke-width="0.95"/>
<circle cx="197.00" cy="606.53" r="1.55" fill="#9A32CD" stroke="#000" stroke-width="0.95"/>
<circle cx="200.90" cy="606.53" r="1.55" fill="#9A32CD" stroke="#000" stroke-width="0.95"/>
<circle cx="111.00" cy="614.96" r="1.55" fill="#BF3EFF" stroke="#000" stroke-width="0.95"/>
<circle cx="116.20" cy="614.96" r="1.55" fill="#BF3EFF" stroke="#000" stroke-width="0.95"/>
<circle cx="120.30" cy="614.96" r="1.55" fill="#BF3EFF" stroke="#000" stroke-width="0.95"/>
<circle cx="142.00" cy="614.96" r="1.55" fill="#BF3EFF" stroke="#000" stroke-width="0.95"/>
<circle cx="153.30" cy="614.96" r="1.55" fill="#BF3EFF" stroke="#000" stroke-width="0.95"/>
<circle cx="174.10" cy="614.96" r="1.55" fill="#BF3EFF" stroke="#000" stroke-width="0.95"/>
<circle cx="176.20" cy="614.96" r="1.55" fill="#BF3EFF" stroke="#000" stroke-width="0.95"/>
<circle cx="181.50" cy="614.96" r="1.55" fill="#BF3EFF" stroke="#000" stroke-width="0.95"/>
<circle cx="185.50" cy="614.96" r="1.55" fill="#BF3EFF" stroke="#000" stroke-width="0.95"/>
<circle cx="190.80" cy="614.96" r="1.55" fill="#BF3EFF" stroke="#000" stroke-width="0.95"/>
<circle cx="195.20" cy="614.96" r="1.55" fill="#BF3EFF" stroke="#000" stroke-width="0.95"/>
<circle cx="197.90" cy="614.96" r="1.55" fill="#BF3EFF" stroke="#000" stroke-width="0.95"/>
<circle cx="200.50" cy="614.96" r="1.55" fill="#BF3EFF" stroke="#000" stroke-width="0.95"/>
<circle cx="204.00" cy="614.96" r="1.55" fill="#BF3EFF" stroke="#000" stroke-width="0.95"/>
<rect x="220.23" y="551.65" width="3.2" height="17.03" rx="1.6" fill="#000"/>
<circle cx="221.83" cy="553.35" r="1.1" fill="#8B3E2F"/>
<circle cx="221.83" cy="555.95" r="1.1" fill="#8B3E2F"/>
<circle cx="221.83" cy="558.55" r="1.1" fill="#8B3E2F"/>
<circle cx="221.83" cy="561.78" r="1.1" fill="#EE6A50"/>
<circle cx="221.83" cy="564.38" r="1.1" fill="#EE6A50"/>
<circle cx="221.83" cy="566.98" r="1.1" fill="#EE6A50"/>
<rect x="220.23" y="576.94" width="3.2" height="8.60" rx="1.6" fill="#000"/>
<circle cx="221.83" cy="578.64" r="1.1" fill="#5CACEE"/>
<circle cx="221.83" cy="581.24" r="1.1" fill="#5CACEE"/>
<circle cx="221.83" cy="583.84" r="1.1" fill="#5CACEE"/>
<rect x="220.23" y="602.23" width="3.2" height="67.61" rx="1.6" fill="#000"/>
<circle cx="221.83" cy="603.93" r="1.1" fill="#9A32CD"/>
<circle cx="221.83" cy="606.53" r="1.1" fill="#9A32CD"/>
<circle cx="221.83" cy="609.13" r="1.1" fill="#9A32CD"/>
<circle cx="221.83" cy="612.36" r="1.1" fill="#BF3EFF"/>
<circle cx="221.83" cy="614.96" r="1.1" fill="#BF3EFF"/>
<circle cx="221.83" cy="617.56" r="1.1" fill="#BF3EFF"/>
<circle cx="221.83" cy="620.79" r="1.1" fill="#CDCDC1"/>
<circle cx="221.83" cy="623.39" r="1.1" fill="#CDCDC1"/>
<circle cx="221.83" cy="625.99" r="1.1" fill="#CDCDC1"/>
<circle cx="221.83" cy="629.22" r="1.1" fill="#2E8B57"/>
<circle cx="221.83" cy="631.82" r="1.1" fill="#2E8B57"/>
<circle cx="221.83" cy="634.42" r="1.1" fill="#2E8B57"/>
<circle cx="221.83" cy="637.65" r="1.1" fill="#FF8C00"/>
<circle cx="221.83" cy="640.25" r="1.1" fill="#FF8C00"/>
<circle cx="221.83" cy="642.85" r="1.1" fill="#FF8C00"/>
<circle cx="221.83" cy="646.08" r="1.1" fill="#104E8B"/>
<circle cx="221.83" cy="648.68" r="1.1" fill="#104E8B"/>
<circle cx="221.83" cy="651.28" r="1.1" fill="#104E8B"/>
<circle cx="221.83" cy="654.51" r="1.1" fill="#7CCD7C"/>
<circle cx="221.83" cy="657.11" r="1.1" fill="#7CCD7C"/>
<circle cx="221.83" cy="659.71" r="1.1" fill="#7CCD7C"/>
<circle cx="221.83" cy="662.94" r="1.1" fill="#BEBEBE"/>
<circle cx="221.83" cy="665.54" r="1.1" fill="#BEBEBE"/>
<circle cx="221.83" cy="668.14" r="1.1" fill="#BEBEBE"/>
<polygon points="220.05,564.38 220.15,563.31 220.25,562.72 220.36,562.11 220.46,561.65 220.56,561.24 220.66,560.98 220.76,560.78 220.86,560.63 220.97,560.51 221.07,560.40 221.17,560.32 221.27,560.24 221.37,560.18 221.47,560.12 221.58,560.08 221.68,560.04 221.78,560.01 221.88,559.98 221.98,559.97 222.08,559.95 222.19,559.95 222.29,559.95 222.39,559.96 222.49,559.97 222.59,559.99 222.69,560.02 222.80,560.05 222.90,560.09 223.00,560.14 223.10,560.19 223.20,560.26 223.30,560.34 223.41,560.42 223.51,560.51 223.61,560.60 223.71,560.69 223.81,560.79 223.91,560.88 224.02,560.98 224.12,561.07 224.22,561.17 224.32,561.27 224.42,561.38 224.52,561.48 224.63,561.59 224.73,561.70 224.83,561.81 224.93,561.93 225.03,562.05 225.13,562.17 225.24,562.30 225.34,562.44 225.44,562.58 225.54,562.73 225.64,562.89 225.74,563.06 225.85,563.26 225.95,563.48 226.05,563.80 226.15,564.38 226.15,564.38 226.05,564.96 225.95,565.28 225.85,565.50 225.74,565.70 225.64,565.87 225.54,566.03 225.44,566.18 225.34,566.32 225.24,566.46 225.13,566.59 225.03,566.71 224.93,566.83 224.83,566.95 224.73,567.06 224.63,567.17 224.52,567.28 224.42,567.38 224.32,567.49 224.22,567.59 224.12,567.69 224.02,567.78 223.91,567.88 223.81,567.97 223.71,568.07 223.61,568.16 223.51,568.25 223.41,568.34 223.30,568.42 223.20,568.50 223.10,568.57 223.00,568.62 222.90,568.67 222.80,568.71 222.69,568.74 222.59,568.77 222.49,568.79 222.39,568.80 222.29,568.81 222.19,568.81 222.08,568.81 221.98,568.79 221.88,568.78 221.78,568.75 221.68,568.72 221.58,568.68 221.47,568.64 221.37,568.58 221.27,568.52 221.17,568.44 221.07,568.36 220.97,568.25 220.86,568.13 220.76,567.98 220.66,567.78 220.56,567.52 220.46,567.11 220.36,566.65 220.25,566.04 220.15,565.45 220.05,564.38" fill="#000"/>
<circle cx="221.75" cy="564.38" r="1.55" fill="#EE6A50" stroke="#000" stroke-width="0.95"/>
<circle cx="224.45" cy="564.38" r="1.55" fill="#EE6A50" stroke="#000" stroke-width="0.95"/>
<circle cx="222.20" cy="561.63" r="1.55" fill="#EE6A50" stroke="#000" stroke-width="0.95"/>
<circle cx="222.20" cy="567.13" r="1.55" fill="#EE6A50" stroke="#000" stroke-width="0.95"/>
<polygon points="231.05,572.81 231.32,571.89 231.59,571.42 231.86,571.06 232.13,570.77 232.40,570.53 232.67,570.27 232.94,570.04 233.21,569.84 233.48,569.64 233.75,569.44 234.02,569.25 234.29,569.08 234.56,568.91 234.83,568.73 235.10,568.56 235.37,568.40 235.64,568.25 235.91,568.10 236.18,567.94 236.45,567.79 236.72,567.68 236.99,567.62 237.26,567.60 237.53,567.62 237.80,567.65 238.07,567.72 238.34,567.80 238.61,567.89 238.88,567.97 239.15,568.06 239.42,568.14 239.69,568.23 239.96,568.32 240.23,568.41 240.50,568.50 240.77,568.59 241.04,568.68 241.31,568.78 241.58,568.87 241.85,568.98 242.12,569.08 242.39,569.17 242.66,569.28 242.93,569.38 243.20,569.50 243.47,569.61 243.74,569.72 244.01,569.84 244.28,569.96 244.55,570.09 244.82,570.22 245.09,570.36 245.36,570.51 245.63,570.68 245.90,570.84 246.17,571.03 246.44,571.25 246.71,571.57 246.98,571.89 247.25,572.81 247.25,572.81 246.98,573.73 246.71,574.05 246.44,574.37 246.17,574.59 245.90,574.78 245.63,574.94 245.36,575.11 245.09,575.26 244.82,575.40 244.55,575.53 244.28,575.66 244.01,575.78 243.74,575.90 243.47,576.01 243.20,576.12 242.93,576.24 242.66,576.34 242.39,576.45 242.12,576.54 241.85,576.64 241.58,576.75 241.31,576.84 241.04,576.94 240.77,577.03 240.50,577.12 240.23,577.21 239.96,577.30 239.69,577.39 239.42,577.48 239.15,577.56 238.88,577.65 238.61,577.73 238.34,577.82 238.07,577.90 237.80,577.97 237.53,578.00 237.26,578.02 236.99,578.00 236.72,577.94 236.45,577.83 236.18,577.68 235.91,577.52 235.64,577.37 235.37,577.22 235.10,577.06 234.83,576.89 234.56,576.71 234.29,576.54 234.02,576.37 233.75,576.18 233.48,575.98 233.21,575.78 232.94,575.58 232.67,575.35 232.40,575.09 232.13,574.85 231.86,574.56 231.59,574.20 231.32,573.73 231.05,572.81" fill="#000"/>
<circle cx="239.23" cy="570.75" r="1.55" fill="#FF00FF" stroke="#000" stroke-width="0.95"/>
<circle cx="237.08" cy="571.48" r="1.55" fill="#FF00FF" stroke="#000" stroke-width="0.95"/>
<circle cx="234.88" cy="574.90" r="1.55" fill="#FF00FF" stroke="#000" stroke-width="0.95"/>
<circle cx="235.23" cy="572.84" r="1.55" fill="#FF00FF" stroke="#000" stroke-width="0.95"/>
<circle cx="234.88" cy="570.72" r="1.55" fill="#FF00FF" stroke="#000" stroke-width="0.95"/>
<circle cx="241.08" cy="572.95" r="1.55" fill="#FF00FF" stroke="#000" stroke-width="0.95"/>
<circle cx="241.28" cy="570.57" r="1.55" fill="#FF00FF" stroke="#000" stroke-width="0.95"/>
<circle cx="243.42" cy="571.43" r="1.55" fill="#FF00FF" stroke="#000" stroke-width="0.95"/>
<circle cx="237.30" cy="576.36" r="1.55" fill="#FF00FF" stroke="#000" stroke-width="0.95"/>
<circle cx="241.28" cy="575.05" r="1.55" fill="#FF00FF" stroke="#000" stroke-width="0.95"/>
<circle cx="245.55" cy="572.81" r="1.55" fill="#FF00FF" stroke="#000" stroke-width="0.95"/>
<circle cx="239.27" cy="575.53" r="1.55" fill="#FF00FF" stroke="#000" stroke-width="0.95"/>
<circle cx="238.63" cy="573.21" r="1.55" fill="#FF00FF" stroke="#000" stroke-width="0.95"/>
<circle cx="232.75" cy="572.81" r="1.55" fill="#FF00FF" stroke="#000" stroke-width="0.95"/>
<circle cx="237.30" cy="569.26" r="1.55" fill="#FF00FF" stroke="#000" stroke-width="0.95"/>
<circle cx="243.42" cy="574.19" r="1.55" fill="#FF00FF" stroke="#000" stroke-width="0.95"/>
<polygon points="220.05,581.24 220.18,579.89 220.32,579.11 220.45,578.44 220.58,577.90 220.72,577.58 220.85,577.37 220.98,577.22 221.12,577.09 221.25,576.99 221.38,576.91 221.52,576.84 221.65,576.79 221.78,576.75 221.92,576.72 222.05,576.70 222.18,576.70 222.32,576.70 222.45,576.71 222.58,576.74 222.72,576.77 222.85,576.82 222.98,576.88 223.12,576.95 223.25,577.01 223.38,577.08 223.52,577.14 223.65,577.21 223.78,577.28 223.92,577.35 224.05,577.42 224.18,577.49 224.32,577.56 224.45,577.63 224.58,577.71 224.72,577.78 224.85,577.85 224.98,577.93 225.12,578.01 225.25,578.09 225.38,578.17 225.52,578.25 225.65,578.34 225.78,578.42 225.92,578.51 226.05,578.60 226.18,578.69 226.32,578.79 226.45,578.89 226.58,578.99 226.72,579.10 226.85,579.21 226.98,579.33 227.12,579.45 227.25,579.58 227.38,579.73 227.52,579.89 227.65,580.07 227.78,580.31 227.92,580.58 228.05,581.24 228.05,581.24 227.92,581.90 227.78,582.17 227.65,582.41 227.52,582.59 227.38,582.75 227.25,582.90 227.12,583.03 226.98,583.15 226.85,583.27 226.72,583.38 226.58,583.49 226.45,583.59 226.32,583.69 226.18,583.79 226.05,583.88 225.92,583.97 225.78,584.06 225.65,584.14 225.52,584.23 225.38,584.31 225.25,584.39 225.12,584.47 224.98,584.55 224.85,584.63 224.72,584.70 224.58,584.77 224.45,584.85 224.32,584.92 224.18,584.99 224.05,585.06 223.92,585.13 223.78,585.20 223.65,585.27 223.52,585.34 223.38,585.40 223.25,585.47 223.12,585.53 222.98,585.60 222.85,585.66 222.72,585.71 222.58,585.74 222.45,585.77 222.32,585.78 222.18,585.78 222.05,585.78 221.92,585.76 221.78,585.73 221.65,585.69 221.52,585.64 221.38,585.57 221.25,585.49 221.12,585.39 220.98,585.26 220.85,585.11 220.72,584.90 220.58,584.58 220.45,584.04 220.32,583.37 220.18,582.59 220.05,581.24" fill="#000"/>
<circle cx="222.20" cy="578.39" r="1.55" fill="#5CACEE" stroke="#000" stroke-width="0.95"/>
<circle cx="221.75" cy="581.24" r="1.55" fill="#5CACEE" stroke="#000" stroke-width="0.95"/>
<circle cx="224.05" cy="579.35" r="1.55" fill="#5CACEE" stroke="#000" stroke-width="0.95"/>
<circle cx="226.35" cy="581.24" r="1.55" fill="#5CACEE" stroke="#000" stroke-width="0.95"/>
<circle cx="222.20" cy="584.09" r="1.55" fill="#5CACEE" stroke="#000" stroke-width="0.95"/>
<circle cx="224.05" cy="583.13" r="1.55" fill="#5CACEE" stroke="#000" stroke-width="0.95"/>
<polygon points="254.55,589.67 254.79,588.81 255.02,588.44 255.26,588.10 255.49,587.88 255.73,587.65 255.96,587.45 256.19,587.27 256.43,587.10 256.67,586.93 256.90,586.77 257.13,586.62 257.37,586.48 257.61,586.33 257.84,586.19 258.07,586.06 258.31,585.93 258.55,585.81 258.78,585.68 259.01,585.56 259.25,585.43 259.49,585.32 259.72,585.20 259.95,585.09 260.19,584.98 260.43,584.91 260.66,584.87 260.89,584.87 261.13,584.88 261.37,584.91 261.60,584.97 261.83,585.06 262.07,585.15 262.31,585.23 262.54,585.32 262.77,585.41 263.01,585.50 263.25,585.60 263.48,585.70 263.72,585.80 263.95,585.89 264.19,585.99 264.42,586.09 264.66,586.20 264.89,586.31 265.12,586.42 265.36,586.53 265.60,586.64 265.83,586.76 266.06,586.89 266.30,587.02 266.54,587.15 266.77,587.28 267.00,587.44 267.24,587.60 267.48,587.76 267.71,587.96 267.94,588.18 268.18,588.50 268.42,588.81 268.65,589.67 268.65,589.67 268.42,590.53 268.18,590.84 267.94,591.16 267.71,591.38 267.48,591.58 267.24,591.74 267.00,591.90 266.77,592.06 266.54,592.19 266.30,592.32 266.06,592.45 265.83,592.58 265.60,592.70 265.36,592.81 265.12,592.92 264.89,593.03 264.66,593.14 264.42,593.25 264.19,593.35 263.95,593.45 263.72,593.54 263.48,593.64 263.25,593.74 263.01,593.84 262.77,593.93 262.54,594.02 262.31,594.11 262.07,594.19 261.83,594.28 261.60,594.37 261.37,594.43 261.13,594.46 260.89,594.47 260.66,594.47 260.43,594.43 260.19,594.36 259.95,594.25 259.72,594.14 259.49,594.02 259.25,593.91 259.01,593.78 258.78,593.66 258.55,593.53 258.31,593.41 258.07,593.28 257.84,593.15 257.61,593.01 257.37,592.86 257.13,592.72 256.90,592.57 256.67,592.41 256.43,592.24 256.19,592.07 255.96,591.89 255.73,591.69 255.49,591.46 255.26,591.24 255.02,590.90 254.79,590.53 254.55,589.67" fill="#000"/>
<circle cx="256.25" cy="589.67" r="1.55" fill="#CDCD00" stroke="#000" stroke-width="0.95"/>
<circle cx="258.39" cy="591.50" r="1.55" fill="#CDCD00" stroke="#000" stroke-width="0.95"/>
<circle cx="264.81" cy="588.15" r="1.55" fill="#CDCD00" stroke="#000" stroke-width="0.95"/>
<circle cx="260.90" cy="586.52" r="1.55" fill="#CDCD00" stroke="#000" stroke-width="0.95"/>
<circle cx="260.00" cy="589.27" r="1.55" fill="#CDCD00" stroke="#000" stroke-width="0.95"/>
<circle cx="258.39" cy="587.84" r="1.55" fill="#CDCD00" stroke="#000" stroke-width="0.95"/>
<circle cx="262.45" cy="590.49" r="1.55" fill="#CDCD00" stroke="#000" stroke-width="0.95"/>
<circle cx="266.95" cy="589.67" r="1.55" fill="#CDCD00" stroke="#000" stroke-width="0.95"/>
<circle cx="262.70" cy="588.26" r="1.55" fill="#CDCD00" stroke="#000" stroke-width="0.95"/>
<circle cx="260.90" cy="592.82" r="1.55" fill="#CDCD00" stroke="#000" stroke-width="0.95"/>
<circle cx="264.81" cy="591.19" r="1.55" fill="#CDCD00" stroke="#000" stroke-width="0.95"/>
<polygon points="247.95,598.10 248.19,597.24 248.42,596.93 248.66,596.61 248.89,596.39 249.12,596.19 249.36,596.03 249.59,595.87 249.83,595.71 250.06,595.58 250.30,595.45 250.53,595.32 250.77,595.19 251.00,595.07 251.24,594.96 251.47,594.85 251.71,594.74 251.94,594.63 252.18,594.52 252.41,594.42 252.65,594.32 252.88,594.23 253.12,594.13 253.36,594.03 253.59,593.93 253.83,593.84 254.06,593.75 254.30,593.66 254.53,593.58 254.77,593.49 255.00,593.40 255.24,593.34 255.47,593.31 255.71,593.30 255.94,593.30 256.18,593.34 256.41,593.41 256.65,593.52 256.88,593.63 257.12,593.75 257.35,593.86 257.59,593.99 257.82,594.11 258.06,594.24 258.29,594.36 258.53,594.49 258.76,594.62 259.00,594.76 259.23,594.91 259.47,595.05 259.70,595.20 259.94,595.36 260.17,595.53 260.41,595.70 260.64,595.88 260.88,596.08 261.11,596.31 261.35,596.53 261.58,596.87 261.82,597.24 262.05,598.10 262.05,598.10 261.82,598.96 261.58,599.33 261.35,599.67 261.11,599.89 260.88,600.12 260.64,600.32 260.41,600.50 260.17,600.67 259.94,600.84 259.70,601.00 259.47,601.15 259.23,601.29 259.00,601.44 258.76,601.58 258.53,601.71 258.29,601.84 258.06,601.96 257.82,602.09 257.59,602.21 257.35,602.34 257.12,602.45 256.88,602.57 256.65,602.68 256.41,602.79 256.18,602.86 255.94,602.90 255.71,602.90 255.47,602.89 255.24,602.86 255.00,602.80 254.77,602.71 254.53,602.62 254.30,602.54 254.06,602.45 253.83,602.36 253.59,602.27 253.36,602.17 253.12,602.07 252.88,601.97 252.65,601.88 252.41,601.78 252.18,601.68 251.94,601.57 251.71,601.46 251.47,601.35 251.24,601.24 251.00,601.13 250.77,601.01 250.53,600.88 250.30,600.75 250.06,600.62 249.83,600.49 249.59,600.33 249.36,600.17 249.12,600.01 248.89,599.81 248.66,599.59 248.42,599.27 248.19,598.96 247.95,598.10" fill="#000"/>
<circle cx="254.87" cy="599.21" r="1.55" fill="#FFFF00" stroke="#000" stroke-width="0.95"/>
<circle cx="249.65" cy="598.10" r="1.55" fill="#FFFF00" stroke="#000" stroke-width="0.95"/>
<circle cx="258.21" cy="596.27" r="1.55" fill="#FFFF00" stroke="#000" stroke-width="0.95"/>
<circle cx="260.35" cy="598.10" r="1.55" fill="#FFFF00" stroke="#000" stroke-width="0.95"/>
<circle cx="258.21" cy="599.93" r="1.55" fill="#FFFF00" stroke="#000" stroke-width="0.95"/>
<circle cx="251.79" cy="599.62" r="1.55" fill="#FFFF00" stroke="#000" stroke-width="0.95"/>
<circle cx="251.79" cy="596.58" r="1.55" fill="#FFFF00" stroke="#000" stroke-width="0.95"/>
<circle cx="255.73" cy="597.33" r="1.55" fill="#FFFF00" stroke="#000" stroke-width="0.95"/>
<circle cx="255.70" cy="601.25" r="1.55" fill="#FFFF00" stroke="#000" stroke-width="0.95"/>
<circle cx="255.70" cy="594.95" r="1.55" fill="#FFFF00" stroke="#000" stroke-width="0.95"/>
<circle cx="253.95" cy="596.06" r="1.55" fill="#FFFF00" stroke="#000" stroke-width="0.95"/>
<polygon points="220.05,606.53 220.20,605.11 220.34,604.27 220.49,603.56 220.63,603.15 220.78,602.91 220.92,602.69 221.07,602.52 221.21,602.39 221.36,602.29 221.50,602.20 221.65,602.14 221.79,602.09 221.94,602.05 222.08,602.02 222.23,602.01 222.37,602.02 222.52,602.03 222.66,602.06 222.81,602.10 222.95,602.15 223.10,602.21 223.24,602.27 223.39,602.33 223.53,602.40 223.68,602.46 223.82,602.52 223.97,602.59 224.11,602.65 224.26,602.72 224.40,602.78 224.55,602.85 224.69,602.92 224.84,602.99 224.98,603.05 225.13,603.13 225.27,603.20 225.42,603.27 225.56,603.34 225.71,603.42 225.85,603.50 226.00,603.58 226.14,603.66 226.29,603.74 226.43,603.82 226.58,603.91 226.72,604.00 226.87,604.09 227.01,604.18 227.16,604.28 227.30,604.39 227.45,604.49 227.59,604.60 227.74,604.72 227.88,604.86 228.03,604.99 228.17,605.15 228.32,605.33 228.46,605.58 228.61,605.84 228.75,606.53 228.75,606.53 228.61,607.22 228.46,607.48 228.32,607.73 228.17,607.91 228.03,608.07 227.88,608.20 227.74,608.34 227.59,608.46 227.45,608.57 227.30,608.67 227.16,608.78 227.01,608.88 226.87,608.97 226.72,609.06 226.58,609.15 226.43,609.24 226.29,609.32 226.14,609.40 226.00,609.48 225.85,609.56 225.71,609.64 225.56,609.72 225.42,609.79 225.27,609.86 225.13,609.93 224.98,610.01 224.84,610.07 224.69,610.14 224.55,610.21 224.40,610.28 224.26,610.34 224.11,610.41 223.97,610.47 223.82,610.54 223.68,610.60 223.53,610.66 223.39,610.73 223.24,610.79 223.10,610.85 222.95,610.91 222.81,610.96 222.66,611.00 222.52,611.03 222.37,611.04 222.23,611.05 222.08,611.04 221.94,611.01 221.79,610.97 221.65,610.92 221.50,610.86 221.36,610.77 221.21,610.67 221.07,610.54 220.92,610.37 220.78,610.15 220.63,609.91 220.49,609.50 220.34,608.79 220.20,607.95 220.05,606.53" fill="#000"/>
<circle cx="222.20" cy="603.68" r="1.55" fill="#9A32CD" stroke="#000" stroke-width="0.95"/>
<circle cx="221.75" cy="606.53" r="1.55" fill="#9A32CD" stroke="#000" stroke-width="0.95"/>
<circle cx="227.05" cy="606.53" r="1.55" fill="#9A32CD" stroke="#000" stroke-width="0.95"/>
<circle cx="224.40" cy="608.40" r="1.55" fill="#9A32CD" stroke="#000" stroke-width="0.95"/>
<circle cx="224.40" cy="604.66" r="1.55" fill="#9A32CD" stroke="#000" stroke-width="0.95"/>
<circle cx="222.20" cy="609.38" r="1.55" fill="#9A32CD" stroke="#000" stroke-width="0.95"/>
<circle cx="230.30" cy="606.53" r="1.55" fill="#9A32CD" stroke="#000" stroke-width="0.95"/>
<circle cx="232.20" cy="606.53" r="1.55" fill="#9A32CD" stroke="#000" stroke-width="0.95"/>
<circle cx="236.60" cy="606.53" r="1.55" fill="#9A32CD" stroke="#000" stroke-width="0.95"/>
<circle cx="245.70" cy="606.53" r="1.55" fill="#9A32CD" stroke="#000" stroke-width="0.95"/>
<circle cx="247.20" cy="606.53" r="1.55" fill="#9A32CD" stroke="#000" stroke-width="0.95"/>
<circle cx="254.90" cy="606.53" r="1.55" fill="#9A32CD" stroke="#000" stroke-width="0.95"/>
<circle cx="262.00" cy="606.53" r="1.55" fill="#9A32CD" stroke="#000" stroke-width="0.95"/>
<circle cx="266.60" cy="606.53" r="1.55" fill="#9A32CD" stroke="#000" stroke-width="0.95"/>
<circle cx="277.80" cy="606.53" r="1.55" fill="#9A32CD" stroke="#000" stroke-width="0.95"/>
<circle cx="279.60" cy="606.53" r="1.55" fill="#9A32CD" stroke="#000" stroke-width="0.95"/>
<circle cx="281.00" cy="606.53" r="1.55" fill="#9A32CD" stroke="#000" stroke-width="0.95"/>
<circle cx="288.10" cy="606.53" r="1.55" fill="#9A32CD" stroke="#000" stroke-width="0.95"/>
<circle cx="289.80" cy="606.53" r="1.55" fill="#9A32CD" stroke="#000" stroke-width="0.95"/>
<circle cx="299.50" cy="606.53" r="1.55" fill="#9A32CD" stroke="#000" stroke-width="0.95"/>
<circle cx="226.30" cy="614.96" r="1.55" fill="#BF3EFF" stroke="#000" stroke-width="0.95"/>
<circle cx="230.20" cy="614.96" r="1.55" fill="#BF3EFF" stroke="#000" stroke-width="0.95"/>
<circle cx="241.90" cy="614.96" r="1.55" fill="#BF3EFF" stroke="#000" stroke-width="0.95"/>
<circle cx="246.10" cy="614.96" r="1.55" fill="#BF3EFF" stroke="#000" stroke-width="0.95"/>
<circle cx="254.90" cy="614.96" r="1.55" fill="#BF3EFF" stroke="#000" stroke-width="0.95"/>
<circle cx="260.20" cy="614.96" r="1.55" fill="#BF3EFF" stroke="#000" stroke-width="0.95"/>
<circle cx="273.60" cy="614.96" r="1.55" fill="#BF3EFF" stroke="#000" stroke-width="0.95"/>
<circle cx="279.30" cy="614.96" r="1.55" fill="#BF3EFF" stroke="#000" stroke-width="0.95"/>
<circle cx="281.40" cy="614.96" r="1.55" fill="#BF3EFF" stroke="#000" stroke-width="0.95"/>
<circle cx="284.20" cy="614.96" r="1.55" fill="#BF3EFF" stroke="#000" stroke-width="0.95"/>
<circle cx="286.70" cy="614.96" r="1.55" fill="#BF3EFF" stroke="#000" stroke-width="0.95"/>
<circle cx="297.20" cy="614.96" r="1.55" fill="#BF3EFF" stroke="#000" stroke-width="0.95"/>
<circle cx="224.50" cy="623.39" r="1.55" fill="#CDCDC1" stroke="#000" stroke-width="0.95"/>
<rect x="333.61" y="551.65" width="3.2" height="33.89" rx="1.6" fill="#000"/>
<circle cx="335.21" cy="553.35" r="1.1" fill="#8B3E2F"/>
<circle cx="335.21" cy="555.95" r="1.1" fill="#8B3E2F"/>
<circle cx="335.21" cy="558.55" r="1.1" fill="#8B3E2F"/>
<circle cx="335.21" cy="561.78" r="1.1" fill="#EE6A50"/>
<circle cx="335.21" cy="564.38" r="1.1" fill="#EE6A50"/>
<circle cx="335.21" cy="566.98" r="1.1" fill="#EE6A50"/>
<circle cx="335.21" cy="570.21" r="1.1" fill="#FF00FF"/>
<circle cx="335.21" cy="572.81" r="1.1" fill="#FF00FF"/>
<circle cx="335.21" cy="575.41" r="1.1" fill="#FF00FF"/>
<circle cx="335.21" cy="578.64" r="1.1" fill="#5CACEE"/>
<circle cx="335.21" cy="581.24" r="1.1" fill="#5CACEE"/>
<circle cx="335.21" cy="583.84" r="1.1" fill="#5CACEE"/>
<rect x="333.61" y="602.23" width="3.2" height="67.61" rx="1.6" fill="#000"/>
<circle cx="335.21" cy="603.93" r="1.1" fill="#9A32CD"/>
<circle cx="335.21" cy="606.53" r="1.1" fill="#9A32CD"/>
<circle cx="335.21" cy="609.13" r="1.1" fill="#9A32CD"/>
<circle cx="335.21" cy="612.36" r="1.1" fill="#BF3EFF"/>
<circle cx="335.21" cy="614.96" r="1.1" fill="#BF3EFF"/>
<circle cx="335.21" cy="617.56" r="1.1" fill="#BF3EFF"/>
<circle cx="335.21" cy="620.79" r="1.1" fill="#CDCDC1"/>
<circle cx="335.21" cy="623.39" r="1.1" fill="#CDCDC1"/>
<circle cx="335.21" cy="625.99" r="1.1" fill="#CDCDC1"/>
<circle cx="335.21" cy="629.22" r="1.1" fill="#2E8B57"/>
<circle cx="335.21" cy="631.82" r="1.1" fill="#2E8B57"/>
<circle cx="335.21" cy="634.42" r="1.1" fill="#2E8B57"/>
<circle cx="335.21" cy="637.65" r="1.1" fill="#FF8C00"/>
<circle cx="335.21" cy="640.25" r="1.1" fill="#FF8C00"/>
<circle cx="335.21" cy="642.85" r="1.1" fill="#FF8C00"/>
<circle cx="335.21" cy="646.08" r="1.1" fill="#104E8B"/>
<circle cx="335.21" cy="648.68" r="1.1" fill="#104E8B"/>
<circle cx="335.21" cy="651.28" r="1.1" fill="#104E8B"/>
<circle cx="335.21" cy="654.51" r="1.1" fill="#7CCD7C"/>
<circle cx="335.21" cy="657.11" r="1.1" fill="#7CCD7C"/>
<circle cx="335.21" cy="659.71" r="1.1" fill="#7CCD7C"/>
<circle cx="335.21" cy="662.94" r="1.1" fill="#BEBEBE"/>
<circle cx="335.21" cy="665.54" r="1.1" fill="#BEBEBE"/>
<circle cx="335.21" cy="668.14" r="1.1" fill="#BEBEBE"/>
<polygon points="333.05,606.53 333.25,605.72 333.46,604.31 333.66,603.44 333.86,603.10 334.07,602.76 334.27,602.54 334.47,602.39 334.68,602.27 334.88,602.19 335.08,602.14 335.29,602.11 335.49,602.11 335.69,602.13 335.90,602.18 336.10,602.22 336.30,602.27 336.51,602.32 336.71,602.37 336.91,602.42 337.12,602.47 337.32,602.52 337.52,602.57 337.73,602.62 337.93,602.68 338.13,602.73 338.34,602.78 338.54,602.83 338.74,602.89 338.95,602.94 339.15,602.99 339.35,603.05 339.56,603.11 339.76,603.17 339.96,603.23 340.17,603.29 340.37,603.34 340.57,603.40 340.78,603.47 340.98,603.53 341.18,603.59 341.39,603.66 341.59,603.73 341.79,603.80 342.00,603.87 342.20,603.94 342.40,604.01 342.61,604.09 342.81,604.17 343.01,604.25 343.22,604.34 343.42,604.43 343.62,604.53 343.83,604.64 344.03,604.75 344.23,604.87 344.44,605.02 344.64,605.23 344.84,605.43 345.05,605.72 345.25,606.53 345.25,606.53 345.05,607.34 344.84,607.63 344.64,607.83 344.44,608.04 344.23,608.19 344.03,608.31 343.83,608.42 343.62,608.53 343.42,608.63 343.22,608.72 343.01,608.81 342.81,608.89 342.61,608.97 342.40,609.05 342.20,609.12 342.00,609.19 341.79,609.26 341.59,609.33 341.39,609.40 341.18,609.47 340.98,609.53 340.78,609.59 340.57,609.66 340.37,609.72 340.17,609.77 339.96,609.83 339.76,609.89 339.56,609.95 339.35,610.01 339.15,610.07 338.95,610.12 338.74,610.17 338.54,610.23 338.34,610.28 338.13,610.33 337.93,610.38 337.73,610.44 337.52,610.49 337.32,610.54 337.12,610.59 336.91,610.64 336.71,610.69 336.51,610.74 336.30,610.79 336.10,610.84 335.90,610.88 335.69,610.93 335.49,610.95 335.29,610.95 335.08,610.92 334.88,610.87 334.68,610.79 334.47,610.67 334.27,610.52 334.07,610.30 333.86,609.96 333.66,609.62 333.46,608.75 333.25,607.34 333.05,606.53" fill="#000"/>
<circle cx="341.35" cy="607.62" r="1.55" fill="#9A32CD" stroke="#000" stroke-width="0.95"/>
<circle cx="334.75" cy="606.53" r="1.55" fill="#9A32CD" stroke="#000" stroke-width="0.95"/>
<circle cx="339.15" cy="608.30" r="1.55" fill="#9A32CD" stroke="#000" stroke-width="0.95"/>
<circle cx="339.15" cy="604.76" r="1.55" fill="#9A32CD" stroke="#000" stroke-width="0.95"/>
<circle cx="335.30" cy="603.78" r="1.55" fill="#9A32CD" stroke="#000" stroke-width="0.95"/>
<circle cx="343.55" cy="606.53" r="1.55" fill="#9A32CD" stroke="#000" stroke-width="0.95"/>
<circle cx="335.30" cy="609.28" r="1.55" fill="#9A32CD" stroke="#000" stroke-width="0.95"/>
<circle cx="337.01" cy="605.90" r="1.55" fill="#9A32CD" stroke="#000" stroke-width="0.95"/>
<circle cx="341.35" cy="605.44" r="1.55" fill="#9A32CD" stroke="#000" stroke-width="0.95"/>
<polygon points="333.05,614.96 333.26,614.14 333.47,612.67 333.69,611.77 333.90,611.44 334.11,611.20 334.32,610.97 334.53,610.81 334.74,610.70 334.96,610.62 335.17,610.57 335.38,610.54 335.59,610.55 335.80,610.58 336.01,610.63 336.23,610.68 336.44,610.72 336.65,610.77 336.86,610.82 337.07,610.87 337.28,610.92 337.50,610.97 337.71,611.02 337.92,611.07 338.13,611.12 338.34,611.17 338.55,611.22 338.77,611.28 338.98,611.33 339.19,611.38 339.40,611.44 339.61,611.49 339.82,611.55 340.04,611.60 340.25,611.66 340.46,611.72 340.67,611.78 340.88,611.84 341.09,611.90 341.31,611.96 341.52,612.03 341.73,612.09 341.94,612.16 342.15,612.23 342.36,612.30 342.58,612.37 342.79,612.44 343.00,612.51 343.21,612.59 343.42,612.68 343.63,612.76 343.85,612.85 344.06,612.94 344.27,613.05 344.48,613.16 344.69,613.28 344.90,613.43 345.12,613.63 345.33,613.84 345.54,614.14 345.75,614.96 345.75,614.96 345.54,615.78 345.33,616.08 345.12,616.29 344.90,616.49 344.69,616.64 344.48,616.76 344.27,616.87 344.06,616.98 343.85,617.07 343.63,617.16 343.42,617.24 343.21,617.33 343.00,617.41 342.79,617.48 342.58,617.55 342.36,617.62 342.15,617.69 341.94,617.76 341.73,617.83 341.52,617.89 341.31,617.96 341.09,618.02 340.88,618.08 340.67,618.14 340.46,618.20 340.25,618.26 340.04,618.32 339.82,618.37 339.61,618.43 339.40,618.48 339.19,618.54 338.98,618.59 338.77,618.64 338.55,618.70 338.34,618.75 338.13,618.80 337.92,618.85 337.71,618.90 337.50,618.95 337.28,619.00 337.07,619.05 336.86,619.10 336.65,619.15 336.44,619.20 336.23,619.24 336.01,619.29 335.80,619.34 335.59,619.37 335.38,619.38 335.17,619.35 334.96,619.30 334.74,619.22 334.53,619.11 334.32,618.95 334.11,618.72 333.90,618.48 333.69,618.15 333.47,617.25 333.26,615.78 333.05,614.96" fill="#000"/>
<circle cx="335.30" cy="612.21" r="1.55" fill="#BF3EFF" stroke="#000" stroke-width="0.95"/>
<circle cx="341.73" cy="616.05" r="1.55" fill="#BF3EFF" stroke="#000" stroke-width="0.95"/>
<circle cx="336.75" cy="614.39" r="1.55" fill="#BF3EFF" stroke="#000" stroke-width="0.95"/>
<circle cx="339.40" cy="616.73" r="1.55" fill="#BF3EFF" stroke="#000" stroke-width="0.95"/>
<circle cx="337.28" cy="616.77" r="1.55" fill="#BF3EFF" stroke="#000" stroke-width="0.95"/>
<circle cx="339.40" cy="613.19" r="1.55" fill="#BF3EFF" stroke="#000" stroke-width="0.95"/>
<circle cx="334.75" cy="614.96" r="1.55" fill="#BF3EFF" stroke="#000" stroke-width="0.95"/>
<circle cx="335.30" cy="617.71" r="1.55" fill="#BF3EFF" stroke="#000" stroke-width="0.95"/>
<circle cx="344.05" cy="614.96" r="1.55" fill="#BF3EFF" stroke="#000" stroke-width="0.95"/>
<circle cx="341.73" cy="613.87" r="1.55" fill="#BF3EFF" stroke="#000" stroke-width="0.95"/>
<polygon points="333.05,589.67 333.37,588.68 333.69,587.96 334.01,587.57 334.33,587.12 334.65,586.75 334.97,586.44 335.29,586.12 335.61,585.81 335.93,585.53 336.25,585.28 336.57,585.01 336.89,584.84 337.21,584.75 337.53,584.72 337.85,584.76 338.17,584.81 338.49,584.87 338.81,584.94 339.13,584.99 339.45,585.04 339.77,585.10 340.09,585.16 340.41,585.23 340.73,585.28 341.05,585.34 341.37,585.40 341.69,585.46 342.01,585.53 342.33,585.59 342.65,585.65 342.97,585.71 343.29,585.78 343.61,585.85 343.93,585.92 344.25,585.98 344.57,586.05 344.89,586.12 345.21,586.20 345.53,586.27 345.85,586.33 346.17,586.41 346.49,586.49 346.81,586.58 347.13,586.65 347.45,586.72 347.77,586.81 348.09,586.90 348.41,586.99 348.73,587.08 349.05,587.17 349.37,587.28 349.69,587.39 350.01,587.49 350.33,587.61 350.65,587.76 350.97,587.90 351.29,588.12 351.61,588.34 351.93,588.68 352.25,589.67 352.25,589.67 351.93,590.66 351.61,591.00 351.29,591.22 350.97,591.44 350.65,591.58 350.33,591.73 350.01,591.85 349.69,591.95 349.37,592.06 349.05,592.17 348.73,592.26 348.41,592.35 348.09,592.44 347.77,592.53 347.45,592.62 347.13,592.69 346.81,592.76 346.49,592.85 346.17,592.93 345.85,593.01 345.53,593.07 345.21,593.14 344.89,593.22 344.57,593.29 344.25,593.36 343.93,593.42 343.61,593.49 343.29,593.56 342.97,593.63 342.65,593.69 342.33,593.75 342.01,593.81 341.69,593.88 341.37,593.94 341.05,594.00 340.73,594.06 340.41,594.11 340.09,594.18 339.77,594.24 339.45,594.30 339.13,594.35 338.81,594.40 338.49,594.47 338.17,594.53 337.85,594.58 337.53,594.62 337.21,594.59 336.89,594.50 336.57,594.33 336.25,594.06 335.93,593.81 335.61,593.53 335.29,593.22 334.97,592.90 334.65,592.59 334.33,592.22 334.01,591.77 333.69,591.38 333.37,590.66 333.05,589.67" fill="#000"/>
<circle cx="341.52" cy="592.18" r="1.55" fill="#CDCD00" stroke="#000" stroke-width="0.95"/>
<circle cx="344.34" cy="589.66" r="1.55" fill="#CDCD00" stroke="#000" stroke-width="0.95"/>
<circle cx="346.04" cy="588.12" r="1.55" fill="#CDCD00" stroke="#000" stroke-width="0.95"/>
<circle cx="343.78" cy="587.62" r="1.55" fill="#CDCD00" stroke="#000" stroke-width="0.95"/>
<circle cx="336.61" cy="588.79" r="1.55" fill="#CDCD00" stroke="#000" stroke-width="0.95"/>
<circle cx="343.78" cy="591.72" r="1.55" fill="#CDCD00" stroke="#000" stroke-width="0.95"/>
<circle cx="337.50" cy="592.92" r="1.55" fill="#CDCD00" stroke="#000" stroke-width="0.95"/>
<circle cx="334.75" cy="589.67" r="1.55" fill="#CDCD00" stroke="#000" stroke-width="0.95"/>
<circle cx="341.52" cy="587.16" r="1.55" fill="#CDCD00" stroke="#000" stroke-width="0.95"/>
<circle cx="342.32" cy="590.11" r="1.55" fill="#CDCD00" stroke="#000" stroke-width="0.95"/>
<circle cx="348.29" cy="590.62" r="1.55" fill="#CDCD00" stroke="#000" stroke-width="0.95"/>
<circle cx="340.40" cy="588.88" r="1.55" fill="#CDCD00" stroke="#000" stroke-width="0.95"/>
<circle cx="336.13" cy="591.33" r="1.55" fill="#CDCD00" stroke="#000" stroke-width="0.95"/>
<circle cx="339.55" cy="590.98" r="1.55" fill="#CDCD00" stroke="#000" stroke-width="0.95"/>
<circle cx="346.04" cy="591.22" r="1.55" fill="#CDCD00" stroke="#000" stroke-width="0.95"/>
<circle cx="337.50" cy="586.42" r="1.55" fill="#CDCD00" stroke="#000" stroke-width="0.95"/>
<circle cx="350.55" cy="589.67" r="1.55" fill="#CDCD00" stroke="#000" stroke-width="0.95"/>
<polygon points="341.45,598.10 342.05,596.81 342.64,596.48 343.24,596.16 343.84,596.01 344.43,595.79 345.03,595.63 345.63,595.53 346.22,595.36 346.82,595.22 347.42,595.11 348.01,595.01 348.61,594.86 349.21,594.75 349.80,594.67 350.40,594.55 351.00,594.43 351.59,594.34 352.19,594.28 352.79,594.14 353.38,594.03 353.98,593.96 354.58,593.88 355.17,593.76 355.77,593.67 356.37,593.60 356.96,593.51 357.56,593.59 358.16,593.63 358.75,593.68 359.35,593.76 359.95,593.87 360.54,593.90 361.14,593.96 361.74,594.05 362.33,594.14 362.93,594.18 363.53,594.25 364.12,594.35 364.72,594.42 365.32,594.48 365.91,594.56 366.51,594.67 367.11,594.73 367.70,594.80 368.30,594.89 368.90,595.02 369.49,595.06 370.09,595.15 370.69,595.26 371.28,595.37 371.88,595.44 372.48,595.55 373.07,595.70 373.67,595.79 374.27,595.91 374.86,596.08 375.46,596.24 376.06,596.48 376.65,596.81 377.25,598.10 377.25,598.10 376.65,599.39 376.06,599.72 375.46,599.96 374.86,600.12 374.27,600.29 373.67,600.41 373.07,600.50 372.48,600.65 371.88,600.76 371.28,600.83 370.69,600.94 370.09,601.05 369.49,601.14 368.90,601.18 368.30,601.31 367.70,601.40 367.11,601.47 366.51,601.53 365.91,601.64 365.32,601.72 364.72,601.78 364.12,601.85 363.53,601.95 362.93,602.02 362.33,602.06 361.74,602.15 361.14,602.24 360.54,602.30 359.95,602.33 359.35,602.44 358.75,602.52 358.16,602.57 357.56,602.61 356.96,602.69 356.37,602.60 355.77,602.53 355.17,602.44 354.58,602.32 353.98,602.24 353.38,602.17 352.79,602.06 352.19,601.92 351.59,601.86 351.00,601.77 350.40,601.65 349.80,601.53 349.21,601.45 348.61,601.34 348.01,601.19 347.42,601.09 346.82,600.98 346.22,600.84 345.63,600.67 345.03,600.57 344.43,600.41 343.84,600.19 343.24,600.04 342.64,599.72 342.05,599.39 341.45,598.10" fill="#000"/>
<circle cx="363.40" cy="600.26" r="1.55" fill="#FFFF00" stroke="#000" stroke-width="0.95"/>
<circle cx="373.53" cy="598.72" r="1.55" fill="#FFFF00" stroke="#000" stroke-width="0.95"/>
<circle cx="370.84" cy="597.04" r="1.55" fill="#FFFF00" stroke="#000" stroke-width="0.95"/>
<circle cx="363.40" cy="595.94" r="1.55" fill="#FFFF00" stroke="#000" stroke-width="0.95"/>
<circle cx="351.25" cy="600.09" r="1.55" fill="#FFFF00" stroke="#000" stroke-width="0.95"/>
<circle cx="365.20" cy="597.23" r="1.55" fill="#FFFF00" stroke="#000" stroke-width="0.95"/>
<circle cx="357.00" cy="601.00" r="1.55" fill="#FFFF00" stroke="#000" stroke-width="0.95"/>
<circle cx="375.55" cy="598.10" r="1.55" fill="#FFFF00" stroke="#000" stroke-width="0.95"/>
<circle cx="355.64" cy="597.73" r="1.55" fill="#FFFF00" stroke="#000" stroke-width="0.95"/>
<circle cx="367.45" cy="596.48" r="1.55" fill="#FFFF00" stroke="#000" stroke-width="0.95"/>
<circle cx="349.22" cy="596.47" r="1.55" fill="#FFFF00" stroke="#000" stroke-width="0.95"/>
<circle cx="359.35" cy="600.74" r="1.55" fill="#FFFF00" stroke="#000" stroke-width="0.95"/>
<circle cx="359.35" cy="595.46" r="1.55" fill="#FFFF00" stroke="#000" stroke-width="0.95"/>
<circle cx="360.58" cy="599.02" r="1.55" fill="#FFFF00" stroke="#000" stroke-width="0.95"/>
<circle cx="351.25" cy="596.11" r="1.55" fill="#FFFF00" stroke="#000" stroke-width="0.95"/>
<circle cx="347.20" cy="596.87" r="1.55" fill="#FFFF00" stroke="#000" stroke-width="0.95"/>
<circle cx="345.17" cy="598.85" r="1.55" fill="#FFFF00" stroke="#000" stroke-width="0.95"/>
<circle cx="367.45" cy="599.72" r="1.55" fill="#FFFF00" stroke="#000" stroke-width="0.95"/>
<circle cx="365.36" cy="599.45" r="1.55" fill="#FFFF00" stroke="#000" stroke-width="0.95"/>
<circle cx="343.15" cy="598.10" r="1.55" fill="#FFFF00" stroke="#000" stroke-width="0.95"/>
<circle cx="353.27" cy="600.43" r="1.55" fill="#FFFF00" stroke="#000" stroke-width="0.95"/>
<circle cx="355.22" cy="599.76" r="1.55" fill="#FFFF00" stroke="#000" stroke-width="0.95"/>
<circle cx="349.22" cy="599.73" r="1.55" fill="#FFFF00" stroke="#000" stroke-width="0.95"/>
<circle cx="350.52" cy="598.12" r="1.55" fill="#FFFF00" stroke="#000" stroke-width="0.95"/>
<circle cx="347.20" cy="599.33" r="1.55" fill="#FFFF00" stroke="#000" stroke-width="0.95"/>
<circle cx="357.00" cy="595.20" r="1.55" fill="#FFFF00" stroke="#000" stroke-width="0.95"/>
<circle cx="361.31" cy="596.07" r="1.55" fill="#FFFF00" stroke="#000" stroke-width="0.95"/>
<circle cx="353.27" cy="595.77" r="1.55" fill="#FFFF00" stroke="#000" stroke-width="0.95"/>
<circle cx="371.50" cy="599.10" r="1.55" fill="#FFFF00" stroke="#000" stroke-width="0.95"/>
<circle cx="362.55" cy="597.91" r="1.55" fill="#FFFF00" stroke="#000" stroke-width="0.95"/>
<circle cx="369.03" cy="598.41" r="1.55" fill="#FFFF00" stroke="#000" stroke-width="0.95"/>
<circle cx="358.52" cy="598.36" r="1.55" fill="#FFFF00" stroke="#000" stroke-width="0.95"/>
<circle cx="353.48" cy="597.95" r="1.55" fill="#FFFF00" stroke="#000" stroke-width="0.95"/>
<circle cx="338.50" cy="564.38" r="1.55" fill="#EE6A50" stroke="#000" stroke-width="0.95"/>
<circle cx="340.80" cy="564.38" r="1.55" fill="#EE6A50" stroke="#000" stroke-width="0.95"/>
<circle cx="338.50" cy="572.81" r="1.55" fill="#FF00FF" stroke="#000" stroke-width="0.95"/>
<circle cx="340.80" cy="572.81" r="1.55" fill="#FF00FF" stroke="#000" stroke-width="0.95"/>
<circle cx="343.20" cy="572.81" r="1.55" fill="#FF00FF" stroke="#000" stroke-width="0.95"/>
<circle cx="338.20" cy="581.24" r="1.55" fill="#5CACEE" stroke="#000" stroke-width="0.95"/>
<circle cx="340.20" cy="581.24" r="1.55" fill="#5CACEE" stroke="#000" stroke-width="0.95"/>
<circle cx="353.50" cy="589.67" r="1.55" fill="#CDCD00" stroke="#000" stroke-width="0.95"/>
<circle cx="356.50" cy="589.67" r="1.55" fill="#CDCD00" stroke="#000" stroke-width="0.95"/>
<circle cx="359.50" cy="589.67" r="1.55" fill="#CDCD00" stroke="#000" stroke-width="0.95"/>
<circle cx="362.50" cy="589.67" r="1.55" fill="#CDCD00" stroke="#000" stroke-width="0.95"/>
<circle cx="365.50" cy="589.67" r="1.55" fill="#CDCD00" stroke="#000" stroke-width="0.95"/>
<circle cx="369.50" cy="589.67" r="1.55" fill="#CDCD00" stroke="#000" stroke-width="0.95"/>
<circle cx="372.50" cy="589.67" r="1.55" fill="#CDCD00" stroke="#000" stroke-width="0.95"/>
<circle cx="375.50" cy="589.67" r="1.55" fill="#CDCD00" stroke="#000" stroke-width="0.95"/>
<circle cx="378.50" cy="589.67" r="1.55" fill="#CDCD00" stroke="#000" stroke-width="0.95"/>
<circle cx="381.00" cy="589.67" r="1.55" fill="#CDCD00" stroke="#000" stroke-width="0.95"/>
<circle cx="383.50" cy="589.67" r="1.55" fill="#CDCD00" stroke="#000" stroke-width="0.95"/>
<circle cx="386.50" cy="589.67" r="1.55" fill="#CDCD00" stroke="#000" stroke-width="0.95"/>
<circle cx="391.30" cy="589.67" r="1.55" fill="#CDCD00" stroke="#000" stroke-width="0.95"/>
<circle cx="378.50" cy="598.10" r="1.55" fill="#FFFF00" stroke="#000" stroke-width="0.95"/>
<circle cx="381.50" cy="598.10" r="1.55" fill="#FFFF00" stroke="#000" stroke-width="0.95"/>
<circle cx="385.00" cy="598.10" r="1.55" fill="#FFFF00" stroke="#000" stroke-width="0.95"/>
<circle cx="388.00" cy="598.10" r="1.55" fill="#FFFF00" stroke="#000" stroke-width="0.95"/>
<circle cx="390.30" cy="598.10" r="1.55" fill="#FFFF00" stroke="#000" stroke-width="0.95"/>
<circle cx="337.90" cy="606.53" r="1.55" fill="#9A32CD" stroke="#000" stroke-width="0.95"/>
<circle cx="339.70" cy="606.53" r="1.55" fill="#9A32CD" stroke="#000" stroke-width="0.95"/>
<circle cx="343.20" cy="606.53" r="1.55" fill="#9A32CD" stroke="#000" stroke-width="0.95"/>
<circle cx="347.80" cy="606.53" r="1.55" fill="#9A32CD" stroke="#000" stroke-width="0.95"/>
<circle cx="361.90" cy="606.53" r="1.55" fill="#9A32CD" stroke="#000" stroke-width="0.95"/>
<circle cx="367.20" cy="606.53" r="1.55" fill="#9A32CD" stroke="#000" stroke-width="0.95"/>
<circle cx="373.70" cy="606.53" r="1.55" fill="#9A32CD" stroke="#000" stroke-width="0.95"/>
<circle cx="378.50" cy="606.53" r="1.55" fill="#9A32CD" stroke="#000" stroke-width="0.95"/>
<circle cx="380.20" cy="606.53" r="1.55" fill="#9A32CD" stroke="#000" stroke-width="0.95"/>
<circle cx="395.40" cy="606.53" r="1.55" fill="#9A32CD" stroke="#000" stroke-width="0.95"/>
<circle cx="399.00" cy="606.53" r="1.55" fill="#9A32CD" stroke="#000" stroke-width="0.95"/>
<circle cx="410.80" cy="606.53" r="1.55" fill="#9A32CD" stroke="#000" stroke-width="0.95"/>
<circle cx="338.00" cy="614.96" r="1.55" fill="#BF3EFF" stroke="#000" stroke-width="0.95"/>
<circle cx="340.50" cy="614.96" r="1.55" fill="#BF3EFF" stroke="#000" stroke-width="0.95"/>
<circle cx="343.80" cy="614.96" r="1.55" fill="#BF3EFF" stroke="#000" stroke-width="0.95"/>
<circle cx="349.00" cy="614.96" r="1.55" fill="#BF3EFF" stroke="#000" stroke-width="0.95"/>
<circle cx="362.30" cy="614.96" r="1.55" fill="#BF3EFF" stroke="#000" stroke-width="0.95"/>
<circle cx="377.80" cy="614.96" r="1.55" fill="#BF3EFF" stroke="#000" stroke-width="0.95"/>
<circle cx="394.90" cy="614.96" r="1.55" fill="#BF3EFF" stroke="#000" stroke-width="0.95"/>
<circle cx="397.50" cy="614.96" r="1.55" fill="#BF3EFF" stroke="#000" stroke-width="0.95"/>
<circle cx="407.80" cy="614.96" r="1.55" fill="#BF3EFF" stroke="#000" stroke-width="0.95"/>
<circle cx="341.10" cy="640.25" r="1.55" fill="#FF8C00" stroke="#000" stroke-width="0.95"/>
<circle cx="363.70" cy="640.25" r="1.55" fill="#FF8C00" stroke="#000" stroke-width="0.95"/>
<rect x="446.99" y="551.65" width="3.2" height="33.89" rx="1.6" fill="#000"/>
<circle cx="448.59" cy="553.35" r="1.1" fill="#8B3E2F"/>
<circle cx="448.59" cy="555.95" r="1.1" fill="#8B3E2F"/>
<circle cx="448.59" cy="558.55" r="1.1" fill="#8B3E2F"/>
<circle cx="448.59" cy="561.78" r="1.1" fill="#EE6A50"/>
<circle cx="448.59" cy="564.38" r="1.1" fill="#EE6A50"/>
<circle cx="448.59" cy="566.98" r="1.1" fill="#EE6A50"/>
<circle cx="448.59" cy="570.21" r="1.1" fill="#FF00FF"/>
<circle cx="448.59" cy="572.81" r="1.1" fill="#FF00FF"/>
<circle cx="448.59" cy="575.41" r="1.1" fill="#FF00FF"/>
<circle cx="448.59" cy="578.64" r="1.1" fill="#5CACEE"/>
<circle cx="448.59" cy="581.24" r="1.1" fill="#5CACEE"/>
<circle cx="448.59" cy="583.84" r="1.1" fill="#5CACEE"/>
<rect x="446.99" y="602.23" width="3.2" height="67.61" rx="1.6" fill="#000"/>
<circle cx="448.59" cy="603.93" r="1.1" fill="#9A32CD"/>
<circle cx="448.59" cy="606.53" r="1.1" fill="#9A32CD"/>
<circle cx="448.59" cy="609.13" r="1.1" fill="#9A32CD"/>
<circle cx="448.59" cy="612.36" r="1.1" fill="#BF3EFF"/>
<circle cx="448.59" cy="614.96" r="1.1" fill="#BF3EFF"/>
<circle cx="448.59" cy="617.56" r="1.1" fill="#BF3EFF"/>
<circle cx="448.59" cy="620.79" r="1.1" fill="#CDCDC1"/>
<circle cx="448.59" cy="623.39" r="1.1" fill="#CDCDC1"/>
<circle cx="448.59" cy="625.99" r="1.1" fill="#CDCDC1"/>
<circle cx="448.59" cy="629.22" r="1.1" fill="#2E8B57"/>
<circle cx="448.59" cy="631.82" r="1.1" fill="#2E8B57"/>
<circle cx="448.59" cy="634.42" r="1.1" fill="#2E8B57"/>
<circle cx="448.59" cy="637.65" r="1.1" fill="#FF8C00"/>
<circle cx="448.59" cy="640.25" r="1.1" fill="#FF8C00"/>
<circle cx="448.59" cy="642.85" r="1.1" fill="#FF8C00"/>
<circle cx="448.59" cy="646.08" r="1.1" fill="#104E8B"/>
<circle cx="448.59" cy="648.68" r="1.1" fill="#104E8B"/>
<circle cx="448.59" cy="651.28" r="1.1" fill="#104E8B"/>
<circle cx="448.59" cy="654.51" r="1.1" fill="#7CCD7C"/>
<circle cx="448.59" cy="657.11" r="1.1" fill="#7CCD7C"/>
<circle cx="448.59" cy="659.71" r="1.1" fill="#7CCD7C"/>
<circle cx="448.59" cy="662.94" r="1.1" fill="#BEBEBE"/>
<circle cx="448.59" cy="665.54" r="1.1" fill="#BEBEBE"/>
<circle cx="448.59" cy="668.14" r="1.1" fill="#BEBEBE"/>
<polygon points="446.35,606.53 446.51,605.35 446.66,604.65 446.82,604.05 446.98,603.56 447.13,603.23 447.29,602.98 447.45,602.80 447.60,602.66 447.76,602.55 447.92,602.46 448.07,602.40 448.23,602.35 448.39,602.32 448.54,602.30 448.70,602.30 448.86,602.31 449.01,602.34 449.17,602.38 449.33,602.43 449.48,602.48 449.64,602.53 449.80,602.59 449.95,602.64 450.11,602.69 450.27,602.75 450.42,602.80 450.58,602.86 450.74,602.92 450.89,602.97 451.05,603.03 451.21,603.09 451.36,603.15 451.52,603.21 451.68,603.27 451.83,603.33 451.99,603.40 452.15,603.46 452.30,603.52 452.46,603.59 452.62,603.66 452.77,603.73 452.93,603.80 453.09,603.87 453.24,603.94 453.40,604.02 453.56,604.10 453.71,604.18 453.87,604.26 454.03,604.35 454.18,604.44 454.34,604.54 454.50,604.64 454.65,604.75 454.81,604.87 454.97,605.00 455.12,605.14 455.28,605.33 455.44,605.55 455.59,605.82 455.75,606.53 455.75,606.53 455.59,607.24 455.44,607.51 455.28,607.73 455.12,607.92 454.97,608.06 454.81,608.19 454.65,608.31 454.50,608.42 454.34,608.52 454.18,608.62 454.03,608.71 453.87,608.80 453.71,608.88 453.56,608.96 453.40,609.04 453.24,609.12 453.09,609.19 452.93,609.26 452.77,609.33 452.62,609.40 452.46,609.47 452.30,609.54 452.15,609.60 451.99,609.66 451.83,609.73 451.68,609.79 451.52,609.85 451.36,609.91 451.21,609.97 451.05,610.03 450.89,610.09 450.74,610.14 450.58,610.20 450.42,610.26 450.27,610.31 450.11,610.37 449.95,610.42 449.80,610.47 449.64,610.53 449.48,610.58 449.33,610.63 449.17,610.68 449.01,610.72 448.86,610.75 448.70,610.76 448.54,610.76 448.39,610.74 448.23,610.71 448.07,610.66 447.92,610.60 447.76,610.51 447.60,610.40 447.45,610.26 447.29,610.08 447.13,609.83 446.98,609.50 446.82,609.01 446.66,608.41 446.51,607.71 446.35,606.53" fill="#000"/>
<circle cx="452.05" cy="605.27" r="1.55" fill="#9A32CD" stroke="#000" stroke-width="0.95"/>
<circle cx="448.60" cy="603.98" r="1.55" fill="#9A32CD" stroke="#000" stroke-width="0.95"/>
<circle cx="454.05" cy="606.53" r="1.55" fill="#9A32CD" stroke="#000" stroke-width="0.95"/>
<circle cx="452.05" cy="607.79" r="1.55" fill="#9A32CD" stroke="#000" stroke-width="0.95"/>
<circle cx="448.60" cy="609.08" r="1.55" fill="#9A32CD" stroke="#000" stroke-width="0.95"/>
<circle cx="450.06" cy="605.88" r="1.55" fill="#9A32CD" stroke="#000" stroke-width="0.95"/>
<circle cx="448.05" cy="606.53" r="1.55" fill="#9A32CD" stroke="#000" stroke-width="0.95"/>
<polygon points="446.35,589.67 446.60,588.79 446.85,588.38 447.10,588.04 447.34,587.78 447.59,587.55 447.84,587.33 448.09,587.13 448.34,586.95 448.59,586.77 448.83,586.59 449.08,586.43 449.33,586.28 449.58,586.12 449.83,585.97 450.08,585.82 450.32,585.68 450.57,585.55 450.82,585.41 451.07,585.33 451.32,585.28 451.56,585.27 451.81,585.30 452.06,585.36 452.31,585.42 452.56,585.48 452.81,585.53 453.06,585.60 453.30,585.66 453.55,585.72 453.80,585.79 454.05,585.85 454.30,585.91 454.55,585.97 454.79,586.04 455.04,586.11 455.29,586.18 455.54,586.25 455.79,586.32 456.04,586.39 456.28,586.46 456.53,586.53 456.78,586.61 457.03,586.69 457.28,586.77 457.53,586.85 457.77,586.93 458.02,587.02 458.27,587.11 458.52,587.20 458.77,587.29 459.02,587.39 459.26,587.51 459.51,587.62 459.76,587.74 460.01,587.88 460.26,588.03 460.50,588.25 460.75,588.47 461.00,588.79 461.25,589.67 461.25,589.67 461.00,590.55 460.75,590.87 460.50,591.09 460.26,591.31 460.01,591.46 459.76,591.60 459.51,591.72 459.26,591.83 459.02,591.95 458.77,592.05 458.52,592.14 458.27,592.23 458.02,592.32 457.77,592.41 457.53,592.49 457.28,592.57 457.03,592.65 456.78,592.73 456.53,592.81 456.28,592.88 456.04,592.95 455.79,593.02 455.54,593.09 455.29,593.16 455.04,593.23 454.79,593.30 454.55,593.37 454.30,593.43 454.05,593.49 453.80,593.55 453.55,593.62 453.30,593.68 453.06,593.74 452.81,593.81 452.56,593.86 452.31,593.92 452.06,593.98 451.81,594.04 451.56,594.07 451.32,594.06 451.07,594.01 450.82,593.93 450.57,593.79 450.32,593.66 450.08,593.52 449.83,593.37 449.58,593.22 449.33,593.06 449.08,592.91 448.83,592.75 448.59,592.57 448.34,592.39 448.09,592.21 447.84,592.01 447.59,591.79 447.34,591.56 447.10,591.30 446.85,590.96 446.60,590.55 446.35,589.67" fill="#000"/>
<circle cx="450.79" cy="590.14" r="1.55" fill="#CDCD00" stroke="#000" stroke-width="0.95"/>
<circle cx="449.61" cy="588.26" r="1.55" fill="#CDCD00" stroke="#000" stroke-width="0.95"/>
<circle cx="451.50" cy="586.97" r="1.55" fill="#CDCD00" stroke="#000" stroke-width="0.95"/>
<circle cx="459.55" cy="589.67" r="1.55" fill="#CDCD00" stroke="#000" stroke-width="0.95"/>
<circle cx="448.05" cy="589.67" r="1.55" fill="#CDCD00" stroke="#000" stroke-width="0.95"/>
<circle cx="457.25" cy="590.79" r="1.55" fill="#CDCD00" stroke="#000" stroke-width="0.95"/>
<circle cx="454.95" cy="587.85" r="1.55" fill="#CDCD00" stroke="#000" stroke-width="0.95"/>
<circle cx="454.95" cy="591.49" r="1.55" fill="#CDCD00" stroke="#000" stroke-width="0.95"/>
<circle cx="451.50" cy="592.37" r="1.55" fill="#CDCD00" stroke="#000" stroke-width="0.95"/>
<circle cx="457.25" cy="588.55" r="1.55" fill="#CDCD00" stroke="#000" stroke-width="0.95"/>
<circle cx="453.72" cy="589.72" r="1.55" fill="#CDCD00" stroke="#000" stroke-width="0.95"/>
<polygon points="467.05,598.10 467.44,597.02 467.82,596.67 468.21,596.42 468.60,596.20 468.98,596.04 469.37,595.90 469.76,595.75 470.14,595.63 470.53,595.53 470.92,595.41 471.30,595.29 471.69,595.19 472.08,595.10 472.46,595.00 472.85,594.90 473.24,594.80 473.62,594.72 474.01,594.64 474.40,594.54 474.78,594.45 475.17,594.38 475.56,594.30 475.94,594.21 476.33,594.13 476.72,594.05 477.10,593.99 477.49,593.90 477.88,593.82 478.26,593.75 478.65,593.68 479.04,593.61 479.42,593.53 479.81,593.51 480.20,593.48 480.58,593.54 480.97,593.64 481.36,593.74 481.74,593.84 482.13,593.93 482.52,594.03 482.90,594.14 483.29,594.26 483.68,594.35 484.06,594.45 484.45,594.57 484.84,594.70 485.22,594.80 485.61,594.92 486.00,595.04 486.38,595.19 486.77,595.31 487.16,595.44 487.54,595.60 487.93,595.77 488.32,595.93 488.70,596.13 489.09,596.35 489.48,596.67 489.86,597.02 490.25,598.10 490.25,598.10 489.86,599.18 489.48,599.53 489.09,599.85 488.70,600.07 488.32,600.27 487.93,600.43 487.54,600.60 487.16,600.76 486.77,600.89 486.38,601.01 486.00,601.16 485.61,601.28 485.22,601.40 484.84,601.50 484.45,601.63 484.06,601.75 483.68,601.85 483.29,601.94 482.90,602.06 482.52,602.17 482.13,602.27 481.74,602.36 481.36,602.46 480.97,602.56 480.58,602.66 480.20,602.72 479.81,602.69 479.42,602.67 479.04,602.59 478.65,602.52 478.26,602.45 477.88,602.38 477.49,602.30 477.10,602.21 476.72,602.15 476.33,602.07 475.94,601.99 475.56,601.90 475.17,601.82 474.78,601.75 474.40,601.66 474.01,601.56 473.62,601.48 473.24,601.40 472.85,601.30 472.46,601.20 472.08,601.10 471.69,601.01 471.30,600.91 470.92,600.79 470.53,600.67 470.14,600.57 469.76,600.45 469.37,600.30 468.98,600.16 468.60,600.00 468.21,599.78 467.82,599.53 467.44,599.18 467.05,598.10" fill="#000"/>
<circle cx="470.95" cy="599.04" r="1.55" fill="#FFFF00" stroke="#000" stroke-width="0.95"/>
<circle cx="479.92" cy="598.63" r="1.55" fill="#FFFF00" stroke="#000" stroke-width="0.95"/>
<circle cx="477.13" cy="597.86" r="1.55" fill="#FFFF00" stroke="#000" stroke-width="0.95"/>
<circle cx="488.55" cy="598.10" r="1.55" fill="#FFFF00" stroke="#000" stroke-width="0.95"/>
<circle cx="474.65" cy="598.01" r="1.55" fill="#FFFF00" stroke="#000" stroke-width="0.95"/>
<circle cx="480.00" cy="601.05" r="1.55" fill="#FFFF00" stroke="#000" stroke-width="0.95"/>
<circle cx="477.55" cy="600.58" r="1.55" fill="#FFFF00" stroke="#000" stroke-width="0.95"/>
<circle cx="484.15" cy="596.25" r="1.55" fill="#FFFF00" stroke="#000" stroke-width="0.95"/>
<circle cx="477.55" cy="595.62" r="1.55" fill="#FFFF00" stroke="#000" stroke-width="0.95"/>
<circle cx="480.00" cy="595.15" r="1.55" fill="#FFFF00" stroke="#000" stroke-width="0.95"/>
<circle cx="475.35" cy="600.13" r="1.55" fill="#FFFF00" stroke="#000" stroke-width="0.95"/>
<circle cx="482.12" cy="595.77" r="1.55" fill="#FFFF00" stroke="#000" stroke-width="0.95"/>
<circle cx="473.15" cy="596.57" r="1.55" fill="#FFFF00" stroke="#000" stroke-width="0.95"/>
<circle cx="486.35" cy="599.24" r="1.55" fill="#FFFF00" stroke="#000" stroke-width="0.95"/>
<circle cx="482.11" cy="598.56" r="1.55" fill="#FFFF00" stroke="#000" stroke-width="0.95"/>
<circle cx="468.75" cy="598.10" r="1.55" fill="#FFFF00" stroke="#000" stroke-width="0.95"/>
<circle cx="473.15" cy="599.63" r="1.55" fill="#FFFF00" stroke="#000" stroke-width="0.95"/>
<circle cx="486.35" cy="596.96" r="1.55" fill="#FFFF00" stroke="#000" stroke-width="0.95"/>
<circle cx="475.35" cy="596.07" r="1.55" fill="#FFFF00" stroke="#000" stroke-width="0.95"/>
<circle cx="484.15" cy="599.95" r="1.55" fill="#FFFF00" stroke="#000" stroke-width="0.95"/>
<circle cx="450.90" cy="564.38" r="1.55" fill="#EE6A50" stroke="#000" stroke-width="0.95"/>
<circle cx="461.50" cy="589.67" r="1.55" fill="#CDCD00" stroke="#000" stroke-width="0.95"/>
<circle cx="463.70" cy="589.67" r="1.55" fill="#CDCD00" stroke="#000" stroke-width="0.95"/>
<circle cx="466.00" cy="589.67" r="1.55" fill="#CDCD00" stroke="#000" stroke-width="0.95"/>
<circle cx="470.00" cy="589.67" r="1.55" fill="#CDCD00" stroke="#000" stroke-width="0.95"/>
<circle cx="472.40" cy="589.67" r="1.55" fill="#CDCD00" stroke="#000" stroke-width="0.95"/>
<circle cx="490.50" cy="598.10" r="1.55" fill="#FFFF00" stroke="#000" stroke-width="0.95"/>
<circle cx="492.80" cy="598.10" r="1.55" fill="#FFFF00" stroke="#000" stroke-width="0.95"/>
<circle cx="495.10" cy="598.10" r="1.55" fill="#FFFF00" stroke="#000" stroke-width="0.95"/>
<circle cx="497.40" cy="598.10" r="1.55" fill="#FFFF00" stroke="#000" stroke-width="0.95"/>
<circle cx="451.50" cy="606.53" r="1.55" fill="#9A32CD" stroke="#000" stroke-width="0.95"/>
<circle cx="453.80" cy="606.53" r="1.55" fill="#9A32CD" stroke="#000" stroke-width="0.95"/>
<circle cx="466.80" cy="606.53" r="1.55" fill="#9A32CD" stroke="#000" stroke-width="0.95"/>
<circle cx="476.20" cy="606.53" r="1.55" fill="#9A32CD" stroke="#000" stroke-width="0.95"/>
<circle cx="480.20" cy="614.96" r="1.55" fill="#BF3EFF" stroke="#000" stroke-width="0.95"/>
<circle cx="451.00" cy="640.25" r="1.55" fill="#FF8C00" stroke="#000" stroke-width="0.95"/>
<rect x="103.55" y="398.55" width="107.67" height="120.10" fill="none" stroke="#333" stroke-width="0.8"/>
<rect x="216.93" y="398.55" width="107.67" height="120.10" fill="none" stroke="#333" stroke-width="0.8"/>
<rect x="330.31" y="398.55" width="107.67" height="120.10" fill="none" stroke="#333" stroke-width="0.8"/>
<rect x="443.69" y="398.55" width="107.67" height="120.10" fill="none" stroke="#333" stroke-width="0.8"/>
<line x1="100.80" y1="404.20" x2="103.55" y2="404.20" stroke="#333" stroke-width="0.8"/>
<text x="98.45" y="407.40" text-anchor="end" font-size="8.8" fill="#3D3D3D" stroke="#3D3D3D" stroke-width="0.12">ALDEx2</text>
<line x1="100.80" y1="412.63" x2="103.55" y2="412.63" stroke="#333" stroke-width="0.8"/>
<text x="98.45" y="415.83" text-anchor="end" font-size="8.8" fill="#3D3D3D" stroke="#3D3D3D" stroke-width="0.12">ANCOM−II</text>
<line x1="100.80" y1="421.06" x2="103.55" y2="421.06" stroke="#333" stroke-width="0.8"/>
<text x="98.45" y="424.26" text-anchor="end" font-size="8.8" fill="#3D3D3D" stroke="#3D3D3D" stroke-width="0.12">corncob</text>
<line x1="100.80" y1="429.49" x2="103.55" y2="429.49" stroke="#333" stroke-width="0.8"/>
<text x="98.45" y="432.69" text-anchor="end" font-size="8.8" fill="#3D3D3D" stroke="#3D3D3D" stroke-width="0.12">DESeq2</text>
<line x1="100.80" y1="437.92" x2="103.55" y2="437.92" stroke="#333" stroke-width="0.8"/>
<text x="98.45" y="441.12" text-anchor="end" font-size="8.8" fill="#3D3D3D" stroke="#3D3D3D" stroke-width="0.12">edgeR</text>
<line x1="100.80" y1="446.35" x2="103.55" y2="446.35" stroke="#333" stroke-width="0.8"/>
<text x="98.45" y="449.55" text-anchor="end" font-size="8.8" fill="#3D3D3D" stroke="#3D3D3D" stroke-width="0.12">LEfSe</text>
<line x1="100.80" y1="454.78" x2="103.55" y2="454.78" stroke="#333" stroke-width="0.8"/>
<text x="98.45" y="457.98" text-anchor="end" font-size="8.8" fill="#3D3D3D" stroke="#3D3D3D" stroke-width="0.12">limma voom (TMM)</text>
<line x1="100.80" y1="463.21" x2="103.55" y2="463.21" stroke="#333" stroke-width="0.8"/>
<text x="98.45" y="466.41" text-anchor="end" font-size="8.8" fill="#3D3D3D" stroke="#3D3D3D" stroke-width="0.12">limma voom (TMMwsp)</text>
<line x1="100.80" y1="471.64" x2="103.55" y2="471.64" stroke="#333" stroke-width="0.8"/>
<text x="98.45" y="474.84" text-anchor="end" font-size="8.8" fill="#3D3D3D" stroke="#3D3D3D" stroke-width="0.12">MaAsLin2</text>
<line x1="100.80" y1="480.07" x2="103.55" y2="480.07" stroke="#333" stroke-width="0.8"/>
<text x="98.45" y="483.27" text-anchor="end" font-size="8.8" fill="#3D3D3D" stroke="#3D3D3D" stroke-width="0.12">MaAsLin2 (rare)</text>
<line x1="100.80" y1="488.50" x2="103.55" y2="488.50" stroke="#333" stroke-width="0.8"/>
<text x="98.45" y="491.70" text-anchor="end" font-size="8.8" fill="#3D3D3D" stroke="#3D3D3D" stroke-width="0.12">metagenomeSeq</text>
<line x1="100.80" y1="496.93" x2="103.55" y2="496.93" stroke="#333" stroke-width="0.8"/>
<text x="98.45" y="500.13" text-anchor="end" font-size="8.8" fill="#3D3D3D" stroke="#3D3D3D" stroke-width="0.12">t−test (rare)</text>
<line x1="100.80" y1="505.36" x2="103.55" y2="505.36" stroke="#333" stroke-width="0.8"/>
<text x="98.45" y="508.56" text-anchor="end" font-size="8.8" fill="#3D3D3D" stroke="#3D3D3D" stroke-width="0.12">Wilcoxon (CLR)</text>
<line x1="100.80" y1="513.79" x2="103.55" y2="513.79" stroke="#333" stroke-width="0.8"/>
<text x="98.45" y="516.99" text-anchor="end" font-size="8.8" fill="#3D3D3D" stroke="#3D3D3D" stroke-width="0.12">Wilcoxon (rare)</text>
<rect x="103.55" y="550.40" width="107.67" height="120.15" fill="none" stroke="#333" stroke-width="0.8"/>
<rect x="216.93" y="550.40" width="107.67" height="120.15" fill="none" stroke="#333" stroke-width="0.8"/>
<rect x="330.31" y="550.40" width="107.67" height="120.15" fill="none" stroke="#333" stroke-width="0.8"/>
<rect x="443.69" y="550.40" width="107.67" height="120.15" fill="none" stroke="#333" stroke-width="0.8"/>
<line x1="100.80" y1="555.95" x2="103.55" y2="555.95" stroke="#333" stroke-width="0.8"/>
<text x="98.45" y="559.15" text-anchor="end" font-size="8.8" fill="#3D3D3D" stroke="#3D3D3D" stroke-width="0.12">ALDEx2</text>
<line x1="100.80" y1="564.38" x2="103.55" y2="564.38" stroke="#333" stroke-width="0.8"/>
<text x="98.45" y="567.58" text-anchor="end" font-size="8.8" fill="#3D3D3D" stroke="#3D3D3D" stroke-width="0.12">ANCOM−II</text>
<line x1="100.80" y1="572.81" x2="103.55" y2="572.81" stroke="#333" stroke-width="0.8"/>
<text x="98.45" y="576.01" text-anchor="end" font-size="8.8" fill="#3D3D3D" stroke="#3D3D3D" stroke-width="0.12">corncob</text>
<line x1="100.80" y1="581.24" x2="103.55" y2="581.24" stroke="#333" stroke-width="0.8"/>
<text x="98.45" y="584.44" text-anchor="end" font-size="8.8" fill="#3D3D3D" stroke="#3D3D3D" stroke-width="0.12">DESeq2</text>
<line x1="100.80" y1="589.67" x2="103.55" y2="589.67" stroke="#333" stroke-width="0.8"/>
<text x="98.45" y="592.87" text-anchor="end" font-size="8.8" fill="#3D3D3D" stroke="#3D3D3D" stroke-width="0.12">edgeR</text>
<line x1="100.80" y1="598.10" x2="103.55" y2="598.10" stroke="#333" stroke-width="0.8"/>
<text x="98.45" y="601.30" text-anchor="end" font-size="8.8" fill="#3D3D3D" stroke="#3D3D3D" stroke-width="0.12">LEfSe</text>
<line x1="100.80" y1="606.53" x2="103.55" y2="606.53" stroke="#333" stroke-width="0.8"/>
<text x="98.45" y="609.73" text-anchor="end" font-size="8.8" fill="#3D3D3D" stroke="#3D3D3D" stroke-width="0.12">limma voom (TMM)</text>
<line x1="100.80" y1="614.96" x2="103.55" y2="614.96" stroke="#333" stroke-width="0.8"/>
<text x="98.45" y="618.16" text-anchor="end" font-size="8.8" fill="#3D3D3D" stroke="#3D3D3D" stroke-width="0.12">limma voom (TMMwsp)</text>
<line x1="100.80" y1="623.39" x2="103.55" y2="623.39" stroke="#333" stroke-width="0.8"/>
<text x="98.45" y="626.59" text-anchor="end" font-size="8.8" fill="#3D3D3D" stroke="#3D3D3D" stroke-width="0.12">MaAsLin2</text>
<line x1="100.80" y1="631.82" x2="103.55" y2="631.82" stroke="#333" stroke-width="0.8"/>
<text x="98.45" y="635.02" text-anchor="end" font-size="8.8" fill="#3D3D3D" stroke="#3D3D3D" stroke-width="0.12">MaAsLin2 (rare)</text>
<line x1="100.80" y1="640.25" x2="103.55" y2="640.25" stroke="#333" stroke-width="0.8"/>
<text x="98.45" y="643.45" text-anchor="end" font-size="8.8" fill="#3D3D3D" stroke="#3D3D3D" stroke-width="0.12">metagenomeSeq</text>
<line x1="100.80" y1="648.68" x2="103.55" y2="648.68" stroke="#333" stroke-width="0.8"/>
<text x="98.45" y="651.88" text-anchor="end" font-size="8.8" fill="#3D3D3D" stroke="#3D3D3D" stroke-width="0.12">t−test (rare)</text>
<line x1="100.80" y1="657.11" x2="103.55" y2="657.11" stroke="#333" stroke-width="0.8"/>
<text x="98.45" y="660.31" text-anchor="end" font-size="8.8" fill="#3D3D3D" stroke="#3D3D3D" stroke-width="0.12">Wilcoxon (CLR)</text>
<line x1="100.80" y1="665.54" x2="103.55" y2="665.54" stroke="#333" stroke-width="0.8"/>
<text x="98.45" y="668.74" text-anchor="end" font-size="8.8" fill="#3D3D3D" stroke="#3D3D3D" stroke-width="0.12">Wilcoxon (rare)</text>
<line x1="108.45" y1="670.55" x2="108.45" y2="673.30" stroke="#333" stroke-width="0.8"/>
<text x="108.45" y="682.05" text-anchor="middle" font-size="8.8" fill="#3D3D3D" stroke="#3D3D3D" stroke-width="0.12">0</text>
<line x1="118.68" y1="670.55" x2="118.68" y2="673.30" stroke="#333" stroke-width="0.8"/>
<text x="118.68" y="682.05" text-anchor="middle" font-size="8.8" fill="#3D3D3D" stroke="#3D3D3D" stroke-width="0.12">1</text>
<line x1="127.18" y1="670.55" x2="127.18" y2="673.30" stroke="#333" stroke-width="0.8"/>
<text x="127.18" y="682.05" text-anchor="middle" font-size="8.8" fill="#3D3D3D" stroke="#3D3D3D" stroke-width="0.12">2</text>
<line x1="143.45" y1="670.55" x2="143.45" y2="673.30" stroke="#333" stroke-width="0.8"/>
<text x="143.45" y="682.05" text-anchor="middle" font-size="8.8" fill="#3D3D3D" stroke="#3D3D3D" stroke-width="0.12">5</text>
<line x1="157.59" y1="670.55" x2="157.59" y2="673.30" stroke="#333" stroke-width="0.8"/>
<text x="157.59" y="682.05" text-anchor="middle" font-size="8.8" fill="#3D3D3D" stroke="#3D3D3D" stroke-width="0.12">10</text>
<line x1="180.75" y1="670.55" x2="180.75" y2="673.30" stroke="#333" stroke-width="0.8"/>
<text x="180.75" y="682.05" text-anchor="middle" font-size="8.8" fill="#3D3D3D" stroke="#3D3D3D" stroke-width="0.12">30</text>
<line x1="206.31" y1="670.55" x2="206.31" y2="673.30" stroke="#333" stroke-width="0.8"/>
<text x="206.31" y="682.05" text-anchor="middle" font-size="8.8" fill="#3D3D3D" stroke="#3D3D3D" stroke-width="0.12">100</text>
<line x1="221.83" y1="670.55" x2="221.83" y2="673.30" stroke="#333" stroke-width="0.8"/>
<text x="221.83" y="682.05" text-anchor="middle" font-size="8.8" fill="#3D3D3D" stroke="#3D3D3D" stroke-width="0.12">0</text>
<line x1="232.06" y1="670.55" x2="232.06" y2="673.30" stroke="#333" stroke-width="0.8"/>
<text x="232.06" y="682.05" text-anchor="middle" font-size="8.8" fill="#3D3D3D" stroke="#3D3D3D" stroke-width="0.12">1</text>
<line x1="240.56" y1="670.55" x2="240.56" y2="673.30" stroke="#333" stroke-width="0.8"/>
<text x="240.56" y="682.05" text-anchor="middle" font-size="8.8" fill="#3D3D3D" stroke="#3D3D3D" stroke-width="0.12">2</text>
<line x1="256.83" y1="670.55" x2="256.83" y2="673.30" stroke="#333" stroke-width="0.8"/>
<text x="256.83" y="682.05" text-anchor="middle" font-size="8.8" fill="#3D3D3D" stroke="#3D3D3D" stroke-width="0.12">5</text>
<line x1="270.97" y1="670.55" x2="270.97" y2="673.30" stroke="#333" stroke-width="0.8"/>
<text x="270.97" y="682.05" text-anchor="middle" font-size="8.8" fill="#3D3D3D" stroke="#3D3D3D" stroke-width="0.12">10</text>
<line x1="294.13" y1="670.55" x2="294.13" y2="673.30" stroke="#333" stroke-width="0.8"/>
<text x="294.13" y="682.05" text-anchor="middle" font-size="8.8" fill="#3D3D3D" stroke="#3D3D3D" stroke-width="0.12">30</text>
<line x1="319.69" y1="670.55" x2="319.69" y2="673.30" stroke="#333" stroke-width="0.8"/>
<text x="319.69" y="682.05" text-anchor="middle" font-size="8.8" fill="#3D3D3D" stroke="#3D3D3D" stroke-width="0.12">100</text>
<line x1="335.21" y1="670.55" x2="335.21" y2="673.30" stroke="#333" stroke-width="0.8"/>
<text x="335.21" y="682.05" text-anchor="middle" font-size="8.8" fill="#3D3D3D" stroke="#3D3D3D" stroke-width="0.12">0</text>
<line x1="345.44" y1="670.55" x2="345.44" y2="673.30" stroke="#333" stroke-width="0.8"/>
<text x="345.44" y="682.05" text-anchor="middle" font-size="8.8" fill="#3D3D3D" stroke="#3D3D3D" stroke-width="0.12">1</text>
<line x1="353.94" y1="670.55" x2="353.94" y2="673.30" stroke="#333" stroke-width="0.8"/>
<text x="353.94" y="682.05" text-anchor="middle" font-size="8.8" fill="#3D3D3D" stroke="#3D3D3D" stroke-width="0.12">2</text>
<line x1="370.21" y1="670.55" x2="370.21" y2="673.30" stroke="#333" stroke-width="0.8"/>
<text x="370.21" y="682.05" text-anchor="middle" font-size="8.8" fill="#3D3D3D" stroke="#3D3D3D" stroke-width="0.12">5</text>
<line x1="384.35" y1="670.55" x2="384.35" y2="673.30" stroke="#333" stroke-width="0.8"/>
<text x="384.35" y="682.05" text-anchor="middle" font-size="8.8" fill="#3D3D3D" stroke="#3D3D3D" stroke-width="0.12">10</text>
<line x1="407.51" y1="670.55" x2="407.51" y2="673.30" stroke="#333" stroke-width="0.8"/>
<text x="407.51" y="682.05" text-anchor="middle" font-size="8.8" fill="#3D3D3D" stroke="#3D3D3D" stroke-width="0.12">30</text>
<line x1="433.07" y1="670.55" x2="433.07" y2="673.30" stroke="#333" stroke-width="0.8"/>
<text x="433.07" y="682.05" text-anchor="middle" font-size="8.8" fill="#3D3D3D" stroke="#3D3D3D" stroke-width="0.12">100</text>
<line x1="448.59" y1="670.55" x2="448.59" y2="673.30" stroke="#333" stroke-width="0.8"/>
<text x="448.59" y="682.05" text-anchor="middle" font-size="8.8" fill="#3D3D3D" stroke="#3D3D3D" stroke-width="0.12">0</text>
<line x1="458.82" y1="670.55" x2="458.82" y2="673.30" stroke="#333" stroke-width="0.8"/>
<text x="458.82" y="682.05" text-anchor="middle" font-size="8.8" fill="#3D3D3D" stroke="#3D3D3D" stroke-width="0.12">1</text>
<line x1="467.32" y1="670.55" x2="467.32" y2="673.30" stroke="#333" stroke-width="0.8"/>
<text x="467.32" y="682.05" text-anchor="middle" font-size="8.8" fill="#3D3D3D" stroke="#3D3D3D" stroke-width="0.12">2</text>
<line x1="483.59" y1="670.55" x2="483.59" y2="673.30" stroke="#333" stroke-width="0.8"/>
<text x="483.59" y="682.05" text-anchor="middle" font-size="8.8" fill="#3D3D3D" stroke="#3D3D3D" stroke-width="0.12">5</text>
<line x1="497.73" y1="670.55" x2="497.73" y2="673.30" stroke="#333" stroke-width="0.8"/>
<text x="497.73" y="682.05" text-anchor="middle" font-size="8.8" fill="#3D3D3D" stroke="#3D3D3D" stroke-width="0.12">10</text>
<line x1="520.89" y1="670.55" x2="520.89" y2="673.30" stroke="#333" stroke-width="0.8"/>
<text x="520.89" y="682.05" text-anchor="middle" font-size="8.8" fill="#3D3D3D" stroke="#3D3D3D" stroke-width="0.12">30</text>
<line x1="546.45" y1="670.55" x2="546.45" y2="673.30" stroke="#333" stroke-width="0.8"/>
<text x="546.45" y="682.05" text-anchor="middle" font-size="8.8" fill="#3D3D3D" stroke="#3D3D3D" stroke-width="0.12">100</text>
<text x="327.45" y="694.85" text-anchor="middle" font-size="10.85" fill="#000" stroke="#000" stroke-width="0.12">Percent significant after multiple−test correction (log<tspan font-size="7.6" dy="1.6">10</tspan><tspan dy="-1.6">−scale)</tspan></text>
<text x="571.0" y="231.9" font-size="10.85" fill="#000" stroke="#000" stroke-width="0.12">Tool</text>
<line x1="579.3" y1="239.65" x2="579.3" y2="242.55" stroke="#333" stroke-width="1.07"/>
<line x1="579.3" y1="251.15" x2="579.3" y2="254.05" stroke="#333" stroke-width="1.07"/>
<rect x="572.82" y="242.53" width="12.96" height="8.64" fill="#8B3E2F" stroke="#333" stroke-width="1.07"/>
<line x1="572.82" y1="246.85" x2="585.78" y2="246.85" stroke="#333" stroke-width="1.07"/>
<circle cx="579.3" cy="246.85" r="1.4" fill="#8B3E2F" stroke="#000" stroke-width="0.7"/>
<text x="593.3" y="250.05" font-size="8.8" fill="#000" stroke="#000" stroke-width="0.12">ALDEx2</text>
<line x1="579.3" y1="256.69" x2="579.3" y2="259.59" stroke="#333" stroke-width="1.07"/>
<line x1="579.3" y1="268.19" x2="579.3" y2="271.09" stroke="#333" stroke-width="1.07"/>
<rect x="572.82" y="259.57" width="12.96" height="8.64" fill="#EE6A50" stroke="#333" stroke-width="1.07"/>
<line x1="572.82" y1="263.89" x2="585.78" y2="263.89" stroke="#333" stroke-width="1.07"/>
<circle cx="579.3" cy="263.89" r="1.4" fill="#EE6A50" stroke="#000" stroke-width="0.7"/>
<text x="593.3" y="267.09" font-size="8.8" fill="#000" stroke="#000" stroke-width="0.12">ANCOM−II</text>
<line x1="579.3" y1="273.73" x2="579.3" y2="276.63" stroke="#333" stroke-width="1.07"/>
<line x1="579.3" y1="285.23" x2="579.3" y2="288.13" stroke="#333" stroke-width="1.07"/>
<rect x="572.82" y="276.61" width="12.96" height="8.64" fill="#FF00FF" stroke="#333" stroke-width="1.07"/>
<line x1="572.82" y1="280.93" x2="585.78" y2="280.93" stroke="#333" stroke-width="1.07"/>
<circle cx="579.3" cy="280.93" r="1.4" fill="#FF00FF" stroke="#000" stroke-width="0.7"/>
<text x="593.3" y="284.13" font-size="8.8" fill="#000" stroke="#000" stroke-width="0.12">corncob</text>
<line x1="579.3" y1="290.77" x2="579.3" y2="293.67" stroke="#333" stroke-width="1.07"/>
<line x1="579.3" y1="302.27" x2="579.3" y2="305.17" stroke="#333" stroke-width="1.07"/>
<rect x="572.82" y="293.65" width="12.96" height="8.64" fill="#5CACEE" stroke="#333" stroke-width="1.07"/>
<line x1="572.82" y1="297.97" x2="585.78" y2="297.97" stroke="#333" stroke-width="1.07"/>
<circle cx="579.3" cy="297.97" r="1.4" fill="#5CACEE" stroke="#000" stroke-width="0.7"/>
<text x="593.3" y="301.17" font-size="8.8" fill="#000" stroke="#000" stroke-width="0.12">DESeq2</text>
<line x1="579.3" y1="307.81" x2="579.3" y2="310.71" stroke="#333" stroke-width="1.07"/>
<line x1="579.3" y1="319.31" x2="579.3" y2="322.21" stroke="#333" stroke-width="1.07"/>
<rect x="572.82" y="310.69" width="12.96" height="8.64" fill="#CDCD00" stroke="#333" stroke-width="1.07"/>
<line x1="572.82" y1="315.01" x2="585.78" y2="315.01" stroke="#333" stroke-width="1.07"/>
<circle cx="579.3" cy="315.01" r="1.4" fill="#CDCD00" stroke="#000" stroke-width="0.7"/>
<text x="593.3" y="318.21" font-size="8.8" fill="#000" stroke="#000" stroke-width="0.12">edgeR</text>
<line x1="579.3" y1="324.85" x2="579.3" y2="327.75" stroke="#333" stroke-width="1.07"/>
<line x1="579.3" y1="336.35" x2="579.3" y2="339.25" stroke="#333" stroke-width="1.07"/>
<rect x="572.82" y="327.73" width="12.96" height="8.64" fill="#FFFF00" stroke="#333" stroke-width="1.07"/>
<line x1="572.82" y1="332.05" x2="585.78" y2="332.05" stroke="#333" stroke-width="1.07"/>
<circle cx="579.3" cy="332.05" r="1.4" fill="#FFFF00" stroke="#000" stroke-width="0.7"/>
<text x="593.3" y="335.25" font-size="8.8" fill="#000" stroke="#000" stroke-width="0.12">LEfSe</text>
<line x1="579.3" y1="341.89" x2="579.3" y2="344.79" stroke="#333" stroke-width="1.07"/>
<line x1="579.3" y1="353.39" x2="579.3" y2="356.29" stroke="#333" stroke-width="1.07"/>
<rect x="572.82" y="344.77" width="12.96" height="8.64" fill="#9A32CD" stroke="#333" stroke-width="1.07"/>
<line x1="572.82" y1="349.09" x2="585.78" y2="349.09" stroke="#333" stroke-width="1.07"/>
<circle cx="579.3" cy="349.09" r="1.4" fill="#9A32CD" stroke="#000" stroke-width="0.7"/>
<text x="593.3" y="352.29" font-size="8.8" fill="#000" stroke="#000" stroke-width="0.12">limma voom (TMM)</text>
<line x1="579.3" y1="358.93" x2="579.3" y2="361.83" stroke="#333" stroke-width="1.07"/>
<line x1="579.3" y1="370.43" x2="579.3" y2="373.33" stroke="#333" stroke-width="1.07"/>
<rect x="572.82" y="361.81" width="12.96" height="8.64" fill="#BF3EFF" stroke="#333" stroke-width="1.07"/>
<line x1="572.82" y1="366.13" x2="585.78" y2="366.13" stroke="#333" stroke-width="1.07"/>
<circle cx="579.3" cy="366.13" r="1.4" fill="#BF3EFF" stroke="#000" stroke-width="0.7"/>
<text x="593.3" y="369.33" font-size="8.8" fill="#000" stroke="#000" stroke-width="0.12">limma voom (TMMwsp)</text>
<line x1="579.3" y1="375.97" x2="579.3" y2="378.87" stroke="#333" stroke-width="1.07"/>
<line x1="579.3" y1="387.47" x2="579.3" y2="390.37" stroke="#333" stroke-width="1.07"/>
<rect x="572.82" y="378.85" width="12.96" height="8.64" fill="#CDCDC1" stroke="#333" stroke-width="1.07"/>
<line x1="572.82" y1="383.17" x2="585.78" y2="383.17" stroke="#333" stroke-width="1.07"/>
<circle cx="579.3" cy="383.17" r="1.4" fill="#CDCDC1" stroke="#000" stroke-width="0.7"/>
<text x="593.3" y="386.37" font-size="8.8" fill="#000" stroke="#000" stroke-width="0.12">MaAsLin2</text>
<line x1="579.3" y1="393.01" x2="579.3" y2="395.91" stroke="#333" stroke-width="1.07"/>
<line x1="579.3" y1="404.51" x2="579.3" y2="407.41" stroke="#333" stroke-width="1.07"/>
<rect x="572.82" y="395.89" width="12.96" height="8.64" fill="#2E8B57" stroke="#333" stroke-width="1.07"/>
<line x1="572.82" y1="400.21" x2="585.78" y2="400.21" stroke="#333" stroke-width="1.07"/>
<circle cx="579.3" cy="400.21" r="1.4" fill="#2E8B57" stroke="#000" stroke-width="0.7"/>
<text x="593.3" y="403.41" font-size="8.8" fill="#000" stroke="#000" stroke-width="0.12">MaAsLin2 (rare)</text>
<line x1="579.3" y1="410.05" x2="579.3" y2="412.95" stroke="#333" stroke-width="1.07"/>
<line x1="579.3" y1="421.55" x2="579.3" y2="424.45" stroke="#333" stroke-width="1.07"/>
<rect x="572.82" y="412.93" width="12.96" height="8.64" fill="#FF8C00" stroke="#333" stroke-width="1.07"/>
<line x1="572.82" y1="417.25" x2="585.78" y2="417.25" stroke="#333" stroke-width="1.07"/>
<circle cx="579.3" cy="417.25" r="1.4" fill="#FF8C00" stroke="#000" stroke-width="0.7"/>
<text x="593.3" y="420.45" font-size="8.8" fill="#000" stroke="#000" stroke-width="0.12">metagenomeSeq</text>
<line x1="579.3" y1="427.09" x2="579.3" y2="429.99" stroke="#333" stroke-width="1.07"/>
<line x1="579.3" y1="438.59" x2="579.3" y2="441.49" stroke="#333" stroke-width="1.07"/>
<rect x="572.82" y="429.97" width="12.96" height="8.64" fill="#104E8B" stroke="#333" stroke-width="1.07"/>
<line x1="572.82" y1="434.29" x2="585.78" y2="434.29" stroke="#333" stroke-width="1.07"/>
<circle cx="579.3" cy="434.29" r="1.4" fill="#104E8B" stroke="#000" stroke-width="0.7"/>
<text x="593.3" y="437.49" font-size="8.8" fill="#000" stroke="#000" stroke-width="0.12">t−test (rare)</text>
<line x1="579.3" y1="444.13" x2="579.3" y2="447.03" stroke="#333" stroke-width="1.07"/>
<line x1="579.3" y1="455.63" x2="579.3" y2="458.53" stroke="#333" stroke-width="1.07"/>
<rect x="572.82" y="447.01" width="12.96" height="8.64" fill="#7CCD7C" stroke="#333" stroke-width="1.07"/>
<line x1="572.82" y1="451.33" x2="585.78" y2="451.33" stroke="#333" stroke-width="1.07"/>
<circle cx="579.3" cy="451.33" r="1.4" fill="#7CCD7C" stroke="#000" stroke-width="0.7"/>
<text x="593.3" y="454.53" font-size="8.8" fill="#000" stroke="#000" stroke-width="0.12">Wilcoxon (CLR)</text>
<line x1="579.3" y1="461.17" x2="579.3" y2="464.07" stroke="#333" stroke-width="1.07"/>
<line x1="579.3" y1="472.67" x2="579.3" y2="475.57" stroke="#333" stroke-width="1.07"/>
<rect x="572.82" y="464.05" width="12.96" height="8.64" fill="#BEBEBE" stroke="#333" stroke-width="1.07"/>
<line x1="572.82" y1="468.37" x2="585.78" y2="468.37" stroke="#333" stroke-width="1.07"/>
<circle cx="579.3" cy="468.37" r="1.4" fill="#BEBEBE" stroke="#000" stroke-width="0.7"/>
<text x="593.3" y="471.57" font-size="8.8" fill="#000" stroke="#000" stroke-width="0.12">Wilcoxon (rare)</text>
</svg>
</body></html>
